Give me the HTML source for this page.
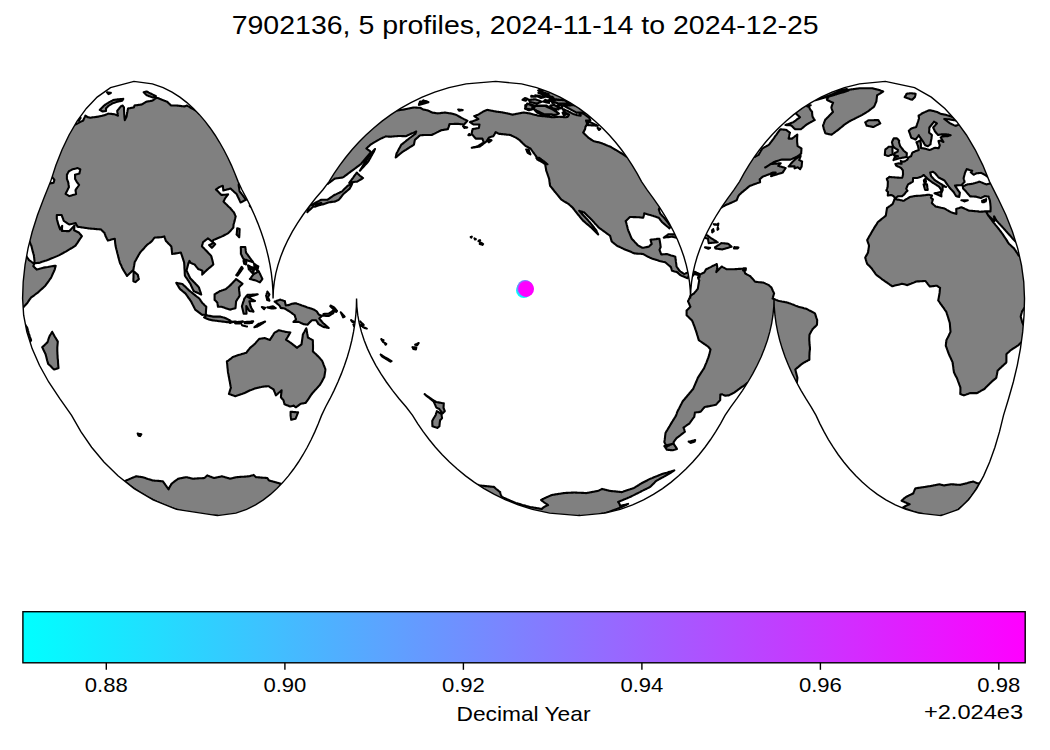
<!DOCTYPE html>
<html><head><meta charset="utf-8"><style>
html,body{margin:0;padding:0;background:#fff;width:1050px;height:750px;overflow:hidden}
svg{display:block}
text{font-family:"Liberation Sans",sans-serif;fill:#000}
</style></head><body>
<svg width="1050" height="750" viewBox="0 0 1050 750">
<defs><clipPath id="mc"><path d="M217.41 515.59L176.49 509.37L153.08 499.87L134.13 488.55L117.96 475.84L103.91 462.01L91.61 447.23L80.88 431.65L71.58 415.38L59.80 398.69L48.69 381.99L39.43 365.29L32.13 348.60L26.85 331.90L23.66 315.20L22.59 298.50L23.20 281.80L25.02 265.10L28.04 248.40L32.22 231.71L37.51 215.01L43.85 198.31L50.58 181.62L55.90 165.35L62.03 149.77L69.06 134.99L77.09 121.16L86.33 108.45L97.16 97.13L110.54 87.63L133.92 81.41L133.92 81.41L152.39 83.88L163.14 87.63L172.04 92.11L179.87 97.13L186.93 102.60L193.40 108.45L199.39 114.65L204.95 121.16L210.14 127.95L214.99 134.99L219.53 142.27L223.77 149.77L227.74 157.47L231.44 165.35L234.88 173.41L238.08 181.62L242.06 189.96L246.49 198.31L250.62 206.66L254.43 215.01L257.90 223.36L261.04 231.71L263.83 240.05L266.26 248.40L268.33 256.75L270.03 265.10L271.36 273.45L272.31 281.80L272.88 290.15L273.07 298.50L273.07 298.50L273.38 290.15L274.29 281.80L275.81 273.45L277.94 265.10L280.66 256.75L283.97 248.40L287.86 240.05L292.32 231.71L297.34 223.36L302.90 215.01L308.99 206.66L315.59 198.31L322.69 189.96L329.05 181.62L334.17 173.41L339.68 165.35L345.61 157.47L351.95 149.77L358.74 142.27L366.00 134.99L373.76 127.95L382.06 121.16L390.96 114.65L400.54 108.45L410.90 102.60L422.20 97.13L434.72 92.11L448.96 87.63L466.16 83.88L495.72 81.41L495.72 81.41L521.59 83.88L536.63 87.63L549.10 92.11L560.05 97.13L569.94 102.60L579.00 108.45L587.38 114.65L595.17 121.16L602.43 127.95L609.22 134.99L615.57 142.27L621.52 149.77L627.07 157.47L632.25 165.35L637.07 173.41L641.55 181.62L647.12 189.96L653.33 198.31L659.11 206.66L664.44 215.01L669.30 223.36L673.69 231.71L677.60 240.05L681.00 248.40L683.90 256.75L686.28 265.10L688.14 273.45L689.47 281.80L690.27 290.15L690.54 298.50L690.54 298.50L690.80 290.15L691.60 281.80L692.93 273.45L694.79 265.10L697.17 256.75L700.07 248.40L703.48 240.05L707.38 231.71L711.77 223.36L716.64 215.01L721.97 206.66L727.74 198.31L733.95 189.96L739.52 181.62L744.00 173.41L748.82 165.35L754.00 157.47L759.56 149.77L765.50 142.27L771.85 134.99L778.64 127.95L785.91 121.16L793.69 114.65L802.07 108.45L811.13 102.60L821.02 97.13L831.98 92.11L844.44 87.63L859.49 83.88L885.35 81.41L885.35 81.41L914.58 87.63L931.30 97.13L944.84 108.45L956.39 121.16L966.43 134.99L975.21 149.77L982.87 165.35L989.52 181.62L997.93 198.31L1005.87 215.01L1012.48 231.71L1017.70 248.40L1021.47 265.10L1023.75 281.80L1024.51 298.50L1024.05 315.20L1022.68 331.90L1020.42 348.60L1017.29 365.29L1013.32 381.99L1008.56 398.69L1003.51 415.38L999.53 431.65L994.93 447.23L989.66 462.01L983.64 475.84L976.71 488.55L968.59 499.87L958.55 509.37L941.02 515.59L941.02 515.59L918.84 513.12L905.94 509.37L895.26 504.89L885.87 499.87L877.40 494.40L869.63 488.55L862.45 482.35L855.77 475.84L849.55 469.05L843.73 462.01L838.28 454.73L833.19 447.23L828.43 439.53L823.99 431.65L819.85 423.59L816.02 415.38L811.24 407.04L805.92 398.69L800.97 390.34L796.40 381.99L792.23 373.64L788.47 365.29L785.12 356.95L782.20 348.60L779.72 340.25L777.68 331.90L776.09 323.55L774.94 315.20L774.26 306.85L774.03 298.50L774.03 298.50L773.76 306.85L772.96 315.20L771.63 323.55L769.77 331.90L767.39 340.25L764.49 348.60L761.09 356.95L757.19 365.29L752.80 373.64L747.93 381.99L742.60 390.34L736.82 398.69L730.61 407.04L725.04 415.38L720.57 423.59L715.74 431.65L710.56 439.53L705.01 447.23L699.07 454.73L692.72 462.01L685.93 469.05L678.66 475.84L670.87 482.35L662.49 488.55L653.43 494.40L643.54 499.87L632.59 504.89L620.13 509.37L605.08 513.12L579.21 515.59L579.21 515.59L549.65 513.12L532.45 509.37L518.21 504.89L505.69 499.87L494.39 494.40L484.03 488.55L474.46 482.35L465.56 475.84L457.25 469.05L449.49 462.01L442.23 454.73L435.44 447.23L429.10 439.53L423.18 431.65L417.66 423.59L412.55 415.38L406.18 407.04L399.09 398.69L392.48 390.34L386.39 381.99L380.83 373.64L375.81 365.29L371.35 356.95L367.46 348.60L364.15 340.25L361.43 331.90L359.31 323.55L357.78 315.20L356.87 306.85L356.56 298.50L356.56 298.50L356.37 306.85L355.80 315.20L354.85 323.55L353.52 331.90L351.82 340.25L349.75 348.60L347.32 356.95L344.53 365.29L341.40 373.64L337.92 381.99L334.11 390.34L329.99 398.69L325.55 407.04L321.57 415.38L318.38 423.59L314.93 431.65L311.23 439.53L307.26 447.23L303.02 454.73L298.48 462.01L293.63 469.05L288.44 475.84L282.88 482.35L276.90 488.55L270.42 494.40L263.36 499.87L255.54 504.89L246.63 509.37L235.89 513.12L217.41 515.59L217.41 515.59Z"/></clipPath><linearGradient id="cg" x1="0" x2="1" y1="0" y2="0"><stop offset="0" stop-color="#00ffff"/><stop offset="1" stop-color="#ff00ff"/></linearGradient></defs>
<rect width="1050" height="750" fill="#fff"/>
<g clip-path="url(#mc)">
<path fill="#808080" stroke="none" fill-rule="nonzero" d="M29.0 260.1L30.1 260.8L31.1 261.5L32.1 262.3L33.2 263.0L34.2 263.7L33.8 265.0L33.3 266.2L34.2 267.1L35.0 267.9L35.9 268.7L36.7 269.6L37.9 269.2L39.1 268.9L40.3 268.6L41.4 268.3L42.6 267.9L43.8 267.6L45.1 267.4L46.4 267.2L47.8 267.0L49.1 266.7L50.4 266.5L51.8 266.3L53.1 266.1L54.4 265.9L55.7 265.7L55.4 266.9L55.1 268.1L54.8 269.3L54.3 270.5L53.8 271.7L53.2 272.9L52.7 274.0L52.2 275.2L51.7 276.4L51.1 277.6L50.4 278.7L49.6 279.7L48.9 280.8L48.1 281.8L47.4 282.8L46.6 283.9L45.9 284.9L45.1 286.0L44.2 286.8L43.2 287.7L42.2 288.6L41.2 289.5L40.3 290.3L39.3 291.2L38.4 292.1L37.4 292.9L36.3 293.7L35.2 294.5L34.2 295.3L33.1 296.1L32.0 296.9L30.9 297.7L30.4 298.5L29.1 298.5L27.8 298.5L26.5 298.5L25.2 298.5L23.9 298.5L22.6 298.5L22.6 297.1L22.6 295.8L22.6 294.4L22.7 293.1L22.7 291.7L22.7 290.3L22.8 289.0L22.9 287.6L22.9 286.3L23.0 284.9L23.1 283.5L23.2 282.2L23.3 280.8L23.4 279.4L23.5 278.1L23.6 276.7L23.8 275.4L23.9 274.0L24.1 272.6L24.2 271.3L24.4 269.9L24.5 268.6L24.7 267.2L24.9 265.8L25.1 264.5L25.3 263.1L25.5 261.8L25.8 260.4L26.0 259.0L26.2 257.7L26.5 256.3L27.1 257.3L27.7 258.2L28.4 259.1L29.0 260.1ZM903.6 200.8L904.5 200.3L905.4 199.7L906.3 199.1L907.3 198.6L908.2 198.0L909.1 197.5L910.0 196.9L910.8 196.7L911.7 196.6L912.6 196.4L913.5 196.2L914.3 196.1L915.3 196.0L916.3 195.9L917.2 195.9L918.2 195.8L919.1 195.7L920.1 195.7L921.1 195.6L922.0 195.5L923.1 195.4L924.1 195.3L925.1 195.2L926.1 195.0L927.1 194.9L928.2 194.8L929.2 194.7L930.1 195.0L931.1 195.2L932.0 195.5L931.7 196.3L931.3 197.0L930.9 197.8L931.9 198.6L932.9 199.4L932.6 200.3L932.3 201.2L932.1 202.1L931.8 203.0L932.7 203.9L933.6 204.7L934.6 205.5L935.5 206.4L936.6 206.7L937.8 206.9L938.9 207.2L940.0 207.5L941.2 207.8L942.3 208.0L943.5 208.3L944.6 208.6L945.7 209.2L946.7 209.8L947.8 210.4L948.8 211.0L949.9 211.6L951.0 212.2L952.0 212.6L953.1 212.9L954.2 213.2L955.3 213.6L956.4 213.9L956.4 212.6L956.3 211.4L956.3 210.1L956.2 208.9L957.3 208.6L958.3 208.2L959.3 207.9L960.4 207.5L961.4 207.2L962.6 207.8L963.8 208.3L965.1 208.9L966.3 209.4L967.5 210.0L968.8 210.6L969.9 210.7L971.1 210.8L972.2 210.9L973.4 211.0L974.6 211.1L975.7 211.2L976.9 211.3L978.0 211.4L979.2 211.6L980.3 211.7L981.5 211.6L982.6 211.6L983.7 211.5L984.8 211.4L985.9 211.4L986.7 212.7L987.4 214.0L988.1 215.3L989.1 216.5L990.0 217.8L991.0 219.0L991.9 220.3L992.8 221.5L993.8 222.8L994.7 223.9L995.6 225.1L996.5 226.2L997.5 227.4L998.4 228.5L999.3 229.7L1000.2 230.8L1001.1 232.0L1001.9 233.2L1002.8 234.4L1003.6 235.6L1004.4 236.8L1005.2 238.0L1006.0 239.2L1006.8 240.4L1007.5 241.6L1008.3 242.8L1009.1 244.0L1010.1 244.8L1011.1 245.7L1012.0 246.6L1013.0 247.5L1014.0 248.4L1014.8 249.6L1015.6 250.7L1016.3 251.9L1017.1 253.0L1017.9 254.2L1018.6 255.4L1019.7 256.3L1020.0 257.7L1020.3 259.0L1020.6 260.4L1020.8 261.8L1021.1 263.1L1021.4 264.5L1021.6 265.8L1021.8 267.2L1022.1 268.6L1022.3 269.9L1022.5 271.3L1022.7 272.6L1022.9 274.0L1023.0 275.4L1023.2 276.7L1023.4 278.1L1023.5 279.4L1023.7 280.8L1023.8 282.2L1023.9 283.5L1024.0 284.9L1024.1 286.3L1024.2 287.6L1024.3 289.0L1024.3 290.3L1024.4 291.7L1024.4 293.1L1024.5 294.4L1024.5 295.8L1024.5 297.1L1024.5 298.5L1023.1 298.5L1021.7 298.5L1020.4 298.5L1019.0 298.5L1017.6 298.5L1016.2 298.5L1014.8 298.5L1013.4 298.5L1012.0 298.5L1010.7 298.5L1009.3 298.5L1007.9 298.5L1006.5 298.5L1005.1 298.5L1003.7 298.5L1002.3 298.5L1001.0 298.5L999.6 298.5L998.2 298.5L996.8 298.5L995.4 298.5L994.0 298.5L992.6 298.5L991.3 298.5L989.9 298.5L988.5 298.5L987.1 298.5L985.7 298.5L984.3 298.5L982.9 298.5L981.6 298.5L980.2 298.5L978.8 298.5L977.4 298.5L976.0 298.5L974.6 298.5L973.2 298.5L971.9 298.5L970.5 298.5L969.1 298.5L967.7 298.5L966.3 298.5L964.9 298.5L963.5 298.5L962.2 298.5L960.8 298.5L959.4 298.5L958.0 298.5L956.6 298.5L955.2 298.5L953.8 298.5L952.5 298.5L951.1 298.5L949.7 298.5L948.3 298.5L946.9 298.5L945.5 298.5L944.1 298.5L942.8 298.5L941.4 298.5L940.0 298.5L938.6 298.5L938.8 297.4L939.0 296.3L939.2 295.2L939.4 294.0L939.6 292.9L939.7 291.7L939.8 290.4L939.9 289.2L940.1 287.9L938.9 287.2L937.8 286.4L936.7 285.7L935.5 285.8L934.4 286.0L933.2 286.1L932.1 286.3L930.9 286.4L929.8 286.5L928.9 285.4L928.0 284.3L927.2 283.2L926.3 282.1L925.5 281.0L924.2 281.0L922.9 281.1L921.6 281.2L920.3 281.3L919.0 281.4L917.7 281.4L916.3 281.5L915.1 282.0L913.8 282.6L912.6 283.1L911.3 283.6L910.1 284.1L908.8 284.6L907.5 285.1L906.4 284.9L905.3 284.6L904.2 284.3L903.1 284.0L902.0 283.7L900.8 284.1L899.6 284.4L898.4 284.7L897.1 285.0L895.9 285.3L894.7 285.6L893.5 285.9L892.3 286.3L891.2 285.5L890.1 284.8L889.0 284.0L888.0 283.3L886.9 282.5L885.8 281.8L884.7 281.1L883.7 280.3L882.6 279.6L881.5 278.8L880.5 278.0L879.4 277.2L878.4 276.4L877.3 275.6L876.3 274.8L875.5 273.8L874.7 272.7L874.0 271.6L873.2 270.6L872.4 269.5L871.7 268.4L870.8 267.5L869.9 266.5L869.0 265.6L868.0 264.7L867.1 263.7L866.7 262.5L866.3 261.3L865.9 260.0L865.6 258.8L865.2 257.6L865.7 256.6L866.3 255.6L866.9 254.6L867.4 253.6L868.0 252.6L868.2 251.4L868.4 250.3L868.5 249.1L868.7 247.9L868.9 246.8L869.0 245.6L868.7 244.5L868.3 243.4L867.9 242.3L867.5 241.2L867.2 240.1L867.8 239.0L868.4 237.9L869.0 236.8L869.6 235.7L870.3 234.6L870.9 233.6L871.5 232.5L872.1 231.4L872.7 230.3L873.4 229.3L874.0 228.2L874.7 227.2L875.3 226.1L876.0 225.1L876.7 224.1L877.3 223.0L877.9 222.0L879.0 221.2L880.0 220.4L880.9 219.6L881.9 218.8L882.9 218.0L883.9 217.2L884.9 216.4L885.8 215.6L886.0 214.3L886.2 213.1L886.4 211.8L886.6 210.6L886.8 209.3L887.0 208.0L888.0 207.4L888.9 206.7L889.9 206.0L890.8 205.3L891.8 204.6L892.7 203.9L893.1 202.9L893.5 201.9L893.9 200.9L894.2 199.9L894.6 198.9L895.7 199.1L896.8 199.4L898.0 199.6L899.1 199.8L900.2 200.1L901.3 200.3L902.4 200.6L903.6 200.8ZM27.1 303.2L26.3 304.1L25.5 304.9L24.7 305.7L24.0 306.6L23.2 307.4L22.9 307.9L22.8 306.5L22.8 305.2L22.7 303.9L22.7 302.5L22.6 301.2L22.6 299.8L22.6 298.5L23.9 298.5L25.2 298.5L26.5 298.5L27.8 298.5L29.1 298.5L30.4 298.5L29.7 299.4L29.0 300.4L28.4 301.3L27.8 302.3L27.1 303.2ZM27.2 327.7L27.6 329.0L27.9 330.2L28.3 331.5L28.6 332.7L29.0 334.0L29.4 335.2L29.8 336.5L30.2 337.7L30.7 339.0L31.1 340.2L30.7 340.9L30.3 341.6L29.9 342.3L29.5 341.0L29.0 339.6L28.6 338.3L28.2 337.0L27.8 335.6L27.5 334.3L27.1 333.0L26.8 331.6L26.4 330.3L26.1 328.9L25.8 327.6L25.5 326.3L25.3 324.9L25.9 325.9L26.6 326.8L27.2 327.7ZM1022.0 311.6L1021.7 312.8L1021.3 314.1L1021.0 315.3L1020.7 316.6L1021.0 317.7L1021.3 318.8L1021.6 319.9L1021.9 321.0L1022.2 322.2L1022.6 323.1L1023.0 324.0L1023.4 324.9L1023.2 326.3L1023.1 327.6L1023.0 328.9L1022.9 330.3L1022.7 331.6L1022.6 333.0L1022.4 334.3L1022.3 335.6L1022.1 337.0L1021.9 338.3L1021.7 339.6L1021.6 341.0L1021.4 342.3L1020.3 343.3L1019.3 344.3L1018.3 345.3L1017.2 345.9L1016.2 346.6L1015.1 347.3L1014.1 348.0L1013.0 348.6L1012.0 349.3L1011.0 350.0L1010.0 350.8L1009.1 351.7L1008.2 352.5L1007.3 353.3L1006.4 354.2L1006.4 355.4L1006.4 356.5L1006.4 357.7L1006.4 358.9L1006.4 360.1L1006.4 361.3L1006.3 362.5L1005.4 363.4L1004.4 364.3L1003.4 365.2L1002.4 366.1L1001.5 367.0L1000.5 367.9L999.5 368.8L998.6 369.7L997.6 370.6L997.4 371.8L997.2 373.0L997.0 374.2L996.7 375.4L996.5 376.6L996.3 377.8L995.4 378.6L994.4 379.4L993.5 380.2L992.6 380.9L991.7 381.7L990.8 382.6L989.8 383.5L988.9 384.4L988.0 385.3L987.1 386.2L986.2 387.1L985.3 388.0L984.4 389.0L983.4 389.5L982.3 390.1L981.2 390.7L980.2 391.3L979.1 391.9L978.1 392.5L977.0 393.1L976.0 393.1L975.0 393.1L973.9 393.1L972.9 393.1L971.9 393.1L970.9 393.1L969.9 393.1L968.9 393.5L967.8 393.9L966.8 394.2L965.9 394.6L964.9 395.0L963.9 395.4L963.0 395.0L962.1 394.7L961.2 394.3L960.3 394.0L960.3 392.7L960.4 391.4L960.4 390.1L960.4 388.8L960.4 387.6L960.0 386.4L959.5 385.2L959.1 384.0L958.7 382.8L958.2 381.6L957.8 380.5L957.4 379.3L956.9 378.1L956.3 377.0L955.7 375.9L955.1 374.8L954.6 373.6L954.0 372.5L953.8 371.2L953.6 370.0L953.4 368.7L953.3 367.4L953.1 366.1L952.9 364.8L952.7 363.5L952.6 362.2L952.0 361.1L951.5 359.9L951.0 358.8L950.5 357.6L949.9 356.5L949.4 355.3L948.9 354.2L948.4 353.0L948.0 351.8L947.6 350.6L947.1 349.4L946.7 348.2L946.3 347.0L945.8 345.8L945.9 344.7L946.0 343.6L946.2 342.5L946.3 341.4L946.4 340.2L947.0 339.1L947.6 337.9L948.2 336.7L948.8 335.5L949.3 334.3L949.9 333.1L950.5 331.9L950.4 330.6L950.3 329.4L950.2 328.1L950.1 326.8L950.0 325.5L949.9 324.3L949.8 323.0L949.4 321.7L949.0 320.4L948.6 319.1L948.2 317.8L947.8 316.5L947.4 315.2L947.0 314.1L946.7 313.0L946.3 311.9L945.6 310.8L944.8 309.8L944.1 308.7L943.4 307.7L942.6 306.7L941.9 305.6L941.2 304.6L940.4 303.6L939.7 302.5L939.0 301.5L938.2 300.4L938.4 299.5L938.6 298.5L940.0 298.5L941.4 298.5L942.8 298.5L944.1 298.5L945.5 298.5L946.9 298.5L948.3 298.5L949.7 298.5L951.1 298.5L952.5 298.5L953.8 298.5L955.2 298.5L956.6 298.5L958.0 298.5L959.4 298.5L960.8 298.5L962.2 298.5L963.5 298.5L964.9 298.5L966.3 298.5L967.7 298.5L969.1 298.5L970.5 298.5L971.9 298.5L973.2 298.5L974.6 298.5L976.0 298.5L977.4 298.5L978.8 298.5L980.2 298.5L981.6 298.5L982.9 298.5L984.3 298.5L985.7 298.5L987.1 298.5L988.5 298.5L989.9 298.5L991.3 298.5L992.6 298.5L994.0 298.5L995.4 298.5L996.8 298.5L998.2 298.5L999.6 298.5L1001.0 298.5L1002.3 298.5L1003.7 298.5L1005.1 298.5L1006.5 298.5L1007.9 298.5L1009.3 298.5L1010.7 298.5L1012.0 298.5L1013.4 298.5L1014.8 298.5L1016.2 298.5L1017.6 298.5L1019.0 298.5L1020.4 298.5L1021.7 298.5L1023.1 298.5L1024.5 298.5L1024.5 299.8L1024.5 301.2L1024.5 302.5L1024.5 303.9L1024.4 305.2L1024.4 306.5L1024.4 307.9L1023.8 308.8L1023.2 309.7L1022.6 310.7L1022.0 311.6ZM80.6 117.9L80.0 118.8L79.4 119.8L78.8 120.7L78.4 120.6L78.0 120.5L77.5 120.5L78.3 119.4L79.0 118.3L79.7 117.2L80.0 117.4L80.3 117.6L80.6 117.9ZM75.9 124.3L76.8 123.8L77.7 123.3L78.6 122.9L79.5 122.4L80.5 121.9L81.4 121.4L82.3 121.0L83.2 120.5L83.6 119.5L84.0 118.6L84.5 117.6L85.0 116.7L85.4 115.7L85.8 116.0L86.2 116.2L86.6 116.5L87.0 116.7L87.4 117.0L87.8 117.2L88.3 117.3L88.8 117.4L89.3 117.5L89.8 117.6L90.3 117.7L91.0 117.6L91.6 117.5L92.3 117.4L93.0 117.3L93.6 117.3L94.3 117.2L94.9 117.1L95.6 117.0L96.2 116.9L96.9 116.9L97.5 116.8L98.2 116.6L98.9 116.5L99.6 116.3L100.3 116.2L100.9 116.0L101.6 115.9L102.3 115.7L102.9 115.5L103.6 115.4L104.3 115.2L104.9 115.1L105.6 114.8L106.2 114.5L106.9 114.2L107.5 113.9L108.1 113.6L108.7 113.7L109.2 113.7L109.8 113.8L110.4 113.8L111.0 113.9L111.5 113.9L112.1 114.0L112.7 114.1L113.2 114.1L113.8 114.2L114.4 114.2L114.9 114.4L115.4 114.7L115.9 114.9L116.4 115.1L116.9 115.3L117.5 115.5L118.0 115.7L117.8 114.9L117.7 114.1L117.5 113.3L117.4 112.5L117.3 111.7L117.2 110.9L117.8 110.1L118.4 109.4L119.0 108.7L119.6 107.9L120.2 107.2L120.7 106.5L121.2 106.2L121.7 106.0L122.2 105.7L122.7 105.5L123.0 106.0L123.3 106.5L123.6 107.0L124.0 107.5L124.0 108.3L124.0 109.2L124.0 110.1L124.1 111.1L124.1 112.0L124.2 112.9L124.2 113.8L124.3 114.8L124.4 115.7L124.4 116.6L124.5 117.4L124.6 118.3L124.7 119.2L124.8 120.1L125.2 119.2L125.7 118.4L126.1 117.6L126.5 116.8L126.7 115.8L126.8 114.9L127.0 113.9L127.2 113.0L127.3 112.1L127.5 111.2L127.6 110.3L127.8 109.4L128.0 108.5L128.5 108.4L129.1 108.3L129.6 108.2L130.2 108.1L130.7 108.0L131.2 107.9L131.8 107.8L132.3 107.7L132.8 107.6L133.4 107.5L133.9 107.5L134.1 106.8L134.3 106.1L134.5 105.5L135.0 105.4L135.5 105.3L136.0 105.3L136.6 105.2L137.1 105.1L137.6 105.1L138.1 105.0L138.6 104.9L139.1 104.9L139.6 104.8L140.1 104.7L140.6 104.6L141.1 104.6L141.6 104.5L142.1 104.2L142.6 104.0L143.0 103.7L143.4 103.5L143.9 103.2L144.3 102.9L144.7 102.7L145.1 102.4L145.6 102.2L146.0 101.9L146.4 101.7L146.8 101.6L147.3 101.5L147.7 101.4L148.2 101.4L148.6 101.3L149.1 101.2L149.5 101.2L150.0 101.1L150.4 101.0L150.9 100.9L151.3 100.9L151.7 100.8L152.2 100.7L152.5 100.5L152.9 100.3L153.2 100.1L153.6 99.8L153.9 99.6L154.2 99.4L154.5 99.2L154.8 99.0L155.2 98.7L155.5 98.5L155.8 98.3L156.0 98.1L156.3 97.9L156.6 97.7L157.2 97.9L157.8 98.1L158.4 98.3L159.0 98.5L159.6 98.8L160.2 99.0L160.8 99.2L161.4 99.4L162.0 99.7L162.6 99.9L163.3 100.2L163.9 100.4L164.5 100.7L165.2 100.9L165.8 101.2L166.5 101.4L167.1 101.7L167.9 102.4L168.7 103.2L169.5 103.9L170.3 104.7L171.1 105.5L171.6 105.5L172.2 105.5L172.8 105.5L173.3 105.5L173.9 105.5L174.5 105.5L175.0 105.5L175.6 105.5L176.2 105.5L176.7 105.5L177.3 105.6L177.9 105.6L178.5 105.7L179.1 105.8L179.6 105.9L180.2 105.9L180.8 106.0L181.4 106.1L182.0 106.2L182.6 106.2L183.2 106.3L183.8 106.4L184.4 106.5L184.8 106.3L185.1 106.2L185.5 106.0L185.8 105.9L186.2 105.8L186.5 105.6L186.9 105.5L187.9 106.1L189.0 106.7L190.0 107.3L191.1 108.0L192.2 108.6L193.3 109.2L194.4 109.8L195.4 110.5L196.4 111.5L197.4 112.5L198.4 113.6L199.4 114.6L200.3 115.7L201.2 116.7L202.2 117.8L203.1 118.9L204.0 120.0L204.9 121.1L205.8 122.2L206.6 123.3L207.5 124.4L208.4 125.6L209.2 126.7L210.1 127.8L210.9 129.0L211.7 130.1L212.5 131.3L213.3 132.5L214.1 133.6L214.9 134.8L215.6 136.0L216.4 137.2L217.2 138.4L217.9 139.6L218.7 140.8L219.4 142.0L220.1 143.3L220.8 144.5L221.5 145.7L222.2 147.0L222.9 148.2L223.6 149.5L224.3 150.7L225.0 152.0L225.6 153.3L226.3 154.6L226.9 155.8L227.6 157.1L228.2 158.4L228.8 159.7L229.4 161.0L230.1 162.3L230.7 163.6L231.3 164.9L231.8 166.3L232.4 167.6L233.0 168.9L233.6 170.3L234.1 171.6L234.7 172.9L235.2 174.3L235.8 175.6L236.3 177.0L236.8 178.4L237.4 179.7L237.9 181.1L238.4 182.5L238.9 183.8L238.7 184.4L238.7 185.6L238.9 186.7L239.1 187.9L239.3 189.0L239.4 190.2L239.6 191.4L240.5 192.5L241.4 193.7L242.4 194.9L243.3 196.1L244.2 197.3L245.1 198.5L246.1 199.7L245.3 200.1L244.5 200.5L243.7 200.9L243.0 201.3L242.2 201.7L241.4 202.1L240.6 202.5L239.9 201.1L239.3 199.7L238.6 198.3L237.9 196.9L237.3 195.5L236.6 194.1L235.4 193.0L234.2 191.9L233.0 190.8L231.8 189.7L230.6 188.6L229.7 188.8L228.8 189.1L227.8 189.3L226.9 189.5L226.0 189.8L225.1 190.0L224.2 190.3L223.3 190.5L223.2 189.3L223.1 188.2L222.9 187.0L222.8 185.8L222.1 186.1L221.4 186.3L220.6 186.6L219.9 186.9L219.2 187.2L218.5 187.6L217.9 188.1L217.2 188.5L216.5 189.0L215.9 189.4L217.0 190.5L218.1 191.6L219.2 192.7L220.4 193.9L221.5 195.0L222.4 194.9L223.4 194.8L224.3 194.7L225.3 194.7L226.2 194.6L227.2 194.5L228.1 194.4L227.6 195.1L227.1 195.7L226.6 196.4L226.1 197.0L225.6 197.7L225.1 198.3L224.7 199.1L224.3 200.0L223.9 200.8L223.5 201.6L224.6 202.7L225.7 203.8L226.8 204.8L227.9 205.9L229.0 207.0L230.2 208.0L231.1 209.2L232.1 210.3L233.0 211.4L234.0 212.5L234.5 213.8L235.1 215.1L235.7 216.4L235.4 217.4L235.2 218.5L234.9 219.5L234.7 220.6L234.4 221.6L234.1 222.7L233.8 223.7L233.5 224.7L233.5 225.7L233.4 226.6L233.4 227.5L232.7 228.3L232.0 229.1L231.3 229.9L230.6 230.7L229.8 231.5L229.1 232.3L228.3 233.1L227.4 233.6L226.5 234.1L225.6 234.5L224.7 235.0L223.8 235.5L222.9 236.0L222.0 236.4L220.9 236.9L219.8 237.3L218.7 237.8L217.6 238.2L216.5 238.7L215.4 239.2L214.3 239.6L213.2 240.1L213.0 241.0L212.7 242.0L211.8 241.3L210.8 240.6L209.8 239.8L208.9 239.1L207.9 238.4L207.0 239.1L206.0 239.8L205.0 240.6L204.1 241.3L203.1 242.0L202.8 243.0L202.5 244.1L202.2 245.1L201.9 246.2L202.8 247.2L203.8 248.1L204.7 249.1L205.6 250.1L206.6 251.0L207.5 252.0L208.4 253.0L209.4 254.0L210.3 254.9L211.2 255.9L211.5 257.2L211.9 258.4L212.2 259.6L212.5 260.8L212.8 262.1L213.1 263.3L213.3 264.5L212.3 265.4L211.3 266.2L210.3 267.1L209.3 267.9L208.3 268.7L207.3 269.6L206.4 270.4L205.6 271.2L204.7 272.1L203.9 272.9L203.0 273.7L202.2 274.6L202.3 273.3L202.3 272.0L202.4 270.7L201.4 270.3L200.3 269.8L199.3 269.4L198.2 269.0L197.3 267.9L196.4 266.8L195.5 265.7L194.6 264.5L193.6 264.1L192.6 263.7L191.6 263.3L190.6 262.9L190.0 261.9L189.4 260.9L189.0 261.9L188.6 262.8L188.3 263.7L188.0 264.9L187.7 266.0L187.4 267.2L187.1 268.3L186.8 269.5L186.5 270.7L187.2 271.9L187.8 273.2L188.4 274.4L189.0 275.7L189.6 276.9L190.2 278.2L191.2 279.2L192.2 280.2L193.1 281.2L194.1 282.3L195.1 283.3L196.0 284.3L197.0 285.3L197.9 286.3L198.9 287.4L199.3 288.6L199.7 289.8L200.1 291.0L200.5 292.2L200.9 293.4L201.2 294.6L200.0 294.0L198.7 293.4L197.5 292.8L196.2 292.2L194.9 291.6L193.7 291.0L193.1 289.7L192.5 288.5L191.9 287.2L191.3 286.0L190.8 284.7L190.2 283.5L189.4 282.4L188.7 281.2L187.9 280.1L187.2 279.0L186.4 277.9L185.6 276.8L184.9 275.7L184.8 274.3L184.7 273.0L184.7 271.7L184.6 270.3L184.5 269.0L184.4 267.7L184.4 266.3L184.3 265.0L184.2 263.7L184.1 262.3L183.7 261.1L183.3 259.9L182.9 258.7L182.5 257.4L182.1 256.2L181.7 255.0L181.3 253.8L180.9 252.6L179.6 252.8L178.4 253.0L177.2 253.2L175.9 253.4L174.7 253.6L173.4 253.8L172.2 254.0L172.0 252.7L171.9 251.5L171.8 250.2L171.6 249.0L171.5 247.7L171.3 246.5L170.4 245.5L169.5 244.6L168.6 243.7L167.7 242.7L166.8 241.8L165.9 240.9L165.5 239.8L165.1 238.7L164.7 237.6L164.3 236.4L163.2 236.7L162.1 237.0L161.0 237.3L159.9 237.3L158.9 237.4L157.8 237.4L156.7 237.5L155.6 237.5L154.6 237.6L153.8 238.5L153.1 239.5L152.4 240.5L151.6 241.4L150.7 242.1L149.8 242.8L148.9 243.5L148.0 244.1L147.0 244.8L146.2 245.8L145.3 246.7L144.5 247.7L143.6 248.7L142.7 249.7L141.8 250.6L140.9 251.6L140.1 252.6L139.4 253.8L138.7 254.9L138.1 256.1L137.4 257.3L136.7 258.5L136.1 259.7L135.4 260.9L134.7 262.0L134.5 263.3L134.3 264.6L134.1 265.9L133.8 267.2L133.6 268.5L133.4 269.8L132.5 270.7L131.6 271.6L130.7 272.5L129.8 273.3L128.8 274.2L127.9 275.1L127.0 276.0L126.3 274.8L125.7 273.7L125.0 272.6L124.3 271.5L123.6 270.4L123.0 269.3L122.4 268.2L121.9 267.1L121.4 265.9L120.9 264.8L120.3 263.7L119.8 262.6L119.5 261.3L119.1 260.0L118.8 258.7L118.4 257.4L118.1 256.1L117.8 254.8L117.4 253.5L117.1 252.2L116.8 250.8L116.4 249.5L116.1 248.2L115.8 246.9L115.5 245.6L115.4 244.5L115.2 243.3L115.1 242.1L115.0 241.0L114.9 239.8L114.8 238.7L113.6 239.0L112.5 239.3L111.3 239.6L110.2 240.0L109.0 240.3L107.9 240.6L107.3 239.5L106.7 238.4L106.2 237.3L105.6 236.2L105.3 235.1L104.9 234.1L104.6 233.1L103.7 232.2L102.8 231.3L101.9 230.4L101.1 229.5L99.9 229.4L98.8 229.3L97.7 229.2L96.5 229.1L95.4 229.0L94.3 228.9L93.1 228.8L92.0 228.7L90.9 228.6L89.7 228.5L88.6 228.4L87.5 228.2L86.4 228.0L85.3 227.9L84.2 227.7L83.0 227.5L81.9 227.4L80.8 227.2L79.7 227.0L78.6 226.9L77.5 226.7L77.1 225.8L76.6 224.9L76.1 224.0L75.7 223.1L74.6 223.3L73.5 223.5L72.5 223.8L71.4 224.0L70.3 224.2L69.2 224.5L68.3 223.9L67.4 223.3L66.5 222.7L65.6 222.1L64.7 221.5L63.8 220.9L63.4 219.9L63.1 218.9L62.7 217.9L62.3 217.0L62.0 216.0L61.6 215.0L60.4 215.0L59.2 215.0L58.0 215.0L56.8 215.0L56.8 216.1L56.8 217.1L56.8 218.1L56.9 219.2L57.2 220.3L57.5 221.4L57.8 222.5L58.1 223.6L58.4 224.7L58.8 225.7L59.1 226.6L59.4 227.6L59.8 228.5L60.1 229.5L60.8 228.3L61.5 227.1L62.2 225.9L62.1 227.1L62.0 228.4L61.9 229.6L61.9 230.9L63.1 230.9L64.3 231.0L65.5 231.0L66.7 231.1L68.0 231.1L69.2 231.1L70.1 230.2L71.0 229.3L71.8 228.4L72.7 227.4L73.6 226.5L74.5 225.6L74.4 226.8L74.3 227.9L74.2 229.1L74.1 230.3L75.1 230.8L76.1 231.3L77.1 231.8L78.1 232.3L79.1 232.8L79.8 233.7L80.5 234.5L81.2 235.3L81.9 236.2L81.1 237.3L80.3 238.5L79.5 239.7L78.7 240.9L77.9 242.1L77.1 243.3L76.3 244.4L75.5 245.6L74.4 246.3L73.2 247.1L72.1 247.8L70.9 248.5L69.8 249.2L68.6 249.9L67.4 250.6L66.3 251.3L65.2 251.9L64.0 252.5L62.9 253.2L61.7 253.8L60.6 254.4L59.4 255.1L58.2 255.6L57.1 256.1L55.9 256.6L54.7 257.1L53.5 257.6L52.4 258.1L51.2 258.5L50.0 259.0L48.9 259.5L47.6 260.0L46.4 260.4L45.1 260.8L43.9 261.2L42.7 261.6L41.4 262.0L40.2 262.5L38.9 262.9L37.9 262.9L36.9 263.0L35.8 263.1L34.8 263.2L34.6 261.9L34.5 260.6L34.3 259.3L34.2 258.0L34.0 256.7L33.9 255.4L33.5 254.1L33.2 252.9L32.8 251.7L32.5 250.5L32.2 249.3L31.9 248.1L31.6 246.8L31.3 245.6L30.8 244.7L30.4 243.7L30.0 242.7L29.6 241.8L29.9 240.4L30.3 239.0L30.6 237.6L31.0 236.2L31.4 234.8L31.7 233.4L32.1 232.0L32.5 230.7L32.9 229.3L33.3 227.9L33.8 226.5L34.2 225.1L34.6 223.7L35.1 222.3L35.5 220.9L36.0 219.5L36.4 218.2L36.9 216.8L37.4 215.4L37.9 214.0L38.4 212.6L38.9 211.2L39.4 209.8L39.9 208.4L40.4 207.1L40.9 205.7L41.5 204.3L42.0 202.9L42.6 201.5L43.1 200.1L43.7 198.7L44.3 197.3L44.8 196.0L45.4 194.6L46.0 193.2L46.6 191.8L47.2 190.4L47.8 189.0L48.4 187.6L49.1 186.2L49.6 184.9L50.0 183.5L50.9 183.3L51.8 183.1L52.7 182.9L53.6 182.7L54.0 181.3L54.4 180.0L53.8 179.2L53.2 178.4L52.6 177.6L52.1 176.8L52.5 175.4L52.9 174.1L53.4 172.7L53.8 171.4L54.3 170.1L54.7 168.7L55.2 167.4L55.6 166.1L56.1 164.8L56.6 163.5L57.1 162.2L57.5 160.9L58.0 159.6L58.5 158.3L59.0 157.0L59.5 155.7L60.1 154.5L60.6 153.2L61.1 151.9L61.6 150.7L62.2 149.4L62.7 148.2L63.3 146.9L63.8 145.7L64.4 144.5L65.0 143.3L65.5 142.0L66.1 140.8L66.7 139.6L67.3 138.4L67.9 137.2L68.5 136.0L69.1 134.9L69.8 133.7L70.4 132.5L71.0 131.4L71.7 130.2L72.3 129.0L73.0 127.9L73.6 126.8L74.3 125.6L75.0 124.5L75.4 124.4L75.9 124.3ZM405.3 109.3L406.0 109.1L406.8 108.9L407.6 108.8L408.4 108.6L409.2 108.4L410.0 108.3L410.8 108.1L411.6 107.9L412.3 107.8L413.1 107.6L413.9 107.5L414.4 107.5L414.9 107.5L415.4 107.5L415.9 107.6L416.4 107.6L416.9 107.6L417.4 107.7L417.9 107.7L418.4 107.7L418.9 107.8L419.4 107.8L419.9 107.8L420.4 107.9L420.7 108.0L421.0 108.2L421.2 108.4L421.5 108.6L421.8 108.7L422.2 108.9L422.5 109.1L422.8 109.3L423.1 109.5L423.5 109.6L424.0 109.6L424.4 109.7L424.9 109.8L425.3 109.9L425.8 110.0L426.2 110.1L426.7 110.2L427.1 110.3L427.6 110.4L428.0 110.5L428.4 110.7L428.8 110.9L429.1 111.0L429.5 111.2L429.9 111.4L430.2 111.6L430.6 111.8L431.0 112.0L431.4 112.2L431.8 112.4L432.2 112.6L432.7 112.6L433.2 112.7L433.7 112.8L434.2 112.9L434.7 112.9L435.3 113.0L435.8 113.1L436.3 113.2L436.8 113.2L437.3 113.3L437.8 113.4L438.5 113.3L439.1 113.2L439.8 113.2L440.4 113.1L441.1 113.0L441.7 112.9L442.3 112.9L443.0 112.8L443.6 112.7L444.3 112.6L444.9 112.6L445.4 112.6L446.0 112.7L446.5 112.8L447.0 112.9L447.5 113.0L448.1 113.0L448.6 113.1L449.2 113.2L449.7 113.3L450.2 113.4L450.8 113.4L451.3 113.5L451.9 113.6L452.3 113.7L452.8 113.9L453.3 114.0L453.8 114.2L454.3 114.3L454.8 114.4L455.3 114.6L455.8 114.7L456.3 114.9L456.8 115.1L457.2 115.4L457.7 115.7L458.2 116.0L458.6 116.2L459.1 116.5L459.6 116.8L460.1 117.0L460.6 117.3L461.1 117.6L461.6 117.9L462.1 118.1L462.6 118.4L463.1 118.6L463.6 118.9L464.2 119.2L464.7 119.4L465.3 119.7L465.8 119.9L466.3 120.2L466.9 120.5L467.4 120.7L466.8 121.5L466.1 122.2L465.4 123.0L464.7 123.8L464.0 124.5L463.4 124.5L462.8 124.4L462.1 124.3L461.5 124.3L460.8 124.2L460.2 124.1L459.6 124.0L458.9 124.0L458.3 123.9L457.7 123.8L457.0 123.9L456.3 123.9L455.6 123.9L455.0 123.9L454.3 123.9L453.6 124.0L452.9 124.0L452.2 124.0L451.6 124.0L450.9 124.0L450.2 124.1L449.5 124.1L449.2 125.1L448.9 126.1L448.6 127.1L448.2 128.1L447.9 129.1L447.2 129.2L446.5 129.4L445.7 129.5L445.0 129.6L444.2 129.8L443.5 129.9L442.7 130.0L442.0 130.1L441.2 130.3L440.3 130.7L439.3 131.2L438.4 131.7L437.4 132.1L436.5 132.6L435.5 133.1L434.6 133.6L433.6 134.0L432.6 134.5L431.7 135.0L430.9 135.0L430.0 135.0L429.2 135.0L428.4 135.0L427.6 135.0L426.8 135.0L426.0 135.0L425.2 135.0L424.4 135.0L423.7 135.0L423.0 135.1L422.3 135.1L421.6 135.2L420.9 135.2L420.2 135.2L419.1 136.1L418.1 137.1L417.0 138.0L416.0 138.9L415.0 139.8L414.7 140.8L414.5 141.8L414.3 142.8L414.1 143.8L413.9 144.7L412.9 145.4L411.9 146.0L410.9 146.6L409.9 147.2L408.9 147.9L407.9 148.5L406.9 149.1L405.9 149.8L404.9 150.4L403.9 151.0L402.9 151.7L402.0 152.3L400.9 153.2L399.9 154.0L398.8 154.9L397.8 155.7L396.8 156.6L395.7 157.5L395.9 156.5L396.1 155.5L396.3 154.6L396.5 153.6L397.1 152.5L397.7 151.4L398.3 150.2L398.9 149.1L399.5 148.0L400.1 146.9L400.7 145.8L401.3 144.7L402.4 143.9L403.4 143.1L404.4 142.3L405.4 141.5L406.4 140.6L407.4 139.8L408.4 139.1L409.4 138.3L410.4 137.5L411.4 136.8L412.4 136.0L413.4 135.3L414.4 134.5L415.4 133.8L415.7 133.0L416.0 132.2L416.2 131.4L415.2 131.9L414.2 132.4L413.1 132.9L412.1 133.3L411.0 133.8L410.0 134.3L408.9 134.8L407.8 135.2L406.8 135.7L405.7 136.2L404.9 136.2L404.2 136.1L403.4 136.1L402.7 136.1L402.0 136.1L401.2 136.0L400.5 136.0L399.7 136.0L399.0 136.0L398.2 136.0L397.3 136.1L396.5 136.2L395.6 136.2L394.8 136.3L393.9 136.4L393.1 136.5L392.2 136.5L391.4 136.6L390.6 136.7L389.9 136.6L389.2 136.6L388.5 136.6L387.9 136.5L387.2 136.5L386.5 136.5L385.8 136.4L384.8 136.9L383.8 137.3L382.7 137.7L381.7 138.2L380.7 138.6L379.4 139.4L378.1 140.1L376.8 140.9L375.5 141.7L374.2 142.4L372.9 143.2L371.7 144.0L370.4 144.7L369.4 145.7L368.4 146.6L367.4 147.6L366.4 148.5L366.9 148.9L367.4 149.2L367.9 149.6L368.4 150.0L368.9 150.3L369.4 150.7L369.9 151.0L370.2 151.5L370.5 151.9L370.8 152.3L369.8 153.5L368.8 154.6L367.8 155.8L366.8 157.0L365.8 158.1L364.8 159.3L363.9 160.5L362.9 161.7L361.9 162.8L361.0 164.0L359.8 164.9L358.6 165.8L357.4 166.7L356.2 167.6L355.0 168.5L353.8 169.4L352.5 170.3L351.3 171.2L350.1 172.1L348.9 173.0L347.7 173.9L346.5 174.8L345.3 175.7L344.1 176.6L342.8 177.5L341.8 177.6L340.8 177.8L339.8 177.9L338.8 178.0L337.8 178.2L336.8 178.3L335.8 178.5L334.8 178.6L333.6 179.5L332.5 180.3L331.3 181.2L330.1 182.1L328.9 183.0L327.8 183.8L328.6 182.5L329.4 181.1L330.2 179.7L331.0 178.4L331.9 177.0L332.7 175.6L333.6 174.3L334.5 172.9L335.4 171.6L336.3 170.3L337.2 168.9L338.1 167.6L339.0 166.3L340.0 164.9L340.9 163.6L341.9 162.3L342.9 161.0L343.9 159.7L344.9 158.4L345.9 157.1L346.9 155.8L347.9 154.6L349.0 153.3L350.0 152.0L351.1 150.7L352.2 149.5L353.3 148.2L354.4 147.0L355.5 145.7L356.7 144.5L357.8 143.3L359.0 142.0L360.1 140.8L361.3 139.6L362.5 138.4L363.7 137.2L364.9 136.0L366.2 134.8L367.4 133.6L368.7 132.5L370.0 131.3L371.3 130.1L372.6 129.0L373.9 127.8L375.2 126.7L376.6 125.6L378.0 124.4L379.3 123.3L380.7 122.2L382.2 121.1L383.6 120.0L385.0 118.9L386.5 117.8L388.0 116.7L389.5 115.7L391.0 114.6L392.5 113.6L394.1 112.5L395.7 111.5L397.3 110.5L398.0 110.4L398.7 110.3L399.5 110.1L400.2 110.0L400.9 109.9L401.6 109.8L402.4 109.7L403.1 109.6L403.8 109.5L404.5 109.4L405.3 109.3ZM893.6 196.1L892.8 195.7L891.9 195.3L891.1 195.0L890.3 195.1L889.5 195.2L888.6 195.4L887.8 195.5L887.9 194.3L887.9 193.1L888.0 191.9L887.2 191.2L886.4 190.5L886.8 189.5L887.1 188.6L887.4 187.6L887.7 186.6L887.7 185.4L887.8 184.1L887.8 182.9L887.9 181.6L887.5 180.7L887.1 179.8L886.8 178.9L887.7 178.2L888.6 177.6L889.4 176.9L890.3 177.0L891.2 177.1L892.1 177.2L893.0 177.3L893.8 177.3L894.7 177.4L895.6 177.5L896.6 177.5L897.5 177.6L898.4 177.6L899.4 177.7L900.3 177.7L901.3 177.7L902.2 177.8L902.5 176.8L902.7 175.8L903.0 174.8L903.0 173.7L903.0 172.6L902.9 171.5L902.9 170.4L902.2 169.5L901.5 168.6L900.7 167.8L899.8 167.3L898.9 166.9L897.9 166.5L897.0 166.0L896.1 165.6L895.8 164.8L895.4 164.0L896.3 163.8L897.2 163.6L898.0 163.4L898.9 163.2L899.8 163.4L900.7 163.6L901.6 163.8L901.3 162.8L901.1 161.8L900.8 160.9L901.5 161.3L902.2 161.7L903.0 161.6L903.9 161.5L904.7 161.4L905.4 160.9L906.0 160.5L906.7 160.0L907.4 159.6L907.8 158.8L908.3 158.0L908.8 157.2L909.5 156.9L910.3 156.5L911.1 156.2L911.4 155.3L911.7 154.4L912.1 153.5L912.4 152.6L913.1 152.3L913.8 152.0L914.5 151.7L915.2 151.3L916.0 151.0L916.7 150.8L917.4 150.5L918.1 150.3L918.8 150.0L918.6 149.0L918.4 148.0L918.2 147.0L918.0 146.0L917.6 145.1L917.3 144.1L916.9 143.2L916.5 142.3L917.1 142.0L917.8 141.7L918.4 141.4L919.0 141.1L919.6 140.8L920.2 140.6L920.4 141.5L920.6 142.4L920.8 143.3L920.9 144.3L920.9 145.2L920.9 146.1L920.9 147.1L920.9 148.0L921.7 148.1L922.4 148.3L923.2 148.4L924.0 148.5L924.8 148.6L925.5 148.8L926.3 149.0L927.1 149.3L927.9 149.5L928.7 149.8L929.4 150.0L930.2 149.7L930.9 149.5L931.6 149.2L932.3 148.9L933.0 148.6L933.7 148.3L934.4 148.0L935.1 147.8L935.9 147.9L936.8 148.0L937.7 148.1L938.6 148.3L938.9 147.6L939.2 146.9L939.5 146.2L939.8 145.5L939.5 144.4L939.1 143.3L938.8 142.2L938.5 141.0L939.2 140.9L939.8 140.7L940.5 140.6L941.2 140.9L942.0 141.3L942.7 141.7L943.5 142.0L942.8 140.9L942.1 139.7L941.4 138.5L940.7 137.4L941.3 137.1L941.9 136.8L942.4 136.4L943.2 136.4L943.9 136.4L944.6 136.3L945.4 136.3L946.1 136.3L946.8 136.2L947.6 136.2L948.2 136.0L948.8 135.8L949.4 135.6L950.0 135.4L950.7 135.2L949.9 135.0L949.1 134.8L948.3 134.5L947.6 134.5L946.9 134.5L946.2 134.4L945.4 134.4L944.7 134.4L944.0 134.4L943.2 134.3L942.5 134.3L941.8 134.3L941.2 134.4L940.5 134.5L939.9 134.6L939.3 134.8L938.7 134.9L938.1 135.0L937.3 134.1L936.5 133.2L935.7 132.3L934.9 131.4L934.5 130.4L934.1 129.5L933.6 128.5L933.2 127.5L933.6 127.0L934.0 126.6L934.5 126.1L934.9 125.7L935.3 125.2L935.7 124.7L936.1 124.3L936.5 123.8L936.9 123.4L936.2 122.9L935.5 122.5L934.8 122.1L934.0 121.6L933.7 122.1L933.3 122.6L932.9 123.1L932.6 123.5L932.2 124.0L931.8 124.5L931.4 125.0L931.0 125.5L930.6 126.0L930.2 126.5L929.8 127.0L929.4 127.5L929.3 128.3L929.3 129.2L929.3 130.0L929.2 130.9L929.1 131.8L929.1 132.6L929.8 133.2L930.5 133.8L931.2 134.4L931.9 135.0L931.8 135.8L931.7 136.6L931.6 137.4L931.5 138.4L931.3 139.3L931.1 140.3L930.9 141.3L930.7 142.3L930.6 143.3L930.5 144.3L929.8 144.7L929.2 145.2L928.6 145.7L927.9 146.2L927.0 145.9L926.1 145.6L925.2 145.2L924.6 144.3L924.1 143.4L923.5 142.4L923.0 141.5L922.4 140.6L921.8 139.8L921.2 139.0L920.6 138.2L920.1 137.4L919.4 136.3L918.8 135.2L918.4 135.8L917.9 136.5L917.5 137.1L917.0 137.7L916.5 138.3L916.1 139.0L915.6 139.6L914.8 139.3L914.1 138.9L913.4 138.6L912.6 138.3L911.9 138.0L911.2 137.6L910.9 136.7L910.6 135.8L910.3 134.9L910.0 134.0L909.6 132.9L909.2 131.8L908.8 130.7L909.3 130.3L909.9 129.8L910.4 129.3L910.9 128.9L911.4 128.4L912.1 128.2L912.8 128.0L913.5 127.8L914.1 127.6L914.8 127.4L915.5 127.2L916.2 127.0L916.5 126.2L916.7 125.4L917.0 124.6L917.2 123.8L917.5 123.1L917.7 122.3L918.0 121.6L918.2 120.9L918.4 120.3L918.6 119.6L918.8 119.0L919.0 118.3L918.9 117.4L918.7 116.6L918.6 115.7L919.0 115.4L919.5 115.1L919.9 114.9L920.3 114.6L920.8 114.3L921.2 114.0L921.6 113.7L922.0 113.5L922.4 113.2L922.9 113.0L923.4 112.8L923.9 112.6L924.3 112.3L924.8 112.1L925.3 111.9L925.7 111.7L926.2 111.5L926.7 111.3L927.1 111.1L927.5 110.9L928.0 110.8L928.4 110.6L928.8 110.4L929.3 110.3L929.9 110.4L930.5 110.4L931.1 110.5L931.7 110.6L932.3 110.7L932.9 110.9L933.6 111.0L934.3 111.2L934.9 111.4L935.6 111.6L936.3 111.7L937.0 111.9L937.8 112.3L938.7 112.8L939.5 113.2L940.4 113.6L941.3 114.0L942.0 114.1L942.7 114.3L943.5 114.4L944.2 114.5L944.9 114.6L945.7 114.7L946.4 114.9L947.2 115.2L948.1 115.4L948.9 115.7L949.7 116.0L950.6 116.3L951.4 116.6L952.2 116.9L953.1 117.2L954.0 118.3L954.9 119.4L955.8 120.5L955.1 120.3L954.4 120.2L953.7 120.1L952.9 120.0L952.2 119.9L951.5 119.7L950.8 119.6L950.1 119.5L949.4 119.4L948.7 119.3L948.1 119.3L947.4 119.2L946.8 119.2L946.1 119.1L945.5 119.1L944.8 119.0L944.2 119.0L945.2 119.7L946.2 120.4L947.2 121.2L948.1 121.9L949.1 122.6L950.1 123.4L951.0 123.8L951.9 124.2L952.8 124.6L953.7 125.1L954.7 125.5L955.6 125.9L956.1 125.7L956.6 125.5L957.1 125.3L957.6 125.1L958.1 124.9L958.5 124.7L959.0 124.5L959.9 125.6L960.7 126.8L961.5 127.9L962.4 129.0L963.2 130.2L964.0 131.4L964.8 132.5L965.6 133.7L966.3 134.9L967.1 136.0L967.9 137.2L968.6 138.4L969.4 139.6L970.1 140.8L970.8 142.0L971.5 143.3L972.3 144.5L973.0 145.7L973.7 146.9L974.3 148.2L975.0 149.4L975.7 150.7L976.4 151.9L977.0 153.2L977.7 154.5L978.3 155.7L979.0 157.0L979.6 158.3L980.2 159.6L980.8 160.9L981.4 162.2L982.0 163.5L982.6 164.8L983.2 166.1L983.8 167.4L984.4 168.7L984.9 170.1L985.5 171.4L986.0 172.7L986.6 174.1L987.1 175.4L987.7 176.8L986.7 176.1L985.8 175.4L984.8 174.8L983.9 174.3L982.9 173.8L982.0 173.3L981.1 172.9L980.3 173.0L979.5 173.0L978.6 173.1L977.8 173.2L977.0 173.3L976.2 173.4L975.6 173.7L975.0 174.1L974.3 174.4L973.7 174.8L972.7 174.0L971.8 173.1L970.8 172.3L971.3 171.8L971.7 171.2L972.2 170.7L971.3 170.4L970.4 170.2L969.4 169.9L968.5 169.6L967.6 169.4L966.7 169.1L966.3 170.0L965.9 170.8L965.5 171.7L965.1 172.6L964.8 173.5L964.6 174.5L964.3 175.4L964.1 176.4L963.8 177.4L963.6 178.3L963.9 179.5L964.3 180.7L964.6 181.9L963.9 182.6L963.3 183.2L962.6 183.9L962.0 184.6L961.3 185.2L960.4 185.3L959.5 185.3L958.6 185.3L957.6 185.4L956.7 185.4L955.8 185.5L954.9 185.5L955.6 186.6L956.3 187.7L957.1 188.8L957.8 190.0L958.5 190.9L959.2 191.8L959.9 192.7L959.7 193.8L959.6 194.8L959.4 195.9L959.2 196.9L958.1 196.6L957.1 196.4L956.0 196.1L955.3 194.8L954.5 193.5L953.8 192.2L952.9 191.2L952.0 190.2L951.0 189.3L950.1 188.3L949.4 187.3L948.6 186.3L947.9 185.4L947.2 184.4L946.5 183.4L945.8 182.5L945.2 181.5L944.5 180.5L943.5 180.0L942.6 179.5L941.6 179.0L940.6 178.5L939.7 178.0L938.7 177.5L937.9 176.6L937.1 175.6L936.3 174.7L935.5 173.8L934.7 172.9L933.7 172.3L932.7 171.8L931.9 172.1L931.1 172.3L930.2 172.6L930.5 173.8L930.8 174.9L931.1 176.1L931.8 176.9L932.6 177.8L933.4 178.6L934.1 179.4L934.9 180.2L935.9 180.8L936.9 181.5L937.9 182.1L938.8 182.7L939.8 183.3L940.8 183.9L941.8 184.5L942.8 185.1L943.9 185.7L944.9 186.3L946.0 186.9L945.2 186.7L944.3 186.5L943.4 186.3L942.6 186.1L942.6 187.4L942.6 188.7L942.7 190.0L942.3 190.9L941.9 191.8L941.5 192.7L941.3 191.6L941.2 190.5L941.0 189.4L940.4 188.6L939.8 187.7L939.2 186.9L938.3 186.2L937.3 185.6L936.4 184.9L935.4 184.3L934.4 183.7L933.4 183.1L932.4 182.5L931.4 181.7L930.5 181.0L929.5 180.3L928.6 179.6L927.6 178.9L926.9 178.1L926.1 177.3L925.3 176.6L924.5 175.8L923.8 175.0L923.1 175.4L922.5 175.9L921.8 176.3L921.1 176.7L920.3 176.9L919.5 177.2L918.7 177.5L917.8 177.8L917.0 178.0L916.0 178.0L915.1 178.0L914.1 178.0L913.1 178.0L913.0 179.2L912.9 180.4L912.9 181.6L912.1 182.1L911.3 182.5L910.5 183.0L909.7 183.5L908.9 183.9L908.1 184.4L907.6 185.4L907.1 186.5L906.7 187.5L906.2 188.6L906.8 189.7L907.5 190.8L906.8 191.4L906.1 191.9L905.4 192.8L904.7 193.8L903.9 194.7L903.3 195.2L902.7 195.6L902.1 196.1L901.0 196.2L900.0 196.2L898.9 196.3L897.8 196.4L897.0 197.0L896.1 197.7L895.3 198.3L894.7 197.6L894.1 196.8L893.6 196.1ZM1012.8 238.7L1011.8 237.6L1010.8 236.4L1009.8 235.3L1008.8 234.2L1007.8 233.1L1006.8 232.0L1005.8 230.9L1004.8 229.7L1003.8 228.6L1002.7 227.4L1001.7 226.3L1000.6 225.1L999.6 224.0L998.5 222.9L997.5 221.7L996.4 220.6L995.9 219.5L995.3 218.5L994.7 217.4L994.1 216.4L994.2 217.6L994.3 218.8L994.4 219.9L994.4 221.1L993.4 220.2L992.3 219.2L991.3 218.2L990.2 217.2L989.2 216.3L988.1 215.3L987.4 214.0L986.7 212.7L985.9 211.4L987.1 211.4L988.2 211.4L989.3 211.4L990.5 211.4L990.5 210.3L990.6 209.3L990.6 208.3L990.6 207.2L990.5 206.0L990.4 204.8L990.3 203.5L990.1 202.3L990.0 201.1L989.7 200.0L989.3 198.9L988.9 197.8L988.6 196.6L987.6 196.5L986.7 196.4L985.7 196.2L984.7 196.1L984.0 196.5L983.2 196.9L982.5 197.3L981.7 197.6L980.9 198.0L979.9 197.8L978.9 197.5L977.9 197.2L976.9 196.9L975.8 196.6L974.9 196.6L973.9 196.5L973.0 196.5L972.0 196.5L971.1 196.4L970.1 196.4L969.1 195.2L968.1 194.0L967.1 192.8L966.1 191.6L965.1 190.6L964.1 189.6L963.1 188.6L963.0 187.5L962.8 186.3L963.6 186.0L964.3 185.7L965.1 185.4L965.8 185.0L966.6 184.7L967.4 184.4L968.2 184.3L969.1 184.2L969.9 184.1L970.8 184.0L971.6 183.9L972.5 183.8L973.3 183.6L974.2 183.3L975.1 183.0L975.9 182.7L976.8 182.5L977.6 182.2L978.5 181.9L979.3 181.6L980.3 182.0L981.3 182.4L982.3 182.8L983.3 183.2L984.3 183.6L985.3 184.0L986.3 184.4L987.1 184.2L987.9 184.0L988.7 183.8L989.4 183.7L990.2 183.5L990.7 184.9L991.4 186.2L992.2 187.6L993.0 189.0L993.7 190.4L994.5 191.8L995.2 193.2L996.0 194.6L996.7 196.0L997.4 197.3L998.1 198.7L998.9 200.1L999.6 201.5L1000.2 202.9L1000.9 204.3L1001.6 205.7L1002.2 207.1L1002.9 208.4L1003.5 209.8L1004.2 211.2L1004.8 212.6L1005.4 214.0L1006.0 215.4L1006.6 216.8L1007.2 218.2L1007.8 219.5L1008.4 220.9L1008.9 222.3L1009.5 223.7L1010.0 225.1L1010.6 226.5L1011.1 227.9L1011.6 229.3L1012.1 230.7L1012.6 232.0L1013.1 233.4L1013.6 234.8L1014.0 236.2L1014.5 237.6L1014.9 239.0L1015.4 240.4L1015.8 241.8L1014.8 240.7L1013.8 239.7L1012.8 238.7ZM658.8 209.4L659.2 210.5L659.5 211.5L659.9 212.6L660.2 213.6L661.3 214.8L662.4 216.0L663.5 217.1L664.6 218.3L665.6 219.5L666.6 220.8L667.6 222.1L668.6 223.5L669.6 224.8L670.6 226.1L670.2 226.9L669.8 227.6L669.5 228.4L668.2 227.3L666.9 226.2L665.7 225.2L664.4 224.1L663.1 223.0L661.9 222.0L661.1 220.9L660.3 219.9L659.6 218.8L658.8 217.8L657.6 217.4L656.4 217.0L655.2 216.6L654.0 216.2L652.9 215.8L651.6 215.5L650.4 215.1L649.2 214.8L647.9 214.4L646.7 214.1L645.5 213.7L644.2 213.3L644.1 214.2L643.9 215.1L643.7 216.0L643.4 216.9L643.2 217.8L642.2 217.7L641.1 217.5L640.1 217.4L639.1 217.2L637.9 217.2L636.8 217.2L635.6 217.1L634.5 217.1L633.4 217.1L632.2 217.0L631.1 217.0L629.9 217.0L629.2 217.7L628.6 218.3L627.9 219.0L627.1 219.7L626.4 220.4L625.7 221.1L626.1 222.4L626.5 223.8L626.8 225.1L627.2 226.4L627.5 227.7L627.8 229.0L628.2 230.3L628.7 231.5L629.2 232.7L629.7 233.9L630.2 235.1L630.7 236.3L631.2 237.5L631.7 238.7L632.7 239.7L633.7 240.8L634.7 241.9L635.7 242.9L636.7 244.0L637.6 245.1L638.8 245.8L640.0 246.5L641.3 247.2L642.5 247.8L643.5 247.7L644.5 247.5L645.6 247.3L646.6 247.1L647.7 246.9L648.7 246.7L649.5 246.0L650.2 245.3L651.0 244.6L651.7 244.0L651.4 242.9L651.1 241.9L650.8 240.8L650.5 239.8L651.6 239.6L652.7 239.5L653.8 239.4L654.9 239.2L656.0 239.1L657.2 238.9L658.3 238.8L659.4 238.7L659.6 239.9L659.8 241.0L660.0 242.2L660.2 243.4L660.4 244.6L660.5 245.8L660.7 247.0L660.3 247.9L659.9 248.9L659.5 249.8L659.9 251.0L660.4 252.2L660.8 253.3L661.2 254.5L662.4 254.4L663.5 254.3L664.7 254.2L665.8 254.1L666.9 254.0L668.3 254.4L669.7 254.9L671.1 255.4L672.5 255.8L673.9 256.3L675.3 256.8L675.4 257.7L675.5 258.6L675.6 259.5L675.8 260.7L675.9 261.9L676.1 263.0L676.3 264.2L676.4 265.3L676.5 266.5L677.2 267.5L678.0 268.6L678.7 269.6L679.4 270.7L680.5 271.5L681.7 272.3L682.9 273.2L684.1 274.0L685.1 273.6L686.0 273.2L687.0 272.8L687.9 272.3L688.2 273.6L688.4 274.8L688.6 276.1L688.1 277.1L687.6 278.2L686.4 277.7L685.3 277.3L684.2 276.8L683.1 276.3L681.9 275.9L680.8 275.4L679.8 274.6L678.8 273.7L677.9 272.9L676.9 272.1L675.7 271.7L674.4 271.4L673.2 271.0L672.0 270.7L671.6 269.5L671.3 268.3L670.9 267.1L669.8 266.1L668.7 265.2L667.5 264.2L666.4 263.3L665.2 262.3L664.1 262.0L662.9 261.8L661.7 261.5L660.6 261.2L659.4 260.9L658.2 260.5L656.9 260.1L655.7 259.7L654.4 259.3L653.2 258.9L651.9 258.5L650.7 258.1L649.4 257.4L648.1 256.8L646.8 256.1L645.5 255.4L644.2 254.7L642.9 254.0L641.7 253.9L640.5 253.8L639.4 253.7L638.2 253.7L637.0 253.6L635.9 253.5L634.7 253.4L633.4 252.9L632.1 252.4L630.8 251.8L629.5 251.3L628.2 250.8L626.9 250.3L625.6 249.8L624.3 249.2L623.1 248.6L621.8 248.0L620.5 247.4L619.3 246.8L618.0 246.2L616.8 245.6L615.8 244.8L614.8 244.0L613.7 243.1L612.7 242.3L611.7 241.4L611.3 240.1L610.9 238.7L610.5 237.3L610.1 235.9L609.0 235.0L607.8 234.2L606.7 233.4L605.6 232.5L604.4 231.7L603.3 230.9L602.1 230.0L601.0 229.2L599.8 228.4L598.7 227.5L597.8 226.5L596.8 225.4L595.9 224.4L594.9 223.4L594.0 222.3L593.0 221.3L592.1 220.2L591.1 219.2L590.1 218.2L589.1 217.2L588.0 216.2L587.0 215.2L586.0 214.2L585.0 213.2L584.0 212.2L582.8 211.9L581.6 211.5L580.4 211.2L579.2 210.8L580.3 211.9L581.3 213.1L582.3 214.2L583.3 215.3L584.4 216.4L585.4 217.5L586.4 218.6L587.5 219.7L588.5 220.9L589.5 222.0L590.5 223.2L591.5 224.4L592.4 225.5L593.4 226.7L594.3 227.9L595.3 229.1L596.3 230.3L596.7 231.4L597.2 232.4L597.7 233.4L598.2 234.5L597.2 233.5L596.2 232.5L595.2 231.5L594.2 230.5L593.2 229.5L592.2 228.5L591.2 227.5L590.1 226.7L589.1 225.8L588.1 224.9L587.1 224.1L586.0 223.2L585.0 222.3L584.0 221.4L583.0 220.6L582.0 219.4L581.1 218.3L580.1 217.1L579.2 215.9L578.2 214.8L577.3 213.6L576.5 212.6L575.7 211.6L574.9 210.6L574.1 209.5L573.3 208.5L572.5 207.5L571.5 206.6L570.5 205.7L569.4 204.8L568.4 203.9L567.2 203.2L566.1 202.5L564.9 201.8L563.7 201.1L562.6 200.4L561.4 199.7L560.5 198.6L559.7 197.6L558.8 196.5L557.9 195.4L557.1 194.4L556.2 193.3L555.3 192.2L554.4 191.2L553.6 190.1L552.7 189.0L551.8 187.9L551.0 186.9L550.1 185.8L549.9 184.6L549.7 183.5L549.6 182.3L549.4 181.2L549.3 180.0L549.1 178.9L548.7 177.7L548.3 176.5L547.9 175.4L547.5 174.2L547.1 173.0L546.7 171.9L546.2 170.7L546.1 169.6L545.9 168.5L545.7 167.4L545.5 166.2L545.3 165.1L545.1 164.0L544.2 163.3L543.3 162.6L542.4 161.8L541.5 161.1L540.6 160.4L539.7 159.6L538.8 158.9L537.9 158.2L537.0 157.5L536.3 156.5L535.5 155.5L534.8 154.5L534.1 153.5L533.3 152.5L532.6 151.5L531.9 150.5L531.2 149.5L530.5 148.5L529.7 148.1L528.8 147.7L528.0 147.2L527.2 146.8L526.4 146.4L525.6 146.0L524.8 145.2L524.0 144.4L523.2 143.7L522.4 142.9L521.6 142.1L520.8 141.4L520.0 140.6L519.3 139.8L518.5 139.3L517.8 138.8L517.0 138.4L516.3 137.9L515.5 137.4L514.8 137.1L514.0 136.7L513.3 136.4L512.5 136.0L511.8 135.7L511.0 135.3L510.3 135.0L509.6 134.9L508.9 134.8L508.1 134.8L507.4 134.7L506.7 134.6L505.9 134.5L505.2 134.4L504.5 134.4L503.8 134.3L503.1 134.2L502.4 134.1L501.7 134.1L501.0 134.0L500.3 133.9L499.6 133.9L498.9 133.8L498.3 133.5L497.6 133.1L497.0 132.8L496.4 132.5L495.7 132.1L495.2 132.9L494.8 133.8L494.3 134.6L493.8 135.4L493.3 136.2L492.6 136.4L491.9 136.6L491.2 136.8L490.5 137.0L489.8 137.2L489.1 137.4L488.6 138.2L488.0 139.0L487.5 139.9L486.9 140.7L486.4 141.5L485.6 142.1L484.9 142.6L484.2 143.2L483.5 143.7L482.8 144.3L482.1 144.8L481.3 145.4L480.6 145.9L479.9 146.5L479.1 146.6L478.3 146.7L477.4 146.9L476.6 147.0L475.8 147.1L475.0 147.2L474.2 147.4L473.4 147.5L472.6 147.6L471.8 147.8L472.6 147.5L473.4 147.3L474.2 147.1L475.0 146.9L475.8 146.7L476.6 146.4L477.4 146.2L478.2 146.0L479.0 145.5L479.8 144.9L480.6 144.4L481.4 143.9L482.2 143.3L483.0 142.8L483.7 142.3L483.4 141.4L483.0 140.4L482.7 139.5L482.4 138.6L481.5 138.6L480.7 138.6L479.9 138.6L479.0 138.6L478.2 138.6L477.4 138.6L476.5 138.6L475.7 138.6L475.2 138.0L474.7 137.4L474.1 136.8L473.6 136.2L473.1 135.6L472.6 135.0L472.1 134.4L471.6 133.8L471.9 132.6L472.1 131.4L472.4 130.3L472.6 129.1L473.3 129.0L474.0 128.8L474.7 128.7L475.4 128.6L476.1 128.5L476.8 128.3L477.6 128.2L478.3 128.1L478.9 127.9L479.1 126.8L479.3 125.7L479.5 124.5L478.8 124.5L478.0 124.5L477.3 124.5L476.6 124.5L475.8 124.5L475.1 124.5L474.4 124.5L473.6 124.5L473.1 124.2L472.5 123.8L472.0 123.5L471.5 123.1L470.9 122.8L470.4 122.4L469.9 122.1L470.6 121.8L471.3 121.6L472.0 121.4L472.7 121.2L473.4 120.9L474.0 120.7L474.7 120.5L475.4 120.3L476.1 120.1L476.7 119.8L477.3 119.5L477.8 119.2L478.4 119.0L477.9 118.6L477.4 118.3L476.8 117.9L476.3 117.5L475.8 117.2L475.3 116.8L474.8 116.5L474.3 116.1L475.0 115.9L475.6 115.6L476.2 115.4L476.8 115.1L477.4 114.9L478.0 114.7L478.7 114.3L479.4 113.9L480.0 113.5L480.7 113.1L481.3 112.7L482.0 112.3L482.6 111.9L483.2 111.5L483.8 111.3L484.4 111.0L485.0 110.8L485.6 110.6L486.2 110.3L486.8 110.1L487.4 109.9L488.0 110.0L488.5 110.1L489.0 110.2L489.6 110.3L490.1 110.4L490.7 110.5L491.2 110.6L491.8 110.7L492.3 110.8L492.9 110.9L493.5 111.1L494.0 111.2L494.6 111.3L495.2 111.4L495.7 111.5L496.3 111.6L496.9 111.7L497.4 111.7L498.0 111.8L498.6 111.9L499.2 112.0L499.7 112.0L500.3 112.1L500.9 112.2L501.5 112.3L502.1 112.3L502.6 112.5L503.2 112.6L503.8 112.7L504.4 112.8L504.9 112.9L505.5 113.0L506.1 113.2L506.7 113.3L507.3 113.4L507.9 113.5L508.5 113.7L509.1 113.8L509.7 113.9L510.3 114.1L510.9 114.2L511.5 114.4L512.1 114.5L512.7 114.7L513.3 114.5L513.8 114.4L514.4 114.3L514.9 114.2L515.5 114.1L516.0 113.9L516.6 113.8L517.1 113.7L517.7 113.6L518.2 113.5L518.8 113.4L519.3 113.3L519.9 113.2L520.4 113.1L521.0 113.0L521.5 112.9L522.0 112.8L522.6 112.7L523.1 112.6L523.7 112.6L524.3 112.6L524.9 112.7L525.5 112.8L526.2 112.9L526.8 113.0L527.4 113.1L528.0 113.2L528.7 113.3L529.3 113.4L529.9 113.5L530.6 113.6L531.2 113.8L531.9 114.0L532.6 114.2L533.3 114.4L534.0 114.6L534.7 114.7L535.4 114.9L536.1 115.1L536.8 115.3L537.5 115.5L538.2 115.7L538.9 115.8L539.5 115.8L540.1 115.9L540.8 116.0L541.4 116.0L542.1 116.1L542.7 116.1L543.4 116.2L544.0 116.2L544.6 116.3L545.3 116.4L546.0 116.4L546.6 116.5L547.3 116.6L547.9 116.7L548.6 116.8L549.3 116.8L549.9 116.9L550.6 117.0L551.3 117.1L552.0 117.1L552.6 117.2L553.2 117.2L553.8 117.1L554.4 117.1L555.0 117.1L555.6 117.0L556.1 117.0L556.7 116.9L557.3 116.9L557.9 116.9L558.5 116.8L559.0 116.8L559.7 116.8L560.3 116.9L561.0 116.9L561.6 116.9L562.3 117.0L562.9 117.0L563.6 117.1L564.2 117.1L564.9 117.1L565.5 117.2L566.2 117.2L566.6 117.1L567.0 117.0L567.4 116.9L567.8 116.8L568.0 116.4L568.2 116.1L568.5 115.7L568.7 115.4L568.9 115.0L569.0 114.7L568.0 114.0L567.0 113.4L565.9 112.8L564.9 112.1L563.9 111.5L563.6 110.8L563.4 110.2L563.1 109.5L562.8 108.9L563.8 109.3L564.7 109.7L565.6 110.1L566.6 110.5L567.6 110.9L568.8 111.6L570.0 112.2L571.2 112.9L572.5 113.6L573.3 113.9L574.2 114.2L575.0 114.5L575.9 114.8L576.7 115.1L577.4 115.2L578.1 115.3L578.7 115.4L579.4 115.5L580.1 115.6L580.7 115.7L580.5 115.1L580.2 114.5L579.8 113.9L579.5 113.3L579.2 112.8L580.0 113.0L580.8 113.2L581.6 113.4L582.4 113.6L583.2 113.8L584.0 114.0L585.3 115.0L586.6 115.9L588.0 116.9L589.3 117.9L589.6 118.6L589.9 119.3L590.2 120.0L590.4 120.7L589.8 120.7L589.1 120.7L588.5 120.6L587.9 120.6L587.2 120.6L586.6 120.5L586.0 120.5L586.2 121.2L586.5 121.8L586.7 122.5L586.9 123.2L587.2 123.8L586.9 124.3L586.7 124.7L586.5 125.1L586.2 125.5L586.0 126.0L585.7 126.4L585.4 126.8L585.4 127.4L585.3 127.9L585.2 128.5L585.1 129.1L584.8 129.6L584.6 130.1L584.3 130.6L584.0 131.1L583.8 131.6L583.5 132.1L583.2 132.6L584.3 133.7L585.3 134.7L586.4 135.8L587.5 136.8L588.6 137.9L589.8 138.7L591.0 139.5L592.1 140.2L593.3 141.0L594.2 141.3L595.1 141.5L596.0 141.7L596.9 141.9L597.8 142.1L598.7 142.3L599.6 142.6L600.5 142.8L601.6 143.2L602.7 143.6L603.8 144.1L604.9 144.5L606.0 145.0L607.1 145.4L608.2 145.9L609.3 146.3L610.4 146.7L611.5 147.4L612.7 148.1L613.9 148.8L615.0 149.5L616.2 150.2L617.4 150.9L618.6 151.6L619.8 152.3L620.9 153.0L622.0 153.7L623.1 154.4L624.2 155.1L625.3 155.8L626.4 156.5L627.3 157.8L628.2 159.1L629.0 160.4L629.9 161.7L630.7 162.9L631.5 164.2L632.4 165.5L633.2 166.9L634.0 168.2L634.8 169.5L635.6 170.8L636.3 172.1L637.1 173.5L637.9 174.8L638.6 176.1L639.3 177.5L640.1 178.8L640.8 180.2L641.5 181.5L642.2 182.9L642.9 184.2L643.7 185.6L644.8 187.0L645.9 188.3L646.9 189.7L648.0 191.1L649.0 192.4L650.0 193.8L651.0 195.2L652.0 196.5L653.0 197.9L654.0 199.3L655.0 200.6L655.9 202.0L656.9 203.4L657.8 204.7L658.7 206.1L659.6 207.5L659.4 208.1L659.1 208.8L658.8 209.4ZM694.6 271.8L695.7 272.3L696.7 272.8L697.8 273.3L698.9 273.8L699.9 274.3L699.8 275.3L699.6 276.3L699.4 277.3L699.0 276.5L698.6 275.7L698.2 274.8L697.2 274.6L696.2 274.4L695.2 274.2L694.2 274.0L693.3 275.1L692.5 276.1L692.7 274.8L692.9 273.6L693.2 272.3L693.9 272.1L694.6 271.8ZM754.7 157.0L755.7 156.4L756.7 155.9L757.6 155.4L758.6 154.9L759.2 153.8L759.8 152.7L760.4 151.7L761.0 150.6L761.7 149.6L762.3 148.5L763.4 147.9L764.6 147.2L765.7 146.6L766.8 146.0L767.9 145.4L769.0 144.7L769.8 143.7L770.5 142.7L771.3 141.7L772.1 140.6L772.8 139.6L773.6 138.6L774.3 137.6L774.9 136.7L775.6 135.7L776.3 134.8L777.0 133.8L777.8 132.7L778.6 131.6L779.5 130.4L780.3 129.3L781.0 129.4L781.6 129.4L782.2 129.5L782.9 129.5L783.5 129.6L784.2 129.6L784.8 129.7L785.4 129.8L786.1 129.8L786.5 130.1L786.9 130.4L787.3 130.7L787.8 131.1L788.2 131.4L788.6 131.7L789.1 132.0L789.5 132.3L790.0 132.6L789.7 133.5L789.5 134.3L789.3 135.2L789.1 136.0L789.0 136.9L788.8 137.7L788.6 138.6L789.5 138.6L790.3 138.6L791.1 138.6L792.0 138.6L793.0 137.8L794.1 137.0L795.2 136.1L796.3 135.3L797.3 134.5L797.3 135.3L797.2 136.1L797.2 136.9L797.1 137.8L797.1 138.6L797.1 139.4L797.1 140.2L797.1 141.0L797.1 141.9L797.2 142.7L797.3 143.5L797.4 144.3L797.5 145.2L797.6 146.0L798.1 146.4L798.7 146.7L799.3 147.1L799.8 147.4L800.4 147.8L801.0 148.1L801.5 148.5L801.4 149.5L801.4 150.5L801.3 151.5L801.2 152.6L801.2 153.6L800.3 154.2L799.5 154.9L798.6 155.5L797.8 156.2L796.7 156.7L795.7 157.1L794.7 157.6L793.6 158.1L792.6 158.6L791.6 159.1L790.5 159.6L789.6 159.6L788.6 159.6L787.7 159.6L786.7 159.6L785.8 159.6L784.8 159.6L783.9 159.6L782.9 159.6L782.0 159.6L781.0 159.8L780.0 160.1L779.0 160.4L778.0 160.7L777.0 161.0L776.0 161.3L775.1 161.6L774.1 161.9L773.0 162.6L771.9 163.3L770.8 164.0L769.7 164.7L768.6 165.4L767.4 166.1L766.3 166.8L765.2 167.5L766.4 166.8L767.5 166.1L768.7 165.4L769.8 164.7L771.0 164.0L772.0 163.9L772.9 163.9L773.9 163.8L774.9 163.7L775.8 163.6L776.8 163.6L777.8 163.5L778.7 163.4L779.7 163.3L780.7 163.2L779.9 164.1L779.0 165.0L778.2 165.9L779.0 166.1L779.9 166.4L780.7 166.6L781.5 166.8L782.3 167.1L783.2 167.3L784.0 167.5L784.8 167.8L785.7 168.0L784.9 169.2L784.2 170.3L783.4 171.4L782.7 172.6L781.7 172.9L780.7 173.2L779.7 173.5L778.7 173.8L777.7 174.1L776.7 174.5L775.7 174.8L774.8 175.0L773.9 175.3L772.9 175.6L772.0 175.9L771.0 176.1L772.2 175.2L773.4 174.4L774.5 173.5L775.7 172.6L774.7 172.6L773.6 172.6L772.6 172.6L771.8 173.0L770.9 173.5L770.0 174.0L769.0 174.3L767.9 174.7L766.8 175.1L765.8 175.5L764.7 175.9L763.7 176.3L762.6 176.7L761.6 177.6L760.7 178.5L759.7 179.4L759.8 180.3L760.0 181.3L760.1 182.2L759.3 182.5L758.5 182.7L757.6 183.0L756.6 183.4L755.5 183.8L754.4 184.2L753.3 184.6L752.3 185.0L751.1 185.4L749.9 185.8L748.5 186.9L747.1 188.1L745.7 189.3L744.3 190.4L742.9 191.6L741.5 192.7L740.5 193.7L739.6 194.6L738.7 195.5L738.1 196.7L737.6 197.9L737.1 199.1L736.6 200.3L735.3 200.9L734.0 201.5L732.6 202.1L731.3 202.7L730.0 203.3L728.7 203.9L727.5 204.3L726.4 204.8L725.2 205.3L724.0 206.0L722.7 206.7L721.4 207.5L722.3 206.1L723.3 204.7L724.2 203.4L725.1 202.0L726.1 200.6L727.1 199.3L728.0 197.9L729.0 196.5L730.0 195.2L731.0 193.8L732.1 192.4L733.1 191.1L734.1 189.7L735.2 188.3L736.3 187.0L737.4 185.6L738.2 184.2L738.9 182.9L739.6 181.5L740.3 180.2L741.0 178.8L741.7 177.5L742.5 176.1L743.2 174.8L744.0 173.5L744.7 172.1L745.5 170.8L746.3 169.5L747.1 168.2L747.9 166.9L748.7 165.5L749.5 164.2L750.4 162.9L751.2 161.7L752.0 160.4L752.9 159.1L753.8 157.8L754.7 156.5L754.7 157.0ZM877.1 95.2L877.0 96.1L876.9 96.9L876.8 97.8L876.7 98.6L876.6 99.5L876.5 100.4L876.4 101.3L876.1 102.0L875.8 102.8L875.4 103.5L875.1 104.3L874.8 105.1L874.4 105.9L874.1 106.7L873.5 107.1L872.9 107.6L872.3 108.0L871.7 108.5L871.1 109.0L870.5 109.4L869.9 109.9L869.3 110.4L868.7 110.8L868.0 111.3L867.4 111.7L866.7 112.1L866.0 112.6L865.4 113.0L864.7 113.4L864.0 113.8L863.3 114.2L862.6 114.7L861.9 115.1L861.2 115.4L860.6 115.7L859.9 116.1L859.2 116.4L858.5 116.7L857.9 117.1L857.2 117.4L856.5 117.7L855.8 118.1L855.0 118.5L854.3 118.9L853.5 119.2L852.8 119.6L852.0 120.0L851.2 120.4L850.5 120.8L849.7 121.2L849.0 121.6L848.2 122.1L847.5 122.6L846.7 123.1L845.9 123.6L845.2 124.1L844.3 124.7L843.5 125.4L842.7 126.1L841.8 126.8L841.0 127.5L840.1 128.2L839.3 128.9L838.4 129.6L837.5 130.3L836.7 130.9L835.8 131.5L835.0 132.2L834.1 132.8L833.2 133.5L832.3 134.1L831.5 134.8L830.8 134.6L830.1 134.4L829.4 134.3L828.7 134.1L828.1 134.0L827.4 133.8L826.7 133.6L826.0 133.5L825.4 133.3L825.1 132.6L824.9 131.9L824.6 131.2L824.4 130.5L824.2 129.8L823.9 129.1L823.7 128.4L823.6 127.7L823.4 127.0L823.2 126.3L823.0 125.7L823.4 124.6L823.8 123.6L824.1 122.6L824.5 121.6L824.9 120.6L825.3 119.6L826.3 118.7L827.2 117.8L828.1 116.9L829.0 116.0L829.9 115.1L830.7 114.3L831.4 113.5L832.2 112.7L833.0 111.9L832.8 111.5L832.6 111.1L832.4 110.7L832.3 110.3L832.1 109.9L832.0 109.5L831.8 109.1L831.7 108.7L831.6 108.3L831.5 107.9L831.4 107.5L831.5 106.9L831.7 106.3L831.9 105.7L832.1 105.1L832.3 104.5L832.6 103.9L832.8 103.4L833.1 102.8L832.7 102.6L832.4 102.5L832.1 102.4L831.8 102.2L831.4 102.1L831.1 101.9L830.8 101.8L830.5 101.6L830.2 101.5L829.9 101.4L829.6 101.2L829.3 101.1L829.0 100.9L828.8 100.8L828.5 100.6L828.2 100.5L827.9 100.4L827.7 100.2L827.4 100.1L827.1 99.9L826.9 99.8L827.0 99.4L827.2 99.0L827.4 98.6L827.7 98.2L827.9 97.9L828.1 97.5L828.4 97.1L828.7 96.7L829.0 96.3L829.3 96.0L829.6 95.6L829.9 95.2L831.2 94.7L832.5 94.2L833.8 93.6L835.1 93.1L836.4 92.6L837.7 92.1L838.4 92.0L839.0 91.8L839.7 91.7L840.3 91.5L841.0 91.4L841.6 91.3L842.3 91.1L842.9 91.0L843.5 90.9L844.2 90.7L844.8 90.6L845.4 90.5L846.0 90.3L846.6 90.2L847.3 90.1L847.9 89.9L848.5 89.8L848.9 89.7L849.4 89.7L849.8 89.6L850.3 89.5L850.7 89.5L851.2 89.4L851.6 89.4L852.1 89.3L852.5 89.2L853.0 89.2L853.4 89.1L853.9 89.1L854.3 89.0L854.7 88.9L855.1 88.9L855.6 88.8L856.0 88.8L856.4 88.7L856.8 88.6L857.3 88.6L857.7 88.5L858.1 88.5L858.5 88.4L858.9 88.3L859.2 88.3L859.5 88.3L859.8 88.3L860.1 88.3L860.4 88.3L860.7 88.3L861.0 88.3L861.4 88.3L861.7 88.3L862.0 88.3L862.3 88.3L862.6 88.3L862.9 88.3L863.2 88.3L863.5 88.3L863.8 88.3L864.1 88.3L864.4 88.3L864.7 88.3L865.0 88.3L865.3 88.3L865.6 88.3L865.9 88.3L866.2 88.3L866.5 88.3L866.8 88.3L867.1 88.3L867.4 88.3L867.7 88.3L868.0 88.3L868.3 88.3L868.6 88.3L869.0 88.3L869.3 88.3L869.6 88.3L869.9 88.3L870.2 88.3L870.5 88.3L870.8 88.3L871.1 88.3L871.4 88.3L871.7 88.3L872.0 88.3L872.3 88.3L872.6 88.3L872.8 88.4L873.1 88.5L873.3 88.5L873.6 88.6L873.8 88.7L874.1 88.7L874.4 88.8L874.6 88.9L874.9 88.9L875.2 89.0L875.4 89.1L875.7 89.1L876.0 89.2L876.3 89.3L876.5 89.3L876.8 89.4L877.1 89.5L877.4 89.5L877.7 89.6L878.0 89.7L878.3 89.7L878.6 89.8L878.9 89.9L879.1 90.0L879.4 90.1L879.7 90.2L880.0 90.3L880.3 90.5L880.6 90.6L880.9 90.7L881.2 90.8L881.6 90.9L881.9 91.0L882.2 91.1L882.5 91.2L882.9 91.4L883.2 91.5L882.8 91.7L882.4 92.0L882.0 92.3L881.6 92.5L881.2 92.8L880.8 93.0L880.4 93.3L879.9 93.6L879.5 93.9L879.0 94.1L878.6 94.4L878.1 94.7L877.6 95.0L877.1 95.2ZM690.5 295.7L690.5 297.1L690.5 298.5L689.3 298.5L689.7 297.6L690.1 296.6L690.5 295.7ZM704.1 272.6L704.8 271.5L705.4 270.4L706.1 269.3L707.3 268.7L708.4 268.2L709.5 267.6L710.7 267.1L711.9 266.4L713.1 265.8L714.4 265.2L715.6 264.6L716.8 264.0L717.0 265.3L717.2 266.6L717.3 267.9L717.1 268.9L716.8 270.0L716.5 271.0L716.3 272.1L717.2 271.1L718.1 270.2L719.0 269.3L719.9 268.3L720.8 267.4L721.7 266.5L722.7 267.1L723.7 267.6L724.7 268.2L725.6 268.7L726.6 269.3L728.0 269.3L729.4 269.3L730.7 269.3L732.1 269.3L733.2 269.2L734.3 269.2L735.4 269.1L736.5 269.1L737.6 269.0L738.8 268.9L740.1 268.9L741.3 268.8L742.5 268.8L743.7 268.7L744.0 269.9L744.4 271.1L744.8 272.3L745.2 273.5L746.2 274.0L747.2 274.6L748.2 275.1L749.3 275.7L750.3 276.2L751.1 277.2L751.9 278.1L752.8 279.0L753.6 279.9L754.4 280.9L755.3 281.8L756.4 281.9L757.6 282.0L758.8 282.2L760.0 282.3L761.1 282.4L762.3 282.5L763.5 282.6L764.6 283.1L765.6 283.6L766.7 284.1L767.8 284.6L768.9 285.1L769.7 286.0L770.6 286.8L771.5 287.6L772.0 288.8L772.5 290.0L773.0 291.2L773.6 292.3L774.1 293.5L773.7 294.7L773.3 296.0L773.0 297.2L772.6 298.5L771.2 298.5L769.9 298.5L768.5 298.5L767.1 298.5L765.7 298.5L764.3 298.5L762.9 298.5L761.5 298.5L760.1 298.5L758.7 298.5L757.3 298.5L755.9 298.5L754.5 298.5L753.2 298.5L751.8 298.5L750.4 298.5L749.0 298.5L747.6 298.5L746.2 298.5L744.8 298.5L743.4 298.5L742.0 298.5L740.6 298.5L739.2 298.5L737.8 298.5L736.5 298.5L735.1 298.5L733.7 298.5L732.3 298.5L730.9 298.5L729.5 298.5L728.1 298.5L726.7 298.5L725.3 298.5L723.9 298.5L722.5 298.5L721.2 298.5L719.8 298.5L718.4 298.5L717.0 298.5L715.6 298.5L714.2 298.5L712.8 298.5L711.4 298.5L710.0 298.5L708.6 298.5L707.2 298.5L705.8 298.5L704.5 298.5L703.1 298.5L701.7 298.5L700.3 298.5L698.9 298.5L697.5 298.5L696.1 298.5L694.7 298.5L693.3 298.5L691.9 298.5L690.5 298.5L690.5 297.1L690.6 295.7L691.7 295.0L692.8 294.2L694.0 293.5L694.7 292.5L695.5 291.6L696.3 290.7L697.1 289.7L697.8 288.8L698.0 287.6L698.2 286.4L698.4 285.2L698.6 284.0L698.8 282.8L699.0 281.6L699.3 280.4L698.8 279.5L698.4 278.6L698.0 277.6L698.6 276.5L699.3 275.4L699.9 274.3L701.0 273.9L702.0 273.5L703.0 273.0L704.1 272.6ZM774.0 299.1L774.0 300.4L774.0 301.8L773.9 303.2L773.9 304.6L773.8 305.9L773.7 307.3L773.6 308.7L773.5 310.0L773.4 311.4L773.2 312.8L773.1 314.2L772.9 315.5L772.7 316.9L772.5 318.3L772.3 319.7L772.1 321.0L771.8 322.4L771.6 323.8L771.3 325.2L771.0 326.5L770.7 327.9L770.4 329.3L770.1 330.6L769.7 332.0L769.4 333.4L769.0 334.8L768.6 336.1L768.2 337.5L767.8 338.9L767.4 340.3L766.9 341.6L766.5 343.0L766.0 344.4L765.5 345.8L765.0 347.1L764.5 348.5L764.0 349.9L763.5 351.3L762.9 352.6L762.3 354.0L761.8 355.4L761.2 356.7L760.6 358.1L760.0 359.5L759.3 360.9L758.7 362.2L758.0 363.6L757.3 365.0L756.7 366.4L756.0 367.7L755.2 369.1L754.5 370.5L753.8 371.9L753.0 373.2L752.3 374.6L751.5 376.0L750.7 377.3L749.9 378.7L749.1 380.1L748.2 381.5L747.4 382.8L746.2 383.8L745.0 384.8L743.7 385.8L742.3 386.7L740.9 387.7L739.6 388.7L738.2 389.6L736.9 390.6L735.5 391.6L734.2 392.6L732.8 393.3L731.5 394.0L730.2 394.7L728.9 395.4L727.9 395.4L726.9 395.5L725.9 395.6L724.8 395.6L724.1 395.3L723.5 394.9L722.8 394.6L722.0 394.2L721.2 394.4L720.3 394.5L720.3 395.6L720.3 396.7L720.2 397.9L720.2 399.0L720.2 400.1L719.1 401.3L718.0 402.4L717.0 403.6L715.9 404.8L714.8 405.0L713.6 405.3L712.5 405.5L711.4 405.7L710.3 405.9L709.1 406.2L708.0 406.4L706.9 406.6L705.8 406.8L704.7 407.0L703.6 408.2L702.6 409.4L701.6 410.6L700.5 411.8L699.6 411.9L698.6 412.1L697.7 412.2L696.8 412.3L695.8 412.5L694.9 412.6L694.8 413.6L694.6 414.7L694.4 415.7L694.3 416.8L693.4 417.9L692.6 419.0L691.8 420.2L690.9 421.3L690.1 422.5L689.3 423.6L688.1 424.4L686.9 425.2L685.8 426.0L684.6 426.8L683.5 427.6L683.8 428.4L684.1 429.2L684.4 430.0L684.6 430.8L684.9 431.6L683.9 432.5L682.8 433.3L681.7 434.1L680.7 435.0L679.6 435.8L678.6 436.6L677.5 437.4L676.5 438.2L675.8 439.2L675.0 440.2L674.3 441.2L673.6 442.1L673.7 442.8L673.8 443.4L673.0 443.7L672.1 444.0L671.3 444.4L670.4 444.7L669.5 445.2L668.5 445.7L667.6 446.2L666.6 446.7L666.3 446.1L666.0 445.4L665.7 444.8L665.4 444.1L665.0 443.4L664.7 442.8L664.3 442.1L664.5 441.0L664.7 439.9L664.8 438.7L665.0 437.6L665.1 436.4L665.2 435.3L665.4 434.1L665.5 433.0L666.2 431.8L666.9 430.6L667.6 429.5L668.3 428.3L669.0 427.1L669.7 426.0L670.4 424.8L671.1 423.6L671.8 422.4L672.5 421.3L673.2 420.1L674.0 418.9L674.7 417.7L675.4 416.6L676.1 415.4L676.6 414.0L677.0 412.6L677.6 411.2L678.3 409.8L679.1 408.4L679.8 407.0L680.5 405.6L681.2 404.3L681.9 402.9L682.6 401.5L683.6 400.2L684.7 399.0L685.7 397.7L686.8 396.5L687.8 395.2L688.9 394.0L689.9 392.7L691.0 391.5L692.0 390.2L693.1 389.0L693.7 387.6L694.3 386.2L694.9 384.8L695.5 383.4L696.1 382.0L696.7 380.6L697.3 379.2L697.8 377.8L698.6 376.6L699.4 375.4L700.2 374.2L701.0 372.9L701.8 371.7L702.5 370.5L703.3 369.3L704.1 368.1L704.6 366.8L705.1 365.6L705.6 364.4L706.2 363.1L706.7 361.9L707.2 360.7L707.6 359.4L708.1 358.2L708.6 356.9L708.9 355.7L709.3 354.4L709.6 353.2L709.9 351.9L710.2 350.7L710.5 349.4L709.9 348.7L709.3 348.0L708.7 347.3L708.1 346.6L707.2 346.0L706.3 345.4L705.4 344.7L704.4 344.1L703.5 343.4L702.6 342.8L701.7 342.2L700.7 341.5L699.8 340.9L698.8 340.2L698.5 339.1L698.1 337.9L697.8 336.7L697.4 335.5L697.0 334.3L696.7 333.1L696.3 331.9L695.9 330.7L695.4 329.4L695.0 328.2L694.6 326.9L694.1 325.7L693.6 324.5L693.2 323.2L692.7 322.0L692.2 320.8L691.3 319.8L690.4 318.9L689.4 318.0L688.5 317.1L687.6 316.1L686.6 315.2L686.6 314.0L686.6 312.8L686.6 311.7L686.6 310.5L687.6 309.6L688.5 308.7L689.4 307.8L690.4 306.8L689.9 305.7L689.5 304.6L689.0 303.5L688.5 302.4L688.0 301.3L688.4 300.4L688.9 299.4L689.3 298.5L690.7 298.5L692.1 298.5L693.5 298.5L694.8 298.5L696.2 298.5L697.6 298.5L699.0 298.5L700.4 298.5L701.8 298.5L703.2 298.5L704.6 298.5L706.0 298.5L707.3 298.5L708.7 298.5L710.1 298.5L711.5 298.5L712.9 298.5L714.3 298.5L715.7 298.5L717.1 298.5L718.5 298.5L719.8 298.5L721.2 298.5L722.6 298.5L724.0 298.5L725.4 298.5L726.8 298.5L728.2 298.5L729.6 298.5L731.0 298.5L732.3 298.5L733.7 298.5L735.1 298.5L736.5 298.5L737.9 298.5L739.3 298.5L740.7 298.5L742.1 298.5L743.5 298.5L744.9 298.5L746.2 298.5L747.6 298.5L749.0 298.5L750.4 298.5L751.8 298.5L753.2 298.5L754.6 298.5L756.0 298.5L757.4 298.5L758.7 298.5L760.1 298.5L761.5 298.5L762.9 298.5L764.3 298.5L765.7 298.5L767.1 298.5L768.5 298.5L769.9 298.5L771.2 298.5L772.6 298.5L773.3 298.8L774.0 299.1ZM778.2 300.7L779.4 301.0L780.7 301.2L781.9 301.5L783.1 301.7L784.3 301.9L785.6 302.2L786.8 302.4L788.0 302.7L789.2 303.2L790.5 303.6L791.7 304.1L792.9 304.6L794.2 305.1L795.4 305.6L796.6 306.1L797.9 306.6L799.1 306.9L800.3 307.2L801.5 307.5L802.7 307.8L803.9 308.2L805.1 308.5L806.3 308.8L807.5 309.4L808.8 310.1L810.0 310.7L811.2 311.3L812.5 312.0L813.7 312.6L814.9 313.3L815.3 314.4L815.7 315.6L816.0 316.7L816.4 317.9L816.8 319.0L817.2 320.2L817.1 321.4L817.1 322.6L817.0 323.8L816.9 324.9L816.1 325.8L815.2 326.6L814.3 327.4L813.5 328.3L812.6 329.1L812.0 330.2L811.3 331.3L810.7 332.5L810.1 333.6L809.5 334.7L809.4 335.8L809.4 336.9L809.3 338.0L809.3 339.1L809.3 340.2L809.4 341.4L809.5 342.6L809.5 343.8L809.6 345.0L809.8 346.2L809.9 347.4L810.0 348.6L809.9 349.8L809.7 350.9L809.6 352.1L809.5 353.2L809.5 354.4L809.4 355.6L809.4 356.6L809.4 357.6L809.4 358.7L809.4 359.7L808.4 360.2L807.5 360.7L806.5 361.2L805.6 361.7L804.6 362.2L803.9 362.7L803.1 363.2L802.4 363.7L801.7 364.2L801.0 364.7L800.1 365.4L799.3 366.1L798.5 366.8L797.7 367.4L796.9 368.1L796.1 368.8L795.3 369.5L795.6 370.7L795.9 371.9L796.2 373.0L796.5 374.2L796.8 375.4L797.1 376.6L797.4 377.8L797.3 378.8L797.2 379.8L797.1 380.8L796.9 381.8L796.8 382.8L796.1 381.5L795.4 380.1L794.7 378.7L794.0 377.3L793.4 376.0L792.7 374.6L792.0 373.2L791.4 371.9L790.8 370.5L790.1 369.1L789.5 367.7L788.9 366.4L788.3 365.0L787.8 363.6L787.2 362.2L786.6 360.9L786.1 359.5L785.6 358.1L785.0 356.7L784.5 355.4L784.0 354.0L783.6 352.6L783.1 351.3L782.6 349.9L782.2 348.5L781.7 347.1L781.3 345.8L780.9 344.4L780.5 343.0L780.1 341.6L779.7 340.3L779.4 338.9L779.0 337.5L778.7 336.1L778.3 334.8L778.0 333.4L777.7 332.0L777.4 330.6L777.1 329.3L776.9 327.9L776.6 326.5L776.4 325.2L776.1 323.8L775.9 322.4L775.7 321.0L775.5 319.7L775.3 318.3L775.1 316.9L775.0 315.5L774.8 314.2L774.7 312.8L774.6 311.4L774.5 310.0L774.4 308.7L774.3 307.3L774.2 305.9L774.1 304.6L774.1 303.2L774.1 301.8L774.0 300.4L774.0 299.1L775.1 299.5L776.1 299.9L777.2 300.3L778.2 300.7ZM227.7 361.1L228.7 360.3L229.8 359.4L230.9 358.6L231.9 357.8L233.0 356.9L234.1 356.6L235.1 356.2L236.2 355.8L237.2 355.4L238.3 355.0L239.4 354.7L240.6 354.4L241.7 354.0L242.8 353.7L244.0 353.4L245.1 353.1L246.3 352.8L247.1 351.7L248.0 350.5L248.9 349.4L249.7 348.3L250.7 347.4L251.7 346.5L252.8 345.6L253.8 344.8L254.8 343.9L255.7 342.9L256.5 341.9L257.4 340.9L258.3 339.9L259.2 338.9L260.3 338.7L261.4 338.5L262.4 338.4L263.5 338.2L264.6 338.0L265.7 338.4L266.7 338.8L267.8 339.2L268.8 339.6L269.9 340.0L270.5 338.9L271.2 337.9L271.9 336.9L272.5 335.8L273.2 334.8L273.8 333.8L274.5 332.7L275.6 332.1L276.7 331.5L277.7 330.9L278.8 330.2L279.9 330.5L281.0 330.8L282.1 331.1L283.2 331.3L284.4 331.6L285.5 331.9L286.7 332.0L287.9 332.2L289.1 332.3L290.3 332.5L289.6 333.7L288.9 334.9L288.2 336.1L287.5 337.3L286.7 338.5L286.0 339.7L287.0 340.4L288.0 341.0L289.0 341.7L290.0 342.4L291.0 343.0L291.8 343.7L292.7 344.4L293.6 345.1L294.4 345.7L295.3 346.4L296.1 347.1L296.9 347.8L298.1 346.9L299.2 346.1L300.3 345.3L301.5 344.4L301.7 343.0L301.9 341.6L302.1 340.2L302.3 338.9L302.5 337.5L302.7 336.1L302.8 334.7L303.4 333.6L304.0 332.5L304.6 331.5L305.1 330.4L305.7 329.3L306.3 328.3L306.5 329.6L306.8 330.9L307.0 332.2L307.2 333.5L307.5 334.8L307.7 336.2L307.9 337.5L308.9 338.0L309.9 338.6L310.9 339.1L311.9 339.7L312.8 340.2L312.9 341.5L312.9 342.7L312.9 344.0L313.0 345.2L313.0 346.4L313.0 347.7L313.0 348.9L312.9 350.1L312.9 351.4L313.8 352.2L314.6 353.0L315.5 353.8L316.3 354.6L317.1 355.4L317.9 356.1L318.7 356.9L319.5 357.8L320.2 358.6L320.9 359.4L321.6 360.3L322.3 361.1L322.7 362.2L323.1 363.2L323.5 364.3L323.9 365.3L324.3 366.3L324.7 367.4L325.1 368.4L325.4 369.5L325.3 370.7L325.1 372.0L324.9 373.2L324.7 374.5L324.5 375.7L324.3 377.0L323.6 378.3L322.9 379.6L322.2 380.9L321.5 382.2L320.7 383.5L320.0 384.8L319.0 385.9L318.0 387.0L317.0 388.1L316.0 389.2L314.9 390.3L313.9 391.5L312.9 392.6L312.2 393.5L311.4 394.5L310.6 395.7L309.8 396.9L309.0 398.1L308.2 399.3L307.4 400.5L306.5 401.7L305.7 402.9L304.8 403.0L303.8 403.2L302.9 403.4L301.9 403.5L301.0 403.7L299.9 404.4L298.9 405.1L297.9 405.9L296.8 406.6L295.8 407.3L295.1 406.8L294.4 406.2L293.6 405.6L292.7 405.9L291.9 406.1L291.0 406.3L290.1 406.5L289.3 406.2L288.5 405.8L287.7 405.5L286.9 405.2L286.1 404.9L285.3 404.6L284.5 404.3L284.3 403.2L284.0 402.2L283.7 401.1L283.4 400.1L282.8 399.4L282.1 398.7L281.5 398.0L280.9 397.3L281.0 396.1L281.1 395.0L281.2 393.8L281.4 392.7L281.5 391.5L281.6 390.3L280.6 391.2L279.7 392.0L278.7 392.8L277.8 393.7L276.9 394.5L275.9 395.4L275.5 394.4L275.2 393.4L274.8 392.4L274.4 391.5L274.0 390.5L273.6 389.5L272.8 389.0L271.9 388.4L271.0 387.8L270.2 387.3L269.3 386.7L268.4 386.2L267.4 386.3L266.4 386.4L265.4 386.4L264.4 386.5L263.4 386.6L262.4 386.7L261.3 387.0L260.3 387.2L259.2 387.4L258.2 387.7L257.1 387.9L256.1 388.2L255.0 388.4L254.1 388.8L253.1 389.2L252.1 389.6L251.1 390.0L250.1 390.3L249.1 390.8L248.1 391.3L247.1 391.8L246.1 392.3L245.1 392.8L244.0 393.2L242.9 393.6L241.9 394.0L240.8 394.3L239.7 394.7L238.6 395.1L237.5 395.4L236.5 395.8L235.4 396.2L234.5 395.9L233.6 395.6L232.6 395.2L231.7 394.9L230.8 394.6L229.8 394.3L228.9 394.0L229.3 392.7L229.7 391.4L230.1 390.1L230.5 388.8L230.9 387.6L230.6 386.4L230.4 385.2L230.2 384.1L230.0 382.9L229.8 381.8L229.5 380.6L229.3 379.3L229.1 378.1L228.8 376.8L228.6 375.5L228.4 374.2L228.1 373.0L227.9 371.7L227.8 370.4L227.7 369.1L227.5 367.8L227.4 366.5L227.3 365.3L227.2 364.0L227.0 362.7L226.9 361.4L227.7 361.1ZM298.1 412.3L297.6 413.6L297.1 414.9L296.6 416.2L296.1 417.4L295.6 418.7L294.7 418.9L293.9 419.1L293.0 419.3L292.1 419.6L291.2 419.8L291.1 418.8L290.9 417.9L290.8 416.9L290.6 415.9L290.6 414.9L290.6 413.9L290.6 412.8L290.6 411.8L291.5 411.8L292.5 411.9L293.4 412.0L294.3 412.1L295.3 412.1L296.2 412.2L297.1 412.3L298.1 412.3ZM136.1 476.3L136.9 476.4L137.6 476.5L138.3 476.6L139.1 476.7L139.8 476.8L140.5 476.9L141.2 477.0L142.0 477.1L142.7 477.2L143.6 477.5L144.5 477.8L145.4 478.1L146.3 478.4L147.2 478.7L148.0 479.0L148.9 479.2L149.8 479.5L150.7 479.8L151.5 480.1L152.4 480.4L153.1 480.5L153.8 480.5L154.5 480.6L155.2 480.7L155.9 480.7L156.6 480.8L157.3 480.8L158.0 480.9L158.7 480.9L159.4 481.0L160.1 481.1L160.8 481.1L161.5 481.2L162.2 481.2L162.9 481.3L163.6 482.3L164.2 483.2L164.9 484.2L165.6 485.2L166.3 486.1L166.8 486.9L167.4 487.7L168.0 488.5L168.6 489.3L168.8 488.9L169.0 488.5L169.1 488.1L169.3 487.7L169.5 487.3L169.7 486.9L170.0 486.5L170.2 486.1L170.4 485.7L170.7 485.3L170.9 484.9L171.2 484.4L171.5 484.0L171.7 483.6L172.1 483.3L172.5 483.0L172.9 482.6L173.4 482.3L173.8 482.0L174.2 481.7L174.6 481.3L175.1 481.0L175.5 480.7L175.9 480.4L176.4 480.0L176.9 479.7L177.3 479.4L177.8 479.0L178.3 478.7L178.9 478.6L179.5 478.5L180.1 478.3L180.7 478.2L181.3 478.1L182.0 478.0L182.6 477.9L183.2 477.8L183.8 477.6L184.5 477.5L185.1 477.4L185.7 477.3L186.3 477.2L187.1 477.3L187.8 477.5L188.5 477.7L189.3 477.8L190.0 478.0L190.7 478.2L191.4 478.4L192.1 478.5L192.8 478.7L193.5 478.7L194.2 478.6L194.8 478.6L195.5 478.5L196.2 478.5L196.8 478.5L197.5 478.4L198.2 478.4L198.9 478.3L199.5 478.3L200.2 478.3L200.9 478.2L201.5 478.2L202.2 478.2L202.9 478.1L203.6 478.1L204.3 478.0L204.8 477.6L205.3 477.2L205.8 476.7L206.3 476.3L206.9 475.8L207.4 475.4L208.1 475.7L208.8 475.9L209.4 476.2L210.1 476.5L210.7 476.7L211.4 477.0L212.0 477.3L212.7 477.5L213.3 477.8L213.9 478.0L214.6 477.9L215.3 477.7L215.9 477.6L216.6 477.5L217.2 477.3L217.9 477.2L218.6 477.0L219.2 476.9L219.9 476.7L220.6 476.6L221.3 476.4L221.9 476.3L222.6 476.5L223.2 476.7L223.8 476.8L224.5 477.0L225.1 477.2L225.7 477.4L226.4 477.6L227.0 477.8L227.6 478.0L228.2 478.1L228.8 478.3L229.4 478.5L230.0 478.7L230.7 478.5L231.3 478.4L232.0 478.2L232.6 478.1L233.3 477.9L233.9 477.8L234.6 477.6L235.3 477.5L235.9 477.3L236.6 477.2L237.2 477.1L237.9 477.1L238.6 477.0L239.3 477.0L240.0 476.9L240.6 476.9L241.3 476.8L242.0 476.8L242.7 476.7L243.3 476.7L244.0 476.7L244.7 476.6L245.4 476.6L246.1 476.5L246.8 476.5L247.4 476.4L248.1 476.4L248.8 476.3L249.5 476.3L250.2 476.1L250.8 475.8L251.5 475.6L252.2 475.4L252.9 475.2L253.6 474.9L254.0 475.3L254.4 475.7L254.8 476.1L255.2 476.4L255.6 476.8L256.0 477.2L256.7 477.2L257.4 477.3L258.0 477.3L258.7 477.4L259.4 477.4L260.0 477.5L260.7 477.5L261.3 477.6L262.0 477.6L262.7 477.7L263.3 477.7L264.0 477.8L264.6 477.8L265.3 477.9L265.9 477.9L266.6 478.0L267.2 478.0L267.5 478.4L267.8 478.8L268.1 479.2L268.4 479.6L268.6 480.0L268.9 480.4L269.4 480.6L270.0 480.7L270.5 480.9L271.0 481.0L271.6 481.2L272.1 481.3L272.6 481.4L273.2 481.6L273.7 481.7L274.2 481.9L274.8 482.0L275.3 482.2L275.8 482.3L276.3 482.5L276.8 482.6L277.3 482.8L277.8 482.9L278.3 483.0L278.8 483.2L279.3 483.3L279.8 483.5L280.3 483.6L280.4 484.0L280.4 484.5L280.5 484.9L279.5 485.9L278.5 486.9L277.5 487.9L276.5 488.9L275.5 489.9L274.4 490.9L273.3 491.9L272.3 492.8L271.2 493.8L270.1 494.7L268.9 495.6L267.8 496.6L266.6 497.5L265.4 498.4L264.3 499.2L263.0 500.1L261.8 501.0L260.5 501.8L259.3 502.6L258.0 503.5L256.6 504.3L255.3 505.1L253.9 505.8L252.5 506.6L251.0 507.3L249.5 508.1L248.0 508.8L246.4 509.5L244.8 510.1L243.1 510.8L241.4 511.4L239.6 512.0L237.7 512.6L235.8 513.2L233.7 513.7L231.4 514.2L229.0 514.6L226.2 515.0L223.0 515.4L217.4 515.6L217.4 515.6L217.4 515.6L217.4 515.6L217.4 515.6L217.4 515.6L217.4 515.6L217.4 515.6L217.4 515.6L217.4 515.6L217.4 515.6L217.4 515.6L217.4 515.6L217.4 515.6L217.4 515.6L217.4 515.6L217.4 515.6L217.4 515.6L217.4 515.6L217.4 515.6L217.4 515.6L217.4 515.6L217.4 515.6L217.4 515.6L217.4 515.6L217.4 515.6L217.4 515.6L217.4 515.6L217.4 515.6L217.4 515.6L217.4 515.6L217.4 515.6L217.4 515.6L217.4 515.6L217.4 515.6L217.4 515.6L217.4 515.6L217.4 515.6L217.4 515.6L217.4 515.6L217.4 515.6L217.4 515.6L217.4 515.6L217.4 515.6L217.4 515.6L217.4 515.6L217.4 515.6L217.4 515.6L217.4 515.6L217.4 515.6L217.4 515.6L217.4 515.6L217.4 515.6L217.4 515.6L217.4 515.6L217.4 515.6L217.4 515.6L217.4 515.6L217.4 515.6L217.4 515.6L217.4 515.6L217.4 515.6L217.4 515.6L217.4 515.6L217.4 515.6L217.4 515.6L217.4 515.6L217.4 515.6L217.4 515.6L217.4 515.6L217.4 515.6L217.4 515.6L217.4 515.6L217.4 515.6L217.4 515.6L217.4 515.6L217.4 515.6L217.4 515.6L217.4 515.6L217.4 515.6L217.4 515.6L217.4 515.6L217.4 515.6L217.4 515.6L217.4 515.6L217.4 515.6L217.4 515.6L217.4 515.6L217.4 515.6L217.4 515.6L217.4 515.6L217.4 515.6L217.4 515.6L217.4 515.6L217.4 515.6L217.4 515.6L217.4 515.6L217.4 515.6L217.4 515.6L217.4 515.6L217.4 515.6L217.4 515.6L217.4 515.6L217.4 515.6L217.4 515.6L217.4 515.6L217.4 515.6L217.4 515.6L217.4 515.6L217.4 515.6L217.4 515.6L217.4 515.6L217.4 515.6L217.4 515.6L217.4 515.6L217.4 515.6L217.4 515.6L217.4 515.6L217.4 515.6L217.4 515.6L217.4 515.6L217.4 515.6L217.4 515.6L217.4 515.6L217.4 515.6L217.4 515.6L217.4 515.6L217.4 515.6L217.4 515.6L217.4 515.6L217.4 515.6L217.4 515.6L217.4 515.6L217.4 515.6L217.4 515.6L217.4 515.6L217.4 515.6L217.4 515.6L217.4 515.6L217.4 515.6L217.4 515.6L217.4 515.6L217.4 515.6L217.4 515.6L217.4 515.6L217.4 515.6L217.4 515.6L217.4 515.6L217.4 515.6L217.4 515.6L217.4 515.6L217.4 515.6L217.4 515.6L217.4 515.6L217.4 515.6L217.4 515.6L217.4 515.6L217.4 515.6L217.4 515.6L217.4 515.6L217.4 515.6L217.4 515.6L217.4 515.6L217.4 515.6L217.4 515.6L217.4 515.6L217.4 515.6L217.4 515.6L217.4 515.6L217.4 515.6L217.4 515.6L217.4 515.6L217.4 515.6L217.4 515.6L217.4 515.6L217.4 515.6L217.4 515.6L217.4 515.6L217.4 515.6L217.4 515.6L217.4 515.6L217.4 515.6L217.4 515.6L217.4 515.6L217.4 515.6L217.4 515.6L217.4 515.6L217.4 515.6L217.4 515.6L217.4 515.6L217.4 515.6L217.4 515.6L217.4 515.6L217.4 515.6L217.4 515.6L217.4 515.6L217.4 515.6L217.4 515.6L217.4 515.6L217.4 515.6L217.4 515.6L217.4 515.6L217.4 515.6L217.4 515.6L217.4 515.6L217.4 515.6L217.4 515.6L217.4 515.6L217.4 515.6L217.4 515.6L217.4 515.6L217.4 515.6L217.4 515.6L217.4 515.6L217.4 515.6L217.4 515.6L217.4 515.6L217.4 515.6L217.4 515.6L217.4 515.6L217.4 515.6L217.4 515.6L217.4 515.6L217.4 515.6L217.4 515.6L217.4 515.6L217.4 515.6L217.4 515.6L217.4 515.6L217.4 515.6L217.4 515.6L217.4 515.6L217.4 515.6L217.4 515.6L217.4 515.6L217.4 515.6L217.4 515.6L217.4 515.6L217.4 515.6L217.4 515.6L217.4 515.6L209.6 515.4L205.0 515.0L201.1 514.6L197.6 514.2L194.5 513.7L191.5 513.1L188.8 512.6L186.1 512.0L183.6 511.4L181.1 510.7L178.8 510.1L176.5 509.4L174.3 508.7L172.1 507.9L170.0 507.2L168.0 506.5L166.0 505.7L164.0 504.9L162.1 504.1L160.2 503.3L158.4 502.4L156.6 501.6L154.8 500.7L153.1 499.9L151.4 499.0L149.7 498.1L148.0 497.2L146.4 496.3L144.8 495.3L143.2 494.4L141.6 493.5L140.1 492.5L138.6 491.5L137.1 490.5L135.6 489.5L134.1 488.5L132.7 487.5L131.3 486.5L129.9 485.5L128.5 484.4L127.1 483.4L125.7 482.3L124.4 481.3L124.8 481.1L125.2 480.9L125.6 480.7L126.1 480.5L126.5 480.3L126.9 480.1L127.3 480.0L127.8 479.8L128.2 479.6L128.6 479.4L129.1 479.2L129.5 479.0L130.0 478.8L130.4 478.6L130.9 478.4L131.3 478.2L131.8 478.0L132.3 477.8L132.7 477.6L133.2 477.5L133.7 477.3L134.2 477.1L134.7 476.9L135.1 476.7L135.6 476.5L136.1 476.3ZM479.8 485.5L480.5 485.6L481.2 485.6L481.9 485.7L482.6 485.8L483.4 485.8L484.1 485.9L484.8 486.0L485.5 486.1L486.2 486.1L486.9 486.2L487.6 486.3L488.3 486.4L489.0 486.4L489.7 486.5L490.4 486.6L491.1 486.6L491.8 486.7L492.5 486.8L493.2 486.9L493.9 486.9L494.9 487.8L495.9 488.7L496.9 489.5L498.0 490.4L499.1 491.3L500.2 492.1L500.2 492.4L500.3 492.8L500.4 493.1L500.4 493.4L500.5 493.8L500.6 494.1L500.8 494.4L500.9 494.8L501.0 495.1L501.2 495.4L501.3 495.7L501.5 496.1L501.6 496.4L501.8 496.7L502.0 497.0L503.7 497.8L505.4 498.5L507.1 499.3L508.8 500.0L510.5 500.8L512.3 501.5L514.0 502.2L515.8 502.9L517.2 503.3L518.5 503.7L519.8 504.1L521.1 504.5L522.4 504.9L523.7 505.2L525.0 505.6L526.3 506.0L527.6 506.3L528.9 506.7L530.2 507.1L530.8 507.2L531.4 507.3L532.0 507.3L532.6 507.4L533.2 507.5L533.8 507.6L534.4 507.7L535.0 507.8L535.6 507.9L536.2 508.0L536.8 508.1L537.3 508.2L537.9 508.3L538.5 508.4L539.0 508.5L539.6 508.6L540.2 508.7L540.7 508.8L541.3 508.9L541.9 508.9L541.9 508.9L542.0 508.8L542.0 508.7L542.1 508.6L542.2 508.5L542.3 508.4L542.4 508.3L542.5 508.2L542.6 508.2L542.7 508.1L542.8 508.0L542.9 507.9L543.0 507.8L543.1 507.7L543.2 507.6L543.4 507.5L543.5 507.4L543.6 507.3L543.8 507.2L543.9 507.2L544.1 507.1L544.2 507.0L544.4 506.9L544.5 506.8L544.7 506.7L544.9 506.6L545.0 506.5L545.2 506.4L545.4 506.3L545.6 506.2L545.8 506.1L546.0 506.0L546.2 505.9L546.4 505.8L546.6 505.7L546.8 505.6L547.0 505.5L547.2 505.4L547.4 505.3L547.6 505.2L547.9 505.2L548.1 505.1L547.1 504.4L546.0 503.7L545.0 503.0L544.0 502.3L543.0 501.5L542.1 500.8L541.1 500.0L541.4 499.9L541.6 499.7L541.9 499.6L542.2 499.4L542.5 499.3L542.8 499.1L543.1 499.0L543.4 498.8L543.7 498.7L544.0 498.5L544.3 498.3L544.6 498.2L545.0 498.0L545.3 497.9L545.6 497.7L546.0 497.6L546.3 497.4L546.7 497.2L547.0 497.1L547.4 496.9L547.7 496.8L548.1 496.6L548.5 496.4L548.8 496.3L549.2 496.1L549.6 495.9L550.0 495.8L550.4 495.6L550.8 495.5L551.2 495.3L551.6 495.1L552.0 495.0L552.5 494.9L552.9 494.8L553.4 494.7L553.8 494.7L554.3 494.6L554.8 494.5L555.3 494.4L555.7 494.4L556.2 494.3L556.7 494.2L557.2 494.1L557.6 494.1L558.1 494.0L558.6 493.9L559.1 493.8L559.6 493.8L560.1 493.7L560.6 493.6L561.0 493.5L561.5 493.5L562.0 493.4L562.5 493.3L563.0 493.2L563.5 493.1L564.0 493.1L564.6 493.0L565.1 493.0L565.6 493.0L566.1 492.9L566.6 492.9L567.2 492.9L567.7 492.9L568.2 492.8L568.7 492.8L569.3 492.8L569.8 492.7L570.3 492.7L570.8 492.7L571.4 492.6L571.9 492.6L572.4 492.6L573.0 492.6L573.5 492.5L574.0 492.5L574.6 492.5L575.1 492.5L575.7 492.6L576.2 492.6L576.8 492.6L577.3 492.7L577.9 492.7L578.4 492.7L578.9 492.7L579.5 492.8L580.0 492.8L580.6 492.8L581.1 492.8L581.7 492.9L582.2 492.9L582.7 492.9L583.3 492.9L583.8 493.0L584.4 493.0L584.9 493.0L585.4 493.0L586.0 493.1L586.5 493.0L587.1 492.9L587.6 492.8L588.2 492.7L588.8 492.6L589.3 492.5L589.9 492.4L590.4 492.3L591.0 492.2L591.6 492.1L592.2 492.0L592.7 491.9L593.3 491.8L593.9 491.7L594.5 491.5L595.1 491.4L595.6 491.3L596.2 491.2L596.8 491.1L597.4 491.0L598.0 490.9L598.7 490.6L599.3 490.3L600.0 489.9L600.7 489.6L601.3 489.3L602.0 488.9L602.5 489.1L603.1 489.2L603.6 489.3L604.1 489.4L604.6 489.6L605.1 489.7L605.6 489.8L606.1 489.9L606.6 490.1L607.1 490.2L607.6 490.3L608.1 490.4L608.6 490.6L609.1 490.7L609.6 490.8L610.1 490.9L610.6 491.0L611.1 491.0L611.7 491.1L612.2 491.1L612.7 491.2L613.2 491.2L613.7 491.3L614.2 491.3L614.8 491.4L615.3 491.4L615.8 491.5L616.3 491.5L616.8 491.6L617.3 491.6L617.8 491.7L618.3 491.8L618.8 491.8L619.3 491.9L619.8 491.9L620.4 492.0L620.9 492.0L621.4 492.1L621.9 492.1L622.6 491.9L623.3 491.6L624.1 491.3L624.8 491.1L625.5 490.8L626.3 490.6L627.0 490.3L627.8 490.0L628.6 489.8L629.3 489.5L630.1 489.3L630.9 489.0L631.7 488.7L632.4 488.5L633.2 488.2L634.0 487.9L635.0 487.3L636.0 486.7L637.0 486.1L638.0 485.5L639.0 484.9L640.0 484.2L641.0 483.6L642.0 483.0L643.0 482.5L644.0 482.0L645.0 481.5L646.0 481.0L647.0 480.5L648.0 479.9L649.0 479.4L650.0 478.9L651.0 478.5L652.0 478.1L652.9 477.7L653.9 477.3L654.9 476.9L655.9 476.5L656.9 476.1L657.9 475.7L658.9 475.3L659.9 474.9L660.9 474.5L662.0 474.1L662.9 473.8L663.8 473.5L664.7 473.2L665.7 472.9L666.6 472.7L667.6 472.4L668.5 472.1L669.5 471.8L670.4 471.6L671.4 471.3L672.3 471.0L673.3 470.7L674.3 470.4L673.2 471.2L672.0 472.0L670.9 472.7L669.7 473.3L668.5 474.0L667.4 474.7L666.2 475.3L665.1 476.0L663.9 476.6L662.8 477.3L661.6 477.9L660.5 478.5L659.3 479.2L658.2 479.8L657.1 480.4L656.0 481.1L655.0 482.1L654.1 483.1L653.1 484.0L652.1 485.0L651.1 486.0L650.1 486.9L649.0 487.5L647.8 488.1L646.7 488.7L645.5 489.2L644.4 489.8L643.2 490.4L642.1 490.9L641.0 491.5L639.9 492.1L638.8 492.6L637.6 493.2L636.5 493.7L635.4 494.3L634.3 494.9L633.3 495.4L632.2 495.9L631.1 496.5L630.0 497.0L629.1 497.4L628.1 497.8L627.2 498.2L626.2 498.6L625.3 499.0L624.4 499.3L623.5 499.7L622.6 500.1L621.7 500.5L620.8 500.8L619.9 501.2L619.0 501.6L618.1 501.9L618.3 502.1L618.4 502.3L618.6 502.5L618.7 502.7L618.8 502.9L618.9 503.0L619.1 503.2L619.2 503.4L619.3 503.6L619.4 503.7L619.5 503.9L619.6 504.1L619.6 504.3L619.7 504.4L619.8 504.6L619.8 504.8L619.9 505.0L619.9 505.1L619.9 505.3L620.0 505.5L620.0 505.7L620.0 505.8L620.0 506.0L620.7 505.8L621.4 505.6L622.2 505.4L622.9 505.3L623.6 505.1L624.4 504.9L625.1 504.7L625.9 504.5L626.6 504.3L627.4 504.1L628.1 503.9L626.7 504.7L625.2 505.4L623.7 506.1L622.2 506.8L620.6 507.5L619.0 508.1L617.3 508.8L615.6 509.4L613.8 510.1L613.2 510.3L612.6 510.6L612.0 510.8L611.4 511.1L610.7 511.3L610.0 511.6L609.3 511.8L608.5 512.0L607.7 512.3L606.9 512.5L606.1 512.7L605.2 512.9L604.3 513.2L603.4 513.4L602.4 513.6L601.3 513.8L600.3 514.0L597.4 514.4L594.2 514.8L590.7 515.1L586.4 515.4L579.2 515.6L579.2 515.6L579.2 515.6L579.2 515.6L579.2 515.6L579.2 515.6L579.2 515.6L579.2 515.6L579.2 515.6L579.2 515.6L579.2 515.6L579.2 515.6L579.2 515.6L579.2 515.6L579.2 515.6L579.2 515.6L579.2 515.6L579.2 515.6L579.2 515.6L579.2 515.6L579.2 515.6L579.2 515.6L579.2 515.6L579.2 515.6L579.2 515.6L579.2 515.6L579.2 515.6L579.2 515.6L579.2 515.6L579.2 515.6L579.2 515.6L579.2 515.6L579.2 515.6L579.2 515.6L579.2 515.6L579.2 515.6L579.2 515.6L579.2 515.6L579.2 515.6L579.2 515.6L579.2 515.6L579.2 515.6L579.2 515.6L579.2 515.6L579.2 515.6L579.2 515.6L579.2 515.6L579.2 515.6L579.2 515.6L579.2 515.6L579.2 515.6L579.2 515.6L579.2 515.6L579.2 515.6L579.2 515.6L579.2 515.6L579.2 515.6L579.2 515.6L579.2 515.6L579.2 515.6L579.2 515.6L579.2 515.6L579.2 515.6L579.2 515.6L579.2 515.6L579.2 515.6L579.2 515.6L579.2 515.6L579.2 515.6L579.2 515.6L579.2 515.6L579.2 515.6L579.2 515.6L579.2 515.6L579.2 515.6L579.2 515.6L579.2 515.6L579.2 515.6L579.2 515.6L579.2 515.6L579.2 515.6L579.2 515.6L579.2 515.6L579.2 515.6L579.2 515.6L579.2 515.6L579.2 515.6L579.2 515.6L579.2 515.6L579.2 515.6L579.2 515.6L579.2 515.6L579.2 515.6L579.2 515.6L579.2 515.6L579.2 515.6L579.2 515.6L579.2 515.6L579.2 515.6L579.2 515.6L579.2 515.6L579.2 515.6L579.2 515.6L579.2 515.6L579.2 515.6L579.2 515.6L579.2 515.6L579.2 515.6L579.2 515.6L579.2 515.6L579.2 515.6L579.2 515.6L579.2 515.6L579.2 515.6L579.2 515.6L579.2 515.6L579.2 515.6L579.2 515.6L579.2 515.6L579.2 515.6L579.2 515.6L579.2 515.6L579.2 515.6L579.2 515.6L579.2 515.6L579.2 515.6L579.2 515.6L579.2 515.6L579.2 515.6L579.2 515.6L579.2 515.6L579.2 515.6L579.2 515.6L579.2 515.6L579.2 515.6L579.2 515.6L579.2 515.6L579.2 515.6L579.2 515.6L579.2 515.6L579.2 515.6L579.2 515.6L579.2 515.6L579.2 515.6L579.2 515.6L579.2 515.6L579.2 515.6L579.2 515.6L579.2 515.6L579.2 515.6L579.2 515.6L579.2 515.6L579.2 515.6L579.2 515.6L579.2 515.6L579.2 515.6L579.2 515.6L579.2 515.6L579.2 515.6L579.2 515.6L579.2 515.6L579.2 515.6L579.2 515.6L579.2 515.6L579.2 515.6L579.2 515.6L579.2 515.6L579.2 515.6L579.2 515.6L579.2 515.6L579.2 515.6L579.2 515.6L579.2 515.6L579.2 515.6L579.2 515.6L579.2 515.6L579.2 515.6L579.2 515.6L579.2 515.6L579.2 515.6L579.2 515.6L579.2 515.6L579.2 515.6L579.2 515.6L579.2 515.6L579.2 515.6L579.2 515.6L579.2 515.6L579.2 515.6L579.2 515.6L579.2 515.6L579.2 515.6L579.2 515.6L579.2 515.6L579.2 515.6L579.2 515.6L579.2 515.6L579.2 515.6L579.2 515.6L579.2 515.6L579.2 515.6L579.2 515.6L579.2 515.6L579.2 515.6L579.2 515.6L579.2 515.6L579.2 515.6L579.2 515.6L579.2 515.6L579.2 515.6L579.2 515.6L579.2 515.6L579.2 515.6L579.2 515.6L579.2 515.6L579.2 515.6L579.2 515.6L579.2 515.6L579.2 515.6L579.2 515.6L579.2 515.6L579.2 515.6L579.2 515.6L579.2 515.6L579.2 515.6L579.2 515.6L579.2 515.6L579.2 515.6L579.2 515.6L579.2 515.6L579.2 515.6L579.2 515.6L579.2 515.6L579.2 515.6L579.2 515.6L579.2 515.6L579.2 515.6L579.2 515.6L579.2 515.6L579.2 515.6L579.2 515.6L579.2 515.6L579.2 515.6L579.2 515.6L579.2 515.6L579.2 515.6L579.2 515.6L579.2 515.6L579.2 515.6L579.2 515.6L579.2 515.6L579.2 515.6L579.2 515.6L579.2 515.6L579.2 515.6L579.2 515.6L579.2 515.6L579.2 515.6L579.2 515.6L579.2 515.6L579.2 515.6L579.2 515.6L579.2 515.6L579.2 515.6L579.2 515.6L579.2 515.6L579.2 515.6L579.2 515.6L579.2 515.6L579.2 515.6L579.2 515.6L579.2 515.6L579.2 515.6L579.2 515.6L579.2 515.6L579.2 515.6L579.2 515.6L579.2 515.6L579.2 515.6L579.2 515.6L579.2 515.6L579.2 515.6L579.2 515.6L579.2 515.6L579.2 515.6L579.2 515.6L579.2 515.6L579.2 515.6L579.2 515.6L579.2 515.6L579.2 515.6L579.2 515.6L579.2 515.6L579.2 515.6L579.2 515.6L579.2 515.6L579.2 515.6L579.2 515.6L579.2 515.6L579.2 515.6L579.2 515.6L570.3 515.4L565.1 515.0L560.7 514.6L556.8 514.2L553.2 513.7L549.9 513.2L546.7 512.6L543.7 512.0L540.8 511.4L538.0 510.8L535.4 510.1L532.8 509.5L530.3 508.8L527.8 508.1L525.5 507.3L523.1 506.6L520.9 505.8L518.6 505.1L516.5 504.3L514.3 503.5L512.3 502.6L510.2 501.8L508.2 501.0L506.2 500.1L504.3 499.2L502.3 498.4L500.5 497.5L498.6 496.6L496.8 495.6L495.0 494.7L493.2 493.8L491.5 492.8L489.7 491.9L488.0 490.9L486.3 489.9L484.7 488.9L483.0 487.9L481.4 486.9L479.8 485.9L478.3 484.9L479.0 485.2L479.8 485.5ZM902.8 507.7L902.9 507.6L903.0 507.5L903.2 507.4L903.3 507.3L903.4 507.2L903.6 507.1L903.7 507.0L903.8 506.9L904.0 506.9L904.2 506.8L904.3 506.7L904.5 506.6L904.6 506.5L904.8 506.4L905.0 506.3L905.2 506.2L905.3 506.1L905.5 506.0L905.7 505.9L905.9 505.9L906.1 505.8L906.3 505.7L906.5 505.6L906.7 505.5L906.9 505.4L907.1 505.3L907.3 505.2L907.6 505.1L907.8 505.0L908.0 504.9L908.2 504.8L908.5 504.7L908.7 504.6L909.0 504.5L909.2 504.4L909.5 504.3L909.7 504.3L908.9 503.9L908.1 503.6L907.3 503.2L906.5 502.9L905.7 502.5L904.9 502.2L904.1 501.8L903.3 501.5L902.4 501.1L901.6 500.7L901.8 500.6L902.0 500.4L902.1 500.2L902.3 500.0L902.5 499.8L902.8 499.6L903.0 499.4L903.2 499.2L903.4 499.0L903.7 498.8L903.9 498.6L904.1 498.4L904.4 498.2L904.6 498.0L904.9 497.8L905.2 497.6L905.4 497.4L905.7 497.2L906.0 497.0L906.3 496.8L906.6 496.7L906.9 496.5L907.3 496.3L907.6 496.1L908.0 496.0L908.3 495.8L908.6 495.6L909.0 495.4L909.4 495.2L909.7 495.1L910.1 494.9L910.5 494.7L910.8 494.5L911.2 494.4L911.6 494.2L912.0 494.0L912.4 493.8L912.8 493.6L913.2 493.5L913.4 493.0L913.5 492.5L913.7 492.1L913.9 491.6L914.1 491.2L914.3 490.7L914.5 490.2L914.7 489.8L915.0 489.3L915.2 488.8L915.5 488.3L916.0 488.3L916.5 488.2L917.0 488.1L917.6 488.0L918.1 487.9L918.6 487.9L919.2 487.8L919.7 487.7L920.2 487.6L920.8 487.5L921.3 487.5L921.8 487.4L922.4 487.3L922.9 487.2L923.5 487.1L924.0 487.0L924.6 487.0L925.2 486.9L925.7 486.8L926.3 486.7L926.8 486.6L927.4 486.5L928.0 486.4L928.6 486.3L929.1 486.3L929.7 486.2L930.3 486.1L930.9 486.0L931.4 485.9L932.0 485.8L932.6 485.7L933.1 485.5L933.7 485.4L934.3 485.3L934.8 485.2L935.4 485.1L936.0 485.0L936.6 484.8L937.1 484.7L937.7 484.6L938.3 484.5L938.9 484.4L939.5 484.2L940.1 484.4L940.6 484.6L941.2 484.7L941.8 484.9L942.3 485.0L942.9 485.2L943.5 485.3L944.0 485.5L944.6 485.4L945.2 485.3L945.8 485.1L946.5 485.0L947.1 484.9L947.7 484.8L948.3 484.7L948.9 484.6L949.6 484.5L950.2 484.4L950.8 484.2L951.4 484.3L952.1 484.3L952.7 484.4L953.3 484.4L953.9 484.4L954.5 484.5L955.1 484.5L955.7 484.6L956.3 484.6L956.9 484.7L957.5 484.7L958.1 484.7L958.7 484.8L959.4 484.8L960.0 484.9L960.6 484.7L961.3 484.5L962.0 484.4L962.6 484.2L963.3 484.0L964.0 483.9L964.7 483.7L965.4 483.5L966.1 483.4L966.8 483.2L967.5 483.0L968.1 482.8L968.8 482.6L969.5 482.4L970.2 482.3L970.9 482.1L971.7 481.9L972.4 481.7L973.1 481.5L973.6 481.7L974.1 481.9L974.6 482.1L975.1 482.3L975.6 482.6L976.1 482.8L976.6 483.0L977.1 483.2L977.6 483.2L978.2 483.3L978.7 483.3L979.2 483.4L979.7 483.4L979.1 484.4L978.5 485.5L977.9 486.5L977.3 487.5L976.7 488.5L976.1 489.5L975.4 490.5L974.8 491.5L974.2 492.5L973.5 493.5L972.8 494.4L972.1 495.3L971.5 496.3L970.8 497.2L970.0 498.1L969.3 499.0L968.6 499.9L967.8 500.7L967.1 501.6L966.3 502.4L965.5 503.3L964.7 504.1L963.9 504.9L963.1 505.7L962.2 506.5L961.3 507.2L960.4 507.9L959.5 508.7L958.6 509.4L957.6 510.1L956.6 510.7L955.5 511.4L954.4 512.0L953.3 512.6L952.1 513.1L950.8 513.7L949.5 514.2L948.0 514.6L946.4 515.0L944.4 515.4L941.0 515.6L941.0 515.6L941.0 515.6L941.0 515.6L941.0 515.6L941.0 515.6L941.0 515.6L941.0 515.6L941.0 515.6L941.0 515.6L941.0 515.6L941.0 515.6L941.0 515.6L941.0 515.6L941.0 515.6L941.0 515.6L941.0 515.6L941.0 515.6L941.0 515.6L941.0 515.6L941.0 515.6L941.0 515.6L941.0 515.6L941.0 515.6L941.0 515.6L941.0 515.6L941.0 515.6L941.0 515.6L941.0 515.6L941.0 515.6L941.0 515.6L941.0 515.6L941.0 515.6L941.0 515.6L941.0 515.6L941.0 515.6L941.0 515.6L941.0 515.6L941.0 515.6L941.0 515.6L941.0 515.6L941.0 515.6L941.0 515.6L941.0 515.6L941.0 515.6L941.0 515.6L941.0 515.6L941.0 515.6L941.0 515.6L941.0 515.6L941.0 515.6L941.0 515.6L941.0 515.6L941.0 515.6L941.0 515.6L941.0 515.6L941.0 515.6L941.0 515.6L941.0 515.6L941.0 515.6L941.0 515.6L941.0 515.6L941.0 515.6L941.0 515.6L941.0 515.6L941.0 515.6L941.0 515.6L941.0 515.6L941.0 515.6L941.0 515.6L941.0 515.6L941.0 515.6L941.0 515.6L941.0 515.6L941.0 515.6L941.0 515.6L941.0 515.6L941.0 515.6L941.0 515.6L941.0 515.6L941.0 515.6L941.0 515.6L941.0 515.6L941.0 515.6L941.0 515.6L941.0 515.6L941.0 515.6L941.0 515.6L941.0 515.6L941.0 515.6L941.0 515.6L941.0 515.6L941.0 515.6L941.0 515.6L941.0 515.6L941.0 515.6L941.0 515.6L941.0 515.6L941.0 515.6L941.0 515.6L941.0 515.6L941.0 515.6L941.0 515.6L941.0 515.6L941.0 515.6L941.0 515.6L941.0 515.6L941.0 515.6L941.0 515.6L941.0 515.6L941.0 515.6L941.0 515.6L941.0 515.6L941.0 515.6L941.0 515.6L941.0 515.6L941.0 515.6L941.0 515.6L941.0 515.6L941.0 515.6L941.0 515.6L941.0 515.6L941.0 515.6L941.0 515.6L941.0 515.6L941.0 515.6L941.0 515.6L941.0 515.6L941.0 515.6L941.0 515.6L941.0 515.6L941.0 515.6L941.0 515.6L941.0 515.6L941.0 515.6L941.0 515.6L941.0 515.6L941.0 515.6L941.0 515.6L941.0 515.6L941.0 515.6L941.0 515.6L941.0 515.6L941.0 515.6L941.0 515.6L941.0 515.6L941.0 515.6L941.0 515.6L941.0 515.6L941.0 515.6L941.0 515.6L941.0 515.6L941.0 515.6L941.0 515.6L941.0 515.6L941.0 515.6L941.0 515.6L941.0 515.6L941.0 515.6L941.0 515.6L941.0 515.6L941.0 515.6L941.0 515.6L941.0 515.6L941.0 515.6L941.0 515.6L941.0 515.6L941.0 515.6L941.0 515.6L941.0 515.6L941.0 515.6L941.0 515.6L941.0 515.6L941.0 515.6L941.0 515.6L941.0 515.6L941.0 515.6L941.0 515.6L941.0 515.6L941.0 515.6L941.0 515.6L934.8 515.4L931.2 515.1L928.2 514.8L925.5 514.4L923.0 514.0L920.6 513.5L918.4 513.0L916.4 512.5L914.4 511.9L912.6 511.4L910.8 510.8L909.1 510.2L907.4 509.6L905.8 509.0L904.3 508.3L902.8 507.7ZM894.7 157.5L895.6 157.1L896.4 156.8L897.2 156.5L898.0 156.2L897.2 156.0L896.4 155.9L895.7 155.7L894.9 155.6L894.1 155.4L894.4 154.5L894.7 153.7L895.0 152.8L895.7 152.5L896.4 152.2L897.0 151.9L897.7 151.5L897.8 150.7L897.9 149.8L897.1 149.3L896.2 148.8L895.4 148.3L894.6 147.8L893.8 147.1L893.1 146.5L892.8 145.4L892.5 144.4L892.2 143.3L891.9 142.3L892.3 141.3L892.8 140.3L893.2 139.3L893.7 138.4L894.5 138.4L895.3 138.4L896.2 138.4L897.0 138.4L897.6 139.0L898.1 139.6L898.7 140.2L899.2 140.8L899.1 141.4L898.9 142.0L899.2 143.0L899.5 144.0L899.8 145.0L900.1 146.0L900.7 146.8L901.4 147.7L902.0 148.5L902.7 149.3L903.3 150.2L904.0 151.0L904.7 151.5L905.4 152.1L906.1 152.6L906.8 153.1L906.8 154.0L906.7 155.0L906.7 156.0L906.7 157.0L905.8 157.1L904.9 157.3L904.0 157.5L903.1 157.6L902.2 157.8L901.3 158.0L900.4 158.2L899.5 158.3L898.6 158.5L897.7 158.8L896.9 159.0L896.1 159.3L895.2 159.6L894.4 159.8L893.5 160.1L893.9 159.2L894.3 158.3L894.7 157.5ZM888.1 155.9L887.3 155.7L886.5 155.4L885.6 155.1L884.8 154.9L884.9 153.8L885.0 152.6L885.1 151.5L885.2 150.4L885.4 149.3L886.1 148.8L886.8 148.3L887.5 147.8L888.2 147.2L888.9 146.7L889.6 146.7L890.4 146.7L891.1 146.7L891.8 146.7L892.6 146.7L892.5 147.8L892.4 148.8L892.4 149.8L892.5 150.9L892.5 152.1L892.6 153.2L892.7 154.4L892.0 154.6L891.2 154.9L890.4 155.1L889.7 155.4L888.9 155.7L888.1 155.9ZM865.2 122.3L865.9 121.9L866.5 121.5L867.2 121.1L867.8 120.7L868.5 120.3L869.1 120.3L869.8 120.2L870.5 120.2L871.1 120.2L871.8 120.2L872.4 120.2L873.1 120.2L873.7 120.2L874.4 120.1L875.1 120.1L875.7 120.1L876.4 120.1L877.0 120.1L877.7 120.1L878.3 120.1L878.7 120.7L879.1 121.4L879.5 122.1L879.9 122.7L880.3 123.4L879.6 123.8L878.9 124.1L878.2 124.5L877.5 124.8L876.8 125.2L876.1 125.6L875.4 125.9L874.7 126.3L874.0 126.7L873.3 127.0L872.6 126.9L871.9 126.8L871.3 126.6L870.6 126.5L870.0 126.3L869.3 126.2L868.7 126.1L868.0 125.9L867.4 125.8L866.7 125.7L866.4 125.0L866.1 124.3L865.8 123.6L865.5 122.9L865.2 122.3ZM321.3 199.7L322.3 199.7L323.4 199.7L324.4 199.7L325.5 199.7L326.5 199.7L327.6 199.7L329.1 198.7L330.5 197.6L332.0 196.6L333.5 195.5L334.9 194.8L336.4 194.1L337.8 193.4L339.3 192.7L340.7 192.0L342.2 191.4L343.2 190.2L344.3 189.1L345.4 188.0L346.5 186.9L347.6 185.8L348.9 185.2L350.0 184.5L351.1 183.9L352.2 183.3L351.8 184.6L351.2 185.9L350.4 187.2L349.7 188.6L348.4 189.7L347.2 190.8L345.9 191.9L344.6 193.0L343.4 194.1L342.5 195.2L341.6 196.4L340.7 197.5L339.8 198.6L338.9 199.7L337.8 200.3L336.6 200.8L335.5 201.4L334.3 201.6L333.1 201.7L331.9 201.9L330.7 202.1L329.5 202.3L328.3 202.5L326.9 203.0L325.5 203.5L324.1 203.9L322.7 204.4L321.7 204.4L320.7 204.3L319.7 204.2L318.7 204.2L317.6 204.1L316.6 204.0L315.6 203.9L314.6 203.9L313.9 203.9L313.2 203.9L314.6 203.2L315.9 202.5L317.2 201.8L318.6 201.1L319.9 200.4L321.3 199.7ZM249.8 205.8L250.1 205.5L250.7 206.9L249.8 205.8ZM313.4 203.9L313.3 204.8L313.3 205.7L313.2 206.7L312.0 207.8L310.8 208.9L309.6 210.0L308.4 211.1L307.3 212.2L307.5 211.2L307.8 210.1L308.2 209.0L308.5 208.0L308.8 206.9L309.9 205.5L311.1 205.0L312.3 204.4L313.4 203.9ZM317.2 204.2L318.5 203.7L319.9 203.2L321.2 202.8L321.4 203.6L321.6 204.4L320.2 204.9L318.9 205.3L317.5 205.8L316.2 206.2L314.8 206.7L316.0 205.4L317.2 204.2ZM356.8 172.6L357.3 173.1L357.8 173.7L358.4 174.2L358.9 174.8L359.4 175.3L360.0 175.8L360.6 176.2L361.2 176.7L361.8 177.1L362.5 177.6L363.1 178.0L361.9 178.8L360.7 179.5L359.6 180.2L358.4 180.9L357.2 181.6L356.2 181.7L355.2 181.8L354.1 182.0L353.1 182.1L352.1 182.2L351.1 182.5L350.2 182.7L349.2 183.0L350.1 181.7L351.1 180.4L352.0 179.1L353.0 177.8L353.9 176.5L354.9 175.2L355.9 173.9L356.8 172.6ZM364.7 162.7L365.6 161.4L366.4 160.1L367.3 158.8L368.1 157.5L369.0 156.2L369.9 154.9L370.9 153.7L371.9 152.5L372.9 151.3L373.9 150.2L375.0 149.0L374.5 150.1L374.0 151.2L373.5 152.3L372.8 153.4L372.2 154.6L371.5 155.7L370.9 156.8L370.3 158.0L369.6 159.1L369.0 160.2L368.4 161.4L367.4 162.5L366.3 163.7L365.2 164.9L364.2 166.0L363.1 167.2L362.0 168.4L361.0 169.5L359.9 170.7L360.7 169.4L361.5 168.0L362.3 166.7L363.1 165.4L363.9 164.0L364.7 162.7ZM237.2 228.4L238.4 228.6L239.6 228.9L239.6 230.1L239.5 231.3L239.5 232.5L239.4 233.7L239.4 234.9L239.3 236.1L239.2 237.3L238.3 236.3L237.5 235.4L236.6 234.5L236.8 233.3L236.9 232.0L237.0 230.8L237.1 229.6L237.2 228.4ZM213.7 242.8L214.5 243.5L215.2 244.2L214.4 245.1L213.6 246.0L212.8 246.9L211.9 247.8L211.0 246.9L210.0 246.0L209.1 245.1L210.0 244.6L210.9 244.2L211.9 243.7L212.8 243.3L213.7 242.8ZM240.8 247.0L241.9 247.0L243.1 247.0L244.2 247.0L245.3 247.0L245.4 248.1L245.6 249.2L245.7 250.4L245.9 251.5L246.0 252.6L246.8 253.7L247.6 254.7L248.4 255.8L249.2 256.9L250.0 258.0L250.8 259.1L251.6 260.2L252.4 261.2L253.2 262.3L252.2 262.0L251.1 261.6L250.0 261.3L248.9 260.9L248.0 260.6L247.0 260.2L246.0 259.8L244.7 259.4L243.5 259.0L242.8 257.7L242.2 256.5L241.6 255.2L240.9 254.0L240.9 252.8L240.9 251.7L240.9 250.5L240.9 249.3L240.8 248.2L240.8 247.0ZM253.6 274.3L254.6 273.7L255.6 273.1L256.7 272.5L257.7 271.8L258.7 271.2L259.3 272.5L260.0 273.8L260.6 275.1L261.2 276.4L261.8 277.7L262.4 279.0L261.8 279.9L261.1 280.7L260.5 281.5L259.9 282.4L258.8 281.9L257.7 281.4L256.7 280.9L255.6 280.4L254.5 280.1L253.3 279.9L252.2 279.6L251.1 279.3L249.9 279.0L250.7 278.1L251.4 277.1L252.1 276.2L252.9 275.2L253.6 274.3ZM258.3 266.5L258.0 267.5L257.8 268.6L257.5 269.6L257.3 270.7L256.4 269.6L255.5 268.4L254.6 267.3L254.4 266.1L254.2 264.9L254.0 263.7L255.1 264.4L256.1 265.1L257.2 265.8L258.3 266.5ZM220.1 291.0L221.2 290.7L222.3 290.3L223.4 290.0L224.5 289.6L225.6 289.3L226.5 288.5L227.4 287.7L228.3 287.0L229.2 286.2L230.1 285.4L231.0 284.6L231.7 283.7L232.5 282.9L233.3 282.1L234.1 281.2L234.8 280.4L235.5 279.7L236.1 279.0L237.2 279.8L238.3 280.6L239.3 281.4L240.4 282.2L241.5 283.0L242.5 283.7L241.6 284.7L240.7 285.6L239.8 286.5L238.9 287.4L239.0 288.6L239.1 289.8L239.2 290.9L239.4 292.1L239.5 293.3L239.6 294.5L239.7 295.7L239.1 296.6L238.5 297.6L237.9 298.5L236.5 298.5L235.1 298.5L233.8 298.5L232.4 298.5L231.0 298.5L229.7 298.5L228.3 298.5L226.9 298.5L225.6 298.5L224.2 298.5L222.8 298.5L221.5 298.5L220.1 298.5L218.7 298.5L217.4 298.5L216.0 298.5L214.6 298.5L214.6 297.1L214.6 295.7L214.6 294.3L215.7 293.7L216.8 293.0L217.9 292.3L219.0 291.7L220.1 291.0ZM236.1 301.3L236.0 302.4L235.9 303.6L235.8 304.8L235.7 305.9L235.6 307.1L235.5 308.2L234.4 308.5L233.2 308.8L232.1 309.1L231.0 309.4L229.9 309.6L228.7 309.2L227.5 308.8L226.3 308.4L225.1 308.0L224.0 307.6L222.8 307.2L221.6 306.8L220.4 306.8L219.2 306.8L218.0 306.8L217.8 305.8L217.7 304.8L217.5 303.7L217.4 302.7L216.5 301.7L215.6 300.8L214.6 299.9L214.6 298.5L216.0 298.5L217.4 298.5L218.7 298.5L220.1 298.5L221.5 298.5L222.8 298.5L224.2 298.5L225.6 298.5L226.9 298.5L228.3 298.5L229.7 298.5L231.0 298.5L232.4 298.5L233.8 298.5L235.1 298.5L236.5 298.5L237.9 298.5L237.3 299.4L236.7 300.4L236.1 301.3ZM182.4 284.0L183.4 285.0L184.4 285.9L185.4 286.8L186.4 287.8L187.4 288.7L188.4 289.7L189.4 290.6L190.4 291.5L191.4 292.3L192.4 293.1L193.4 293.9L194.4 294.6L195.3 295.4L196.3 296.2L197.3 297.0L198.3 297.7L199.3 298.5L198.0 298.5L196.7 298.5L195.5 298.5L194.2 298.5L192.9 298.5L191.6 298.5L190.3 298.5L189.0 298.5L188.3 297.6L187.7 296.6L187.0 295.7L186.3 294.7L185.7 293.8L184.7 292.9L183.7 292.1L182.7 291.3L181.7 290.4L180.7 289.6L179.8 288.8L179.1 287.6L178.4 286.4L177.7 285.3L177.0 284.1L176.3 282.9L177.5 283.1L178.7 283.4L180.0 283.6L181.2 283.8L182.4 284.0ZM202.1 302.7L202.9 303.5L203.8 304.3L204.6 305.2L205.5 306.0L206.3 306.8L206.2 308.1L206.1 309.4L206.0 310.7L205.9 312.0L205.9 313.3L205.8 314.6L204.6 314.7L203.4 314.8L202.2 314.9L201.2 314.2L200.2 313.4L199.2 312.7L198.2 311.9L197.2 311.1L196.2 310.4L195.2 309.6L194.6 308.4L194.0 307.2L193.4 306.1L192.8 304.9L192.2 303.7L191.6 302.5L191.0 301.3L190.3 300.4L189.7 299.4L189.0 298.5L190.3 298.5L191.6 298.5L192.9 298.5L194.2 298.5L195.5 298.5L196.7 298.5L198.0 298.5L199.3 298.5L200.0 299.5L200.7 300.6L201.4 301.6L202.1 302.7ZM206.3 315.2L207.5 315.4L208.6 315.7L209.8 315.9L211.0 316.1L212.1 316.4L213.3 316.6L214.6 316.6L216.0 316.6L217.4 316.6L218.8 316.6L220.2 316.6L221.4 316.9L222.7 317.3L223.9 317.6L225.1 318.0L226.3 318.5L227.5 319.1L228.7 319.7L229.8 320.2L229.7 321.3L229.5 322.4L228.2 322.3L226.8 322.1L225.5 322.0L224.2 321.8L222.8 321.6L221.5 321.5L220.2 321.3L219.0 321.2L217.8 321.0L216.6 320.8L215.4 320.7L214.3 320.5L213.1 320.4L211.9 320.2L210.9 319.9L209.8 319.7L208.8 319.4L207.7 319.1L206.5 318.5L205.3 318.0L204.1 317.4L204.9 316.7L205.6 315.9L206.3 315.2ZM247.4 294.9L248.7 294.8L250.0 294.7L251.3 294.7L252.6 294.6L253.9 294.5L255.2 294.5L256.4 294.4L257.7 294.3L256.5 294.7L255.3 295.0L254.1 295.4L252.9 295.7L251.7 296.1L250.4 296.4L249.2 296.8L248.0 297.1L248.8 297.6L249.7 298.0L250.5 298.5L249.3 298.5L248.1 298.5L246.8 298.5L245.6 298.5L244.4 298.5L245.2 297.6L245.9 296.7L246.7 295.8L247.4 294.9ZM255.0 301.0L253.9 301.1L252.7 301.1L251.6 301.2L250.5 301.2L249.4 301.3L249.7 302.4L250.0 303.5L250.2 304.6L250.5 305.7L250.8 306.8L251.4 308.0L252.1 309.2L252.8 310.4L253.5 311.6L252.4 311.4L251.4 311.3L250.4 311.2L249.3 311.0L248.7 310.0L248.1 309.0L247.5 308.0L246.9 307.0L246.3 306.0L246.4 307.3L246.4 308.6L246.4 309.9L246.4 311.2L246.5 312.5L246.5 313.8L245.1 313.8L243.7 313.8L243.4 312.6L243.1 311.3L242.8 310.0L242.5 308.8L242.2 307.5L241.9 306.3L242.3 305.0L242.7 303.7L243.1 302.4L243.6 301.1L244.0 299.8L244.4 298.5L245.6 298.5L246.8 298.5L248.1 298.5L249.3 298.5L250.5 298.5L251.6 299.1L252.7 299.8L253.9 300.4L255.0 301.0ZM280.0 299.6L281.2 300.0L282.4 300.3L283.6 300.7L284.8 301.0L285.0 302.1L285.3 303.2L285.5 304.3L285.8 305.5L287.0 305.3L288.2 305.1L289.4 304.9L290.7 304.3L292.0 303.8L293.3 303.6L294.6 303.4L295.9 303.2L297.1 303.7L298.3 304.1L299.5 304.6L300.7 305.0L301.9 305.5L303.0 305.8L304.1 306.2L305.2 306.6L306.3 307.0L307.4 307.4L308.7 307.8L309.9 308.2L311.1 308.6L312.3 309.0L313.5 309.4L314.6 310.0L315.6 310.7L316.7 311.3L317.4 312.4L318.1 313.5L318.7 314.6L319.8 315.0L320.9 315.4L322.0 315.8L321.1 316.7L320.2 317.6L319.3 318.5L320.0 319.4L320.7 320.2L321.4 321.0L322.1 321.9L322.8 322.7L323.6 323.5L324.5 324.2L325.4 325.0L326.2 325.7L327.1 326.5L327.9 327.2L328.7 328.0L327.7 327.8L326.6 327.6L325.5 327.3L324.5 327.1L323.4 326.9L322.4 326.3L321.5 325.8L320.5 325.2L319.5 324.7L318.5 324.1L317.9 323.1L317.3 322.2L316.7 321.2L316.1 320.2L314.7 320.2L313.4 320.2L312.0 320.2L311.1 321.0L310.2 321.9L309.3 322.7L308.4 323.7L307.5 324.7L306.5 324.5L305.4 324.4L304.4 324.2L303.4 324.1L302.2 323.5L301.0 323.0L299.8 322.4L298.6 321.9L297.3 321.9L296.0 321.9L294.7 321.9L293.4 321.9L294.3 321.0L295.2 320.2L296.0 319.4L295.7 318.3L295.3 317.3L295.0 316.2L294.6 315.2L293.7 314.5L292.8 313.9L291.9 313.2L291.0 312.5L290.1 311.9L289.0 311.2L287.9 310.5L286.8 309.9L285.7 309.2L284.6 308.5L283.3 308.3L282.0 308.1L280.8 308.0L280.3 307.1L279.9 306.3L279.4 305.5L278.5 304.7L277.5 303.9L276.6 303.1L275.7 302.3L274.7 301.6L275.8 301.2L276.8 300.8L277.9 300.4L279.0 300.0L280.0 299.6ZM328.8 313.5L329.7 312.9L330.7 312.3L331.6 311.7L332.6 311.0L333.5 310.7L334.5 310.5L334.1 311.4L333.7 312.3L333.2 313.3L332.1 313.9L330.9 314.6L329.8 315.3L328.6 316.0L327.3 316.0L326.0 315.9L324.7 315.8L323.4 315.8L323.4 314.9L323.5 314.1L324.8 313.9L326.1 313.8L327.5 313.7L328.8 313.5ZM432.3 399.5L433.6 400.4L434.9 401.2L436.2 402.0L437.3 402.2L438.4 402.4L439.5 402.6L440.6 402.8L441.6 403.0L442.7 403.2L443.8 403.4L443.7 404.3L443.7 405.2L443.6 406.1L443.6 407.0L443.5 407.9L444.0 409.0L444.4 410.1L444.8 411.2L444.3 411.8L443.7 412.3L443.1 412.9L442.5 413.4L441.8 412.3L440.9 411.1L439.9 409.9L439.0 408.7L437.7 408.2L436.4 407.6L435.8 406.4L435.3 405.1L434.7 403.9L434.2 402.7L433.6 401.5L432.3 400.4L431.1 399.4L429.8 398.4L428.5 397.3L427.2 396.3L425.9 395.3L424.7 394.2L425.9 395.1L427.2 396.0L428.5 396.9L429.8 397.8L431.0 398.6L432.3 399.5ZM441.5 414.0L441.6 415.0L441.7 416.1L441.9 417.1L442.1 418.1L441.6 418.7L441.1 419.2L440.6 419.8L440.1 420.3L440.0 421.3L439.8 422.3L439.7 423.3L439.6 424.3L439.5 425.3L439.4 426.3L438.9 426.7L438.4 427.1L437.9 427.5L437.4 427.9L436.4 427.6L435.4 427.3L434.4 426.9L433.4 426.6L432.4 426.3L432.4 425.2L432.3 424.1L432.3 423.0L432.3 422.0L432.2 420.9L432.6 420.2L433.0 419.5L433.4 418.8L433.8 418.1L434.2 417.4L434.6 416.8L435.0 416.1L435.5 415.4L435.8 414.5L436.0 413.7L436.3 412.9L436.7 412.1L436.8 411.2L438.1 411.9L439.2 412.6L440.3 413.3L441.5 414.0ZM57.8 341.6L57.7 342.8L57.6 344.0L57.5 345.1L57.4 346.3L57.3 347.4L57.3 348.6L57.3 349.8L57.3 351.1L57.4 352.4L57.4 353.6L57.5 354.9L57.6 356.1L57.6 357.4L57.7 358.6L57.9 359.9L58.0 361.1L58.0 362.3L58.1 363.4L58.2 364.6L58.3 365.8L58.4 366.9L58.5 368.1L57.6 368.4L56.7 368.6L55.9 368.9L55.0 369.2L54.1 369.5L52.9 368.4L51.7 367.2L50.6 366.1L49.4 365.0L48.2 363.9L47.8 362.7L47.5 361.5L47.1 360.3L46.8 359.0L46.5 357.8L46.2 356.6L45.9 355.4L45.6 354.2L45.0 353.0L44.4 351.8L43.9 350.7L43.3 349.5L42.8 348.4L42.2 347.2L42.9 346.5L43.7 345.9L44.4 345.2L45.1 344.5L45.9 343.8L46.6 343.1L47.4 342.5L47.7 341.4L48.1 340.3L48.4 339.3L48.8 338.2L49.2 337.1L49.6 336.1L50.2 335.0L50.9 334.0L51.5 332.9L52.2 331.9L52.8 333.1L53.5 334.3L54.2 335.6L54.9 336.8L55.7 338.0L56.4 339.2L57.1 340.4L57.8 341.6ZM133.6 271.2L134.7 272.1L135.7 273.0L136.7 273.9L137.8 274.8L138.0 275.9L138.3 276.9L138.6 278.0L138.9 279.0L138.1 279.8L137.2 280.5L136.4 281.3L135.6 282.1L134.5 281.7L133.4 281.2L133.4 280.0L133.4 278.7L133.5 277.5L133.5 276.2L133.5 275.0L133.6 273.7L133.6 272.5L133.6 271.2ZM668.5 234.2L669.6 234.3L670.7 234.3L671.8 234.3L672.9 234.4L674.0 234.4L675.0 234.5L675.6 235.6L676.1 236.6L676.5 237.7L675.5 237.4L674.4 237.2L673.3 237.0L672.2 236.7L671.0 236.8L669.8 237.0L668.6 237.1L667.4 237.2L666.2 237.3L665.0 237.4L663.8 237.6L664.6 237.0L665.4 236.4L666.2 235.9L667.0 235.3L667.7 234.8L668.5 234.2ZM711.9 238.7L712.7 239.2L713.5 239.7L714.3 240.2L715.2 240.7L716.0 241.2L716.8 241.8L717.7 242.3L716.4 242.4L715.1 242.5L713.8 242.6L712.6 242.8L711.3 242.9L710.0 243.0L708.7 243.1L708.5 242.0L708.3 240.9L708.1 239.8L708.0 238.7L707.1 238.4L706.3 238.2L705.4 237.9L704.5 237.7L705.0 236.6L705.5 235.6L706.0 234.5L706.8 235.1L707.7 235.7L708.5 236.3L709.3 236.9L710.2 237.5L711.0 238.1L711.9 238.7ZM721.3 243.1L722.4 243.2L723.6 243.3L724.7 243.4L725.8 243.5L727.0 243.6L728.1 243.7L728.8 244.3L729.5 244.9L730.2 245.5L730.9 246.1L731.6 246.7L730.2 247.1L728.9 247.5L727.6 247.9L726.2 248.3L724.9 248.7L723.5 249.1L722.2 249.5L721.1 249.3L719.9 249.1L718.8 249.0L717.7 248.8L716.6 248.6L715.4 248.4L715.0 247.3L716.3 246.5L717.5 245.6L718.8 244.8L720.0 244.0L721.3 243.1ZM710.1 247.8L709.3 248.3L708.4 248.7L707.5 248.4L706.5 248.1L705.6 247.8L705.0 247.3L706.0 247.4L707.0 247.5L708.0 247.6L709.0 247.7L710.1 247.8ZM738.4 247.6L737.7 248.4L736.4 248.4L735.2 248.4L734.0 248.4L734.4 247.0L735.4 247.2L736.4 247.3L737.4 247.4L738.4 247.6ZM792.2 162.2L793.2 161.2L794.3 160.2L795.4 159.2L796.4 158.2L797.5 157.7L798.6 157.1L799.6 156.5L800.7 155.9L800.3 157.0L799.9 158.0L799.6 159.0L799.2 160.1L799.9 160.4L800.6 160.7L801.4 161.1L802.1 161.4L802.0 162.4L801.9 163.5L801.8 164.6L801.7 165.6L801.6 166.7L800.8 167.9L800.1 169.1L799.5 168.6L798.9 168.2L798.4 167.7L797.8 167.2L796.8 167.6L795.7 167.9L794.6 168.3L794.6 167.4L794.6 166.4L793.6 166.4L792.6 166.4L791.7 166.4L790.7 166.4L789.7 166.4L788.7 166.4L789.6 165.4L790.4 164.3L791.3 163.2L792.2 162.2ZM538.9 157.7L539.8 158.3L540.6 158.9L541.4 159.6L542.3 160.2L543.1 160.8L544.0 161.4L544.8 162.1L545.7 162.8L546.6 163.6L547.5 164.3L546.7 164.2L545.9 164.1L545.1 164.0L544.3 163.5L543.4 163.0L542.5 162.4L541.6 161.9L540.7 161.4L539.9 160.9L539.1 160.5L538.3 160.0L537.4 159.6L536.9 158.8L536.4 158.0L537.2 157.9L538.1 157.8L538.9 157.7ZM479.7 244.0L480.0 243.1L480.3 242.3L481.2 242.8L482.2 243.4L483.1 244.0L482.6 244.8L481.6 244.5L480.7 244.2L479.7 244.0ZM478.5 241.2L479.1 240.3L480.1 240.3L479.3 240.8L478.5 241.2ZM475.0 239.5L474.5 238.4L475.1 238.8L475.8 239.2L475.0 239.5ZM471.2 237.6L470.7 237.0L471.8 236.7L471.2 237.6ZM906.6 93.7L906.9 93.7L907.3 93.6L907.6 93.6L908.0 93.6L908.3 93.5L908.6 93.5L909.0 93.5L909.3 93.4L909.6 93.4L910.0 93.3L910.3 93.3L910.6 93.3L911.0 93.2L911.4 93.3L911.8 93.3L912.2 93.4L912.6 93.4L913.0 93.5L913.5 93.5L913.9 93.5L914.3 93.6L914.7 93.6L915.1 93.7L915.6 93.7L915.6 94.0L915.5 94.3L915.5 94.6L915.4 94.9L915.4 95.2L915.3 95.6L915.2 95.9L915.1 96.2L915.0 96.5L914.9 96.8L914.8 97.1L914.6 97.4L914.3 97.6L914.1 97.8L913.9 98.1L913.7 98.3L913.4 98.6L913.2 98.8L912.9 99.1L912.7 99.3L912.4 99.6L912.1 99.8L911.5 99.6L910.9 99.4L910.3 99.2L909.7 99.0L909.2 98.8L908.6 98.6L908.0 98.4L907.4 98.1L906.9 97.9L906.3 97.7L905.7 97.5L905.2 97.3L904.7 97.1L904.9 96.8L905.1 96.5L905.3 96.2L905.5 95.9L905.7 95.6L905.9 95.2L906.0 94.9L906.2 94.6L906.3 94.3L906.5 94.0L906.6 93.7ZM104.1 105.5L104.8 105.0L105.6 104.5L106.3 104.0L107.0 103.5L107.8 103.1L108.5 102.6L109.1 102.3L109.8 101.9L110.4 101.6L111.0 101.3L111.7 101.0L112.3 100.6L112.9 100.3L113.5 100.0L114.0 99.9L114.5 99.8L115.0 99.8L115.4 99.7L115.9 99.6L116.4 99.6L116.9 99.5L117.3 99.4L117.8 99.3L118.3 99.3L118.7 99.2L119.2 99.2L119.7 99.2L120.1 99.1L120.6 99.1L121.0 99.1L121.5 99.0L121.9 99.0L122.4 99.0L122.8 98.9L123.3 98.9L122.9 99.5L122.6 100.1L122.2 100.7L121.8 100.8L121.3 100.9L120.8 101.0L120.3 101.1L119.8 101.2L119.3 101.3L118.8 101.4L118.3 101.5L117.8 101.6L117.3 101.7L116.8 101.9L116.2 102.1L115.7 102.3L115.1 102.5L114.5 102.7L114.0 102.9L113.4 103.1L112.8 103.3L112.3 103.5L111.6 103.9L111.0 104.3L110.3 104.7L109.7 105.1L109.0 105.5L108.4 105.9L107.8 106.5L107.2 107.2L106.6 107.8L106.0 108.5L106.0 109.1L106.0 109.7L106.0 110.3L106.0 110.9L105.5 111.0L104.9 111.1L104.4 111.2L103.8 111.3L103.2 111.4L102.6 111.5L102.2 111.3L101.8 111.0L101.4 110.8L101.0 110.6L100.6 110.3L100.2 110.1L99.8 109.9L100.5 109.1L101.2 108.4L101.9 107.7L102.7 106.9L103.4 106.2L104.1 105.5ZM146.7 91.5L147.2 91.7L147.8 92.0L148.3 92.3L148.8 92.6L149.4 92.9L149.9 93.2L150.5 93.4L151.1 93.7L151.6 94.0L152.2 94.3L152.8 94.6L153.4 94.9L154.0 95.2L154.6 95.5L155.3 95.8L155.9 96.1L155.5 96.2L155.2 96.4L154.9 96.5L154.5 96.7L154.2 96.9L153.8 97.0L153.5 97.2L153.1 97.3L152.8 97.5L152.2 97.3L151.7 97.1L151.2 96.9L150.7 96.7L150.2 96.5L149.7 96.3L149.1 96.2L148.6 96.0L148.2 95.8L147.7 95.6L147.2 95.4L146.7 95.2L146.2 94.7L145.7 94.2L145.1 93.7L144.6 93.2L144.2 92.7L143.7 92.3L144.0 92.2L144.3 92.1L144.6 92.0L144.9 91.9L145.2 91.9L145.5 91.8L145.8 91.7L146.1 91.6L146.4 91.6L146.7 91.5ZM426.1 101.1L426.3 101.2L426.6 101.3L426.8 101.5L427.1 101.6L427.4 101.7L427.6 101.8L427.9 102.0L428.2 102.1L428.4 102.2L427.6 102.5L426.7 102.7L425.9 102.9L425.0 103.2L424.2 103.4L423.3 103.7L422.4 103.9L421.5 104.2L420.7 104.4L419.8 104.6L418.9 104.9L419.0 104.5L419.1 104.2L419.2 103.8L419.3 103.4L419.4 103.1L419.5 102.7L419.7 102.4L419.8 102.0L420.0 101.7L420.5 101.6L421.1 101.6L421.7 101.5L422.2 101.5L422.8 101.4L423.3 101.3L423.9 101.3L424.4 101.2L425.0 101.2L425.5 101.1L426.1 101.1ZM462.7 110.1L462.1 110.2L461.6 110.3L461.0 110.4L460.4 110.5L459.9 110.6L459.3 110.7L459.0 110.4L458.7 110.1L458.5 109.8L458.2 109.5L458.7 109.5L459.2 109.6L459.7 109.7L460.2 109.7L460.7 109.8L461.2 109.9L461.7 109.9L462.2 110.0L462.7 110.1ZM568.9 105.5L569.4 105.4L569.9 105.4L570.3 105.4L570.8 105.3L571.2 105.3L571.7 105.3L572.1 105.2L572.6 105.2L573.1 105.2L573.5 105.1L574.0 105.1L575.5 106.1L576.9 107.0L578.4 108.0L579.8 109.0L581.3 110.0L582.7 111.1L584.0 112.1L585.4 113.1L584.7 112.9L584.1 112.7L583.4 112.6L582.8 112.6L582.1 112.6L581.5 112.6L580.8 112.6L580.2 112.6L579.6 112.6L578.9 112.6L578.3 112.6L577.7 112.6L577.0 112.6L576.4 112.6L575.2 111.9L574.0 111.3L572.9 110.6L571.7 110.0L570.5 109.3L569.4 108.7L568.2 108.1L567.0 107.5L565.8 106.8L564.5 106.1L563.3 105.5L563.9 105.5L564.4 105.5L565.0 105.5L565.6 105.5L566.1 105.5L566.7 105.5L567.2 105.5L567.8 105.5L568.4 105.5L568.9 105.5ZM809.0 106.9L809.2 107.1L809.3 107.4L809.4 107.7L809.5 108.0L809.7 108.3L809.8 108.6L810.0 108.9L810.1 109.2L810.3 109.5L810.5 109.8L810.7 110.1L810.9 110.4L811.1 110.7L811.4 111.0L811.6 111.3L811.9 111.6L812.1 111.9L812.1 112.4L812.1 112.9L812.1 113.4L812.2 113.8L812.2 114.3L812.3 114.8L812.3 115.3L812.4 115.8L812.5 116.3L812.6 116.8L812.8 117.2L813.1 117.6L813.3 118.0L813.6 118.4L813.8 118.8L814.1 119.2L814.4 119.6L814.7 120.1L813.6 120.6L812.6 121.2L811.5 121.8L810.5 122.3L809.4 122.9L808.4 123.5L807.3 124.1L806.2 124.9L805.1 125.8L804.0 126.7L802.9 127.6L801.8 128.5L800.7 129.3L799.9 129.3L799.2 129.3L798.4 129.3L797.6 129.3L796.9 129.3L796.1 129.3L795.3 129.3L794.9 129.0L794.5 128.6L794.1 128.3L793.7 127.9L793.4 127.6L793.0 127.2L792.6 126.8L792.3 126.5L791.9 126.1L791.6 125.8L791.2 125.4L790.6 125.4L789.9 125.3L789.3 125.3L788.6 125.2L788.0 125.2L787.3 125.1L786.7 125.1L786.1 125.0L785.4 125.0L786.4 124.6L787.4 124.3L788.4 124.0L789.4 123.6L790.4 123.3L791.3 122.9L792.3 122.6L793.3 122.3L794.4 121.4L795.5 120.6L796.6 119.7L797.7 118.9L798.9 118.1L800.0 117.2L799.7 116.9L799.3 116.7L799.0 116.4L798.7 116.1L798.4 115.8L798.1 115.6L797.8 115.3L797.5 115.0L797.2 114.7L797.0 114.5L796.7 114.2L796.4 113.9L796.2 113.7L795.9 113.4L795.7 113.1L797.0 112.1L798.4 111.1L799.8 110.0L801.2 109.0L802.7 108.0L804.1 107.0L805.6 106.1L807.1 105.1L807.3 105.3L807.5 105.5L807.7 105.7L807.9 105.9L808.1 106.1L808.4 106.3L808.6 106.5L808.8 106.7L809.0 106.9ZM532.9 105.5L533.5 105.5L534.0 105.5L534.6 105.5L535.1 105.5L535.7 105.5L536.3 105.5L536.8 105.5L537.4 105.5L538.0 105.5L538.5 105.5L539.1 105.5L539.6 105.5L540.2 105.5L540.8 105.5L541.3 105.5L541.9 105.5L542.5 105.5L543.0 105.5L543.6 105.5L544.2 105.5L544.7 105.5L545.3 105.5L545.8 105.5L546.4 105.5L547.4 106.1L548.5 106.8L549.5 107.5L550.5 108.1L551.6 108.8L552.6 109.5L553.7 110.1L554.7 110.8L555.8 111.5L556.8 112.2L557.9 112.9L558.9 113.6L558.5 113.8L558.1 113.9L557.6 114.1L557.2 114.3L556.8 114.4L556.3 114.6L555.9 114.7L555.4 114.9L555.0 115.1L554.3 115.0L553.7 115.0L553.0 114.9L552.4 114.9L551.7 114.8L551.0 114.8L550.4 114.7L549.7 114.7L549.1 114.6L548.4 114.6L547.8 114.5L547.1 114.5L546.5 114.4L545.8 114.4L545.2 114.3L544.5 114.3L543.9 114.2L543.1 113.8L542.3 113.4L541.5 113.0L540.7 112.6L539.9 112.2L539.1 111.8L538.3 111.4L537.5 111.0L536.7 110.6L536.0 110.2L535.2 109.9L534.4 109.5L534.2 108.7L533.9 107.9L533.6 107.1L533.2 106.3L532.9 105.5ZM554.3 99.3L553.5 99.0L552.6 98.7L551.7 98.4L550.8 98.2L550.0 97.9L549.1 97.6L548.3 97.3L547.4 97.1L546.6 96.8L545.7 96.5L544.9 96.3L544.6 95.8L544.2 95.4L543.9 95.0L543.5 94.6L543.1 94.1L542.7 93.7L542.2 93.3L541.8 92.9L541.3 92.5L540.8 92.1L540.3 91.7L539.8 91.3L540.0 91.3L540.2 91.2L540.5 91.2L540.7 91.1L540.9 91.0L541.1 91.0L541.3 90.9L541.6 90.9L541.8 90.8L542.0 90.8L542.2 90.7L542.4 90.7L542.6 90.6L542.8 90.5L543.0 90.5L543.2 90.4L543.4 90.4L543.6 90.3L543.8 90.3L543.9 90.2L544.1 90.2L546.1 90.9L548.1 91.7L550.0 92.5L551.9 93.3L553.7 94.1L555.5 94.9L557.3 95.8L559.1 96.6L560.8 97.5L562.5 98.4L564.1 99.3L565.8 100.2L565.2 100.1L564.7 100.1L564.1 100.0L563.6 100.0L563.0 100.0L562.5 99.9L561.9 99.9L561.4 99.8L560.8 99.8L560.3 99.7L559.7 99.7L559.2 99.7L558.6 99.6L558.1 99.6L557.6 99.5L557.0 99.5L556.5 99.4L556.0 99.4L555.4 99.3L554.9 99.3L554.3 99.3ZM846.5 89.1L846.6 89.1L846.7 89.2L846.8 89.3L846.9 89.4L847.0 89.5L847.2 89.6L847.3 89.7L847.4 89.7L847.5 89.8L847.6 89.9L847.8 90.0L847.9 90.1L848.0 90.2L848.2 90.3L848.3 90.4L848.5 90.5L848.6 90.5L847.8 90.8L847.0 91.0L846.2 91.3L845.4 91.5L844.6 91.8L843.8 92.0L842.9 92.3L842.1 92.5L841.3 92.8L840.4 93.1L839.6 93.3L838.7 93.6L837.9 93.8L837.0 94.1L836.1 94.4L835.2 94.6L834.4 94.9L833.5 95.2L832.6 95.4L831.7 95.7L830.8 96.0L829.9 96.3L829.1 96.5L828.3 96.7L827.4 96.9L826.6 97.2L825.7 97.4L824.9 97.6L824.0 97.8L823.2 98.1L822.3 98.3L821.5 98.5L820.6 98.8L819.7 99.0L818.9 99.2L818.0 99.5L817.1 99.7L816.2 99.9L815.3 100.2L816.9 99.3L818.6 98.4L820.3 97.5L822.0 96.6L823.8 95.8L825.5 94.9L827.3 94.1L829.2 93.3L831.1 92.5L833.0 91.7L834.9 90.9L836.9 90.2L837.4 90.1L837.9 90.1L838.4 90.0L838.8 90.0L839.3 89.9L839.8 89.8L840.2 89.8L840.7 89.7L841.2 89.7L841.6 89.6L842.1 89.6L842.5 89.5L843.0 89.5L843.4 89.4L843.9 89.4L844.3 89.3L844.8 89.3L845.2 89.2L845.7 89.2L846.1 89.1L846.5 89.1ZM527.1 103.5L527.7 103.7L528.4 103.9L529.0 104.1L529.6 104.3L530.3 104.4L530.9 104.6L531.5 104.8L532.2 105.0L532.8 105.1L533.5 105.3L534.1 105.5L534.8 105.7L535.4 105.9L535.2 106.2L534.9 106.5L534.6 106.8L534.3 107.2L534.0 107.5L533.7 107.8L533.4 108.1L533.0 108.5L532.7 108.8L532.4 109.1L532.0 109.5L531.4 109.4L530.8 109.3L530.2 109.3L529.7 109.2L529.1 109.1L528.5 109.1L527.9 109.0L527.3 108.9L526.7 108.9L526.1 108.8L525.6 108.7L525.0 108.7L525.2 108.2L525.4 107.7L525.7 107.2L525.9 106.8L526.1 106.3L526.3 105.8L526.5 105.4L526.7 104.9L526.8 104.5L527.0 104.0L527.1 103.5ZM558.5 103.5L557.5 103.1L556.4 102.7L555.4 102.3L554.3 101.9L553.3 101.4L552.3 101.0L551.3 100.6L550.3 100.2L549.2 99.8L549.7 99.8L550.2 99.8L550.7 99.8L551.2 99.8L551.7 99.8L552.2 99.8L552.7 99.8L553.2 99.8L553.7 99.8L554.2 99.8L554.7 99.8L555.2 99.8L555.7 99.8L556.2 99.8L556.7 99.8L557.2 99.8L557.7 99.8L558.2 99.8L558.7 99.8L559.2 99.8L559.7 99.8L560.2 99.8L560.6 99.8L561.1 99.8L561.6 99.8L562.1 99.8L562.6 99.8L563.1 99.8L564.5 100.4L565.9 101.0L567.3 101.7L568.7 102.3L570.1 102.9L571.5 103.5L571.0 103.5L570.4 103.5L569.9 103.5L569.3 103.5L568.8 103.5L568.3 103.5L567.7 103.5L567.2 103.5L566.6 103.5L566.1 103.5L565.5 103.5L565.0 103.5L564.5 103.5L563.9 103.5L563.4 103.5L562.8 103.5L562.3 103.5L561.8 103.5L561.2 103.5L560.7 103.5L560.1 103.5L559.6 103.5L559.1 103.5L558.5 103.5ZM587.7 125.2L587.8 124.6L587.9 124.0L587.9 123.5L588.0 122.9L588.0 122.3L588.0 121.7L588.1 121.2L589.1 121.7L590.2 122.1L591.3 122.6L592.4 123.1L593.5 123.6L594.5 124.1L595.6 124.6L596.7 125.2L597.8 125.7L597.1 125.6L596.4 125.6L595.7 125.6L594.9 125.5L594.2 125.5L593.5 125.5L592.8 125.4L592.0 125.4L591.3 125.4L590.6 125.3L589.9 125.3L589.2 125.3L588.4 125.2L587.7 125.2ZM695.2 440.0L694.9 440.8L694.6 441.6L693.7 441.9L692.7 442.2L691.7 442.6L690.7 442.9L690.2 442.6L689.7 442.2L689.2 441.9L688.7 441.6L689.6 441.4L690.6 441.2L691.5 440.9L692.4 440.7L693.4 440.5L694.3 440.3L695.2 440.0ZM677.0 449.0L676.1 449.2L675.3 449.5L674.4 449.8L673.6 450.0L672.7 450.3L672.0 450.2L671.2 450.1L670.5 450.1L669.8 450.0L669.0 449.9L668.3 449.9L667.5 449.8L666.8 449.8L666.4 449.1L666.0 448.5L665.6 447.9L665.2 447.2L664.7 446.6L664.3 446.0L665.2 445.7L666.1 445.5L667.0 445.2L667.9 444.9L668.9 444.7L669.8 444.4L670.7 444.2L671.6 444.0L672.6 443.8L673.5 443.7L673.9 444.3L674.3 444.9L674.7 445.5L675.1 446.0L675.5 446.6L675.9 447.2L676.3 447.8L676.6 448.4L677.0 449.0ZM941.3 191.9L941.3 193.0L941.3 194.1L941.3 195.2L941.4 196.4L940.2 195.8L939.1 195.3L938.0 194.8L936.8 194.3L935.7 193.8L934.6 193.3L935.6 193.1L936.5 192.9L937.5 192.7L938.4 192.5L939.4 192.3L940.3 192.1L941.3 191.9ZM927.0 184.4L927.1 185.5L927.3 186.6L927.4 187.7L927.6 188.8L927.7 190.0L926.9 190.0L926.0 190.0L925.2 190.0L924.8 188.8L924.5 187.7L924.2 186.6L923.9 185.5L923.6 184.4L924.5 184.4L925.3 184.4L926.2 184.4L927.0 184.4ZM925.4 178.9L925.6 179.8L925.8 180.7L926.0 181.6L925.7 182.5L925.4 183.3L924.8 182.6L924.1 181.9L924.0 181.1L923.9 180.2L924.6 179.6L925.4 178.9ZM967.8 200.3L967.1 200.5L966.3 200.8L965.5 201.1L964.8 201.4L963.7 201.0L962.6 200.6L961.4 200.3L962.5 200.3L963.6 200.3L964.6 200.3L965.7 200.3L966.7 200.3L967.8 200.3ZM982.1 200.8L982.9 200.5L983.7 200.1L984.6 199.8L985.4 199.5L986.2 199.1L986.0 200.3L985.8 201.4L985.1 201.6L984.5 201.9L983.9 202.2L983.1 202.2L982.3 202.2L982.2 201.5L982.1 200.8ZM525.3 105.1L525.8 104.9L526.2 104.8L526.6 104.6L527.0 104.4L527.4 104.3L527.8 104.1L528.2 103.9L529.0 104.3L529.7 104.6L530.4 105.0L531.1 105.3L531.9 105.7L532.6 106.1L532.6 106.6L532.5 107.2L532.4 107.8L532.3 108.3L532.2 108.9L532.0 109.5L531.6 109.6L531.1 109.7L530.6 109.8L530.1 109.9L529.7 110.0L529.2 110.2L528.7 110.3L528.0 110.0L527.3 109.6L526.6 109.3L525.9 109.0L525.2 108.7L525.3 108.1L525.3 107.5L525.3 106.9L525.3 106.3L525.3 105.7L525.3 105.1ZM532.9 107.9L533.3 107.6L533.6 107.4L534.0 107.2L534.3 107.0L534.7 106.7L535.0 106.5L535.4 106.3L535.7 106.1L536.0 105.9L536.6 105.9L537.1 105.9L537.7 105.9L538.3 105.9L538.8 105.9L539.4 105.9L540.0 105.9L540.5 105.9L541.1 105.9L541.7 105.9L542.3 105.9L542.8 105.9L543.4 105.9L544.0 105.9L544.5 105.9L545.1 105.9L545.9 106.3L546.7 106.7L547.5 107.1L548.3 107.5L549.2 107.9L550.2 108.3L551.1 108.7L552.0 109.2L553.0 109.6L553.9 110.0L554.8 110.5L555.8 110.9L556.8 111.8L557.9 112.7L558.9 113.6L558.5 113.8L558.1 113.9L557.7 114.1L557.2 114.2L556.8 114.4L556.4 114.5L555.9 114.7L555.5 114.9L554.8 114.8L554.2 114.7L553.6 114.7L552.9 114.6L552.3 114.5L551.6 114.4L551.0 114.4L550.4 114.3L549.7 114.2L549.1 114.3L548.5 114.3L547.9 114.3L547.3 114.4L546.7 114.4L546.1 114.5L545.5 114.5L544.9 114.5L544.3 114.6L543.7 114.6L543.1 114.7L542.4 114.4L541.7 114.2L540.9 113.9L540.2 113.7L539.5 113.5L538.8 113.2L538.1 113.0L537.4 112.8L536.8 112.2L536.2 111.7L535.6 111.1L534.9 110.3L534.3 109.5L533.6 108.7L532.9 107.9ZM550.3 105.5L550.8 105.4L551.2 105.3L551.6 105.3L552.1 105.2L552.5 105.2L552.9 105.1L553.3 105.0L553.8 105.0L554.2 104.9L555.2 105.5L556.2 106.2L557.2 106.8L558.3 107.5L558.4 108.0L558.5 108.5L558.6 109.0L558.7 109.5L558.0 109.4L557.4 109.3L556.8 109.2L556.2 109.1L555.6 109.0L555.0 108.9L554.4 108.9L553.6 108.5L552.8 108.2L552.0 107.8L551.2 107.5L551.0 106.8L550.7 106.1L550.3 105.5ZM557.1 105.5L557.5 105.4L558.0 105.3L558.4 105.3L558.8 105.2L559.2 105.1L559.6 105.1L560.1 105.0L560.5 104.9L560.9 104.8L561.3 104.8L561.7 104.7L561.8 105.1L561.9 105.5L562.0 106.0L562.1 106.4L562.1 106.8L562.2 107.2L562.2 107.7L561.9 107.9L561.6 108.1L561.3 108.3L560.9 108.5L560.0 107.7L559.0 107.0L558.1 106.2L557.1 105.5ZM562.6 112.8L563.4 113.0L564.2 113.2L565.0 113.5L565.7 113.7L566.5 114.0L567.3 114.2L566.9 114.4L566.4 114.5L566.0 114.6L565.5 114.8L565.1 114.9L564.7 115.0L564.2 115.2L563.7 115.3L563.5 114.7L563.2 114.0L562.9 113.4L562.6 112.8ZM558.5 103.5L557.6 103.3L556.8 103.0L555.9 102.7L555.1 102.4L554.2 102.1L553.4 101.8L552.5 101.6L551.7 101.3L550.8 101.0L550.0 100.7L550.4 100.7L550.8 100.6L551.2 100.6L551.6 100.5L552.0 100.4L552.4 100.4L552.8 100.3L553.1 100.3L553.5 100.2L553.9 100.2L554.3 100.1L554.7 100.0L555.1 100.0L555.4 99.9L555.8 99.9L556.2 99.8L556.7 99.8L557.2 99.8L557.7 99.9L558.3 99.9L558.8 99.9L559.3 99.9L559.8 100.0L560.3 100.0L560.9 100.0L561.4 100.0L561.9 100.0L562.4 100.1L562.9 100.1L563.5 100.1L564.0 100.1L564.5 100.1L565.0 100.2L565.6 100.2L567.1 101.0L568.6 101.8L570.0 102.7L571.5 103.5L571.0 103.5L570.4 103.5L569.9 103.5L569.3 103.5L568.8 103.5L568.3 103.5L567.7 103.5L567.2 103.5L566.6 103.5L566.1 103.5L565.5 103.5L565.0 103.5L564.5 103.5L563.9 103.5L563.4 103.5L562.8 103.5L562.3 103.5L561.8 103.5L561.2 103.5L560.7 103.5L560.1 103.5L559.6 103.5L559.1 103.5L558.5 103.5ZM554.7 99.8L554.4 99.4L554.1 98.9L553.8 98.5L553.4 98.0L553.1 97.6L552.7 97.1L551.6 96.7L550.5 96.4L549.5 96.0L548.4 95.6L547.3 95.2L546.2 94.8L545.2 94.5L544.1 94.1L543.1 93.7L542.3 93.2L541.5 92.6L540.7 92.1L539.9 91.6L539.0 91.1L538.1 90.5L538.3 90.5L538.4 90.4L538.6 90.3L538.7 90.3L538.9 90.2L539.1 90.1L539.2 90.0L539.4 90.0L539.5 89.9L539.6 89.8L539.8 89.8L539.9 89.7L540.1 89.6L540.2 89.5L540.3 89.5L540.4 89.4L540.6 89.3L540.7 89.3L540.8 89.2L540.9 89.1L541.0 89.1L543.1 89.8L545.1 90.5L547.1 91.3L549.1 92.1L551.0 92.9L552.9 93.7L554.7 94.6L556.5 95.4L558.3 96.3L560.1 97.1L561.8 98.0L563.5 98.9L565.1 99.8L564.6 99.8L564.1 99.8L563.6 99.8L563.1 99.8L562.6 99.8L562.1 99.8L561.6 99.8L561.1 99.8L560.6 99.8L560.2 99.8L559.7 99.8L559.2 99.8L558.7 99.8L558.2 99.8L557.7 99.8L557.2 99.8L556.7 99.8L556.2 99.8L555.7 99.8L555.2 99.8L554.7 99.8ZM847.1 89.3L847.0 89.5L846.9 89.7L846.8 89.9L846.8 90.1L846.7 90.2L846.6 90.4L846.6 90.6L846.5 90.8L846.5 91.0L846.4 91.1L846.4 91.3L845.7 91.5L844.9 91.7L844.2 91.9L843.4 92.2L842.7 92.4L841.9 92.6L841.1 92.8L840.3 93.0L839.6 93.2L838.8 93.5L838.0 93.7L837.2 93.9L836.4 94.1L835.6 94.3L834.8 94.6L834.1 94.7L833.4 94.9L832.8 95.0L832.1 95.2L831.4 95.3L830.7 95.5L830.0 95.6L829.3 95.8L828.6 95.9L827.9 96.1L827.2 96.3L826.2 96.6L825.2 96.9L824.2 97.2L823.2 97.5L822.2 97.8L821.2 98.2L820.1 98.5L819.1 98.8L818.1 99.1L817.0 99.5L816.0 99.8L817.6 98.9L819.3 98.0L821.0 97.1L822.8 96.3L824.5 95.4L826.3 94.6L828.2 93.7L830.1 92.9L832.0 92.1L833.9 91.3L835.9 90.5L838.0 89.8L840.1 89.1L840.3 89.1L840.6 89.1L840.9 89.1L841.2 89.1L841.5 89.1L841.7 89.1L842.0 89.1L842.3 89.1L842.6 89.2L842.9 89.2L843.1 89.2L843.4 89.2L843.7 89.2L844.0 89.2L844.3 89.2L844.6 89.2L844.8 89.3L845.1 89.3L845.4 89.3L845.7 89.3L846.0 89.3L846.3 89.3L846.6 89.3L846.8 89.3L847.1 89.3ZM540.4 91.8L541.2 92.0L542.0 92.2L542.9 92.5L543.7 92.7L544.5 92.9L545.3 93.1L546.1 93.4L547.0 93.6L547.8 93.8L548.7 94.1L548.7 94.2L548.7 94.4L548.7 94.6L548.6 94.8L548.6 95.0L548.6 95.2L548.5 95.4L548.5 95.6L548.4 95.8L548.4 96.0L548.3 96.2L548.2 96.4L548.2 96.6L547.2 96.2L546.2 95.8L545.2 95.5L544.2 95.1L543.2 94.7L542.2 94.4L541.3 94.0L540.3 93.6L539.3 93.3L538.4 92.9L538.6 92.8L538.7 92.7L538.9 92.6L539.1 92.5L539.3 92.4L539.5 92.3L539.6 92.3L539.8 92.2L540.0 92.1L540.1 92.0L540.3 91.9L540.4 91.8ZM536.9 103.5L536.3 103.4L535.6 103.3L535.0 103.2L534.4 103.0L533.8 102.9L533.3 102.8L532.7 102.7L532.1 102.5L531.5 102.4L530.9 102.3L530.3 102.2L529.7 102.0L529.6 101.5L529.4 100.9L529.1 100.4L528.9 99.8L529.4 99.8L529.8 99.7L530.2 99.7L530.6 99.7L531.1 99.6L531.5 99.6L531.9 99.6L532.3 99.5L532.8 99.5L533.2 99.4L533.6 99.4L534.0 99.4L534.5 99.3L534.9 99.3L535.3 99.3L536.0 99.5L536.7 99.8L537.5 100.1L538.2 100.3L538.9 100.6L539.7 100.8L540.4 101.1L541.1 101.4L541.9 101.7L541.6 101.8L541.2 101.9L540.9 102.1L540.5 102.2L540.2 102.3L539.8 102.5L539.5 102.6L539.1 102.7L538.7 102.9L538.4 103.0L538.0 103.1L537.6 103.3L537.2 103.4L536.9 103.5ZM527.6 98.9L527.4 99.1L527.2 99.4L526.9 99.6L526.7 99.8L526.4 100.0L526.2 100.3L525.9 100.5L525.7 100.7L525.1 100.6L524.6 100.4L524.1 100.3L523.5 100.1L523.0 100.0L522.5 99.8L522.8 99.6L523.1 99.4L523.4 99.2L523.6 99.0L523.9 98.8L524.2 98.6L524.5 98.4L524.7 98.2L525.0 98.0L525.5 98.2L526.0 98.4L526.6 98.5L527.1 98.7L527.6 98.9ZM549.2 103.0L548.5 102.8L547.9 102.7L547.2 102.5L546.6 102.4L546.0 102.2L545.3 102.1L544.7 101.9L544.1 101.8L543.5 101.7L543.7 101.4L543.9 101.2L544.1 101.0L544.3 100.8L544.5 100.6L544.7 100.4L544.9 100.2L545.1 100.0L545.3 99.8L545.9 100.0L546.6 100.2L547.2 100.4L547.8 100.5L548.5 100.7L548.6 101.2L548.8 101.6L548.9 102.1L549.1 102.5L549.2 103.0ZM552.4 103.0L552.2 102.5L552.0 102.1L551.8 101.7L552.4 101.8L553.1 102.0L553.7 102.2L554.4 102.4L555.1 102.6L554.7 102.6L554.3 102.7L553.9 102.8L553.6 102.8L553.2 102.9L552.8 102.9L552.4 103.0ZM544.4 97.1L544.1 97.2L543.8 97.3L543.5 97.4L543.2 97.4L542.9 97.5L542.6 97.6L542.3 97.7L542.0 97.8L541.6 97.8L541.3 97.9L541.0 98.0L540.0 97.6L539.1 97.1L538.1 96.7L537.1 96.3L536.2 95.8L535.2 95.4L535.7 95.4L536.1 95.5L536.6 95.5L537.0 95.6L537.5 95.6L537.9 95.7L538.3 95.7L538.8 95.7L539.4 95.9L540.0 96.0L540.6 96.2L541.3 96.4L541.9 96.5L542.5 96.7L543.2 96.8L543.8 97.0L544.4 97.1ZM531.3 95.7L531.9 95.9L532.4 96.0L532.9 96.1L533.5 96.3L534.0 96.4L534.6 96.5L535.2 96.6L535.7 96.8L535.3 96.8L534.8 96.8L534.4 96.8L533.9 96.8L533.4 96.8L533.0 96.8L532.5 96.8L532.1 96.8L531.6 96.8L531.2 96.8L531.2 96.5L531.3 96.3L531.3 96.0L531.3 95.7ZM572.5 104.9L573.0 104.9L573.4 105.0L573.8 105.0L574.5 105.4L573.8 105.2L573.2 105.1L572.5 104.9ZM806.6 105.4L807.3 105.0L807.7 105.0L808.1 105.1L808.6 105.1L809.0 105.1L809.4 105.2L809.9 105.2L810.3 105.2L810.7 105.3L809.9 105.6L809.0 105.9L808.2 106.2L807.3 106.5L807.2 106.2L807.0 106.0L806.9 105.8L806.7 105.6L806.6 105.4ZM599.1 130.0L598.3 129.0L597.6 127.9L598.5 128.3L599.4 128.6L600.3 128.9L600.0 129.2L599.7 129.5L599.4 129.7L599.1 130.0ZM233.1 321.9L232.1 322.2L231.1 322.6L230.1 323.0L229.8 322.0L229.5 321.0L230.7 321.3L231.9 321.6L233.1 321.9ZM235.9 321.6L235.6 322.4L235.3 323.3L234.6 322.4L233.9 321.6L234.9 321.6L235.9 321.6ZM242.8 321.3L242.1 322.1L241.4 322.8L240.8 323.5L239.4 323.5L238.0 323.5L236.7 323.5L236.4 322.9L236.1 322.2L237.5 322.0L238.8 321.8L240.1 321.7L241.4 321.5L242.8 321.3ZM253.2 321.3L252.5 322.2L251.8 323.0L250.6 323.0L249.5 323.1L248.3 323.1L247.2 323.2L246.1 323.2L244.9 323.3L244.4 322.2L245.6 322.0L246.9 321.9L248.2 321.8L249.4 321.7L250.7 321.6L252.0 321.4L253.2 321.3ZM247.0 326.6L245.8 326.3L244.6 326.1L243.5 325.8L242.8 325.5L242.1 325.2L243.3 325.6L244.6 325.9L245.8 326.3L247.0 326.6ZM258.6 323.8L259.9 323.4L261.2 322.9L262.5 322.5L263.8 322.0L265.1 321.6L264.3 322.2L263.5 322.7L262.8 323.3L261.6 323.9L260.5 324.6L259.4 325.3L258.3 325.9L257.1 326.6L256.2 326.8L255.3 327.0L254.4 327.2L255.4 326.3L256.5 325.5L257.6 324.7L258.6 323.8ZM273.0 306.3L273.9 306.9L274.8 307.6L275.7 308.2L274.7 308.3L273.7 308.4L272.6 308.4L271.6 308.5L270.5 308.2L269.5 308.0L268.5 307.7L267.4 307.4L268.5 307.2L269.7 307.0L270.8 306.7L271.9 306.5L273.0 306.3ZM265.2 307.7L264.6 308.4L264.1 309.1L263.3 308.4L262.6 307.8L261.9 307.1L263.0 307.3L264.1 307.5L265.2 307.7ZM267.4 291.5L268.1 292.5L268.7 293.4L269.4 294.3L269.0 295.3L268.5 296.2L268.1 297.1L268.3 297.8L268.6 298.5L267.7 298.5L266.9 298.5L266.6 297.6L266.4 296.6L266.1 295.7L266.4 294.7L266.7 293.6L267.1 292.6L267.4 291.5ZM269.4 300.7L268.3 300.3L267.2 299.9L267.0 299.2L266.9 298.5L267.7 298.5L268.6 298.5L269.0 299.6L269.4 300.7ZM334.1 307.4L334.8 308.3L335.6 309.2L336.3 310.1L337.0 311.0L336.1 311.9L335.3 311.0L334.4 310.2L333.5 309.4L332.7 308.5L331.9 307.8L331.1 307.0L330.3 306.3L330.6 305.5L331.8 306.1L332.9 306.8L334.1 307.4ZM344.6 316.6L343.9 317.0L343.1 317.4L342.7 316.4L342.2 315.4L341.7 314.4L341.3 313.4L340.8 312.4L341.6 313.3L342.3 314.1L343.1 314.9L343.9 315.8L344.6 316.6ZM354.7 324.9L354.5 326.0L353.9 326.1L353.7 325.2L353.4 324.4L354.0 324.7L354.7 324.9ZM362.0 325.8L360.9 325.9L359.9 326.0L359.6 324.9L360.8 325.3L362.0 325.8ZM363.7 324.9L363.0 324.7L362.2 324.4L361.6 323.5L360.9 322.5L360.3 321.6L361.1 322.4L362.0 323.3L362.9 324.1L363.7 324.9ZM366.8 328.6L365.6 328.3L364.5 328.0L363.6 327.4L362.8 326.9L364.1 327.4L365.5 328.0L366.8 328.6ZM354.5 322.2L353.4 322.0L352.3 321.9L351.7 321.0L351.1 320.2L352.3 320.9L353.4 321.5L354.5 322.2ZM383.5 340.2L383.2 341.1L383.0 341.9L382.4 341.0L381.8 340.1L381.3 339.1L382.4 339.7L383.5 340.2ZM386.3 343.9L386.0 344.3L385.6 344.7L385.0 343.7L384.4 342.8L385.4 343.3L386.3 343.9ZM391.5 361.1L391.0 361.4L390.5 361.7L389.1 360.8L387.7 359.9L386.2 359.0L384.8 358.2L383.4 357.3L382.0 356.4L381.4 355.6L380.7 354.7L382.1 355.5L383.4 356.3L384.7 357.1L386.1 357.9L387.5 358.7L388.8 359.5L390.2 360.3L391.5 361.1ZM416.3 347.5L416.1 348.5L415.9 349.4L414.6 349.2L413.3 348.9L412.9 348.0L412.5 347.2L413.8 347.3L415.1 347.4L416.3 347.5ZM418.7 343.0L418.2 343.8L417.7 344.5L417.2 345.3L416.2 345.0L415.2 344.7L416.1 344.3L416.9 343.9L417.8 343.4L418.7 343.0ZM141.3 434.3L140.9 434.9L140.5 435.5L140.1 436.1L139.3 435.9L138.5 435.6L138.1 434.6L137.7 433.5L138.6 433.7L139.5 433.9L140.4 434.1L141.3 434.3ZM713.7 231.1L713.0 231.7L712.2 232.3L712.2 231.3L712.1 230.3L713.2 229.2L713.5 230.2L713.7 231.1ZM716.6 224.5L715.7 224.6L714.7 224.7L714.3 224.5L713.8 224.2L714.7 224.3L715.7 224.4L716.6 224.5ZM718.0 225.6L717.6 225.2L717.2 224.7L718.3 223.6L718.2 224.6L718.0 225.6ZM718.4 228.9L717.5 229.8L717.6 228.6L717.8 227.5L718.1 228.2L718.4 228.9ZM745.9 268.4L745.8 269.4L745.6 270.4L744.4 270.4L743.1 270.4L743.3 269.4L743.5 268.4L744.7 268.4L745.9 268.4ZM241.7 266.8L242.2 267.6L242.7 268.4L242.0 269.5L241.3 270.5L240.5 271.5L239.8 272.6L239.0 273.6L238.3 274.6L237.5 275.7L236.3 275.1L237.0 274.1L237.7 273.0L238.4 272.0L239.1 270.9L239.7 269.9L240.4 268.9L241.0 267.8L241.7 266.8ZM246.4 261.8L246.2 262.7L246.1 263.6L246.0 264.5L245.1 264.1L244.2 263.7L244.0 262.8L243.8 261.9L243.5 260.9L244.5 261.2L245.4 261.5L246.4 261.8ZM251.6 267.3L250.7 268.0L249.8 268.6L248.8 269.3L248.6 268.0L248.3 266.7L248.0 265.4L249.2 266.0L250.4 266.7L251.6 267.3ZM253.0 269.3L252.9 270.6L252.7 271.9L252.6 273.2L251.9 272.4L251.2 271.7L250.4 270.9L250.2 270.0L250.0 269.1L249.8 268.2L250.8 268.5L251.9 268.9L253.0 269.3ZM254.4 268.2L254.2 269.2L253.9 270.3L253.6 271.3L253.4 272.3L253.1 271.1L252.8 269.8L252.4 268.6L252.1 267.3L253.3 267.7L254.4 268.2ZM257.4 267.9L257.4 268.9L257.3 269.9L257.3 270.9L256.6 270.1L256.0 269.3L255.5 268.3L255.1 267.2L254.7 266.2L255.6 266.8L256.5 267.3L257.4 267.9ZM110.9 92.9L110.3 93.2L109.7 93.5L109.1 93.8L108.5 94.1L108.3 93.9L108.2 93.7L108.0 93.5L107.8 93.3L107.7 93.2L107.5 93.0L107.4 92.8L107.2 92.6L107.1 92.4L107.0 92.3L107.3 92.3L107.6 92.4L107.8 92.4L108.2 92.5L108.5 92.5L108.8 92.6L109.1 92.6L109.4 92.7L109.7 92.7L110.0 92.8L110.3 92.8L110.6 92.9L110.9 92.9ZM425.1 101.1L425.4 101.2L425.7 101.3L426.0 101.3L426.3 101.4L426.6 101.5L426.9 101.6L427.2 101.7L426.5 101.8L425.7 102.0L425.0 102.2L424.2 102.4L423.4 102.6L422.6 102.8L421.9 103.0L421.1 103.2L421.4 102.7L421.8 102.2L422.1 101.7L422.5 101.3L422.9 100.8L423.3 100.4L423.6 100.5L423.8 100.6L424.1 100.7L424.3 100.8L424.6 100.9L424.8 101.0L425.1 101.1ZM528.6 149.8L529.1 150.9L529.5 152.1L530.0 153.2L530.4 154.4L529.5 153.9L528.6 153.3L527.7 152.8L527.2 151.7L526.7 150.6L526.2 149.5L527.0 149.6L527.8 149.7L528.6 149.8ZM467.2 127.5L466.5 127.6L465.8 127.7L465.1 127.8L464.5 127.9L464.0 127.4L463.6 126.9L463.1 126.3L463.8 126.5L464.5 126.7L465.2 126.9L465.8 127.1L466.5 127.3L467.2 127.5ZM470.6 135.0L469.9 135.1L469.1 135.2L468.4 135.2L468.8 134.6L469.2 134.0L469.6 134.4L470.1 134.7L470.6 135.0ZM487.7 141.3L488.4 140.8L489.1 140.3L489.8 139.8L490.4 140.0L490.9 140.1L491.5 140.3L490.8 140.8L490.2 141.3L489.5 141.8L488.9 142.3L488.3 141.8L487.7 141.3Z"/>
<path fill="#fff" stroke="none" d="M77.7 168.0L78.3 168.4L79.0 168.7L79.6 169.0L80.3 169.4L80.0 170.7L79.7 172.1L79.4 173.4L78.5 173.7L77.7 174.0L76.8 174.2L75.9 174.5L75.0 174.8L75.1 175.8L75.1 176.8L75.1 177.8L75.1 178.9L75.6 179.8L76.1 180.7L76.6 181.6L77.2 182.5L77.9 183.3L78.5 184.1L79.1 184.9L78.4 186.0L77.7 187.0L77.0 188.0L76.2 189.0L75.5 190.0L75.6 191.0L75.8 192.0L75.9 193.1L76.1 194.1L74.9 194.5L73.8 194.8L72.7 195.1L71.6 195.4L70.4 195.8L69.3 196.1L68.5 195.6L67.8 195.2L67.0 194.7L66.3 194.3L65.6 193.9L66.2 192.5L66.9 191.2L67.6 189.8L68.2 188.5L68.9 187.2L68.8 186.2L68.7 185.2L68.5 184.2L68.4 183.2L68.2 182.2L67.8 181.3L67.5 180.5L67.2 179.7L66.9 178.9L66.9 177.8L66.9 176.8L66.9 175.8L66.9 174.8L67.6 173.6L68.2 172.4L68.9 171.2L69.7 170.8L70.6 170.3L71.5 169.8L72.4 169.4L73.3 169.1L74.1 168.9L75.0 168.7L75.9 168.5L76.8 168.2L77.7 168.0Z"/>
<path fill="none" stroke="#000" stroke-width="2.1" stroke-linejoin="round" stroke-linecap="round" d="M26.5 256.3L27.1 257.3L27.7 258.2L28.4 259.1L29.0 260.1L30.1 260.8L31.1 261.5L32.1 262.3L33.2 263.0L34.2 263.7L33.8 265.0L33.3 266.2L34.2 267.1L35.0 267.9L35.9 268.7L36.7 269.6L37.9 269.2L39.1 268.9L40.3 268.6L41.4 268.3L42.6 267.9L43.8 267.6L45.1 267.4L46.4 267.2L47.8 267.0L49.1 266.7L50.4 266.5L51.8 266.3L53.1 266.1L54.4 265.9L55.7 265.7L55.4 266.9L55.1 268.1L54.8 269.3L54.3 270.5L53.8 271.7L53.2 272.9L52.7 274.0L52.2 275.2L51.7 276.4L51.1 277.6L50.4 278.7L49.6 279.7L48.9 280.8L48.1 281.8L47.4 282.8L46.6 283.9L45.9 284.9L45.1 286.0L44.2 286.8L43.2 287.7L42.2 288.6L41.2 289.5L40.3 290.3L39.3 291.2L38.4 292.1L37.4 292.9L36.3 293.7L35.2 294.5L34.2 295.3L33.1 296.1L32.0 296.9L30.9 297.7L30.4 298.5M894.6 198.9L895.7 199.1L896.8 199.4L898.0 199.6L899.1 199.8L900.2 200.1L901.3 200.3L902.4 200.6L903.6 200.8L904.5 200.3L905.4 199.7L906.3 199.1L907.3 198.6L908.2 198.0L909.1 197.5L910.0 196.9L910.8 196.7L911.7 196.6L912.6 196.4L913.5 196.2L914.3 196.1L915.3 196.0L916.3 195.9L917.2 195.9L918.2 195.8L919.1 195.7L920.1 195.7L921.1 195.6L922.0 195.5L923.1 195.4L924.1 195.3L925.1 195.2L926.1 195.0L927.1 194.9L928.2 194.8L929.2 194.7L930.1 195.0L931.1 195.2L932.0 195.5L931.7 196.3L931.3 197.0L930.9 197.8L931.9 198.6L932.9 199.4L932.6 200.3L932.3 201.2L932.1 202.1L931.8 203.0L932.7 203.9L933.6 204.7L934.6 205.5L935.5 206.4L936.6 206.7L937.8 206.9L938.9 207.2L940.0 207.5L941.2 207.8L942.3 208.0L943.5 208.3L944.6 208.6L945.7 209.2L946.7 209.8L947.8 210.4L948.8 211.0L949.9 211.6L951.0 212.2L952.0 212.6L953.1 212.9L954.2 213.2L955.3 213.6L956.4 213.9L956.4 212.6L956.3 211.4L956.3 210.1L956.2 208.9L957.3 208.6L958.3 208.2L959.3 207.9L960.4 207.5L961.4 207.2L962.6 207.8L963.8 208.3L965.1 208.9L966.3 209.4L967.5 210.0L968.8 210.6L969.9 210.7L971.1 210.8L972.2 210.9L973.4 211.0L974.6 211.1L975.7 211.2L976.9 211.3L978.0 211.4L979.2 211.6L980.3 211.7L981.5 211.6L982.6 211.6L983.7 211.5L984.8 211.4L985.9 211.4L986.7 212.7L987.4 214.0L988.1 215.3L989.1 216.5L990.0 217.8L991.0 219.0L991.9 220.3L992.8 221.5L993.8 222.8L994.7 223.9L995.6 225.1L996.5 226.2L997.5 227.4L998.4 228.5L999.3 229.7L1000.2 230.8L1001.1 232.0L1001.9 233.2L1002.8 234.4L1003.6 235.6L1004.4 236.8L1005.2 238.0L1006.0 239.2L1006.8 240.4L1007.5 241.6L1008.3 242.8L1009.1 244.0L1010.1 244.8L1011.1 245.7L1012.0 246.6L1013.0 247.5L1014.0 248.4L1014.8 249.6L1015.6 250.7L1016.3 251.9L1017.1 253.0L1017.9 254.2L1018.6 255.4L1019.7 256.3M938.6 298.5L938.8 297.4L939.0 296.3L939.2 295.2L939.4 294.0L939.6 292.9L939.7 291.7L939.8 290.4L939.9 289.2L940.1 287.9L938.9 287.2L937.8 286.4L936.7 285.7L935.5 285.8L934.4 286.0L933.2 286.1L932.1 286.3L930.9 286.4L929.8 286.5L928.9 285.4L928.0 284.3L927.2 283.2L926.3 282.1L925.5 281.0L924.2 281.0L922.9 281.1L921.6 281.2L920.3 281.3L919.0 281.4L917.7 281.4L916.3 281.5L915.1 282.0L913.8 282.6L912.6 283.1L911.3 283.6L910.1 284.1L908.8 284.6L907.5 285.1L906.4 284.9L905.3 284.6L904.2 284.3L903.1 284.0L902.0 283.7L900.8 284.1L899.6 284.4L898.4 284.7L897.1 285.0L895.9 285.3L894.7 285.6L893.5 285.9L892.3 286.3L891.2 285.5L890.1 284.8L889.0 284.0L888.0 283.3L886.9 282.5L885.8 281.8L884.7 281.1L883.7 280.3L882.6 279.6L881.5 278.8L880.5 278.0L879.4 277.2L878.4 276.4L877.3 275.6L876.3 274.8L875.5 273.8L874.7 272.7L874.0 271.6L873.2 270.6L872.4 269.5L871.7 268.4L870.8 267.5L869.9 266.5L869.0 265.6L868.0 264.7L867.1 263.7L866.7 262.5L866.3 261.3L865.9 260.0L865.6 258.8L865.2 257.6L865.7 256.6L866.3 255.6L866.9 254.6L867.4 253.6L868.0 252.6L868.2 251.4L868.4 250.3L868.5 249.1L868.7 247.9L868.9 246.8L869.0 245.6L868.7 244.5L868.3 243.4L867.9 242.3L867.5 241.2L867.2 240.1L867.8 239.0L868.4 237.9L869.0 236.8L869.6 235.7L870.3 234.6L870.9 233.6L871.5 232.5L872.1 231.4L872.7 230.3L873.4 229.3L874.0 228.2L874.7 227.2L875.3 226.1L876.0 225.1L876.7 224.1L877.3 223.0L877.9 222.0L879.0 221.2L880.0 220.4L880.9 219.6L881.9 218.8L882.9 218.0L883.9 217.2L884.9 216.4L885.8 215.6L886.0 214.3L886.2 213.1L886.4 211.8L886.6 210.6L886.8 209.3L887.0 208.0L888.0 207.4L888.9 206.7L889.9 206.0L890.8 205.3L891.8 204.6L892.7 203.9L893.1 202.9L893.5 201.9L893.9 200.9L894.2 199.9L894.6 198.9M30.4 298.5L29.7 299.4L29.0 300.4L28.4 301.3L27.8 302.3L27.1 303.2L26.3 304.1L25.5 304.9L24.7 305.7L24.0 306.6L23.2 307.4L22.9 307.9M25.3 324.9L25.9 325.9L26.6 326.8L27.2 327.7L27.6 329.0L27.9 330.2L28.3 331.5L28.6 332.7L29.0 334.0L29.4 335.2L29.8 336.5L30.2 337.7L30.7 339.0L31.1 340.2L30.7 340.9L30.3 341.6L29.9 342.3M1024.4 307.9L1023.8 308.8L1023.2 309.7L1022.6 310.7L1022.0 311.6L1021.7 312.8L1021.3 314.1L1021.0 315.3L1020.7 316.6L1021.0 317.7L1021.3 318.8L1021.6 319.9L1021.9 321.0L1022.2 322.2L1022.6 323.1L1023.0 324.0L1023.4 324.9M1021.4 342.3L1020.3 343.3L1019.3 344.3L1018.3 345.3L1017.2 345.9L1016.2 346.6L1015.1 347.3L1014.1 348.0L1013.0 348.6L1012.0 349.3L1011.0 350.0L1010.0 350.8L1009.1 351.7L1008.2 352.5L1007.3 353.3L1006.4 354.2L1006.4 355.4L1006.4 356.5L1006.4 357.7L1006.4 358.9L1006.4 360.1L1006.4 361.3L1006.3 362.5L1005.4 363.4L1004.4 364.3L1003.4 365.2L1002.4 366.1L1001.5 367.0L1000.5 367.9L999.5 368.8L998.6 369.7L997.6 370.6L997.4 371.8L997.2 373.0L997.0 374.2L996.7 375.4L996.5 376.6L996.3 377.8L995.4 378.6L994.4 379.4L993.5 380.2L992.6 380.9L991.7 381.7L990.8 382.6L989.8 383.5L988.9 384.4L988.0 385.3L987.1 386.2L986.2 387.1L985.3 388.0L984.4 389.0L983.4 389.5L982.3 390.1L981.2 390.7L980.2 391.3L979.1 391.9L978.1 392.5L977.0 393.1L976.0 393.1L975.0 393.1L973.9 393.1L972.9 393.1L971.9 393.1L970.9 393.1L969.9 393.1L968.9 393.5L967.8 393.9L966.8 394.2L965.9 394.6L964.9 395.0L963.9 395.4L963.0 395.0L962.1 394.7L961.2 394.3L960.3 394.0L960.3 392.7L960.4 391.4L960.4 390.1L960.4 388.8L960.4 387.6L960.0 386.4L959.5 385.2L959.1 384.0L958.7 382.8L958.2 381.6L957.8 380.5L957.4 379.3L956.9 378.1L956.3 377.0L955.7 375.9L955.1 374.8L954.6 373.6L954.0 372.5L953.8 371.2L953.6 370.0L953.4 368.7L953.3 367.4L953.1 366.1L952.9 364.8L952.7 363.5L952.6 362.2L952.0 361.1L951.5 359.9L951.0 358.8L950.5 357.6L949.9 356.5L949.4 355.3L948.9 354.2L948.4 353.0L948.0 351.8L947.6 350.6L947.1 349.4L946.7 348.2L946.3 347.0L945.8 345.8L945.9 344.7L946.0 343.6L946.2 342.5L946.3 341.4L946.4 340.2L947.0 339.1L947.6 337.9L948.2 336.7L948.8 335.5L949.3 334.3L949.9 333.1L950.5 331.9L950.4 330.6L950.3 329.4L950.2 328.1L950.1 326.8L950.0 325.5L949.9 324.3L949.8 323.0L949.4 321.7L949.0 320.4L948.6 319.1L948.2 317.8L947.8 316.5L947.4 315.2L947.0 314.1L946.7 313.0L946.3 311.9L945.6 310.8L944.8 309.8L944.1 308.7L943.4 307.7L942.6 306.7L941.9 305.6L941.2 304.6L940.4 303.6L939.7 302.5L939.0 301.5L938.2 300.4L938.4 299.5L938.6 298.5M79.7 117.2L80.0 117.4L80.3 117.6L80.6 117.9L80.0 118.8L79.4 119.8L78.8 120.7L78.4 120.6L78.0 120.5L77.5 120.5M75.0 124.5L75.4 124.4L75.9 124.3L76.8 123.8L77.7 123.3L78.6 122.9L79.5 122.4L80.5 121.9L81.4 121.4L82.3 121.0L83.2 120.5L83.6 119.5L84.0 118.6L84.5 117.6L85.0 116.7L85.4 115.7L85.8 116.0L86.2 116.2L86.6 116.5L87.0 116.7L87.4 117.0L87.8 117.2L88.3 117.3L88.8 117.4L89.3 117.5L89.8 117.6L90.3 117.7L91.0 117.6L91.6 117.5L92.3 117.4L93.0 117.3L93.6 117.3L94.3 117.2L94.9 117.1L95.6 117.0L96.2 116.9L96.9 116.9L97.5 116.8L98.2 116.6L98.9 116.5L99.6 116.3L100.3 116.2L100.9 116.0L101.6 115.9L102.3 115.7L102.9 115.5L103.6 115.4L104.3 115.2L104.9 115.1L105.6 114.8L106.2 114.5L106.9 114.2L107.5 113.9L108.1 113.6L108.7 113.7L109.2 113.7L109.8 113.8L110.4 113.8L111.0 113.9L111.5 113.9L112.1 114.0L112.7 114.1L113.2 114.1L113.8 114.2L114.4 114.2L114.9 114.4L115.4 114.7L115.9 114.9L116.4 115.1L116.9 115.3L117.5 115.5L118.0 115.7L117.8 114.9L117.7 114.1L117.5 113.3L117.4 112.5L117.3 111.7L117.2 110.9L117.8 110.1L118.4 109.4L119.0 108.7L119.6 107.9L120.2 107.2L120.7 106.5L121.2 106.2L121.7 106.0L122.2 105.7L122.7 105.5L123.0 106.0L123.3 106.5L123.6 107.0L124.0 107.5L124.0 108.3L124.0 109.2L124.0 110.1L124.1 111.1L124.1 112.0L124.2 112.9L124.2 113.8L124.3 114.8L124.4 115.7L124.4 116.6L124.5 117.4L124.6 118.3L124.7 119.2L124.8 120.1L125.2 119.2L125.7 118.4L126.1 117.6L126.5 116.8L126.7 115.8L126.8 114.9L127.0 113.9L127.2 113.0L127.3 112.1L127.5 111.2L127.6 110.3L127.8 109.4L128.0 108.5L128.5 108.4L129.1 108.3L129.6 108.2L130.2 108.1L130.7 108.0L131.2 107.9L131.8 107.8L132.3 107.7L132.8 107.6L133.4 107.5L133.9 107.5L134.1 106.8L134.3 106.1L134.5 105.5L135.0 105.4L135.5 105.3L136.0 105.3L136.6 105.2L137.1 105.1L137.6 105.1L138.1 105.0L138.6 104.9L139.1 104.9L139.6 104.8L140.1 104.7L140.6 104.6L141.1 104.6L141.6 104.5L142.1 104.2L142.6 104.0L143.0 103.7L143.4 103.5L143.9 103.2L144.3 102.9L144.7 102.7L145.1 102.4L145.6 102.2L146.0 101.9L146.4 101.7L146.8 101.6L147.3 101.5L147.7 101.4L148.2 101.4L148.6 101.3L149.1 101.2L149.5 101.2L150.0 101.1L150.4 101.0L150.9 100.9L151.3 100.9L151.7 100.8L152.2 100.7L152.5 100.5L152.9 100.3L153.2 100.1L153.6 99.8L153.9 99.6L154.2 99.4L154.5 99.2L154.8 99.0L155.2 98.7L155.5 98.5L155.8 98.3L156.0 98.1L156.3 97.9L156.6 97.7L157.2 97.9L157.8 98.1L158.4 98.3L159.0 98.5L159.6 98.8L160.2 99.0L160.8 99.2L161.4 99.4L162.0 99.7L162.6 99.9L163.3 100.2L163.9 100.4L164.5 100.7L165.2 100.9L165.8 101.2L166.5 101.4L167.1 101.7L167.9 102.4L168.7 103.2L169.5 103.9L170.3 104.7L171.1 105.5L171.6 105.5L172.2 105.5L172.8 105.5L173.3 105.5L173.9 105.5L174.5 105.5L175.0 105.5L175.6 105.5L176.2 105.5L176.7 105.5L177.3 105.6L177.9 105.6L178.5 105.7L179.1 105.8L179.6 105.9L180.2 105.9L180.8 106.0L181.4 106.1L182.0 106.2L182.6 106.2L183.2 106.3L183.8 106.4L184.4 106.5L184.8 106.3L185.1 106.2L185.5 106.0L185.8 105.9L186.2 105.8L186.5 105.6L186.9 105.5L187.9 106.1L189.0 106.7L190.0 107.3L191.1 108.0L192.2 108.6L193.3 109.2L194.4 109.8L195.4 110.5M238.9 183.8L238.7 184.4L238.7 185.6L238.9 186.7L239.1 187.9L239.3 189.0L239.4 190.2L239.6 191.4L240.5 192.5L241.4 193.7L242.4 194.9L243.3 196.1L244.2 197.3L245.1 198.5L246.1 199.7L245.3 200.1L244.5 200.5L243.7 200.9L243.0 201.3L242.2 201.7L241.4 202.1L240.6 202.5L239.9 201.1L239.3 199.7L238.6 198.3L237.9 196.9L237.3 195.5L236.6 194.1L235.4 193.0L234.2 191.9L233.0 190.8L231.8 189.7L230.6 188.6L229.7 188.8L228.8 189.1L227.8 189.3L226.9 189.5L226.0 189.8L225.1 190.0L224.2 190.3L223.3 190.5L223.2 189.3L223.1 188.2L222.9 187.0L222.8 185.8L222.1 186.1L221.4 186.3L220.6 186.6L219.9 186.9L219.2 187.2L218.5 187.6L217.9 188.1L217.2 188.5L216.5 189.0L215.9 189.4L217.0 190.5L218.1 191.6L219.2 192.7L220.4 193.9L221.5 195.0L222.4 194.9L223.4 194.8L224.3 194.7L225.3 194.7L226.2 194.6L227.2 194.5L228.1 194.4L227.6 195.1L227.1 195.7L226.6 196.4L226.1 197.0L225.6 197.7L225.1 198.3L224.7 199.1L224.3 200.0L223.9 200.8L223.5 201.6L224.6 202.7L225.7 203.8L226.8 204.8L227.9 205.9L229.0 207.0L230.2 208.0L231.1 209.2L232.1 210.3L233.0 211.4L234.0 212.5L234.5 213.8L235.1 215.1L235.7 216.4L235.4 217.4L235.2 218.5L234.9 219.5L234.7 220.6L234.4 221.6L234.1 222.7L233.8 223.7L233.5 224.7L233.5 225.7L233.4 226.6L233.4 227.5L232.7 228.3L232.0 229.1L231.3 229.9L230.6 230.7L229.8 231.5L229.1 232.3L228.3 233.1L227.4 233.6L226.5 234.1L225.6 234.5L224.7 235.0L223.8 235.5L222.9 236.0L222.0 236.4L220.9 236.9L219.8 237.3L218.7 237.8L217.6 238.2L216.5 238.7L215.4 239.2L214.3 239.6L213.2 240.1L213.0 241.0L212.7 242.0L211.8 241.3L210.8 240.6L209.8 239.8L208.9 239.1L207.9 238.4L207.0 239.1L206.0 239.8L205.0 240.6L204.1 241.3L203.1 242.0L202.8 243.0L202.5 244.1L202.2 245.1L201.9 246.2L202.8 247.2L203.8 248.1L204.7 249.1L205.6 250.1L206.6 251.0L207.5 252.0L208.4 253.0L209.4 254.0L210.3 254.9L211.2 255.9L211.5 257.2L211.9 258.4L212.2 259.6L212.5 260.8L212.8 262.1L213.1 263.3L213.3 264.5L212.3 265.4L211.3 266.2L210.3 267.1L209.3 267.9L208.3 268.7L207.3 269.6L206.4 270.4L205.6 271.2L204.7 272.1L203.9 272.9L203.0 273.7L202.2 274.6L202.3 273.3L202.3 272.0L202.4 270.7L201.4 270.3L200.3 269.8L199.3 269.4L198.2 269.0L197.3 267.9L196.4 266.8L195.5 265.7L194.6 264.5L193.6 264.1L192.6 263.7L191.6 263.3L190.6 262.9L190.0 261.9L189.4 260.9L189.0 261.9L188.6 262.8L188.3 263.7L188.0 264.9L187.7 266.0L187.4 267.2L187.1 268.3L186.8 269.5L186.5 270.7L187.2 271.9L187.8 273.2L188.4 274.4L189.0 275.7L189.6 276.9L190.2 278.2L191.2 279.2L192.2 280.2L193.1 281.2L194.1 282.3L195.1 283.3L196.0 284.3L197.0 285.3L197.9 286.3L198.9 287.4L199.3 288.6L199.7 289.8L200.1 291.0L200.5 292.2L200.9 293.4L201.2 294.6L200.0 294.0L198.7 293.4L197.5 292.8L196.2 292.2L194.9 291.6L193.7 291.0L193.1 289.7L192.5 288.5L191.9 287.2L191.3 286.0L190.8 284.7L190.2 283.5L189.4 282.4L188.7 281.2L187.9 280.1L187.2 279.0L186.4 277.9L185.6 276.8L184.9 275.7L184.8 274.3L184.7 273.0L184.7 271.7L184.6 270.3L184.5 269.0L184.4 267.7L184.4 266.3L184.3 265.0L184.2 263.7L184.1 262.3L183.7 261.1L183.3 259.9L182.9 258.7L182.5 257.4L182.1 256.2L181.7 255.0L181.3 253.8L180.9 252.6L179.6 252.8L178.4 253.0L177.2 253.2L175.9 253.4L174.7 253.6L173.4 253.8L172.2 254.0L172.0 252.7L171.9 251.5L171.8 250.2L171.6 249.0L171.5 247.7L171.3 246.5L170.4 245.5L169.5 244.6L168.6 243.7L167.7 242.7L166.8 241.8L165.9 240.9L165.5 239.8L165.1 238.7L164.7 237.6L164.3 236.4L163.2 236.7L162.1 237.0L161.0 237.3L159.9 237.3L158.9 237.4L157.8 237.4L156.7 237.5L155.6 237.5L154.6 237.6L153.8 238.5L153.1 239.5L152.4 240.5L151.6 241.4L150.7 242.1L149.8 242.8L148.9 243.5L148.0 244.1L147.0 244.8L146.2 245.8L145.3 246.7L144.5 247.7L143.6 248.7L142.7 249.7L141.8 250.6L140.9 251.6L140.1 252.6L139.4 253.8L138.7 254.9L138.1 256.1L137.4 257.3L136.7 258.5L136.1 259.7L135.4 260.9L134.7 262.0L134.5 263.3L134.3 264.6L134.1 265.9L133.8 267.2L133.6 268.5L133.4 269.8L132.5 270.7L131.6 271.6L130.7 272.5L129.8 273.3L128.8 274.2L127.9 275.1L127.0 276.0L126.3 274.8L125.7 273.7L125.0 272.6L124.3 271.5L123.6 270.4L123.0 269.3L122.4 268.2L121.9 267.1L121.4 265.9L120.9 264.8L120.3 263.7L119.8 262.6L119.5 261.3L119.1 260.0L118.8 258.7L118.4 257.4L118.1 256.1L117.8 254.8L117.4 253.5L117.1 252.2L116.8 250.8L116.4 249.5L116.1 248.2L115.8 246.9L115.5 245.6L115.4 244.5L115.2 243.3L115.1 242.1L115.0 241.0L114.9 239.8L114.8 238.7L113.6 239.0L112.5 239.3L111.3 239.6L110.2 240.0L109.0 240.3L107.9 240.6L107.3 239.5L106.7 238.4L106.2 237.3L105.6 236.2L105.3 235.1L104.9 234.1L104.6 233.1L103.7 232.2L102.8 231.3L101.9 230.4L101.1 229.5L99.9 229.4L98.8 229.3L97.7 229.2L96.5 229.1L95.4 229.0L94.3 228.9L93.1 228.8L92.0 228.7L90.9 228.6L89.7 228.5L88.6 228.4L87.5 228.2L86.4 228.0L85.3 227.9L84.2 227.7L83.0 227.5L81.9 227.4L80.8 227.2L79.7 227.0L78.6 226.9L77.5 226.7L77.1 225.8L76.6 224.9L76.1 224.0L75.7 223.1L74.6 223.3L73.5 223.5L72.5 223.8L71.4 224.0L70.3 224.2L69.2 224.5L68.3 223.9L67.4 223.3L66.5 222.7L65.6 222.1L64.7 221.5L63.8 220.9L63.4 219.9L63.1 218.9L62.7 217.9L62.3 217.0L62.0 216.0L61.6 215.0L60.4 215.0L59.2 215.0L58.0 215.0L56.8 215.0L56.8 216.1L56.8 217.1L56.8 218.1L56.9 219.2L57.2 220.3L57.5 221.4L57.8 222.5L58.1 223.6L58.4 224.7L58.8 225.7L59.1 226.6L59.4 227.6L59.8 228.5L60.1 229.5L60.8 228.3L61.5 227.1L62.2 225.9L62.1 227.1L62.0 228.4L61.9 229.6L61.9 230.9L63.1 230.9L64.3 231.0L65.5 231.0L66.7 231.1L68.0 231.1L69.2 231.1L70.1 230.2L71.0 229.3L71.8 228.4L72.7 227.4L73.6 226.5L74.5 225.6L74.4 226.8L74.3 227.9L74.2 229.1L74.1 230.3L75.1 230.8L76.1 231.3L77.1 231.8L78.1 232.3L79.1 232.8L79.8 233.7L80.5 234.5L81.2 235.3L81.9 236.2L81.1 237.3L80.3 238.5L79.5 239.7L78.7 240.9L77.9 242.1L77.1 243.3L76.3 244.4L75.5 245.6L74.4 246.3L73.2 247.1L72.1 247.8L70.9 248.5L69.8 249.2L68.6 249.9L67.4 250.6L66.3 251.3L65.2 251.9L64.0 252.5L62.9 253.2L61.7 253.8L60.6 254.4L59.4 255.1L58.2 255.6L57.1 256.1L55.9 256.6L54.7 257.1L53.5 257.6L52.4 258.1L51.2 258.5L50.0 259.0L48.9 259.5L47.6 260.0L46.4 260.4L45.1 260.8L43.9 261.2L42.7 261.6L41.4 262.0L40.2 262.5L38.9 262.9L37.9 262.9L36.9 263.0L35.8 263.1L34.8 263.2L34.6 261.9L34.5 260.6L34.3 259.3L34.2 258.0L34.0 256.7L33.9 255.4L33.5 254.1L33.2 252.9L32.8 251.7L32.5 250.5L32.2 249.3L31.9 248.1L31.6 246.8L31.3 245.6L30.8 244.7L30.4 243.7L30.0 242.7L29.6 241.8M50.0 183.5L50.9 183.3L51.8 183.1L52.7 182.9L53.6 182.7L54.0 181.3L54.4 180.0L53.8 179.2L53.2 178.4L52.6 177.6L52.1 176.8M397.3 110.5L398.0 110.4L398.7 110.3L399.5 110.1L400.2 110.0L400.9 109.9L401.6 109.8L402.4 109.7L403.1 109.6L403.8 109.5L404.5 109.4L405.3 109.3L406.0 109.1L406.8 108.9L407.6 108.8L408.4 108.6L409.2 108.4L410.0 108.3L410.8 108.1L411.6 107.9L412.3 107.8L413.1 107.6L413.9 107.5L414.4 107.5L414.9 107.5L415.4 107.5L415.9 107.6L416.4 107.6L416.9 107.6L417.4 107.7L417.9 107.7L418.4 107.7L418.9 107.8L419.4 107.8L419.9 107.8L420.4 107.9L420.7 108.0L421.0 108.2L421.2 108.4L421.5 108.6L421.8 108.7L422.2 108.9L422.5 109.1L422.8 109.3L423.1 109.5L423.5 109.6L424.0 109.6L424.4 109.7L424.9 109.8L425.3 109.9L425.8 110.0L426.2 110.1L426.7 110.2L427.1 110.3L427.6 110.4L428.0 110.5L428.4 110.7L428.8 110.9L429.1 111.0L429.5 111.2L429.9 111.4L430.2 111.6L430.6 111.8L431.0 112.0L431.4 112.2L431.8 112.4L432.2 112.6L432.7 112.6L433.2 112.7L433.7 112.8L434.2 112.9L434.7 112.9L435.3 113.0L435.8 113.1L436.3 113.2L436.8 113.2L437.3 113.3L437.8 113.4L438.5 113.3L439.1 113.2L439.8 113.2L440.4 113.1L441.1 113.0L441.7 112.9L442.3 112.9L443.0 112.8L443.6 112.7L444.3 112.6L444.9 112.6L445.4 112.6L446.0 112.7L446.5 112.8L447.0 112.9L447.5 113.0L448.1 113.0L448.6 113.1L449.2 113.2L449.7 113.3L450.2 113.4L450.8 113.4L451.3 113.5L451.9 113.6L452.3 113.7L452.8 113.9L453.3 114.0L453.8 114.2L454.3 114.3L454.8 114.4L455.3 114.6L455.8 114.7L456.3 114.9L456.8 115.1L457.2 115.4L457.7 115.7L458.2 116.0L458.6 116.2L459.1 116.5L459.6 116.8L460.1 117.0L460.6 117.3L461.1 117.6L461.6 117.9L462.1 118.1L462.6 118.4L463.1 118.6L463.6 118.9L464.2 119.2L464.7 119.4L465.3 119.7L465.8 119.9L466.3 120.2L466.9 120.5L467.4 120.7L466.8 121.5L466.1 122.2L465.4 123.0L464.7 123.8L464.0 124.5L463.4 124.5L462.8 124.4L462.1 124.3L461.5 124.3L460.8 124.2L460.2 124.1L459.6 124.0L458.9 124.0L458.3 123.9L457.7 123.8L457.0 123.9L456.3 123.9L455.6 123.9L455.0 123.9L454.3 123.9L453.6 124.0L452.9 124.0L452.2 124.0L451.6 124.0L450.9 124.0L450.2 124.1L449.5 124.1L449.2 125.1L448.9 126.1L448.6 127.1L448.2 128.1L447.9 129.1L447.2 129.2L446.5 129.4L445.7 129.5L445.0 129.6L444.2 129.8L443.5 129.9L442.7 130.0L442.0 130.1L441.2 130.3L440.3 130.7L439.3 131.2L438.4 131.7L437.4 132.1L436.5 132.6L435.5 133.1L434.6 133.6L433.6 134.0L432.6 134.5L431.7 135.0L430.9 135.0L430.0 135.0L429.2 135.0L428.4 135.0L427.6 135.0L426.8 135.0L426.0 135.0L425.2 135.0L424.4 135.0L423.7 135.0L423.0 135.1L422.3 135.1L421.6 135.2L420.9 135.2L420.2 135.2L419.1 136.1L418.1 137.1L417.0 138.0L416.0 138.9L415.0 139.8L414.7 140.8L414.5 141.8L414.3 142.8L414.1 143.8L413.9 144.7L412.9 145.4L411.9 146.0L410.9 146.6L409.9 147.2L408.9 147.9L407.9 148.5L406.9 149.1L405.9 149.8L404.9 150.4L403.9 151.0L402.9 151.7L402.0 152.3L400.9 153.2L399.9 154.0L398.8 154.9L397.8 155.7L396.8 156.6L395.7 157.5L395.9 156.5L396.1 155.5L396.3 154.6L396.5 153.6L397.1 152.5L397.7 151.4L398.3 150.2L398.9 149.1L399.5 148.0L400.1 146.9L400.7 145.8L401.3 144.7L402.4 143.9L403.4 143.1L404.4 142.3L405.4 141.5L406.4 140.6L407.4 139.8L408.4 139.1L409.4 138.3L410.4 137.5L411.4 136.8L412.4 136.0L413.4 135.3L414.4 134.5L415.4 133.8L415.7 133.0L416.0 132.2L416.2 131.4L415.2 131.9L414.2 132.4L413.1 132.9L412.1 133.3L411.0 133.8L410.0 134.3L408.9 134.8L407.8 135.2L406.8 135.7L405.7 136.2L404.9 136.2L404.2 136.1L403.4 136.1L402.7 136.1L402.0 136.1L401.2 136.0L400.5 136.0L399.7 136.0L399.0 136.0L398.2 136.0L397.3 136.1L396.5 136.2L395.6 136.2L394.8 136.3L393.9 136.4L393.1 136.5L392.2 136.5L391.4 136.6L390.6 136.7L389.9 136.6L389.2 136.6L388.5 136.6L387.9 136.5L387.2 136.5L386.5 136.5L385.8 136.4L384.8 136.9L383.8 137.3L382.7 137.7L381.7 138.2L380.7 138.6L379.4 139.4L378.1 140.1L376.8 140.9L375.5 141.7L374.2 142.4L372.9 143.2L371.7 144.0L370.4 144.7L369.4 145.7L368.4 146.6L367.4 147.6L366.4 148.5L366.9 148.9L367.4 149.2L367.9 149.6L368.4 150.0L368.9 150.3L369.4 150.7L369.9 151.0L370.2 151.5L370.5 151.9L370.8 152.3L369.8 153.5L368.8 154.6L367.8 155.8L366.8 157.0L365.8 158.1L364.8 159.3L363.9 160.5L362.9 161.7L361.9 162.8L361.0 164.0L359.8 164.9L358.6 165.8L357.4 166.7L356.2 167.6L355.0 168.5L353.8 169.4L352.5 170.3L351.3 171.2L350.1 172.1L348.9 173.0L347.7 173.9L346.5 174.8L345.3 175.7L344.1 176.6L342.8 177.5L341.8 177.6L340.8 177.8L339.8 177.9L338.8 178.0L337.8 178.2L336.8 178.3L335.8 178.5L334.8 178.6L333.6 179.5L332.5 180.3L331.3 181.2L330.1 182.1L328.9 183.0L327.8 183.8M895.3 198.3L894.7 197.6L894.1 196.8L893.6 196.1L892.8 195.7L891.9 195.3L891.1 195.0L890.3 195.1L889.5 195.2L888.6 195.4L887.8 195.5L887.9 194.3L887.9 193.1L888.0 191.9L887.2 191.2L886.4 190.5L886.8 189.5L887.1 188.6L887.4 187.6L887.7 186.6L887.7 185.4L887.8 184.1L887.8 182.9L887.9 181.6L887.5 180.7L887.1 179.8L886.8 178.9L887.7 178.2L888.6 177.6L889.4 176.9L890.3 177.0L891.2 177.1L892.1 177.2L893.0 177.3L893.8 177.3L894.7 177.4L895.6 177.5L896.6 177.5L897.5 177.6L898.4 177.6L899.4 177.7L900.3 177.7L901.3 177.7L902.2 177.8L902.5 176.8L902.7 175.8L903.0 174.8L903.0 173.7L903.0 172.6L902.9 171.5L902.9 170.4L902.2 169.5L901.5 168.6L900.7 167.8L899.8 167.3L898.9 166.9L897.9 166.5L897.0 166.0L896.1 165.6L895.8 164.8L895.4 164.0L896.3 163.8L897.2 163.6L898.0 163.4L898.9 163.2L899.8 163.4L900.7 163.6L901.6 163.8L901.3 162.8L901.1 161.8L900.8 160.9L901.5 161.3L902.2 161.7L903.0 161.6L903.9 161.5L904.7 161.4L905.4 160.9L906.0 160.5L906.7 160.0L907.4 159.6L907.8 158.8L908.3 158.0L908.8 157.2L909.5 156.9L910.3 156.5L911.1 156.2L911.4 155.3L911.7 154.4L912.1 153.5L912.4 152.6L913.1 152.3L913.8 152.0L914.5 151.7L915.2 151.3L916.0 151.0L916.7 150.8L917.4 150.5L918.1 150.3L918.8 150.0L918.6 149.0L918.4 148.0L918.2 147.0L918.0 146.0L917.6 145.1L917.3 144.1L916.9 143.2L916.5 142.3L917.1 142.0L917.8 141.7L918.4 141.4L919.0 141.1L919.6 140.8L920.2 140.6L920.4 141.5L920.6 142.4L920.8 143.3L920.9 144.3L920.9 145.2L920.9 146.1L920.9 147.1L920.9 148.0L921.7 148.1L922.4 148.3L923.2 148.4L924.0 148.5L924.8 148.6L925.5 148.8L926.3 149.0L927.1 149.3L927.9 149.5L928.7 149.8L929.4 150.0L930.2 149.7L930.9 149.5L931.6 149.2L932.3 148.9L933.0 148.6L933.7 148.3L934.4 148.0L935.1 147.8L935.9 147.9L936.8 148.0L937.7 148.1L938.6 148.3L938.9 147.6L939.2 146.9L939.5 146.2L939.8 145.5L939.5 144.4L939.1 143.3L938.8 142.2L938.5 141.0L939.2 140.9L939.8 140.7L940.5 140.6L941.2 140.9L942.0 141.3L942.7 141.7L943.5 142.0L942.8 140.9L942.1 139.7L941.4 138.5L940.7 137.4L941.3 137.1L941.9 136.8L942.4 136.4L943.2 136.4L943.9 136.4L944.6 136.3L945.4 136.3L946.1 136.3L946.8 136.2L947.6 136.2L948.2 136.0L948.8 135.8L949.4 135.6L950.0 135.4L950.7 135.2L949.9 135.0L949.1 134.8L948.3 134.5L947.6 134.5L946.9 134.5L946.2 134.4L945.4 134.4L944.7 134.4L944.0 134.4L943.2 134.3L942.5 134.3L941.8 134.3L941.2 134.4L940.5 134.5L939.9 134.6L939.3 134.8L938.7 134.9L938.1 135.0L937.3 134.1L936.5 133.2L935.7 132.3L934.9 131.4L934.5 130.4L934.1 129.5L933.6 128.5L933.2 127.5L933.6 127.0L934.0 126.6L934.5 126.1L934.9 125.7L935.3 125.2L935.7 124.7L936.1 124.3L936.5 123.8L936.9 123.4L936.2 122.9L935.5 122.5L934.8 122.1L934.0 121.6L933.7 122.1L933.3 122.6L932.9 123.1L932.6 123.5L932.2 124.0L931.8 124.5L931.4 125.0L931.0 125.5L930.6 126.0L930.2 126.5L929.8 127.0L929.4 127.5L929.3 128.3L929.3 129.2L929.3 130.0L929.2 130.9L929.1 131.8L929.1 132.6L929.8 133.2L930.5 133.8L931.2 134.4L931.9 135.0L931.8 135.8L931.7 136.6L931.6 137.4L931.5 138.4L931.3 139.3L931.1 140.3L930.9 141.3L930.7 142.3L930.6 143.3L930.5 144.3L929.8 144.7L929.2 145.2L928.6 145.7L927.9 146.2L927.0 145.9L926.1 145.6L925.2 145.2L924.6 144.3L924.1 143.4L923.5 142.4L923.0 141.5L922.4 140.6L921.8 139.8L921.2 139.0L920.6 138.2L920.1 137.4L919.4 136.3L918.8 135.2L918.4 135.8L917.9 136.5L917.5 137.1L917.0 137.7L916.5 138.3L916.1 139.0L915.6 139.6L914.8 139.3L914.1 138.9L913.4 138.6L912.6 138.3L911.9 138.0L911.2 137.6L910.9 136.7L910.6 135.8L910.3 134.9L910.0 134.0L909.6 132.9L909.2 131.8L908.8 130.7L909.3 130.3L909.9 129.8L910.4 129.3L910.9 128.9L911.4 128.4L912.1 128.2L912.8 128.0L913.5 127.8L914.1 127.6L914.8 127.4L915.5 127.2L916.2 127.0L916.5 126.2L916.7 125.4L917.0 124.6L917.2 123.8L917.5 123.1L917.7 122.3L918.0 121.6L918.2 120.9L918.4 120.3L918.6 119.6L918.8 119.0L919.0 118.3L918.9 117.4L918.7 116.6L918.6 115.7L919.0 115.4L919.5 115.1L919.9 114.9L920.3 114.6L920.8 114.3L921.2 114.0L921.6 113.7L922.0 113.5L922.4 113.2L922.9 113.0L923.4 112.8L923.9 112.6L924.3 112.3L924.8 112.1L925.3 111.9L925.7 111.7L926.2 111.5L926.7 111.3L927.1 111.1L927.5 110.9L928.0 110.8L928.4 110.6L928.8 110.4L929.3 110.3L929.9 110.4L930.5 110.4L931.1 110.5L931.7 110.6L932.3 110.7L932.9 110.9L933.6 111.0L934.3 111.2L934.9 111.4L935.6 111.6L936.3 111.7L937.0 111.9L937.8 112.3L938.7 112.8L939.5 113.2L940.4 113.6L941.3 114.0L942.0 114.1L942.7 114.3L943.5 114.4L944.2 114.5L944.9 114.6L945.7 114.7L946.4 114.9L947.2 115.2L948.1 115.4L948.9 115.7L949.7 116.0L950.6 116.3L951.4 116.6L952.2 116.9L953.1 117.2M955.8 120.5L955.1 120.3L954.4 120.2L953.7 120.1L952.9 120.0L952.2 119.9L951.5 119.7L950.8 119.6L950.1 119.5L949.4 119.4L948.7 119.3L948.1 119.3L947.4 119.2L946.8 119.2L946.1 119.1L945.5 119.1L944.8 119.0L944.2 119.0L945.2 119.7L946.2 120.4L947.2 121.2L948.1 121.9L949.1 122.6L950.1 123.4L951.0 123.8L951.9 124.2L952.8 124.6L953.7 125.1L954.7 125.5L955.6 125.9L956.1 125.7L956.6 125.5L957.1 125.3L957.6 125.1L958.1 124.9L958.5 124.7L959.0 124.5M1015.8 241.8L1014.8 240.7L1013.8 239.7L1012.8 238.7L1011.8 237.6L1010.8 236.4L1009.8 235.3L1008.8 234.2L1007.8 233.1L1006.8 232.0L1005.8 230.9L1004.8 229.7L1003.8 228.6L1002.7 227.4L1001.7 226.3L1000.6 225.1L999.6 224.0L998.5 222.9L997.5 221.7L996.4 220.6L995.9 219.5L995.3 218.5L994.7 217.4L994.1 216.4L994.2 217.6L994.3 218.8L994.4 219.9L994.4 221.1L993.4 220.2L992.3 219.2L991.3 218.2L990.2 217.2L989.2 216.3L988.1 215.3L987.4 214.0L986.7 212.7L985.9 211.4L987.1 211.4L988.2 211.4L989.3 211.4L990.5 211.4L990.5 210.3L990.6 209.3L990.6 208.3L990.6 207.2L990.5 206.0L990.4 204.8L990.3 203.5L990.1 202.3L990.0 201.1L989.7 200.0L989.3 198.9L988.9 197.8L988.6 196.6L987.6 196.5L986.7 196.4L985.7 196.2L984.7 196.1L984.0 196.5L983.2 196.9L982.5 197.3L981.7 197.6L980.9 198.0L979.9 197.8L978.9 197.5L977.9 197.2L976.9 196.9L975.8 196.6L974.9 196.6L973.9 196.5L973.0 196.5L972.0 196.5L971.1 196.4L970.1 196.4L969.1 195.2L968.1 194.0L967.1 192.8L966.1 191.6L965.1 190.6L964.1 189.6L963.1 188.6L963.0 187.5L962.8 186.3L963.6 186.0L964.3 185.7L965.1 185.4L965.8 185.0L966.6 184.7L967.4 184.4L968.2 184.3L969.1 184.2L969.9 184.1L970.8 184.0L971.6 183.9L972.5 183.8L973.3 183.6L974.2 183.3L975.1 183.0L975.9 182.7L976.8 182.5L977.6 182.2L978.5 181.9L979.3 181.6L980.3 182.0L981.3 182.4L982.3 182.8L983.3 183.2L984.3 183.6L985.3 184.0L986.3 184.4L987.1 184.2L987.9 184.0L988.7 183.8L989.4 183.7L990.2 183.5M987.7 176.8L986.7 176.1L985.8 175.4L984.8 174.8L983.9 174.3L982.9 173.8L982.0 173.3L981.1 172.9L980.3 173.0L979.5 173.0L978.6 173.1L977.8 173.2L977.0 173.3L976.2 173.4L975.6 173.7L975.0 174.1L974.3 174.4L973.7 174.8L972.7 174.0L971.8 173.1L970.8 172.3L971.3 171.8L971.7 171.2L972.2 170.7L971.3 170.4L970.4 170.2L969.4 169.9L968.5 169.6L967.6 169.4L966.7 169.1L966.3 170.0L965.9 170.8L965.5 171.7L965.1 172.6L964.8 173.5L964.6 174.5L964.3 175.4L964.1 176.4L963.8 177.4L963.6 178.3L963.9 179.5L964.3 180.7L964.6 181.9L963.9 182.6L963.3 183.2L962.6 183.9L962.0 184.6L961.3 185.2L960.4 185.3L959.5 185.3L958.6 185.3L957.6 185.4L956.7 185.4L955.8 185.5L954.9 185.5L955.6 186.6L956.3 187.7L957.1 188.8L957.8 190.0L958.5 190.9L959.2 191.8L959.9 192.7L959.7 193.8L959.6 194.8L959.4 195.9L959.2 196.9L958.1 196.6L957.1 196.4L956.0 196.1L955.3 194.8L954.5 193.5L953.8 192.2L952.9 191.2L952.0 190.2L951.0 189.3L950.1 188.3L949.4 187.3L948.6 186.3L947.9 185.4L947.2 184.4L946.5 183.4L945.8 182.5L945.2 181.5L944.5 180.5L943.5 180.0L942.6 179.5L941.6 179.0L940.6 178.5L939.7 178.0L938.7 177.5L937.9 176.6L937.1 175.6L936.3 174.7L935.5 173.8L934.7 172.9L933.7 172.3L932.7 171.8L931.9 172.1L931.1 172.3L930.2 172.6L930.5 173.8L930.8 174.9L931.1 176.1L931.8 176.9L932.6 177.8L933.4 178.6L934.1 179.4L934.9 180.2L935.9 180.8L936.9 181.5L937.9 182.1L938.8 182.7L939.8 183.3L940.8 183.9L941.8 184.5L942.8 185.1L943.9 185.7L944.9 186.3L946.0 186.9L945.2 186.7L944.3 186.5L943.4 186.3L942.6 186.1L942.6 187.4L942.6 188.7L942.7 190.0L942.3 190.9L941.9 191.8L941.5 192.7L941.3 191.6L941.2 190.5L941.0 189.4L940.4 188.6L939.8 187.7L939.2 186.9L938.3 186.2L937.3 185.6L936.4 184.9L935.4 184.3L934.4 183.7L933.4 183.1L932.4 182.5L931.4 181.7L930.5 181.0L929.5 180.3L928.6 179.6L927.6 178.9L926.9 178.1L926.1 177.3L925.3 176.6L924.5 175.8L923.8 175.0L923.1 175.4L922.5 175.9L921.8 176.3L921.1 176.7L920.3 176.9L919.5 177.2L918.7 177.5L917.8 177.8L917.0 178.0L916.0 178.0L915.1 178.0L914.1 178.0L913.1 178.0L913.0 179.2L912.9 180.4L912.9 181.6L912.1 182.1L911.3 182.5L910.5 183.0L909.7 183.5L908.9 183.9L908.1 184.4L907.6 185.4L907.1 186.5L906.7 187.5L906.2 188.6L906.8 189.7L907.5 190.8L906.8 191.4L906.1 191.9L905.4 192.8L904.7 193.8L903.9 194.7L903.3 195.2L902.7 195.6L902.1 196.1L901.0 196.2L900.0 196.2L898.9 196.3L897.8 196.4L897.0 197.0L896.1 197.7L895.3 198.3M687.9 272.3L687.0 272.8L686.0 273.2L685.1 273.6L684.1 274.0L682.9 273.2L681.7 272.3L680.5 271.5L679.4 270.7L678.7 269.6L678.0 268.6L677.2 267.5L676.5 266.5L676.4 265.3L676.3 264.2L676.1 263.0L675.9 261.9L675.8 260.7L675.6 259.5L675.5 258.6L675.4 257.7L675.3 256.8L673.9 256.3L672.5 255.8L671.1 255.4L669.7 254.9L668.3 254.4L666.9 254.0L665.8 254.1L664.7 254.2L663.5 254.3L662.4 254.4L661.2 254.5L660.8 253.3L660.4 252.2L659.9 251.0L659.5 249.8L659.9 248.9L660.3 247.9L660.7 247.0L660.5 245.8L660.4 244.6L660.2 243.4L660.0 242.2L659.8 241.0L659.6 239.9L659.4 238.7L658.3 238.8L657.2 238.9L656.0 239.1L654.9 239.2L653.8 239.4L652.7 239.5L651.6 239.6L650.5 239.8L650.8 240.8L651.1 241.9L651.4 242.9L651.7 244.0L651.0 244.6L650.2 245.3L649.5 246.0L648.7 246.7L647.7 246.9L646.6 247.1L645.6 247.3L644.5 247.5L643.5 247.7L642.5 247.8L641.3 247.2L640.0 246.5L638.8 245.8L637.6 245.1L636.7 244.0L635.7 242.9L634.7 241.9L633.7 240.8L632.7 239.7L631.7 238.7L631.2 237.5L630.7 236.3L630.2 235.1L629.7 233.9L629.2 232.7L628.7 231.5L628.2 230.3L627.8 229.0L627.5 227.7L627.2 226.4L626.8 225.1L626.5 223.8L626.1 222.4L625.7 221.1L626.4 220.4L627.1 219.7L627.9 219.0L628.6 218.3L629.2 217.7L629.9 217.0L631.1 217.0L632.2 217.0L633.4 217.1L634.5 217.1L635.6 217.1L636.8 217.2L637.9 217.2L639.1 217.2L640.1 217.4L641.1 217.5L642.2 217.7L643.2 217.8L643.4 216.9L643.7 216.0L643.9 215.1L644.1 214.2L644.2 213.3L645.5 213.7L646.7 214.1L647.9 214.4L649.2 214.8L650.4 215.1L651.6 215.5L652.9 215.8L654.0 216.2L655.2 216.6L656.4 217.0L657.6 217.4L658.8 217.8L659.6 218.8L660.3 219.9L661.1 220.9L661.9 222.0L663.1 223.0L664.4 224.1L665.7 225.2L666.9 226.2L668.2 227.3L669.5 228.4L669.8 227.6L670.2 226.9L670.6 226.1L669.6 224.8L668.6 223.5L667.6 222.1L666.6 220.8L665.6 219.5L664.6 218.3L663.5 217.1L662.4 216.0L661.3 214.8L660.2 213.6L659.9 212.6L659.5 211.5L659.2 210.5L658.8 209.4L659.1 208.8L659.4 208.1L659.6 207.5M626.4 156.5L625.3 155.8L624.2 155.1L623.1 154.4L622.0 153.7L620.9 153.0L619.8 152.3L618.6 151.6L617.4 150.9L616.2 150.2L615.0 149.5L613.9 148.8L612.7 148.1L611.5 147.4L610.4 146.7L609.3 146.3L608.2 145.9L607.1 145.4L606.0 145.0L604.9 144.5L603.8 144.1L602.7 143.6L601.6 143.2L600.5 142.8L599.6 142.6L598.7 142.3L597.8 142.1L596.9 141.9L596.0 141.7L595.1 141.5L594.2 141.3L593.3 141.0L592.1 140.2L591.0 139.5L589.8 138.7L588.6 137.9L587.5 136.8L586.4 135.8L585.3 134.7L584.3 133.7L583.2 132.6L583.5 132.1L583.8 131.6L584.0 131.1L584.3 130.6L584.6 130.1L584.8 129.6L585.1 129.1L585.2 128.5L585.3 127.9L585.4 127.4L585.4 126.8L585.7 126.4L586.0 126.0L586.2 125.5L586.5 125.1L586.7 124.7L586.9 124.3L587.2 123.8L586.9 123.2L586.7 122.5L586.5 121.8L586.2 121.2L586.0 120.5L586.6 120.5L587.2 120.6L587.9 120.6L588.5 120.6L589.1 120.7L589.8 120.7L590.4 120.7L590.2 120.0L589.9 119.3L589.6 118.6L589.3 117.9L588.0 116.9L586.6 115.9L585.3 115.0L584.0 114.0L583.2 113.8L582.4 113.6L581.6 113.4L580.8 113.2L580.0 113.0L579.2 112.8L579.5 113.3L579.8 113.9L580.2 114.5L580.5 115.1L580.7 115.7L580.1 115.6L579.4 115.5L578.7 115.4L578.1 115.3L577.4 115.2L576.7 115.1L575.9 114.8L575.0 114.5L574.2 114.2L573.3 113.9L572.5 113.6L571.2 112.9L570.0 112.2L568.8 111.6L567.6 110.9L566.6 110.5L565.6 110.1L564.7 109.7L563.8 109.3L562.8 108.9L563.1 109.5L563.4 110.2L563.6 110.8L563.9 111.5L564.9 112.1L565.9 112.8L567.0 113.4L568.0 114.0L569.0 114.7L568.9 115.0L568.7 115.4L568.5 115.7L568.2 116.1L568.0 116.4L567.8 116.8L567.4 116.9L567.0 117.0L566.6 117.1L566.2 117.2L565.5 117.2L564.9 117.1L564.2 117.1L563.6 117.1L562.9 117.0L562.3 117.0L561.6 116.9L561.0 116.9L560.3 116.9L559.7 116.8L559.0 116.8L558.5 116.8L557.9 116.9L557.3 116.9L556.7 116.9L556.1 117.0L555.6 117.0L555.0 117.1L554.4 117.1L553.8 117.1L553.2 117.2L552.6 117.2L552.0 117.1L551.3 117.1L550.6 117.0L549.9 116.9L549.3 116.8L548.6 116.8L547.9 116.7L547.3 116.6L546.6 116.5L546.0 116.4L545.3 116.4L544.6 116.3L544.0 116.2L543.4 116.2L542.7 116.1L542.1 116.1L541.4 116.0L540.8 116.0L540.1 115.9L539.5 115.8L538.9 115.8L538.2 115.7L537.5 115.5L536.8 115.3L536.1 115.1L535.4 114.9L534.7 114.7L534.0 114.6L533.3 114.4L532.6 114.2L531.9 114.0L531.2 113.8L530.6 113.6L529.9 113.5L529.3 113.4L528.7 113.3L528.0 113.2L527.4 113.1L526.8 113.0L526.2 112.9L525.5 112.8L524.9 112.7L524.3 112.6L523.7 112.6L523.1 112.6L522.6 112.7L522.0 112.8L521.5 112.9L521.0 113.0L520.4 113.1L519.9 113.2L519.3 113.3L518.8 113.4L518.2 113.5L517.7 113.6L517.1 113.7L516.6 113.8L516.0 113.9L515.5 114.1L514.9 114.2L514.4 114.3L513.8 114.4L513.3 114.5L512.7 114.7L512.1 114.5L511.5 114.4L510.9 114.2L510.3 114.1L509.7 113.9L509.1 113.8L508.5 113.7L507.9 113.5L507.3 113.4L506.7 113.3L506.1 113.2L505.5 113.0L504.9 112.9L504.4 112.8L503.8 112.7L503.2 112.6L502.6 112.5L502.1 112.3L501.5 112.3L500.9 112.2L500.3 112.1L499.7 112.0L499.2 112.0L498.6 111.9L498.0 111.8L497.4 111.7L496.9 111.7L496.3 111.6L495.7 111.5L495.2 111.4L494.6 111.3L494.0 111.2L493.5 111.1L492.9 110.9L492.3 110.8L491.8 110.7L491.2 110.6L490.7 110.5L490.1 110.4L489.6 110.3L489.0 110.2L488.5 110.1L488.0 110.0L487.4 109.9L486.8 110.1L486.2 110.3L485.6 110.6L485.0 110.8L484.4 111.0L483.8 111.3L483.2 111.5L482.6 111.9L482.0 112.3L481.3 112.7L480.7 113.1L480.0 113.5L479.4 113.9L478.7 114.3L478.0 114.7L477.4 114.9L476.8 115.1L476.2 115.4L475.6 115.6L475.0 115.9L474.3 116.1L474.8 116.5L475.3 116.8L475.8 117.2L476.3 117.5L476.8 117.9L477.4 118.3L477.9 118.6L478.4 119.0L477.8 119.2L477.3 119.5L476.7 119.8L476.1 120.1L475.4 120.3L474.7 120.5L474.0 120.7L473.4 120.9L472.7 121.2L472.0 121.4L471.3 121.6L470.6 121.8L469.9 122.1L470.4 122.4L470.9 122.8L471.5 123.1L472.0 123.5L472.5 123.8L473.1 124.2L473.6 124.5L474.4 124.5L475.1 124.5L475.8 124.5L476.6 124.5L477.3 124.5L478.0 124.5L478.8 124.5L479.5 124.5L479.3 125.7L479.1 126.8L478.9 127.9L478.3 128.1L477.6 128.2L476.8 128.3L476.1 128.5L475.4 128.6L474.7 128.7L474.0 128.8L473.3 129.0L472.6 129.1L472.4 130.3L472.1 131.4L471.9 132.6L471.6 133.8L472.1 134.4L472.6 135.0L473.1 135.6L473.6 136.2L474.1 136.8L474.7 137.4L475.2 138.0L475.7 138.6L476.5 138.6L477.4 138.6L478.2 138.6L479.0 138.6L479.9 138.6L480.7 138.6L481.5 138.6L482.4 138.6L482.7 139.5L483.0 140.4L483.4 141.4L483.7 142.3L483.0 142.8L482.2 143.3L481.4 143.9L480.6 144.4L479.8 144.9L479.0 145.5L478.2 146.0L477.4 146.2L476.6 146.4L475.8 146.7L475.0 146.9L474.2 147.1L473.4 147.3L472.6 147.5L471.8 147.8L472.6 147.6L473.4 147.5L474.2 147.4L475.0 147.2L475.8 147.1L476.6 147.0L477.4 146.9L478.3 146.7L479.1 146.6L479.9 146.5L480.6 145.9L481.3 145.4L482.1 144.8L482.8 144.3L483.5 143.7L484.2 143.2L484.9 142.6L485.6 142.1L486.4 141.5L486.9 140.7L487.5 139.9L488.0 139.0L488.6 138.2L489.1 137.4L489.8 137.2L490.5 137.0L491.2 136.8L491.9 136.6L492.6 136.4L493.3 136.2L493.8 135.4L494.3 134.6L494.8 133.8L495.2 132.9L495.7 132.1L496.4 132.5L497.0 132.8L497.6 133.1L498.3 133.5L498.9 133.8L499.6 133.9L500.3 133.9L501.0 134.0L501.7 134.1L502.4 134.1L503.1 134.2L503.8 134.3L504.5 134.4L505.2 134.4L505.9 134.5L506.7 134.6L507.4 134.7L508.1 134.8L508.9 134.8L509.6 134.9L510.3 135.0L511.0 135.3L511.8 135.7L512.5 136.0L513.3 136.4L514.0 136.7L514.8 137.1L515.5 137.4L516.3 137.9L517.0 138.4L517.8 138.8L518.5 139.3L519.3 139.8L520.0 140.6L520.8 141.4L521.6 142.1L522.4 142.9L523.2 143.7L524.0 144.4L524.8 145.2L525.6 146.0L526.4 146.4L527.2 146.8L528.0 147.2L528.8 147.7L529.7 148.1L530.5 148.5L531.2 149.5L531.9 150.5L532.6 151.5L533.3 152.5L534.1 153.5L534.8 154.5L535.5 155.5L536.3 156.5L537.0 157.5L537.9 158.2L538.8 158.9L539.7 159.6L540.6 160.4L541.5 161.1L542.4 161.8L543.3 162.6L544.2 163.3L545.1 164.0L545.3 165.1L545.5 166.2L545.7 167.4L545.9 168.5L546.1 169.6L546.2 170.7L546.7 171.9L547.1 173.0L547.5 174.2L547.9 175.4L548.3 176.5L548.7 177.7L549.1 178.9L549.3 180.0L549.4 181.2L549.6 182.3L549.7 183.5L549.9 184.6L550.1 185.8L551.0 186.9L551.8 187.9L552.7 189.0L553.6 190.1L554.4 191.2L555.3 192.2L556.2 193.3L557.1 194.4L557.9 195.4L558.8 196.5L559.7 197.6L560.5 198.6L561.4 199.7L562.6 200.4L563.7 201.1L564.9 201.8L566.1 202.5L567.2 203.2L568.4 203.9L569.4 204.8L570.5 205.7L571.5 206.6L572.5 207.5L573.3 208.5L574.1 209.5L574.9 210.6L575.7 211.6L576.5 212.6L577.3 213.6L578.2 214.8L579.2 215.9L580.1 217.1L581.1 218.3L582.0 219.4L583.0 220.6L584.0 221.4L585.0 222.3L586.0 223.2L587.1 224.1L588.1 224.9L589.1 225.8L590.1 226.7L591.2 227.5L592.2 228.5L593.2 229.5L594.2 230.5L595.2 231.5L596.2 232.5L597.2 233.5L598.2 234.5L597.7 233.4L597.2 232.4L596.7 231.4L596.3 230.3L595.3 229.1L594.3 227.9L593.4 226.7L592.4 225.5L591.5 224.4L590.5 223.2L589.5 222.0L588.5 220.9L587.5 219.7L586.4 218.6L585.4 217.5L584.4 216.4L583.3 215.3L582.3 214.2L581.3 213.1L580.3 211.9L579.2 210.8L580.4 211.2L581.6 211.5L582.8 211.9L584.0 212.2L585.0 213.2L586.0 214.2L587.0 215.2L588.0 216.2L589.1 217.2L590.1 218.2L591.1 219.2L592.1 220.2L593.0 221.3L594.0 222.3L594.9 223.4L595.9 224.4L596.8 225.4L597.8 226.5L598.7 227.5L599.8 228.4L601.0 229.2L602.1 230.0L603.3 230.9L604.4 231.7L605.6 232.5L606.7 233.4L607.8 234.2L609.0 235.0L610.1 235.9L610.5 237.3L610.9 238.7L611.3 240.1L611.7 241.4L612.7 242.3L613.7 243.1L614.8 244.0L615.8 244.8L616.8 245.6L618.0 246.2L619.3 246.8L620.5 247.4L621.8 248.0L623.1 248.6L624.3 249.2L625.6 249.8L626.9 250.3L628.2 250.8L629.5 251.3L630.8 251.8L632.1 252.4L633.4 252.9L634.7 253.4L635.9 253.5L637.0 253.6L638.2 253.7L639.4 253.7L640.5 253.8L641.7 253.9L642.9 254.0L644.2 254.7L645.5 255.4L646.8 256.1L648.1 256.8L649.4 257.4L650.7 258.1L651.9 258.5L653.2 258.9L654.4 259.3L655.7 259.7L656.9 260.1L658.2 260.5L659.4 260.9L660.6 261.2L661.7 261.5L662.9 261.8L664.1 262.0L665.2 262.3L666.4 263.3L667.5 264.2L668.7 265.2L669.8 266.1L670.9 267.1L671.3 268.3L671.6 269.5L672.0 270.7L673.2 271.0L674.4 271.4L675.7 271.7L676.9 272.1L677.9 272.9L678.8 273.7L679.8 274.6L680.8 275.4L681.9 275.9L683.1 276.3L684.2 276.8L685.3 277.3L686.4 277.7L687.6 278.2L688.1 277.1L688.6 276.1M699.9 274.3L698.9 273.8L697.8 273.3L696.7 272.8L695.7 272.3L694.6 271.8L693.9 272.1L693.2 272.3M721.4 207.5L722.7 206.7L724.0 206.0L725.2 205.3L726.4 204.8L727.5 204.3L728.7 203.9L730.0 203.3L731.3 202.7L732.6 202.1L734.0 201.5L735.3 200.9L736.6 200.3L737.1 199.1L737.6 197.9L738.1 196.7L738.7 195.5L739.6 194.6L740.5 193.7L741.5 192.7L742.9 191.6L744.3 190.4L745.7 189.3L747.1 188.1L748.5 186.9L749.9 185.8L751.1 185.4L752.3 185.0L753.3 184.6L754.4 184.2L755.5 183.8L756.6 183.4L757.6 183.0L758.5 182.7L759.3 182.5L760.1 182.2L760.0 181.3L759.8 180.3L759.7 179.4L760.7 178.5L761.6 177.6L762.6 176.7L763.7 176.3L764.7 175.9L765.8 175.5L766.8 175.1L767.9 174.7L769.0 174.3L770.0 174.0L770.9 173.5L771.8 173.0L772.6 172.6L773.6 172.6L774.7 172.6L775.7 172.6L774.5 173.5L773.4 174.4L772.2 175.2L771.0 176.1L772.0 175.9L772.9 175.6L773.9 175.3L774.8 175.0L775.7 174.8L776.7 174.5L777.7 174.1L778.7 173.8L779.7 173.5L780.7 173.2L781.7 172.9L782.7 172.6L783.4 171.4L784.2 170.3L784.9 169.2L785.7 168.0L784.8 167.8L784.0 167.5L783.2 167.3L782.3 167.1L781.5 166.8L780.7 166.6L779.9 166.4L779.0 166.1L778.2 165.9L779.0 165.0L779.9 164.1L780.7 163.2L779.7 163.3L778.7 163.4L777.8 163.5L776.8 163.6L775.8 163.6L774.9 163.7L773.9 163.8L772.9 163.9L772.0 163.9L771.0 164.0L769.8 164.7L768.7 165.4L767.5 166.1L766.4 166.8L765.2 167.5L766.3 166.8L767.4 166.1L768.6 165.4L769.7 164.7L770.8 164.0L771.9 163.3L773.0 162.6L774.1 161.9L775.1 161.6L776.0 161.3L777.0 161.0L778.0 160.7L779.0 160.4L780.0 160.1L781.0 159.8L782.0 159.6L782.9 159.6L783.9 159.6L784.8 159.6L785.8 159.6L786.7 159.6L787.7 159.6L788.6 159.6L789.6 159.6L790.5 159.6L791.6 159.1L792.6 158.6L793.6 158.1L794.7 157.6L795.7 157.1L796.7 156.7L797.8 156.2L798.6 155.5L799.5 154.9L800.3 154.2L801.2 153.6L801.2 152.6L801.3 151.5L801.4 150.5L801.4 149.5L801.5 148.5L801.0 148.1L800.4 147.8L799.8 147.4L799.3 147.1L798.7 146.7L798.1 146.4L797.6 146.0L797.5 145.2L797.4 144.3L797.3 143.5L797.2 142.7L797.1 141.9L797.1 141.0L797.1 140.2L797.1 139.4L797.1 138.6L797.1 137.8L797.2 136.9L797.2 136.1L797.3 135.3L797.3 134.5L796.3 135.3L795.2 136.1L794.1 137.0L793.0 137.8L792.0 138.6L791.1 138.6L790.3 138.6L789.5 138.6L788.6 138.6L788.8 137.7L789.0 136.9L789.1 136.0L789.3 135.2L789.5 134.3L789.7 133.5L790.0 132.6L789.5 132.3L789.1 132.0L788.6 131.7L788.2 131.4L787.8 131.1L787.3 130.7L786.9 130.4L786.5 130.1L786.1 129.8L785.4 129.8L784.8 129.7L784.2 129.6L783.5 129.6L782.9 129.5L782.2 129.5L781.6 129.4L781.0 129.4L780.3 129.3L779.5 130.4L778.6 131.6L777.8 132.7L777.0 133.8L776.3 134.8L775.6 135.7L774.9 136.7L774.3 137.6L773.6 138.6L772.8 139.6L772.1 140.6L771.3 141.7L770.5 142.7L769.8 143.7L769.0 144.7L767.9 145.4L766.8 146.0L765.7 146.6L764.6 147.2L763.4 147.9L762.3 148.5L761.7 149.6L761.0 150.6L760.4 151.7L759.8 152.7L759.2 153.8L758.6 154.9L757.6 155.4L756.7 155.9L755.7 156.4L754.7 157.0L754.7 156.5M692.5 276.1L693.3 275.1L694.2 274.0L695.2 274.2L696.2 274.4L697.2 274.6L698.2 274.8L698.6 275.7L699.0 276.5L699.4 277.3L699.6 276.3L699.8 275.3L699.9 274.3M883.2 91.5L882.8 91.7L882.4 92.0L882.0 92.3L881.6 92.5L881.2 92.8L880.8 93.0L880.4 93.3L879.9 93.6L879.5 93.9L879.0 94.1L878.6 94.4L878.1 94.7L877.6 95.0L877.1 95.2L877.0 96.1L876.9 96.9L876.8 97.8L876.7 98.6L876.6 99.5L876.5 100.4L876.4 101.3L876.1 102.0L875.8 102.8L875.4 103.5L875.1 104.3L874.8 105.1L874.4 105.9L874.1 106.7L873.5 107.1L872.9 107.6L872.3 108.0L871.7 108.5L871.1 109.0L870.5 109.4L869.9 109.9L869.3 110.4L868.7 110.8L868.0 111.3L867.4 111.7L866.7 112.1L866.0 112.6L865.4 113.0L864.7 113.4L864.0 113.8L863.3 114.2L862.6 114.7L861.9 115.1L861.2 115.4L860.6 115.7L859.9 116.1L859.2 116.4L858.5 116.7L857.9 117.1L857.2 117.4L856.5 117.7L855.8 118.1L855.0 118.5L854.3 118.9L853.5 119.2L852.8 119.6L852.0 120.0L851.2 120.4L850.5 120.8L849.7 121.2L849.0 121.6L848.2 122.1L847.5 122.6L846.7 123.1L845.9 123.6L845.2 124.1L844.3 124.7L843.5 125.4L842.7 126.1L841.8 126.8L841.0 127.5L840.1 128.2L839.3 128.9L838.4 129.6L837.5 130.3L836.7 130.9L835.8 131.5L835.0 132.2L834.1 132.8L833.2 133.5L832.3 134.1L831.5 134.8L830.8 134.6L830.1 134.4L829.4 134.3L828.7 134.1L828.1 134.0L827.4 133.8L826.7 133.6L826.0 133.5L825.4 133.3L825.1 132.6L824.9 131.9L824.6 131.2L824.4 130.5L824.2 129.8L823.9 129.1L823.7 128.4L823.6 127.7L823.4 127.0L823.2 126.3L823.0 125.7L823.4 124.6L823.8 123.6L824.1 122.6L824.5 121.6L824.9 120.6L825.3 119.6L826.3 118.7L827.2 117.8L828.1 116.9L829.0 116.0L829.9 115.1L830.7 114.3L831.4 113.5L832.2 112.7L833.0 111.9L832.8 111.5L832.6 111.1L832.4 110.7L832.3 110.3L832.1 109.9L832.0 109.5L831.8 109.1L831.7 108.7L831.6 108.3L831.5 107.9L831.4 107.5L831.5 106.9L831.7 106.3L831.9 105.7L832.1 105.1L832.3 104.5L832.6 103.9L832.8 103.4L833.1 102.8L832.7 102.6L832.4 102.5L832.1 102.4L831.8 102.2L831.4 102.1L831.1 101.9L830.8 101.8L830.5 101.6L830.2 101.5L829.9 101.4L829.6 101.2L829.3 101.1L829.0 100.9L828.8 100.8L828.5 100.6L828.2 100.5L827.9 100.4L827.7 100.2L827.4 100.1L827.1 99.9L826.9 99.8L827.0 99.4L827.2 99.0L827.4 98.6L827.7 98.2L827.9 97.9L828.1 97.5L828.4 97.1L828.7 96.7L829.0 96.3L829.3 96.0L829.6 95.6L829.9 95.2L831.2 94.7L832.5 94.2L833.8 93.6L835.1 93.1L836.4 92.6L837.7 92.1L838.4 92.0L839.0 91.8L839.7 91.7L840.3 91.5L841.0 91.4L841.6 91.3L842.3 91.1L842.9 91.0L843.5 90.9L844.2 90.7L844.8 90.6L845.4 90.5L846.0 90.3L846.6 90.2L847.3 90.1L847.9 89.9L848.5 89.8L848.9 89.7L849.4 89.7L849.8 89.6L850.3 89.5L850.7 89.5L851.2 89.4L851.6 89.4L852.1 89.3L852.5 89.2L853.0 89.2L853.4 89.1L853.9 89.1L854.3 89.0L854.7 88.9L855.1 88.9L855.6 88.8L856.0 88.8L856.4 88.7L856.8 88.6L857.3 88.6L857.7 88.5L858.1 88.5L858.5 88.4L858.9 88.3L859.2 88.3L859.5 88.3L859.8 88.3L860.1 88.3L860.4 88.3L860.7 88.3L861.0 88.3L861.4 88.3L861.7 88.3L862.0 88.3L862.3 88.3L862.6 88.3L862.9 88.3L863.2 88.3L863.5 88.3L863.8 88.3L864.1 88.3L864.4 88.3L864.7 88.3L865.0 88.3L865.3 88.3L865.6 88.3L865.9 88.3L866.2 88.3L866.5 88.3L866.8 88.3L867.1 88.3L867.4 88.3L867.7 88.3L868.0 88.3L868.3 88.3L868.6 88.3L869.0 88.3L869.3 88.3L869.6 88.3L869.9 88.3L870.2 88.3L870.5 88.3L870.8 88.3L871.1 88.3L871.4 88.3L871.7 88.3L872.0 88.3L872.3 88.3L872.6 88.3L872.8 88.4L873.1 88.5L873.3 88.5L873.6 88.6L873.8 88.7L874.1 88.7L874.4 88.8L874.6 88.9L874.9 88.9L875.2 89.0L875.4 89.1L875.7 89.1L876.0 89.2L876.3 89.3L876.5 89.3L876.8 89.4L877.1 89.5L877.4 89.5L877.7 89.6L878.0 89.7L878.3 89.7L878.6 89.8L878.9 89.9L879.1 90.0L879.4 90.1L879.7 90.2L880.0 90.3L880.3 90.5L880.6 90.6L880.9 90.7L881.2 90.8L881.6 90.9L881.9 91.0L882.2 91.1L882.5 91.2L882.9 91.4L883.2 91.5M689.3 298.5L689.7 297.6L690.1 296.6L690.5 295.7M699.9 274.3L701.0 273.9L702.0 273.5L703.0 273.0L704.1 272.6L704.8 271.5L705.4 270.4L706.1 269.3L707.3 268.7L708.4 268.2L709.5 267.6L710.7 267.1L711.9 266.4L713.1 265.8L714.4 265.2L715.6 264.6L716.8 264.0L717.0 265.3L717.2 266.6L717.3 267.9L717.1 268.9L716.8 270.0L716.5 271.0L716.3 272.1L717.2 271.1L718.1 270.2L719.0 269.3L719.9 268.3L720.8 267.4L721.7 266.5L722.7 267.1L723.7 267.6L724.7 268.2L725.6 268.7L726.6 269.3L728.0 269.3L729.4 269.3L730.7 269.3L732.1 269.3L733.2 269.2L734.3 269.2L735.4 269.1L736.5 269.1L737.6 269.0L738.8 268.9L740.1 268.9L741.3 268.8L742.5 268.8L743.7 268.7L744.0 269.9L744.4 271.1L744.8 272.3L745.2 273.5L746.2 274.0L747.2 274.6L748.2 275.1L749.3 275.7L750.3 276.2L751.1 277.2L751.9 278.1L752.8 279.0L753.6 279.9L754.4 280.9L755.3 281.8L756.4 281.9L757.6 282.0L758.8 282.2L760.0 282.3L761.1 282.4L762.3 282.5L763.5 282.6L764.6 283.1L765.6 283.6L766.7 284.1L767.8 284.6L768.9 285.1L769.7 286.0L770.6 286.8L771.5 287.6L772.0 288.8L772.5 290.0L773.0 291.2L773.6 292.3L774.1 293.5L773.7 294.7L773.3 296.0L773.0 297.2L772.6 298.5M690.6 295.7L691.7 295.0L692.8 294.2L694.0 293.5L694.7 292.5L695.5 291.6L696.3 290.7L697.1 289.7L697.8 288.8L698.0 287.6L698.2 286.4L698.4 285.2L698.6 284.0L698.8 282.8L699.0 281.6L699.3 280.4L698.8 279.5L698.4 278.6L698.0 277.6L698.6 276.5L699.3 275.4L699.9 274.3M772.6 298.5L773.3 298.8L774.0 299.1M747.4 382.8L746.2 383.8L745.0 384.8L743.7 385.8L742.3 386.7L740.9 387.7L739.6 388.7L738.2 389.6L736.9 390.6L735.5 391.6L734.2 392.6L732.8 393.3L731.5 394.0L730.2 394.7L728.9 395.4L727.9 395.4L726.9 395.5L725.9 395.6L724.8 395.6L724.1 395.3L723.5 394.9L722.8 394.6L722.0 394.2L721.2 394.4L720.3 394.5L720.3 395.6L720.3 396.7L720.2 397.9L720.2 399.0L720.2 400.1L719.1 401.3L718.0 402.4L717.0 403.6L715.9 404.8L714.8 405.0L713.6 405.3L712.5 405.5L711.4 405.7L710.3 405.9L709.1 406.2L708.0 406.4L706.9 406.6L705.8 406.8L704.7 407.0L703.6 408.2L702.6 409.4L701.6 410.6L700.5 411.8L699.6 411.9L698.6 412.1L697.7 412.2L696.8 412.3L695.8 412.5L694.9 412.6L694.8 413.6L694.6 414.7L694.4 415.7L694.3 416.8L693.4 417.9L692.6 419.0L691.8 420.2L690.9 421.3L690.1 422.5L689.3 423.6L688.1 424.4L686.9 425.2L685.8 426.0L684.6 426.8L683.5 427.6L683.8 428.4L684.1 429.2L684.4 430.0L684.6 430.8L684.9 431.6L683.9 432.5L682.8 433.3L681.7 434.1L680.7 435.0L679.6 435.8L678.6 436.6L677.5 437.4L676.5 438.2L675.8 439.2L675.0 440.2L674.3 441.2L673.6 442.1L673.7 442.8L673.8 443.4L673.0 443.7L672.1 444.0L671.3 444.4L670.4 444.7L669.5 445.2L668.5 445.7L667.6 446.2L666.6 446.7L666.3 446.1L666.0 445.4L665.7 444.8L665.4 444.1L665.0 443.4L664.7 442.8L664.3 442.1L664.5 441.0L664.7 439.9L664.8 438.7L665.0 437.6L665.1 436.4L665.2 435.3L665.4 434.1L665.5 433.0L666.2 431.8L666.9 430.6L667.6 429.5L668.3 428.3L669.0 427.1L669.7 426.0L670.4 424.8L671.1 423.6L671.8 422.4L672.5 421.3L673.2 420.1L674.0 418.9L674.7 417.7L675.4 416.6L676.1 415.4L676.6 414.0L677.0 412.6L677.6 411.2L678.3 409.8L679.1 408.4L679.8 407.0L680.5 405.6L681.2 404.3L681.9 402.9L682.6 401.5L683.6 400.2L684.7 399.0L685.7 397.7L686.8 396.5L687.8 395.2L688.9 394.0L689.9 392.7L691.0 391.5L692.0 390.2L693.1 389.0L693.7 387.6L694.3 386.2L694.9 384.8L695.5 383.4L696.1 382.0L696.7 380.6L697.3 379.2L697.8 377.8L698.6 376.6L699.4 375.4L700.2 374.2L701.0 372.9L701.8 371.7L702.5 370.5L703.3 369.3L704.1 368.1L704.6 366.8L705.1 365.6L705.6 364.4L706.2 363.1L706.7 361.9L707.2 360.7L707.6 359.4L708.1 358.2L708.6 356.9L708.9 355.7L709.3 354.4L709.6 353.2L709.9 351.9L710.2 350.7L710.5 349.4L709.9 348.7L709.3 348.0L708.7 347.3L708.1 346.6L707.2 346.0L706.3 345.4L705.4 344.7L704.4 344.1L703.5 343.4L702.6 342.8L701.7 342.2L700.7 341.5L699.8 340.9L698.8 340.2L698.5 339.1L698.1 337.9L697.8 336.7L697.4 335.5L697.0 334.3L696.7 333.1L696.3 331.9L695.9 330.7L695.4 329.4L695.0 328.2L694.6 326.9L694.1 325.7L693.6 324.5L693.2 323.2L692.7 322.0L692.2 320.8L691.3 319.8L690.4 318.9L689.4 318.0L688.5 317.1L687.6 316.1L686.6 315.2L686.6 314.0L686.6 312.8L686.6 311.7L686.6 310.5L687.6 309.6L688.5 308.7L689.4 307.8L690.4 306.8L689.9 305.7L689.5 304.6L689.0 303.5L688.5 302.4L688.0 301.3L688.4 300.4L688.9 299.4L689.3 298.5M774.0 299.1L775.1 299.5L776.1 299.9L777.2 300.3L778.2 300.7L779.4 301.0L780.7 301.2L781.9 301.5L783.1 301.7L784.3 301.9L785.6 302.2L786.8 302.4L788.0 302.7L789.2 303.2L790.5 303.6L791.7 304.1L792.9 304.6L794.2 305.1L795.4 305.6L796.6 306.1L797.9 306.6L799.1 306.9L800.3 307.2L801.5 307.5L802.7 307.8L803.9 308.2L805.1 308.5L806.3 308.8L807.5 309.4L808.8 310.1L810.0 310.7L811.2 311.3L812.5 312.0L813.7 312.6L814.9 313.3L815.3 314.4L815.7 315.6L816.0 316.7L816.4 317.9L816.8 319.0L817.2 320.2L817.1 321.4L817.1 322.6L817.0 323.8L816.9 324.9L816.1 325.8L815.2 326.6L814.3 327.4L813.5 328.3L812.6 329.1L812.0 330.2L811.3 331.3L810.7 332.5L810.1 333.6L809.5 334.7L809.4 335.8L809.4 336.9L809.3 338.0L809.3 339.1L809.3 340.2L809.4 341.4L809.5 342.6L809.5 343.8L809.6 345.0L809.8 346.2L809.9 347.4L810.0 348.6L809.9 349.8L809.7 350.9L809.6 352.1L809.5 353.2L809.5 354.4L809.4 355.6L809.4 356.6L809.4 357.6L809.4 358.7L809.4 359.7L808.4 360.2L807.5 360.7L806.5 361.2L805.6 361.7L804.6 362.2L803.9 362.7L803.1 363.2L802.4 363.7L801.7 364.2L801.0 364.7L800.1 365.4L799.3 366.1L798.5 366.8L797.7 367.4L796.9 368.1L796.1 368.8L795.3 369.5L795.6 370.7L795.9 371.9L796.2 373.0L796.5 374.2L796.8 375.4L797.1 376.6L797.4 377.8L797.3 378.8L797.2 379.8L797.1 380.8L796.9 381.8L796.8 382.8M226.9 361.4L227.0 362.7L227.2 364.0L227.3 365.3L227.4 366.5L227.5 367.8L227.7 369.1L227.8 370.4L227.9 371.7L228.1 373.0L228.4 374.2L228.6 375.5L228.8 376.8L229.1 378.1L229.3 379.3L229.5 380.6L229.8 381.8L230.0 382.9L230.2 384.1L230.4 385.2L230.6 386.4L230.9 387.6L230.5 388.8L230.1 390.1L229.7 391.4L229.3 392.7L228.9 394.0L229.8 394.3L230.8 394.6L231.7 394.9L232.6 395.2L233.6 395.6L234.5 395.9L235.4 396.2L236.5 395.8L237.5 395.4L238.6 395.1L239.7 394.7L240.8 394.3L241.9 394.0L242.9 393.6L244.0 393.2L245.1 392.8L246.1 392.3L247.1 391.8L248.1 391.3L249.1 390.8L250.1 390.3L251.1 390.0L252.1 389.6L253.1 389.2L254.1 388.8L255.0 388.4L256.1 388.2L257.1 387.9L258.2 387.7L259.2 387.4L260.3 387.2L261.3 387.0L262.4 386.7L263.4 386.6L264.4 386.5L265.4 386.4L266.4 386.4L267.4 386.3L268.4 386.2L269.3 386.7L270.2 387.3L271.0 387.8L271.9 388.4L272.8 389.0L273.6 389.5L274.0 390.5L274.4 391.5L274.8 392.4L275.2 393.4L275.5 394.4L275.9 395.4L276.9 394.5L277.8 393.7L278.7 392.8L279.7 392.0L280.6 391.2L281.6 390.3L281.5 391.5L281.4 392.7L281.2 393.8L281.1 395.0L281.0 396.1L280.9 397.3L281.5 398.0L282.1 398.7L282.8 399.4L283.4 400.1L283.7 401.1L284.0 402.2L284.3 403.2L284.5 404.3L285.3 404.6L286.1 404.9L286.9 405.2L287.7 405.5L288.5 405.8L289.3 406.2L290.1 406.5L291.0 406.3L291.9 406.1L292.7 405.9L293.6 405.6L294.4 406.2L295.1 406.8L295.8 407.3L296.8 406.6L297.9 405.9L298.9 405.1L299.9 404.4L301.0 403.7L301.9 403.5L302.9 403.4L303.8 403.2L304.8 403.0L305.7 402.9L306.5 401.7L307.4 400.5L308.2 399.3L309.0 398.1L309.8 396.9L310.6 395.7L311.4 394.5L312.2 393.5L312.9 392.6L313.9 391.5L314.9 390.3L316.0 389.2L317.0 388.1L318.0 387.0L319.0 385.9L320.0 384.8L320.7 383.5L321.5 382.2L322.2 380.9L322.9 379.6L323.6 378.3L324.3 377.0L324.5 375.7L324.7 374.5L324.9 373.2L325.1 372.0L325.3 370.7L325.4 369.5L325.1 368.4L324.7 367.4L324.3 366.3L323.9 365.3L323.5 364.3L323.1 363.2L322.7 362.2L322.3 361.1L321.6 360.3L320.9 359.4L320.2 358.6L319.5 357.8L318.7 356.9L317.9 356.1L317.1 355.4L316.3 354.6L315.5 353.8L314.6 353.0L313.8 352.2L312.9 351.4L312.9 350.1L313.0 348.9L313.0 347.7L313.0 346.4L313.0 345.2L312.9 344.0L312.9 342.7L312.9 341.5L312.8 340.2L311.9 339.7L310.9 339.1L309.9 338.6L308.9 338.0L307.9 337.5L307.7 336.2L307.5 334.8L307.2 333.5L307.0 332.2L306.8 330.9L306.5 329.6L306.3 328.3L305.7 329.3L305.1 330.4L304.6 331.5L304.0 332.5L303.4 333.6L302.8 334.7L302.7 336.1L302.5 337.5L302.3 338.9L302.1 340.2L301.9 341.6L301.7 343.0L301.5 344.4L300.3 345.3L299.2 346.1L298.1 346.9L296.9 347.8L296.1 347.1L295.3 346.4L294.4 345.7L293.6 345.1L292.7 344.4L291.8 343.7L291.0 343.0L290.0 342.4L289.0 341.7L288.0 341.0L287.0 340.4L286.0 339.7L286.7 338.5L287.5 337.3L288.2 336.1L288.9 334.9L289.6 333.7L290.3 332.5L289.1 332.3L287.9 332.2L286.7 332.0L285.5 331.9L284.4 331.6L283.2 331.3L282.1 331.1L281.0 330.8L279.9 330.5L278.8 330.2L277.7 330.9L276.7 331.5L275.6 332.1L274.5 332.7L273.8 333.8L273.2 334.8L272.5 335.8L271.9 336.9L271.2 337.9L270.5 338.9L269.9 340.0L268.8 339.6L267.8 339.2L266.7 338.8L265.7 338.4L264.6 338.0L263.5 338.2L262.4 338.4L261.4 338.5L260.3 338.7L259.2 338.9L258.3 339.9L257.4 340.9L256.5 341.9L255.7 342.9L254.8 343.9L253.8 344.8L252.8 345.6L251.7 346.5L250.7 347.4L249.7 348.3L248.9 349.4L248.0 350.5L247.1 351.7L246.3 352.8L245.1 353.1L244.0 353.4L242.8 353.7L241.7 354.0L240.6 354.4L239.4 354.7L238.3 355.0L237.2 355.4L236.2 355.8L235.1 356.2L234.1 356.6L233.0 356.9L231.9 357.8L230.9 358.6L229.8 359.4L228.7 360.3L227.7 361.1L226.9 361.4M290.6 411.8L291.5 411.8L292.5 411.9L293.4 412.0L294.3 412.1L295.3 412.1L296.2 412.2L297.1 412.3L298.1 412.3L297.6 413.6L297.1 414.9L296.6 416.2L296.1 417.4L295.6 418.7L294.7 418.9L293.9 419.1L293.0 419.3L292.1 419.6L291.2 419.8L291.1 418.8L290.9 417.9L290.8 416.9L290.6 415.9L290.6 414.9L290.6 413.9L290.6 412.8L290.6 411.8M124.4 481.3L124.8 481.1L125.2 480.9L125.6 480.7L126.1 480.5L126.5 480.3L126.9 480.1L127.3 480.0L127.8 479.8L128.2 479.6L128.6 479.4L129.1 479.2L129.5 479.0L130.0 478.8L130.4 478.6L130.9 478.4L131.3 478.2L131.8 478.0L132.3 477.8L132.7 477.6L133.2 477.5L133.7 477.3L134.2 477.1L134.7 476.9L135.1 476.7L135.6 476.5L136.1 476.3L136.9 476.4L137.6 476.5L138.3 476.6L139.1 476.7L139.8 476.8L140.5 476.9L141.2 477.0L142.0 477.1L142.7 477.2L143.6 477.5L144.5 477.8L145.4 478.1L146.3 478.4L147.2 478.7L148.0 479.0L148.9 479.2L149.8 479.5L150.7 479.8L151.5 480.1L152.4 480.4L153.1 480.5L153.8 480.5L154.5 480.6L155.2 480.7L155.9 480.7L156.6 480.8L157.3 480.8L158.0 480.9L158.7 480.9L159.4 481.0L160.1 481.1L160.8 481.1L161.5 481.2L162.2 481.2L162.9 481.3L163.6 482.3L164.2 483.2L164.9 484.2L165.6 485.2L166.3 486.1L166.8 486.9L167.4 487.7L168.0 488.5L168.6 489.3L168.8 488.9L169.0 488.5L169.1 488.1L169.3 487.7L169.5 487.3L169.7 486.9L170.0 486.5L170.2 486.1L170.4 485.7L170.7 485.3L170.9 484.9L171.2 484.4L171.5 484.0L171.7 483.6L172.1 483.3L172.5 483.0L172.9 482.6L173.4 482.3L173.8 482.0L174.2 481.7L174.6 481.3L175.1 481.0L175.5 480.7L175.9 480.4L176.4 480.0L176.9 479.7L177.3 479.4L177.8 479.0L178.3 478.7L178.9 478.6L179.5 478.5L180.1 478.3L180.7 478.2L181.3 478.1L182.0 478.0L182.6 477.9L183.2 477.8L183.8 477.6L184.5 477.5L185.1 477.4L185.7 477.3L186.3 477.2L187.1 477.3L187.8 477.5L188.5 477.7L189.3 477.8L190.0 478.0L190.7 478.2L191.4 478.4L192.1 478.5L192.8 478.7L193.5 478.7L194.2 478.6L194.8 478.6L195.5 478.5L196.2 478.5L196.8 478.5L197.5 478.4L198.2 478.4L198.9 478.3L199.5 478.3L200.2 478.3L200.9 478.2L201.5 478.2L202.2 478.2L202.9 478.1L203.6 478.1L204.3 478.0L204.8 477.6L205.3 477.2L205.8 476.7L206.3 476.3L206.9 475.8L207.4 475.4L208.1 475.7L208.8 475.9L209.4 476.2L210.1 476.5L210.7 476.7L211.4 477.0L212.0 477.3L212.7 477.5L213.3 477.8L213.9 478.0L214.6 477.9L215.3 477.7L215.9 477.6L216.6 477.5L217.2 477.3L217.9 477.2L218.6 477.0L219.2 476.9L219.9 476.7L220.6 476.6L221.3 476.4L221.9 476.3L222.6 476.5L223.2 476.7L223.8 476.8L224.5 477.0L225.1 477.2L225.7 477.4L226.4 477.6L227.0 477.8L227.6 478.0L228.2 478.1L228.8 478.3L229.4 478.5L230.0 478.7L230.7 478.5L231.3 478.4L232.0 478.2L232.6 478.1L233.3 477.9L233.9 477.8L234.6 477.6L235.3 477.5L235.9 477.3L236.6 477.2L237.2 477.1L237.9 477.1L238.6 477.0L239.3 477.0L240.0 476.9L240.6 476.9L241.3 476.8L242.0 476.8L242.7 476.7L243.3 476.7L244.0 476.7L244.7 476.6L245.4 476.6L246.1 476.5L246.8 476.5L247.4 476.4L248.1 476.4L248.8 476.3L249.5 476.3L250.2 476.1L250.8 475.8L251.5 475.6L252.2 475.4L252.9 475.2L253.6 474.9L254.0 475.3L254.4 475.7L254.8 476.1L255.2 476.4L255.6 476.8L256.0 477.2L256.7 477.2L257.4 477.3L258.0 477.3L258.7 477.4L259.4 477.4L260.0 477.5L260.7 477.5L261.3 477.6L262.0 477.6L262.7 477.7L263.3 477.7L264.0 477.8L264.6 477.8L265.3 477.9L265.9 477.9L266.6 478.0L267.2 478.0L267.5 478.4L267.8 478.8L268.1 479.2L268.4 479.6L268.6 480.0L268.9 480.4L269.4 480.6L270.0 480.7L270.5 480.9L271.0 481.0L271.6 481.2L272.1 481.3L272.6 481.4L273.2 481.6L273.7 481.7L274.2 481.9L274.8 482.0L275.3 482.2L275.8 482.3L276.3 482.5L276.8 482.6L277.3 482.8L277.8 482.9L278.3 483.0L278.8 483.2L279.3 483.3L279.8 483.5L280.3 483.6L280.4 484.0L280.4 484.5L280.5 484.9M217.4 515.6L217.4 515.6L217.4 515.6L217.4 515.6L217.4 515.6L217.4 515.6L217.4 515.6L217.4 515.6L217.4 515.6L217.4 515.6L217.4 515.6L217.4 515.6L217.4 515.6L217.4 515.6L217.4 515.6L217.4 515.6L217.4 515.6L217.4 515.6L217.4 515.6L217.4 515.6L217.4 515.6L217.4 515.6L217.4 515.6L217.4 515.6L217.4 515.6L217.4 515.6L217.4 515.6L217.4 515.6L217.4 515.6L217.4 515.6L217.4 515.6L217.4 515.6L217.4 515.6L217.4 515.6L217.4 515.6L217.4 515.6L217.4 515.6L217.4 515.6L217.4 515.6L217.4 515.6L217.4 515.6L217.4 515.6L217.4 515.6L217.4 515.6L217.4 515.6L217.4 515.6L217.4 515.6L217.4 515.6L217.4 515.6L217.4 515.6L217.4 515.6L217.4 515.6L217.4 515.6L217.4 515.6L217.4 515.6L217.4 515.6L217.4 515.6L217.4 515.6L217.4 515.6L217.4 515.6L217.4 515.6L217.4 515.6L217.4 515.6L217.4 515.6L217.4 515.6L217.4 515.6L217.4 515.6L217.4 515.6L217.4 515.6L217.4 515.6L217.4 515.6L217.4 515.6L217.4 515.6L217.4 515.6L217.4 515.6L217.4 515.6L217.4 515.6L217.4 515.6L217.4 515.6L217.4 515.6L217.4 515.6L217.4 515.6L217.4 515.6L217.4 515.6L217.4 515.6L217.4 515.6L217.4 515.6L217.4 515.6L217.4 515.6L217.4 515.6L217.4 515.6L217.4 515.6L217.4 515.6L217.4 515.6L217.4 515.6L217.4 515.6L217.4 515.6L217.4 515.6L217.4 515.6L217.4 515.6L217.4 515.6L217.4 515.6L217.4 515.6L217.4 515.6L217.4 515.6L217.4 515.6L217.4 515.6L217.4 515.6L217.4 515.6L217.4 515.6L217.4 515.6L217.4 515.6L217.4 515.6L217.4 515.6L217.4 515.6L217.4 515.6L217.4 515.6L217.4 515.6L217.4 515.6L217.4 515.6L217.4 515.6L217.4 515.6L217.4 515.6L217.4 515.6L217.4 515.6L217.4 515.6L217.4 515.6L217.4 515.6L217.4 515.6L217.4 515.6L217.4 515.6L217.4 515.6L217.4 515.6L217.4 515.6L217.4 515.6L217.4 515.6L217.4 515.6L217.4 515.6L217.4 515.6L217.4 515.6L217.4 515.6L217.4 515.6L217.4 515.6L217.4 515.6L217.4 515.6L217.4 515.6L217.4 515.6L217.4 515.6L217.4 515.6L217.4 515.6L217.4 515.6L217.4 515.6L217.4 515.6L217.4 515.6L217.4 515.6L217.4 515.6L217.4 515.6L217.4 515.6L217.4 515.6L217.4 515.6L217.4 515.6L217.4 515.6L217.4 515.6L217.4 515.6L217.4 515.6L217.4 515.6L217.4 515.6L217.4 515.6L217.4 515.6L217.4 515.6L217.4 515.6L217.4 515.6L217.4 515.6L217.4 515.6L217.4 515.6L217.4 515.6L217.4 515.6L217.4 515.6L217.4 515.6L217.4 515.6L217.4 515.6L217.4 515.6L217.4 515.6L217.4 515.6L217.4 515.6L217.4 515.6L217.4 515.6L217.4 515.6L217.4 515.6L217.4 515.6L217.4 515.6L217.4 515.6L217.4 515.6L217.4 515.6L217.4 515.6L217.4 515.6L217.4 515.6L217.4 515.6L217.4 515.6L217.4 515.6L217.4 515.6L217.4 515.6L217.4 515.6L217.4 515.6L217.4 515.6L217.4 515.6L217.4 515.6L217.4 515.6L217.4 515.6L217.4 515.6L217.4 515.6L217.4 515.6L217.4 515.6L217.4 515.6L217.4 515.6L217.4 515.6L217.4 515.6L217.4 515.6L217.4 515.6L217.4 515.6L217.4 515.6L217.4 515.6L217.4 515.6L217.4 515.6L217.4 515.6L217.4 515.6L217.4 515.6L217.4 515.6L217.4 515.6L217.4 515.6L217.4 515.6L217.4 515.6L217.4 515.6L217.4 515.6L217.4 515.6L217.4 515.6L217.4 515.6L217.4 515.6L217.4 515.6L217.4 515.6L217.4 515.6M217.4 515.6L209.6 515.4L205.0 515.0L201.1 514.6L197.6 514.2L194.5 513.7L191.5 513.1L188.8 512.6L186.1 512.0L183.6 511.4L181.1 510.7L178.8 510.1L176.5 509.4L174.3 508.7L172.1 507.9L170.0 507.2L168.0 506.5L166.0 505.7L164.0 504.9L162.1 504.1L160.2 503.3L158.4 502.4L156.6 501.6L154.8 500.7L153.1 499.9L151.4 499.0L149.7 498.1L148.0 497.2L146.4 496.3L144.8 495.3L143.2 494.4L141.6 493.5L140.1 492.5L138.6 491.5L137.1 490.5L135.6 489.5L134.1 488.5L132.7 487.5L131.3 486.5L129.9 485.5L128.5 484.4L127.1 483.4L125.7 482.3L124.4 481.3M478.3 484.9L479.0 485.2L479.8 485.5L480.5 485.6L481.2 485.6L481.9 485.7L482.6 485.8L483.4 485.8L484.1 485.9L484.8 486.0L485.5 486.1L486.2 486.1L486.9 486.2L487.6 486.3L488.3 486.4L489.0 486.4L489.7 486.5L490.4 486.6L491.1 486.6L491.8 486.7L492.5 486.8L493.2 486.9L493.9 486.9L494.9 487.8L495.9 488.7L496.9 489.5L498.0 490.4L499.1 491.3L500.2 492.1L500.2 492.4L500.3 492.8L500.4 493.1L500.4 493.4L500.5 493.8L500.6 494.1L500.8 494.4L500.9 494.8L501.0 495.1L501.2 495.4L501.3 495.7L501.5 496.1L501.6 496.4L501.8 496.7L502.0 497.0L503.7 497.8L505.4 498.5L507.1 499.3L508.8 500.0L510.5 500.8L512.3 501.5L514.0 502.2L515.8 502.9L517.2 503.3L518.5 503.7L519.8 504.1L521.1 504.5L522.4 504.9L523.7 505.2L525.0 505.6L526.3 506.0L527.6 506.3L528.9 506.7L530.2 507.1L530.8 507.2L531.4 507.3L532.0 507.3L532.6 507.4L533.2 507.5L533.8 507.6L534.4 507.7L535.0 507.8L535.6 507.9L536.2 508.0L536.8 508.1L537.3 508.2L537.9 508.3L538.5 508.4L539.0 508.5L539.6 508.6L540.2 508.7L540.7 508.8L541.3 508.9L541.9 508.9L541.9 508.9L542.0 508.8L542.0 508.7L542.1 508.6L542.2 508.5L542.3 508.4L542.4 508.3L542.5 508.2L542.6 508.2L542.7 508.1L542.8 508.0L542.9 507.9L543.0 507.8L543.1 507.7L543.2 507.6L543.4 507.5L543.5 507.4L543.6 507.3L543.8 507.2L543.9 507.2L544.1 507.1L544.2 507.0L544.4 506.9L544.5 506.8L544.7 506.7L544.9 506.6L545.0 506.5L545.2 506.4L545.4 506.3L545.6 506.2L545.8 506.1L546.0 506.0L546.2 505.9L546.4 505.8L546.6 505.7L546.8 505.6L547.0 505.5L547.2 505.4L547.4 505.3L547.6 505.2L547.9 505.2L548.1 505.1L547.1 504.4L546.0 503.7L545.0 503.0L544.0 502.3L543.0 501.5L542.1 500.8L541.1 500.0L541.4 499.9L541.6 499.7L541.9 499.6L542.2 499.4L542.5 499.3L542.8 499.1L543.1 499.0L543.4 498.8L543.7 498.7L544.0 498.5L544.3 498.3L544.6 498.2L545.0 498.0L545.3 497.9L545.6 497.7L546.0 497.6L546.3 497.4L546.7 497.2L547.0 497.1L547.4 496.9L547.7 496.8L548.1 496.6L548.5 496.4L548.8 496.3L549.2 496.1L549.6 495.9L550.0 495.8L550.4 495.6L550.8 495.5L551.2 495.3L551.6 495.1L552.0 495.0L552.5 494.9L552.9 494.8L553.4 494.7L553.8 494.7L554.3 494.6L554.8 494.5L555.3 494.4L555.7 494.4L556.2 494.3L556.7 494.2L557.2 494.1L557.6 494.1L558.1 494.0L558.6 493.9L559.1 493.8L559.6 493.8L560.1 493.7L560.6 493.6L561.0 493.5L561.5 493.5L562.0 493.4L562.5 493.3L563.0 493.2L563.5 493.1L564.0 493.1L564.6 493.0L565.1 493.0L565.6 493.0L566.1 492.9L566.6 492.9L567.2 492.9L567.7 492.9L568.2 492.8L568.7 492.8L569.3 492.8L569.8 492.7L570.3 492.7L570.8 492.7L571.4 492.6L571.9 492.6L572.4 492.6L573.0 492.6L573.5 492.5L574.0 492.5L574.6 492.5L575.1 492.5L575.7 492.6L576.2 492.6L576.8 492.6L577.3 492.7L577.9 492.7L578.4 492.7L578.9 492.7L579.5 492.8L580.0 492.8L580.6 492.8L581.1 492.8L581.7 492.9L582.2 492.9L582.7 492.9L583.3 492.9L583.8 493.0L584.4 493.0L584.9 493.0L585.4 493.0L586.0 493.1L586.5 493.0L587.1 492.9L587.6 492.8L588.2 492.7L588.8 492.6L589.3 492.5L589.9 492.4L590.4 492.3L591.0 492.2L591.6 492.1L592.2 492.0L592.7 491.9L593.3 491.8L593.9 491.7L594.5 491.5L595.1 491.4L595.6 491.3L596.2 491.2L596.8 491.1L597.4 491.0L598.0 490.9L598.7 490.6L599.3 490.3L600.0 489.9L600.7 489.6L601.3 489.3L602.0 488.9L602.5 489.1L603.1 489.2L603.6 489.3L604.1 489.4L604.6 489.6L605.1 489.7L605.6 489.8L606.1 489.9L606.6 490.1L607.1 490.2L607.6 490.3L608.1 490.4L608.6 490.6L609.1 490.7L609.6 490.8L610.1 490.9L610.6 491.0L611.1 491.0L611.7 491.1L612.2 491.1L612.7 491.2L613.2 491.2L613.7 491.3L614.2 491.3L614.8 491.4L615.3 491.4L615.8 491.5L616.3 491.5L616.8 491.6L617.3 491.6L617.8 491.7L618.3 491.8L618.8 491.8L619.3 491.9L619.8 491.9L620.4 492.0L620.9 492.0L621.4 492.1L621.9 492.1L622.6 491.9L623.3 491.6L624.1 491.3L624.8 491.1L625.5 490.8L626.3 490.6L627.0 490.3L627.8 490.0L628.6 489.8L629.3 489.5L630.1 489.3L630.9 489.0L631.7 488.7L632.4 488.5L633.2 488.2L634.0 487.9L635.0 487.3L636.0 486.7L637.0 486.1L638.0 485.5L639.0 484.9L640.0 484.2L641.0 483.6L642.0 483.0L643.0 482.5L644.0 482.0L645.0 481.5L646.0 481.0L647.0 480.5L648.0 479.9L649.0 479.4L650.0 478.9L651.0 478.5L652.0 478.1L652.9 477.7L653.9 477.3L654.9 476.9L655.9 476.5L656.9 476.1L657.9 475.7L658.9 475.3L659.9 474.9L660.9 474.5L662.0 474.1L662.9 473.8L663.8 473.5L664.7 473.2L665.7 472.9L666.6 472.7L667.6 472.4L668.5 472.1L669.5 471.8L670.4 471.6L671.4 471.3L672.3 471.0L673.3 470.7L674.3 470.4L673.2 471.2L672.0 472.0L670.9 472.7L669.7 473.3L668.5 474.0L667.4 474.7L666.2 475.3L665.1 476.0L663.9 476.6L662.8 477.3L661.6 477.9L660.5 478.5L659.3 479.2L658.2 479.8L657.1 480.4L656.0 481.1L655.0 482.1L654.1 483.1L653.1 484.0L652.1 485.0L651.1 486.0L650.1 486.9L649.0 487.5L647.8 488.1L646.7 488.7L645.5 489.2L644.4 489.8L643.2 490.4L642.1 490.9L641.0 491.5L639.9 492.1L638.8 492.6L637.6 493.2L636.5 493.7L635.4 494.3L634.3 494.9L633.3 495.4L632.2 495.9L631.1 496.5L630.0 497.0L629.1 497.4L628.1 497.8L627.2 498.2L626.2 498.6L625.3 499.0L624.4 499.3L623.5 499.7L622.6 500.1L621.7 500.5L620.8 500.8L619.9 501.2L619.0 501.6L618.1 501.9L618.3 502.1L618.4 502.3L618.6 502.5L618.7 502.7L618.8 502.9L618.9 503.0L619.1 503.2L619.2 503.4L619.3 503.6L619.4 503.7L619.5 503.9L619.6 504.1L619.6 504.3L619.7 504.4L619.8 504.6L619.8 504.8L619.9 505.0L619.9 505.1L619.9 505.3L620.0 505.5L620.0 505.7L620.0 505.8L620.0 506.0L620.7 505.8L621.4 505.6L622.2 505.4L622.9 505.3L623.6 505.1L624.4 504.9L625.1 504.7L625.9 504.5L626.6 504.3L627.4 504.1L628.1 503.9L626.7 504.7L625.2 505.4L623.7 506.1L622.2 506.8L620.6 507.5L619.0 508.1L617.3 508.8L615.6 509.4L613.8 510.1L613.2 510.3L612.6 510.6L612.0 510.8L611.4 511.1L610.7 511.3L610.0 511.6L609.3 511.8L608.5 512.0L607.7 512.3L606.9 512.5L606.1 512.7L605.2 512.9L604.3 513.2L603.4 513.4L602.4 513.6L601.3 513.8L600.3 514.0M579.2 515.6L579.2 515.6L579.2 515.6L579.2 515.6L579.2 515.6L579.2 515.6L579.2 515.6L579.2 515.6L579.2 515.6L579.2 515.6L579.2 515.6L579.2 515.6L579.2 515.6L579.2 515.6L579.2 515.6L579.2 515.6L579.2 515.6L579.2 515.6L579.2 515.6L579.2 515.6L579.2 515.6L579.2 515.6L579.2 515.6L579.2 515.6L579.2 515.6L579.2 515.6L579.2 515.6L579.2 515.6L579.2 515.6L579.2 515.6L579.2 515.6L579.2 515.6L579.2 515.6L579.2 515.6L579.2 515.6L579.2 515.6L579.2 515.6L579.2 515.6L579.2 515.6L579.2 515.6L579.2 515.6L579.2 515.6L579.2 515.6L579.2 515.6L579.2 515.6L579.2 515.6L579.2 515.6L579.2 515.6L579.2 515.6L579.2 515.6L579.2 515.6L579.2 515.6L579.2 515.6L579.2 515.6L579.2 515.6L579.2 515.6L579.2 515.6L579.2 515.6L579.2 515.6L579.2 515.6L579.2 515.6L579.2 515.6L579.2 515.6L579.2 515.6L579.2 515.6L579.2 515.6L579.2 515.6L579.2 515.6L579.2 515.6L579.2 515.6L579.2 515.6L579.2 515.6L579.2 515.6L579.2 515.6L579.2 515.6L579.2 515.6L579.2 515.6L579.2 515.6L579.2 515.6L579.2 515.6L579.2 515.6L579.2 515.6L579.2 515.6L579.2 515.6L579.2 515.6L579.2 515.6L579.2 515.6L579.2 515.6L579.2 515.6L579.2 515.6L579.2 515.6L579.2 515.6L579.2 515.6L579.2 515.6L579.2 515.6L579.2 515.6L579.2 515.6L579.2 515.6L579.2 515.6L579.2 515.6L579.2 515.6L579.2 515.6L579.2 515.6L579.2 515.6L579.2 515.6L579.2 515.6L579.2 515.6L579.2 515.6L579.2 515.6L579.2 515.6L579.2 515.6L579.2 515.6L579.2 515.6L579.2 515.6L579.2 515.6L579.2 515.6L579.2 515.6L579.2 515.6L579.2 515.6L579.2 515.6L579.2 515.6L579.2 515.6L579.2 515.6L579.2 515.6L579.2 515.6L579.2 515.6L579.2 515.6L579.2 515.6L579.2 515.6L579.2 515.6L579.2 515.6L579.2 515.6L579.2 515.6L579.2 515.6L579.2 515.6L579.2 515.6L579.2 515.6L579.2 515.6L579.2 515.6L579.2 515.6L579.2 515.6L579.2 515.6L579.2 515.6L579.2 515.6L579.2 515.6L579.2 515.6L579.2 515.6L579.2 515.6L579.2 515.6L579.2 515.6L579.2 515.6L579.2 515.6L579.2 515.6L579.2 515.6L579.2 515.6L579.2 515.6L579.2 515.6L579.2 515.6L579.2 515.6L579.2 515.6L579.2 515.6L579.2 515.6L579.2 515.6L579.2 515.6L579.2 515.6L579.2 515.6L579.2 515.6L579.2 515.6L579.2 515.6L579.2 515.6L579.2 515.6L579.2 515.6L579.2 515.6L579.2 515.6L579.2 515.6L579.2 515.6L579.2 515.6L579.2 515.6L579.2 515.6L579.2 515.6L579.2 515.6L579.2 515.6L579.2 515.6L579.2 515.6L579.2 515.6L579.2 515.6L579.2 515.6L579.2 515.6L579.2 515.6L579.2 515.6L579.2 515.6L579.2 515.6L579.2 515.6L579.2 515.6L579.2 515.6L579.2 515.6L579.2 515.6L579.2 515.6L579.2 515.6L579.2 515.6L579.2 515.6L579.2 515.6L579.2 515.6L579.2 515.6L579.2 515.6L579.2 515.6L579.2 515.6L579.2 515.6L579.2 515.6L579.2 515.6L579.2 515.6L579.2 515.6L579.2 515.6L579.2 515.6L579.2 515.6L579.2 515.6L579.2 515.6L579.2 515.6L579.2 515.6L579.2 515.6L579.2 515.6L579.2 515.6L579.2 515.6L579.2 515.6L579.2 515.6L579.2 515.6L579.2 515.6L579.2 515.6L579.2 515.6L579.2 515.6L579.2 515.6L579.2 515.6L579.2 515.6L579.2 515.6L579.2 515.6L579.2 515.6L579.2 515.6L579.2 515.6L579.2 515.6L579.2 515.6L579.2 515.6L579.2 515.6L579.2 515.6L579.2 515.6L579.2 515.6L579.2 515.6L579.2 515.6L579.2 515.6L579.2 515.6L579.2 515.6L579.2 515.6L579.2 515.6L579.2 515.6L579.2 515.6L579.2 515.6L579.2 515.6L579.2 515.6L579.2 515.6L579.2 515.6L579.2 515.6L579.2 515.6L579.2 515.6L579.2 515.6L579.2 515.6L579.2 515.6L579.2 515.6L579.2 515.6L579.2 515.6L579.2 515.6L579.2 515.6L579.2 515.6L579.2 515.6L579.2 515.6L579.2 515.6L579.2 515.6L579.2 515.6L579.2 515.6L579.2 515.6L579.2 515.6L579.2 515.6L579.2 515.6L579.2 515.6L579.2 515.6L579.2 515.6L579.2 515.6L579.2 515.6L579.2 515.6L579.2 515.6L579.2 515.6L579.2 515.6L579.2 515.6L579.2 515.6L579.2 515.6L579.2 515.6L579.2 515.6L579.2 515.6L579.2 515.6L579.2 515.6L579.2 515.6L579.2 515.6L579.2 515.6M941.0 515.6L944.4 515.4L946.4 515.0L948.0 514.6L949.5 514.2L950.8 513.7L952.1 513.1L953.3 512.6L954.4 512.0L955.5 511.4L956.6 510.7L957.6 510.1L958.6 509.4L959.5 508.7L960.4 507.9L961.3 507.2L962.2 506.5L963.1 505.7L963.9 504.9L964.7 504.1L965.5 503.3L966.3 502.4L967.1 501.6L967.8 500.7L968.6 499.9L969.3 499.0L970.0 498.1L970.8 497.2L971.5 496.3L972.1 495.3L972.8 494.4L973.5 493.5L974.2 492.5L974.8 491.5L975.4 490.5L976.1 489.5L976.7 488.5L977.3 487.5L977.9 486.5L978.5 485.5L979.1 484.4L979.7 483.4L980.3 482.3L980.9 481.3M923.0 514.0L920.6 513.5L918.4 513.0L916.4 512.5L914.4 511.9L912.6 511.4L910.8 510.8L909.1 510.2L907.4 509.6L905.8 509.0L904.3 508.3L902.8 507.7L902.9 507.6L903.0 507.5L903.2 507.4L903.3 507.3L903.4 507.2L903.6 507.1L903.7 507.0L903.8 506.9L904.0 506.9L904.2 506.8L904.3 506.7L904.5 506.6L904.6 506.5L904.8 506.4L905.0 506.3L905.2 506.2L905.3 506.1L905.5 506.0L905.7 505.9L905.9 505.9L906.1 505.8L906.3 505.7L906.5 505.6L906.7 505.5L906.9 505.4L907.1 505.3L907.3 505.2L907.6 505.1L907.8 505.0L908.0 504.9L908.2 504.8L908.5 504.7L908.7 504.6L909.0 504.5L909.2 504.4L909.5 504.3L909.7 504.3L908.9 503.9L908.1 503.6L907.3 503.2L906.5 502.9L905.7 502.5L904.9 502.2L904.1 501.8L903.3 501.5L902.4 501.1L901.6 500.7L901.8 500.6L902.0 500.4L902.1 500.2L902.3 500.0L902.5 499.8L902.8 499.6L903.0 499.4L903.2 499.2L903.4 499.0L903.7 498.8L903.9 498.6L904.1 498.4L904.4 498.2L904.6 498.0L904.9 497.8L905.2 497.6L905.4 497.4L905.7 497.2L906.0 497.0L906.3 496.8L906.6 496.7L906.9 496.5L907.3 496.3L907.6 496.1L908.0 496.0L908.3 495.8L908.6 495.6L909.0 495.4L909.4 495.2L909.7 495.1L910.1 494.9L910.5 494.7L910.8 494.5L911.2 494.4L911.6 494.2L912.0 494.0L912.4 493.8L912.8 493.6L913.2 493.5L913.4 493.0L913.5 492.5L913.7 492.1L913.9 491.6L914.1 491.2L914.3 490.7L914.5 490.2L914.7 489.8L915.0 489.3L915.2 488.8L915.5 488.3L916.0 488.3L916.5 488.2L917.0 488.1L917.6 488.0L918.1 487.9L918.6 487.9L919.2 487.8L919.7 487.7L920.2 487.6L920.8 487.5L921.3 487.5L921.8 487.4L922.4 487.3L922.9 487.2L923.5 487.1L924.0 487.0L924.6 487.0L925.2 486.9L925.7 486.8L926.3 486.7L926.8 486.6L927.4 486.5L928.0 486.4L928.6 486.3L929.1 486.3L929.7 486.2L930.3 486.1L930.9 486.0L931.4 485.9L932.0 485.8L932.6 485.7L933.1 485.5L933.7 485.4L934.3 485.3L934.8 485.2L935.4 485.1L936.0 485.0L936.6 484.8L937.1 484.7L937.7 484.6L938.3 484.5L938.9 484.4L939.5 484.2L940.1 484.4L940.6 484.6L941.2 484.7L941.8 484.9L942.3 485.0L942.9 485.2L943.5 485.3L944.0 485.5L944.6 485.4L945.2 485.3L945.8 485.1L946.5 485.0L947.1 484.9L947.7 484.8L948.3 484.7L948.9 484.6L949.6 484.5L950.2 484.4L950.8 484.2L951.4 484.3L952.1 484.3L952.7 484.4L953.3 484.4L953.9 484.4L954.5 484.5L955.1 484.5L955.7 484.6L956.3 484.6L956.9 484.7L957.5 484.7L958.1 484.7L958.7 484.8L959.4 484.8L960.0 484.9L960.6 484.7L961.3 484.5L962.0 484.4L962.6 484.2L963.3 484.0L964.0 483.9L964.7 483.7L965.4 483.5L966.1 483.4L966.8 483.2L967.5 483.0L968.1 482.8L968.8 482.6L969.5 482.4L970.2 482.3L970.9 482.1L971.7 481.9L972.4 481.7L973.1 481.5L973.6 481.7L974.1 481.9L974.6 482.1L975.1 482.3L975.6 482.6L976.1 482.8L976.6 483.0L977.1 483.2L977.6 483.2L978.2 483.3L978.7 483.3L979.2 483.4L979.7 483.4M979.7 483.4L979.1 484.4L978.5 485.5L977.9 486.5L977.3 487.5L976.7 488.5L976.1 489.5L975.4 490.5L974.8 491.5L974.2 492.5L973.5 493.5L972.8 494.4L972.1 495.3L971.5 496.3L970.8 497.2L970.0 498.1L969.3 499.0L968.6 499.9L967.8 500.7L967.1 501.6L966.3 502.4L965.5 503.3L964.7 504.1L963.9 504.9L963.1 505.7L962.2 506.5L961.3 507.2L960.4 507.9L959.5 508.7L958.6 509.4L957.6 510.1L956.6 510.7L955.5 511.4L954.4 512.0L953.3 512.6L952.1 513.1L950.8 513.7L949.5 514.2L948.0 514.6L946.4 515.0L944.4 515.4L941.0 515.6M941.0 515.6L941.0 515.6L941.0 515.6L941.0 515.6L941.0 515.6L941.0 515.6L941.0 515.6L941.0 515.6L941.0 515.6L941.0 515.6L941.0 515.6L941.0 515.6L941.0 515.6L941.0 515.6L941.0 515.6L941.0 515.6L941.0 515.6L941.0 515.6L941.0 515.6L941.0 515.6L941.0 515.6L941.0 515.6L941.0 515.6L941.0 515.6L941.0 515.6L941.0 515.6L941.0 515.6L941.0 515.6L941.0 515.6L941.0 515.6L941.0 515.6L941.0 515.6L941.0 515.6L941.0 515.6L941.0 515.6L941.0 515.6L941.0 515.6L941.0 515.6L941.0 515.6L941.0 515.6L941.0 515.6L941.0 515.6L941.0 515.6L941.0 515.6L941.0 515.6L941.0 515.6L941.0 515.6L941.0 515.6L941.0 515.6L941.0 515.6L941.0 515.6L941.0 515.6L941.0 515.6L941.0 515.6L941.0 515.6L941.0 515.6L941.0 515.6L941.0 515.6L941.0 515.6L941.0 515.6L941.0 515.6L941.0 515.6L941.0 515.6L941.0 515.6L941.0 515.6L941.0 515.6L941.0 515.6L941.0 515.6L941.0 515.6L941.0 515.6L941.0 515.6L941.0 515.6L941.0 515.6L941.0 515.6L941.0 515.6L941.0 515.6L941.0 515.6L941.0 515.6L941.0 515.6L941.0 515.6L941.0 515.6L941.0 515.6L941.0 515.6L941.0 515.6L941.0 515.6L941.0 515.6L941.0 515.6L941.0 515.6L941.0 515.6L941.0 515.6L941.0 515.6L941.0 515.6L941.0 515.6L941.0 515.6L941.0 515.6L941.0 515.6L941.0 515.6L941.0 515.6L941.0 515.6L941.0 515.6L941.0 515.6L941.0 515.6L941.0 515.6L941.0 515.6L941.0 515.6L941.0 515.6L941.0 515.6L941.0 515.6L941.0 515.6L941.0 515.6L941.0 515.6L941.0 515.6L941.0 515.6L941.0 515.6L941.0 515.6L941.0 515.6L941.0 515.6L941.0 515.6L941.0 515.6L941.0 515.6L941.0 515.6L941.0 515.6L941.0 515.6L941.0 515.6L941.0 515.6L941.0 515.6L941.0 515.6L941.0 515.6L941.0 515.6L941.0 515.6L941.0 515.6L941.0 515.6L941.0 515.6L941.0 515.6L941.0 515.6L941.0 515.6L941.0 515.6L941.0 515.6L941.0 515.6L941.0 515.6L941.0 515.6L941.0 515.6L941.0 515.6L941.0 515.6L941.0 515.6L941.0 515.6L941.0 515.6L941.0 515.6L941.0 515.6L941.0 515.6L941.0 515.6L941.0 515.6L941.0 515.6L941.0 515.6L941.0 515.6L941.0 515.6L941.0 515.6L941.0 515.6L941.0 515.6L941.0 515.6L941.0 515.6L941.0 515.6L941.0 515.6L941.0 515.6L941.0 515.6L941.0 515.6L941.0 515.6L941.0 515.6L941.0 515.6L941.0 515.6L941.0 515.6L941.0 515.6L941.0 515.6L941.0 515.6L941.0 515.6L941.0 515.6L941.0 515.6L941.0 515.6L941.0 515.6L941.0 515.6L941.0 515.6M893.5 160.1L894.4 159.8L895.2 159.6L896.1 159.3L896.9 159.0L897.7 158.8L898.6 158.5L899.5 158.3L900.4 158.2L901.3 158.0L902.2 157.8L903.1 157.6L904.0 157.5L904.9 157.3L905.8 157.1L906.7 157.0L906.7 156.0L906.7 155.0L906.8 154.0L906.8 153.1L906.1 152.6L905.4 152.1L904.7 151.5L904.0 151.0L903.3 150.2L902.7 149.3L902.0 148.5L901.4 147.7L900.7 146.8L900.1 146.0L899.8 145.0L899.5 144.0L899.2 143.0L898.9 142.0L899.1 141.4L899.2 140.8L898.7 140.2L898.1 139.6L897.6 139.0L897.0 138.4L896.2 138.4L895.3 138.4L894.5 138.4L893.7 138.4L893.2 139.3L892.8 140.3L892.3 141.3L891.9 142.3L892.2 143.3L892.5 144.4L892.8 145.4L893.1 146.5L893.8 147.1L894.6 147.8L895.4 148.3L896.2 148.8L897.1 149.3L897.9 149.8L897.8 150.7L897.7 151.5L897.0 151.9L896.4 152.2L895.7 152.5L895.0 152.8L894.7 153.7L894.4 154.5L894.1 155.4L894.9 155.6L895.7 155.7L896.4 155.9L897.2 156.0L898.0 156.2L897.2 156.5L896.4 156.8L895.6 157.1L894.7 157.5L894.3 158.3L893.9 159.2L893.5 160.1M892.7 154.4L892.6 153.2L892.5 152.1L892.5 150.9L892.4 149.8L892.4 148.8L892.5 147.8L892.6 146.7L891.8 146.7L891.1 146.7L890.4 146.7L889.6 146.7L888.9 146.7L888.2 147.2L887.5 147.8L886.8 148.3L886.1 148.8L885.4 149.3L885.2 150.4L885.1 151.5L885.0 152.6L884.9 153.8L884.8 154.9L885.6 155.1L886.5 155.4L887.3 155.7L888.1 155.9L888.9 155.7L889.7 155.4L890.4 155.1L891.2 154.9L892.0 154.6L892.7 154.4M866.7 125.7L866.4 125.0L866.1 124.3L865.8 123.6L865.5 122.9L865.2 122.3L865.9 121.9L866.5 121.5L867.2 121.1L867.8 120.7L868.5 120.3L869.1 120.3L869.8 120.2L870.5 120.2L871.1 120.2L871.8 120.2L872.4 120.2L873.1 120.2L873.7 120.2L874.4 120.1L875.1 120.1L875.7 120.1L876.4 120.1L877.0 120.1L877.7 120.1L878.3 120.1L878.7 120.7L879.1 121.4L879.5 122.1L879.9 122.7L880.3 123.4L879.6 123.8L878.9 124.1L878.2 124.5L877.5 124.8L876.8 125.2L876.1 125.6L875.4 125.9L874.7 126.3L874.0 126.7L873.3 127.0L872.6 126.9L871.9 126.8L871.3 126.6L870.6 126.5L870.0 126.3L869.3 126.2L868.7 126.1L868.0 125.9L867.4 125.8L866.7 125.7M313.2 203.9L314.6 203.2L315.9 202.5L317.2 201.8L318.6 201.1L319.9 200.4L321.3 199.7L322.3 199.7L323.4 199.7L324.4 199.7L325.5 199.7L326.5 199.7L327.6 199.7L329.1 198.7L330.5 197.6L332.0 196.6L333.5 195.5L334.9 194.8L336.4 194.1L337.8 193.4L339.3 192.7L340.7 192.0L342.2 191.4L343.2 190.2L344.3 189.1L345.4 188.0L346.5 186.9L347.6 185.8L348.9 185.2L350.0 184.5L351.1 183.9L352.2 183.3L351.8 184.6L351.2 185.9L350.4 187.2L349.7 188.6L348.4 189.7L347.2 190.8L345.9 191.9L344.6 193.0L343.4 194.1L342.5 195.2L341.6 196.4L340.7 197.5L339.8 198.6L338.9 199.7L337.8 200.3L336.6 200.8L335.5 201.4L334.3 201.6L333.1 201.7L331.9 201.9L330.7 202.1L329.5 202.3L328.3 202.5L326.9 203.0L325.5 203.5L324.1 203.9L322.7 204.4L321.7 204.4L320.7 204.3L319.7 204.2L318.7 204.2L317.6 204.1L316.6 204.0L315.6 203.9L314.6 203.9L313.9 203.9L313.2 203.9M249.8 205.8L250.7 206.9M250.1 205.5L249.8 205.8M308.8 206.9L308.5 208.0L308.2 209.0L307.8 210.1L307.5 211.2L307.3 212.2L308.4 211.1L309.6 210.0L310.8 208.9L312.0 207.8L313.2 206.7L313.3 205.7L313.3 204.8L313.4 203.9L312.3 204.4L311.1 205.0L309.9 205.5M314.8 206.7L316.2 206.2L317.5 205.8L318.9 205.3L320.2 204.9L321.6 204.4L321.4 203.6L321.2 202.8L319.9 203.2L318.5 203.7L317.2 204.2L316.0 205.4L314.8 206.7M349.2 183.0L350.1 181.7L351.1 180.4L352.0 179.1L353.0 177.8L353.9 176.5L354.9 175.2L355.9 173.9L356.8 172.6L357.3 173.1L357.8 173.7L358.4 174.2L358.9 174.8L359.4 175.3L360.0 175.8L360.6 176.2L361.2 176.7L361.8 177.1L362.5 177.6L363.1 178.0L361.9 178.8L360.7 179.5L359.6 180.2L358.4 180.9L357.2 181.6L356.2 181.7L355.2 181.8L354.1 182.0L353.1 182.1L352.1 182.2L351.1 182.5L350.2 182.7L349.2 183.0M359.9 170.7L361.0 169.5L362.0 168.4L363.1 167.2L364.2 166.0L365.2 164.9L366.3 163.7L367.4 162.5L368.4 161.4L369.0 160.2L369.6 159.1L370.3 158.0L370.9 156.8L371.5 155.7L372.2 154.6L372.8 153.4L373.5 152.3L374.0 151.2L374.5 150.1L375.0 149.0L373.9 150.2L372.9 151.3L371.9 152.5L370.9 153.7L369.9 154.9L369.0 156.2L368.1 157.5L367.3 158.8L366.4 160.1L365.6 161.4L364.7 162.7L363.9 164.0L363.1 165.4L362.3 166.7L361.5 168.0L360.7 169.4L359.9 170.7M236.6 234.5L236.8 233.3L236.9 232.0L237.0 230.8L237.1 229.6L237.2 228.4L238.4 228.6L239.6 228.9L239.6 230.1L239.5 231.3L239.5 232.5L239.4 233.7L239.4 234.9L239.3 236.1L239.2 237.3L238.3 236.3L237.5 235.4L236.6 234.5M209.1 245.1L210.0 244.6L210.9 244.2L211.9 243.7L212.8 243.3L213.7 242.8L214.5 243.5L215.2 244.2L214.4 245.1L213.6 246.0L212.8 246.9L211.9 247.8L211.0 246.9L210.0 246.0L209.1 245.1M240.9 254.0L240.9 252.8L240.9 251.7L240.9 250.5L240.9 249.3L240.8 248.2L240.8 247.0L241.9 247.0L243.1 247.0L244.2 247.0L245.3 247.0L245.4 248.1L245.6 249.2L245.7 250.4L245.9 251.5L246.0 252.6L246.8 253.7L247.6 254.7L248.4 255.8L249.2 256.9L250.0 258.0L250.8 259.1L251.6 260.2L252.4 261.2L253.2 262.3L252.2 262.0L251.1 261.6L250.0 261.3L248.9 260.9L248.0 260.6L247.0 260.2L246.0 259.8L244.7 259.4L243.5 259.0L242.8 257.7L242.2 256.5L241.6 255.2L240.9 254.0M249.9 279.0L250.7 278.1L251.4 277.1L252.1 276.2L252.9 275.2L253.6 274.3L254.6 273.7L255.6 273.1L256.7 272.5L257.7 271.8L258.7 271.2L259.3 272.5L260.0 273.8L260.6 275.1L261.2 276.4L261.8 277.7L262.4 279.0L261.8 279.9L261.1 280.7L260.5 281.5L259.9 282.4L258.8 281.9L257.7 281.4L256.7 280.9L255.6 280.4L254.5 280.1L253.3 279.9L252.2 279.6L251.1 279.3L249.9 279.0M254.0 263.7L255.1 264.4L256.1 265.1L257.2 265.8L258.3 266.5L258.0 267.5L257.8 268.6L257.5 269.6L257.3 270.7L256.4 269.6L255.5 268.4L254.6 267.3L254.4 266.1L254.2 264.9L254.0 263.7M214.6 294.3L215.7 293.7L216.8 293.0L217.9 292.3L219.0 291.7L220.1 291.0L221.2 290.7L222.3 290.3L223.4 290.0L224.5 289.6L225.6 289.3L226.5 288.5L227.4 287.7L228.3 287.0L229.2 286.2L230.1 285.4L231.0 284.6L231.7 283.7L232.5 282.9L233.3 282.1L234.1 281.2L234.8 280.4L235.5 279.7L236.1 279.0L237.2 279.8L238.3 280.6L239.3 281.4L240.4 282.2L241.5 283.0L242.5 283.7L241.6 284.7L240.7 285.6L239.8 286.5L238.9 287.4L239.0 288.6L239.1 289.8L239.2 290.9L239.4 292.1L239.5 293.3L239.6 294.5L239.7 295.7L239.1 296.6L238.5 297.6L237.9 298.5M214.6 298.5L214.6 297.1L214.6 295.7L214.6 294.3M237.9 298.5L237.3 299.4L236.7 300.4L236.1 301.3L236.0 302.4L235.9 303.6L235.8 304.8L235.7 305.9L235.6 307.1L235.5 308.2L234.4 308.5L233.2 308.8L232.1 309.1L231.0 309.4L229.9 309.6L228.7 309.2L227.5 308.8L226.3 308.4L225.1 308.0L224.0 307.6L222.8 307.2L221.6 306.8L220.4 306.8L219.2 306.8L218.0 306.8L217.8 305.8L217.7 304.8L217.5 303.7L217.4 302.7L216.5 301.7L215.6 300.8L214.6 299.9L214.6 298.5M176.3 282.9L177.5 283.1L178.7 283.4L180.0 283.6L181.2 283.8L182.4 284.0L183.4 285.0L184.4 285.9L185.4 286.8L186.4 287.8L187.4 288.7L188.4 289.7L189.4 290.6L190.4 291.5L191.4 292.3L192.4 293.1L193.4 293.9L194.4 294.6L195.3 295.4L196.3 296.2L197.3 297.0L198.3 297.7L199.3 298.5M189.0 298.5L188.3 297.6L187.7 296.6L187.0 295.7L186.3 294.7L185.7 293.8L184.7 292.9L183.7 292.1L182.7 291.3L181.7 290.4L180.7 289.6L179.8 288.8L179.1 287.6L178.4 286.4L177.7 285.3L177.0 284.1L176.3 282.9M199.3 298.5L200.0 299.5L200.7 300.6L201.4 301.6L202.1 302.7L202.9 303.5L203.8 304.3L204.6 305.2L205.5 306.0L206.3 306.8L206.2 308.1L206.1 309.4L206.0 310.7L205.9 312.0L205.9 313.3L205.8 314.6L204.6 314.7L203.4 314.8L202.2 314.9L201.2 314.2L200.2 313.4L199.2 312.7L198.2 311.9L197.2 311.1L196.2 310.4L195.2 309.6L194.6 308.4L194.0 307.2L193.4 306.1L192.8 304.9L192.2 303.7L191.6 302.5L191.0 301.3L190.3 300.4L189.7 299.4L189.0 298.5M204.1 317.4L204.9 316.7L205.6 315.9L206.3 315.2L207.5 315.4L208.6 315.7L209.8 315.9L211.0 316.1L212.1 316.4L213.3 316.6L214.6 316.6L216.0 316.6L217.4 316.6L218.8 316.6L220.2 316.6L221.4 316.9L222.7 317.3L223.9 317.6L225.1 318.0L226.3 318.5L227.5 319.1L228.7 319.7L229.8 320.2L229.7 321.3L229.5 322.4L228.2 322.3L226.8 322.1L225.5 322.0L224.2 321.8L222.8 321.6L221.5 321.5L220.2 321.3L219.0 321.2L217.8 321.0L216.6 320.8L215.4 320.7L214.3 320.5L213.1 320.4L211.9 320.2L210.9 319.9L209.8 319.7L208.8 319.4L207.7 319.1L206.5 318.5L205.3 318.0L204.1 317.4M250.5 298.5L249.7 298.0L248.8 297.6L248.0 297.1L249.2 296.8L250.4 296.4L251.7 296.1L252.9 295.7L254.1 295.4L255.3 295.0L256.5 294.7L257.7 294.3L256.4 294.4L255.2 294.5L253.9 294.5L252.6 294.6L251.3 294.7L250.0 294.7L248.7 294.8L247.4 294.9L246.7 295.8L245.9 296.7L245.2 297.6L244.4 298.5M243.7 313.8L245.1 313.8L246.5 313.8L246.5 312.5L246.4 311.2L246.4 309.9L246.4 308.6L246.4 307.3L246.3 306.0L246.9 307.0L247.5 308.0L248.1 309.0L248.7 310.0L249.3 311.0L250.4 311.2L251.4 311.3L252.4 311.4L253.5 311.6L252.8 310.4L252.1 309.2L251.4 308.0L250.8 306.8L250.5 305.7L250.2 304.6L250.0 303.5L249.7 302.4L249.4 301.3L250.5 301.2L251.6 301.2L252.7 301.1L253.9 301.1L255.0 301.0L253.9 300.4L252.7 299.8L251.6 299.1L250.5 298.5M244.4 298.5L244.0 299.8L243.6 301.1L243.1 302.4L242.7 303.7L242.3 305.0L241.9 306.3L242.2 307.5L242.5 308.8L242.8 310.0L243.1 311.3L243.4 312.6L243.7 313.8M274.7 301.6L275.8 301.2L276.8 300.8L277.9 300.4L279.0 300.0L280.0 299.6L281.2 300.0L282.4 300.3L283.6 300.7L284.8 301.0L285.0 302.1L285.3 303.2L285.5 304.3L285.8 305.5L287.0 305.3L288.2 305.1L289.4 304.9L290.7 304.3L292.0 303.8L293.3 303.6L294.6 303.4L295.9 303.2L297.1 303.7L298.3 304.1L299.5 304.6L300.7 305.0L301.9 305.5L303.0 305.8L304.1 306.2L305.2 306.6L306.3 307.0L307.4 307.4L308.7 307.8L309.9 308.2L311.1 308.6L312.3 309.0L313.5 309.4L314.6 310.0L315.6 310.7L316.7 311.3L317.4 312.4L318.1 313.5L318.7 314.6L319.8 315.0L320.9 315.4L322.0 315.8L321.1 316.7L320.2 317.6L319.3 318.5L320.0 319.4L320.7 320.2L321.4 321.0L322.1 321.9L322.8 322.7L323.6 323.5L324.5 324.2L325.4 325.0L326.2 325.7L327.1 326.5L327.9 327.2L328.7 328.0L327.7 327.8L326.6 327.6L325.5 327.3L324.5 327.1L323.4 326.9L322.4 326.3L321.5 325.8L320.5 325.2L319.5 324.7L318.5 324.1L317.9 323.1L317.3 322.2L316.7 321.2L316.1 320.2L314.7 320.2L313.4 320.2L312.0 320.2L311.1 321.0L310.2 321.9L309.3 322.7L308.4 323.7L307.5 324.7L306.5 324.5L305.4 324.4L304.4 324.2L303.4 324.1L302.2 323.5L301.0 323.0L299.8 322.4L298.6 321.9L297.3 321.9L296.0 321.9L294.7 321.9L293.4 321.9L294.3 321.0L295.2 320.2L296.0 319.4L295.7 318.3L295.3 317.3L295.0 316.2L294.6 315.2L293.7 314.5L292.8 313.9L291.9 313.2L291.0 312.5L290.1 311.9L289.0 311.2L287.9 310.5L286.8 309.9L285.7 309.2L284.6 308.5L283.3 308.3L282.0 308.1L280.8 308.0L280.3 307.1L279.9 306.3L279.4 305.5L278.5 304.7L277.5 303.9L276.6 303.1L275.7 302.3L274.7 301.6M323.5 314.1L324.8 313.9L326.1 313.8L327.5 313.7L328.8 313.5L329.7 312.9L330.7 312.3L331.6 311.7L332.6 311.0L333.5 310.7L334.5 310.5L334.1 311.4L333.7 312.3L333.2 313.3L332.1 313.9L330.9 314.6L329.8 315.3L328.6 316.0L327.3 316.0L326.0 315.9L324.7 315.8L323.4 315.8L323.4 314.9L323.5 314.1M424.7 394.2L425.9 395.1L427.2 396.0L428.5 396.9L429.8 397.8L431.0 398.6L432.3 399.5L433.6 400.4L434.9 401.2L436.2 402.0L437.3 402.2L438.4 402.4L439.5 402.6L440.6 402.8L441.6 403.0L442.7 403.2L443.8 403.4L443.7 404.3L443.7 405.2L443.6 406.1L443.6 407.0L443.5 407.9L444.0 409.0L444.4 410.1L444.8 411.2L444.3 411.8L443.7 412.3L443.1 412.9L442.5 413.4L441.8 412.3L440.9 411.1L439.9 409.9L439.0 408.7L437.7 408.2L436.4 407.6L435.8 406.4L435.3 405.1L434.7 403.9L434.2 402.7L433.6 401.5L432.3 400.4L431.1 399.4L429.8 398.4L428.5 397.3L427.2 396.3L425.9 395.3L424.7 394.2M436.8 411.2L438.1 411.9L439.2 412.6L440.3 413.3L441.5 414.0L441.6 415.0L441.7 416.1L441.9 417.1L442.1 418.1L441.6 418.7L441.1 419.2L440.6 419.8L440.1 420.3L440.0 421.3L439.8 422.3L439.7 423.3L439.6 424.3L439.5 425.3L439.4 426.3L438.9 426.7L438.4 427.1L437.9 427.5L437.4 427.9L436.4 427.6L435.4 427.3L434.4 426.9L433.4 426.6L432.4 426.3L432.4 425.2L432.3 424.1L432.3 423.0L432.3 422.0L432.2 420.9L432.6 420.2L433.0 419.5L433.4 418.8L433.8 418.1L434.2 417.4L434.6 416.8L435.0 416.1L435.5 415.4L435.8 414.5L436.0 413.7L436.3 412.9L436.7 412.1L436.8 411.2M52.2 331.9L52.8 333.1L53.5 334.3L54.2 335.6L54.9 336.8L55.7 338.0L56.4 339.2L57.1 340.4L57.8 341.6L57.7 342.8L57.6 344.0L57.5 345.1L57.4 346.3L57.3 347.4L57.3 348.6L57.3 349.8L57.3 351.1L57.4 352.4L57.4 353.6L57.5 354.9L57.6 356.1L57.6 357.4L57.7 358.6L57.9 359.9L58.0 361.1L58.0 362.3L58.1 363.4L58.2 364.6L58.3 365.8L58.4 366.9L58.5 368.1L57.6 368.4L56.7 368.6L55.9 368.9L55.0 369.2L54.1 369.5L52.9 368.4L51.7 367.2L50.6 366.1L49.4 365.0L48.2 363.9L47.8 362.7L47.5 361.5L47.1 360.3L46.8 359.0L46.5 357.8L46.2 356.6L45.9 355.4L45.6 354.2L45.0 353.0L44.4 351.8L43.9 350.7L43.3 349.5L42.8 348.4L42.2 347.2L42.9 346.5L43.7 345.9L44.4 345.2L45.1 344.5L45.9 343.8L46.6 343.1L47.4 342.5L47.7 341.4L48.1 340.3L48.4 339.3L48.8 338.2L49.2 337.1L49.6 336.1L50.2 335.0L50.9 334.0L51.5 332.9L52.2 331.9M133.4 281.2L133.4 280.0L133.4 278.7L133.5 277.5L133.5 276.2L133.5 275.0L133.6 273.7L133.6 272.5L133.6 271.2L134.7 272.1L135.7 273.0L136.7 273.9L137.8 274.8L138.0 275.9L138.3 276.9L138.6 278.0L138.9 279.0L138.1 279.8L137.2 280.5L136.4 281.3L135.6 282.1L134.5 281.7L133.4 281.2M663.8 237.6L664.6 237.0L665.4 236.4L666.2 235.9L667.0 235.3L667.7 234.8L668.5 234.2L669.6 234.3L670.7 234.3L671.8 234.3L672.9 234.4L674.0 234.4L675.0 234.5M676.5 237.7L675.5 237.4L674.4 237.2L673.3 237.0L672.2 236.7L671.0 236.8L669.8 237.0L668.6 237.1L667.4 237.2L666.2 237.3L665.0 237.4L663.8 237.6M706.0 234.5L706.8 235.1L707.7 235.7L708.5 236.3L709.3 236.9L710.2 237.5L711.0 238.1L711.9 238.7L712.7 239.2L713.5 239.7L714.3 240.2L715.2 240.7L716.0 241.2L716.8 241.8L717.7 242.3L716.4 242.4L715.1 242.5L713.8 242.6L712.6 242.8L711.3 242.9L710.0 243.0L708.7 243.1L708.5 242.0L708.3 240.9L708.1 239.8L708.0 238.7L707.1 238.4L706.3 238.2L705.4 237.9L704.5 237.7M715.0 247.3L716.3 246.5L717.5 245.6L718.8 244.8L720.0 244.0L721.3 243.1L722.4 243.2L723.6 243.3L724.7 243.4L725.8 243.5L727.0 243.6L728.1 243.7L728.8 244.3L729.5 244.9L730.2 245.5L730.9 246.1L731.6 246.7L730.2 247.1L728.9 247.5L727.6 247.9L726.2 248.3L724.9 248.7L723.5 249.1L722.2 249.5L721.1 249.3L719.9 249.1L718.8 249.0L717.7 248.8L716.6 248.6L715.4 248.4L715.0 247.3M705.0 247.3L706.0 247.4L707.0 247.5L708.0 247.6L709.0 247.7L710.1 247.8L709.3 248.3L708.4 248.7L707.5 248.4L706.5 248.1L705.6 247.8L705.0 247.3M734.4 247.0L735.4 247.2L736.4 247.3L737.4 247.4L738.4 247.6L737.7 248.4L736.4 248.4L735.2 248.4L734.0 248.4L734.4 247.0M788.7 166.4L789.6 165.4L790.4 164.3L791.3 163.2L792.2 162.2L793.2 161.2L794.3 160.2L795.4 159.2L796.4 158.2L797.5 157.7L798.6 157.1L799.6 156.5L800.7 155.9L800.3 157.0L799.9 158.0L799.6 159.0L799.2 160.1L799.9 160.4L800.6 160.7L801.4 161.1L802.1 161.4L802.0 162.4L801.9 163.5L801.8 164.6L801.7 165.6L801.6 166.7L800.8 167.9L800.1 169.1L799.5 168.6L798.9 168.2L798.4 167.7L797.8 167.2L796.8 167.6L795.7 167.9L794.6 168.3L794.6 167.4L794.6 166.4L793.6 166.4L792.6 166.4L791.7 166.4L790.7 166.4L789.7 166.4L788.7 166.4M536.4 158.0L537.2 157.9L538.1 157.8L538.9 157.7L539.8 158.3L540.6 158.9L541.4 159.6L542.3 160.2L543.1 160.8L544.0 161.4L544.8 162.1L545.7 162.8L546.6 163.6L547.5 164.3L546.7 164.2L545.9 164.1L545.1 164.0L544.3 163.5L543.4 163.0L542.5 162.4L541.6 161.9L540.7 161.4L539.9 160.9L539.1 160.5L538.3 160.0L537.4 159.6L536.9 158.8L536.4 158.0M482.6 244.8L483.1 244.0L482.2 243.4L481.2 242.8L480.3 242.3L480.0 243.1L479.7 244.0L480.7 244.2L481.6 244.5L482.6 244.8M480.1 240.3L479.3 240.8L478.5 241.2L479.1 240.3L480.1 240.3M475.8 239.2L475.1 238.8L474.5 238.4L475.0 239.5L475.8 239.2M471.8 236.7L470.7 237.0L471.2 237.6L471.8 236.7M904.7 97.1L904.9 96.8L905.1 96.5L905.3 96.2L905.5 95.9L905.7 95.6L905.9 95.2L906.0 94.9L906.2 94.6L906.3 94.3L906.5 94.0L906.6 93.7L906.9 93.7L907.3 93.6L907.6 93.6L908.0 93.6L908.3 93.5L908.6 93.5L909.0 93.5L909.3 93.4L909.6 93.4L910.0 93.3L910.3 93.3L910.6 93.3L911.0 93.2L911.4 93.3L911.8 93.3L912.2 93.4L912.6 93.4L913.0 93.5L913.5 93.5L913.9 93.5L914.3 93.6L914.7 93.6L915.1 93.7L915.6 93.7L915.6 94.0L915.5 94.3L915.5 94.6L915.4 94.9L915.4 95.2L915.3 95.6L915.2 95.9L915.1 96.2L915.0 96.5L914.9 96.8L914.8 97.1L914.6 97.4L914.3 97.6L914.1 97.8L913.9 98.1L913.7 98.3L913.4 98.6L913.2 98.8L912.9 99.1L912.7 99.3L912.4 99.6L912.1 99.8L911.5 99.6L910.9 99.4L910.3 99.2L909.7 99.0L909.2 98.8L908.6 98.6L908.0 98.4L907.4 98.1L906.9 97.9L906.3 97.7L905.7 97.5L905.2 97.3L904.7 97.1M99.8 109.9L100.5 109.1L101.2 108.4L101.9 107.7L102.7 106.9L103.4 106.2L104.1 105.5L104.8 105.0L105.6 104.5L106.3 104.0L107.0 103.5L107.8 103.1L108.5 102.6L109.1 102.3L109.8 101.9L110.4 101.6L111.0 101.3L111.7 101.0L112.3 100.6L112.9 100.3L113.5 100.0L114.0 99.9L114.5 99.8L115.0 99.8L115.4 99.7L115.9 99.6L116.4 99.6L116.9 99.5L117.3 99.4L117.8 99.3L118.3 99.3L118.7 99.2L119.2 99.2L119.7 99.2L120.1 99.1L120.6 99.1L121.0 99.1L121.5 99.0L121.9 99.0L122.4 99.0L122.8 98.9L123.3 98.9L122.9 99.5L122.6 100.1L122.2 100.7L121.8 100.8L121.3 100.9L120.8 101.0L120.3 101.1L119.8 101.2L119.3 101.3L118.8 101.4L118.3 101.5L117.8 101.6L117.3 101.7L116.8 101.9L116.2 102.1L115.7 102.3L115.1 102.5L114.5 102.7L114.0 102.9L113.4 103.1L112.8 103.3L112.3 103.5L111.6 103.9L111.0 104.3L110.3 104.7L109.7 105.1L109.0 105.5L108.4 105.9L107.8 106.5L107.2 107.2L106.6 107.8L106.0 108.5L106.0 109.1L106.0 109.7L106.0 110.3L106.0 110.9L105.5 111.0L104.9 111.1L104.4 111.2L103.8 111.3L103.2 111.4L102.6 111.5L102.2 111.3L101.8 111.0L101.4 110.8L101.0 110.6L100.6 110.3L100.2 110.1L99.8 109.9M143.7 92.3L144.0 92.2L144.3 92.1L144.6 92.0L144.9 91.9L145.2 91.9L145.5 91.8L145.8 91.7L146.1 91.6L146.4 91.6L146.7 91.5L147.2 91.7L147.8 92.0L148.3 92.3L148.8 92.6L149.4 92.9L149.9 93.2L150.5 93.4L151.1 93.7L151.6 94.0L152.2 94.3L152.8 94.6L153.4 94.9L154.0 95.2L154.6 95.5L155.3 95.8L155.9 96.1L155.5 96.2L155.2 96.4L154.9 96.5L154.5 96.7L154.2 96.9L153.8 97.0L153.5 97.2L153.1 97.3L152.8 97.5L152.2 97.3L151.7 97.1L151.2 96.9L150.7 96.7L150.2 96.5L149.7 96.3L149.1 96.2L148.6 96.0L148.2 95.8L147.7 95.6L147.2 95.4L146.7 95.2L146.2 94.7L145.7 94.2L145.1 93.7L144.6 93.2L144.2 92.7L143.7 92.3M420.0 101.7L420.5 101.6L421.1 101.6L421.7 101.5L422.2 101.5L422.8 101.4L423.3 101.3L423.9 101.3L424.4 101.2L425.0 101.2L425.5 101.1L426.1 101.1L426.3 101.2L426.6 101.3L426.8 101.5L427.1 101.6L427.4 101.7L427.6 101.8L427.9 102.0L428.2 102.1L428.4 102.2L427.6 102.5L426.7 102.7L425.9 102.9L425.0 103.2L424.2 103.4L423.3 103.7L422.4 103.9L421.5 104.2L420.7 104.4L419.8 104.6L418.9 104.9L419.0 104.5L419.1 104.2L419.2 103.8L419.3 103.4L419.4 103.1L419.5 102.7L419.7 102.4L419.8 102.0L420.0 101.7M458.2 109.5L458.7 109.5L459.2 109.6L459.7 109.7L460.2 109.7L460.7 109.8L461.2 109.9L461.7 109.9L462.2 110.0L462.7 110.1L462.1 110.2L461.6 110.3L461.0 110.4L460.4 110.5L459.9 110.6L459.3 110.7L459.0 110.4L458.7 110.1L458.5 109.8L458.2 109.5M563.3 105.5L563.9 105.5L564.4 105.5L565.0 105.5L565.6 105.5L566.1 105.5L566.7 105.5L567.2 105.5L567.8 105.5L568.4 105.5L568.9 105.5L569.4 105.4L569.9 105.4L570.3 105.4L570.8 105.3L571.2 105.3L571.7 105.3L572.1 105.2L572.6 105.2L573.1 105.2L573.5 105.1L574.0 105.1M585.4 113.1L584.7 112.9L584.1 112.7L583.4 112.6L582.8 112.6L582.1 112.6L581.5 112.6L580.8 112.6L580.2 112.6L579.6 112.6L578.9 112.6L578.3 112.6L577.7 112.6L577.0 112.6L576.4 112.6L575.2 111.9L574.0 111.3L572.9 110.6L571.7 110.0L570.5 109.3L569.4 108.7L568.2 108.1L567.0 107.5L565.8 106.8L564.5 106.1L563.3 105.5M807.1 105.1L807.3 105.3L807.5 105.5L807.7 105.7L807.9 105.9L808.1 106.1L808.4 106.3L808.6 106.5L808.8 106.7L809.0 106.9L809.2 107.1L809.3 107.4L809.4 107.7L809.5 108.0L809.7 108.3L809.8 108.6L810.0 108.9L810.1 109.2L810.3 109.5L810.5 109.8L810.7 110.1L810.9 110.4L811.1 110.7L811.4 111.0L811.6 111.3L811.9 111.6L812.1 111.9L812.1 112.4L812.1 112.9L812.1 113.4L812.2 113.8L812.2 114.3L812.3 114.8L812.3 115.3L812.4 115.8L812.5 116.3L812.6 116.8L812.8 117.2L813.1 117.6L813.3 118.0L813.6 118.4L813.8 118.8L814.1 119.2L814.4 119.6L814.7 120.1L813.6 120.6L812.6 121.2L811.5 121.8L810.5 122.3L809.4 122.9L808.4 123.5L807.3 124.1L806.2 124.9L805.1 125.8L804.0 126.7L802.9 127.6L801.8 128.5L800.7 129.3L799.9 129.3L799.2 129.3L798.4 129.3L797.6 129.3L796.9 129.3L796.1 129.3L795.3 129.3L794.9 129.0L794.5 128.6L794.1 128.3L793.7 127.9L793.4 127.6L793.0 127.2L792.6 126.8L792.3 126.5L791.9 126.1L791.6 125.8L791.2 125.4L790.6 125.4L789.9 125.3L789.3 125.3L788.6 125.2L788.0 125.2L787.3 125.1L786.7 125.1L786.1 125.0L785.4 125.0L786.4 124.6L787.4 124.3L788.4 124.0L789.4 123.6L790.4 123.3L791.3 122.9L792.3 122.6L793.3 122.3L794.4 121.4L795.5 120.6L796.6 119.7L797.7 118.9L798.9 118.1L800.0 117.2L799.7 116.9L799.3 116.7L799.0 116.4L798.7 116.1L798.4 115.8L798.1 115.6L797.8 115.3L797.5 115.0L797.2 114.7L797.0 114.5L796.7 114.2L796.4 113.9L796.2 113.7L795.9 113.4L795.7 113.1M534.4 109.5L534.2 108.7L533.9 107.9L533.6 107.1L533.2 106.3L532.9 105.5L533.5 105.5L534.0 105.5L534.6 105.5L535.1 105.5L535.7 105.5L536.3 105.5L536.8 105.5L537.4 105.5L538.0 105.5L538.5 105.5L539.1 105.5L539.6 105.5L540.2 105.5L540.8 105.5L541.3 105.5L541.9 105.5L542.5 105.5L543.0 105.5L543.6 105.5L544.2 105.5L544.7 105.5L545.3 105.5L545.8 105.5L546.4 105.5L547.4 106.1L548.5 106.8L549.5 107.5L550.5 108.1L551.6 108.8L552.6 109.5L553.7 110.1L554.7 110.8L555.8 111.5L556.8 112.2L557.9 112.9L558.9 113.6L558.5 113.8L558.1 113.9L557.6 114.1L557.2 114.3L556.8 114.4L556.3 114.6L555.9 114.7L555.4 114.9L555.0 115.1L554.3 115.0L553.7 115.0L553.0 114.9L552.4 114.9L551.7 114.8L551.0 114.8L550.4 114.7L549.7 114.7L549.1 114.6L548.4 114.6L547.8 114.5L547.1 114.5L546.5 114.4L545.8 114.4L545.2 114.3L544.5 114.3L543.9 114.2L543.1 113.8L542.3 113.4L541.5 113.0L540.7 112.6L539.9 112.2L539.1 111.8L538.3 111.4L537.5 111.0L536.7 110.6L536.0 110.2L535.2 109.9L534.4 109.5M554.3 99.3L554.9 99.3L555.4 99.3L556.0 99.4L556.5 99.4L557.0 99.5L557.6 99.5L558.1 99.6L558.6 99.6L559.2 99.7L559.7 99.7L560.3 99.7L560.8 99.8L561.4 99.8L561.9 99.9L562.5 99.9L563.0 100.0L563.6 100.0L564.1 100.0L564.7 100.1L565.2 100.1L565.8 100.2M544.1 90.2L543.9 90.2L543.8 90.3L543.6 90.3L543.4 90.4L543.2 90.4L543.0 90.5L542.8 90.5L542.6 90.6L542.4 90.7L542.2 90.7L542.0 90.8L541.8 90.8L541.6 90.9L541.3 90.9L541.1 91.0L540.9 91.0L540.7 91.1L540.5 91.2L540.2 91.2L540.0 91.3L539.8 91.3L540.3 91.7L540.8 92.1L541.3 92.5L541.8 92.9L542.2 93.3L542.7 93.7L543.1 94.1L543.5 94.6L543.9 95.0L544.2 95.4L544.6 95.8L544.9 96.3L545.7 96.5L546.6 96.8L547.4 97.1L548.3 97.3L549.1 97.6L550.0 97.9L550.8 98.2L551.7 98.4L552.6 98.7L553.5 99.0L554.3 99.3M815.3 100.2L816.2 99.9L817.1 99.7L818.0 99.5L818.9 99.2L819.7 99.0L820.6 98.8L821.5 98.5L822.3 98.3L823.2 98.1L824.0 97.8L824.9 97.6L825.7 97.4L826.6 97.2L827.4 96.9L828.3 96.7L829.1 96.5L829.9 96.3L830.8 96.0L831.7 95.7L832.6 95.4L833.5 95.2L834.4 94.9L835.2 94.6L836.1 94.4L837.0 94.1L837.9 93.8L838.7 93.6L839.6 93.3L840.4 93.1L841.3 92.8L842.1 92.5L842.9 92.3L843.8 92.0L844.6 91.8L845.4 91.5L846.2 91.3L847.0 91.0L847.8 90.8L848.6 90.5L848.5 90.5L848.3 90.4L848.2 90.3L848.0 90.2L847.9 90.1L847.8 90.0L847.6 89.9L847.5 89.8L847.4 89.7L847.3 89.7L847.2 89.6L847.0 89.5L846.9 89.4L846.8 89.3L846.7 89.2L846.6 89.1L846.5 89.1L846.1 89.1L845.7 89.2L845.2 89.2L844.8 89.3L844.3 89.3L843.9 89.4L843.4 89.4L843.0 89.5L842.5 89.5L842.1 89.6L841.6 89.6L841.2 89.7L840.7 89.7L840.2 89.8L839.8 89.8L839.3 89.9L838.8 90.0L838.4 90.0L837.9 90.1L837.4 90.1L836.9 90.2M525.0 108.7L525.2 108.2L525.4 107.7L525.7 107.2L525.9 106.8L526.1 106.3L526.3 105.8L526.5 105.4L526.7 104.9L526.8 104.5L527.0 104.0L527.1 103.5L527.7 103.7L528.4 103.9L529.0 104.1L529.6 104.3L530.3 104.4L530.9 104.6L531.5 104.8L532.2 105.0L532.8 105.1L533.5 105.3L534.1 105.5L534.8 105.7L535.4 105.9L535.2 106.2L534.9 106.5L534.6 106.8L534.3 107.2L534.0 107.5L533.7 107.8L533.4 108.1L533.0 108.5L532.7 108.8L532.4 109.1L532.0 109.5L531.4 109.4L530.8 109.3L530.2 109.3L529.7 109.2L529.1 109.1L528.5 109.1L527.9 109.0L527.3 108.9L526.7 108.9L526.1 108.8L525.6 108.7L525.0 108.7M571.5 103.5L571.0 103.5L570.4 103.5L569.9 103.5L569.3 103.5L568.8 103.5L568.3 103.5L567.7 103.5L567.2 103.5L566.6 103.5L566.1 103.5L565.5 103.5L565.0 103.5L564.5 103.5L563.9 103.5L563.4 103.5L562.8 103.5L562.3 103.5L561.8 103.5L561.2 103.5L560.7 103.5L560.1 103.5L559.6 103.5L559.1 103.5L558.5 103.5L557.5 103.1L556.4 102.7L555.4 102.3L554.3 101.9L553.3 101.4L552.3 101.0L551.3 100.6L550.3 100.2L549.2 99.8L549.7 99.8L550.2 99.8L550.7 99.8L551.2 99.8L551.7 99.8L552.2 99.8L552.7 99.8L553.2 99.8L553.7 99.8L554.2 99.8L554.7 99.8L555.2 99.8L555.7 99.8L556.2 99.8L556.7 99.8L557.2 99.8L557.7 99.8L558.2 99.8L558.7 99.8L559.2 99.8L559.7 99.8L560.2 99.8L560.6 99.8L561.1 99.8L561.6 99.8L562.1 99.8L562.6 99.8L563.1 99.8L564.5 100.4L565.9 101.0L567.3 101.7L568.7 102.3L570.1 102.9L571.5 103.5M597.8 125.7L596.7 125.2L595.6 124.6L594.5 124.1L593.5 123.6L592.4 123.1L591.3 122.6L590.2 122.1L589.1 121.7L588.1 121.2L588.0 121.7L588.0 122.3L588.0 122.9L587.9 123.5L587.9 124.0L587.8 124.6L587.7 125.2L588.4 125.2L589.2 125.3L589.9 125.3L590.6 125.3L591.3 125.4L592.0 125.4L592.8 125.4L593.5 125.5L594.2 125.5L594.9 125.5L595.7 125.6L596.4 125.6L597.1 125.6L597.8 125.7M688.7 441.6L689.6 441.4L690.6 441.2L691.5 440.9L692.4 440.7L693.4 440.5L694.3 440.3L695.2 440.0L694.9 440.8L694.6 441.6L693.7 441.9L692.7 442.2L691.7 442.6L690.7 442.9L690.2 442.6L689.7 442.2L689.2 441.9L688.7 441.6M673.5 443.7L673.9 444.3L674.3 444.9L674.7 445.5L675.1 446.0L675.5 446.6L675.9 447.2L676.3 447.8L676.6 448.4L677.0 449.0L676.1 449.2L675.3 449.5L674.4 449.8L673.6 450.0L672.7 450.3L672.0 450.2L671.2 450.1L670.5 450.1L669.8 450.0L669.0 449.9L668.3 449.9L667.5 449.8L666.8 449.8L666.4 449.1L666.0 448.5L665.6 447.9L665.2 447.2L664.7 446.6L664.3 446.0L665.2 445.7L666.1 445.5L667.0 445.2L667.9 444.9L668.9 444.7L669.8 444.4L670.7 444.2L671.6 444.0L672.6 443.8L673.5 443.7M934.6 193.3L935.6 193.1L936.5 192.9L937.5 192.7L938.4 192.5L939.4 192.3L940.3 192.1L941.3 191.9L941.3 193.0L941.3 194.1L941.3 195.2L941.4 196.4L940.2 195.8L939.1 195.3L938.0 194.8L936.8 194.3L935.7 193.8L934.6 193.3M923.6 184.4L924.5 184.4L925.3 184.4L926.2 184.4L927.0 184.4L927.1 185.5L927.3 186.6L927.4 187.7L927.6 188.8L927.7 190.0L926.9 190.0L926.0 190.0L925.2 190.0L924.8 188.8L924.5 187.7L924.2 186.6L923.9 185.5L923.6 184.4M923.9 180.2L924.6 179.6L925.4 178.9L925.6 179.8L925.8 180.7L926.0 181.6L925.7 182.5L925.4 183.3L924.8 182.6L924.1 181.9L924.0 181.1L923.9 180.2M961.4 200.3L962.5 200.3L963.6 200.3L964.6 200.3L965.7 200.3L966.7 200.3L967.8 200.3L967.1 200.5L966.3 200.8L965.5 201.1L964.8 201.4L963.7 201.0L962.6 200.6L961.4 200.3M982.3 202.2L982.2 201.5L982.1 200.8L982.9 200.5L983.7 200.1L984.6 199.8L985.4 199.5L986.2 199.1L986.0 200.3L985.8 201.4L985.1 201.6L984.5 201.9L983.9 202.2L983.1 202.2L982.3 202.2M525.2 108.7L525.3 108.1L525.3 107.5L525.3 106.9L525.3 106.3L525.3 105.7L525.3 105.1L525.8 104.9L526.2 104.8L526.6 104.6L527.0 104.4L527.4 104.3L527.8 104.1L528.2 103.9L529.0 104.3L529.7 104.6L530.4 105.0L531.1 105.3L531.9 105.7L532.6 106.1L532.6 106.6L532.5 107.2L532.4 107.8L532.3 108.3L532.2 108.9L532.0 109.5L531.6 109.6L531.1 109.7L530.6 109.8L530.1 109.9L529.7 110.0L529.2 110.2L528.7 110.3L528.0 110.0L527.3 109.6L526.6 109.3L525.9 109.0L525.2 108.7M535.6 111.1L534.9 110.3L534.3 109.5L533.6 108.7L532.9 107.9L533.3 107.6L533.6 107.4L534.0 107.2L534.3 107.0L534.7 106.7L535.0 106.5L535.4 106.3L535.7 106.1L536.0 105.9L536.6 105.9L537.1 105.9L537.7 105.9L538.3 105.9L538.8 105.9L539.4 105.9L540.0 105.9L540.5 105.9L541.1 105.9L541.7 105.9L542.3 105.9L542.8 105.9L543.4 105.9L544.0 105.9L544.5 105.9L545.1 105.9L545.9 106.3L546.7 106.7L547.5 107.1L548.3 107.5L549.2 107.9L550.2 108.3L551.1 108.7L552.0 109.2L553.0 109.6L553.9 110.0L554.8 110.5L555.8 110.9L556.8 111.8L557.9 112.7L558.9 113.6L558.5 113.8L558.1 113.9L557.7 114.1L557.2 114.2L556.8 114.4L556.4 114.5L555.9 114.7L555.5 114.9L554.8 114.8L554.2 114.7L553.6 114.7L552.9 114.6L552.3 114.5L551.6 114.4L551.0 114.4L550.4 114.3L549.7 114.2L549.1 114.3L548.5 114.3L547.9 114.3L547.3 114.4L546.7 114.4L546.1 114.5L545.5 114.5L544.9 114.5L544.3 114.6L543.7 114.6L543.1 114.7L542.4 114.4L541.7 114.2L540.9 113.9L540.2 113.7L539.5 113.5L538.8 113.2L538.1 113.0L537.4 112.8L536.8 112.2L536.2 111.7L535.6 111.1M551.2 107.5L551.0 106.8L550.7 106.1L550.3 105.5L550.8 105.4L551.2 105.3L551.6 105.3L552.1 105.2L552.5 105.2L552.9 105.1L553.3 105.0L553.8 105.0L554.2 104.9L555.2 105.5L556.2 106.2L557.2 106.8L558.3 107.5L558.4 108.0L558.5 108.5L558.6 109.0L558.7 109.5L558.0 109.4L557.4 109.3L556.8 109.2L556.2 109.1L555.6 109.0L555.0 108.9L554.4 108.9L553.6 108.5L552.8 108.2L552.0 107.8L551.2 107.5M560.9 108.5L560.0 107.7L559.0 107.0L558.1 106.2L557.1 105.5L557.5 105.4L558.0 105.3L558.4 105.3L558.8 105.2L559.2 105.1L559.6 105.1L560.1 105.0L560.5 104.9L560.9 104.8L561.3 104.8L561.7 104.7L561.8 105.1L561.9 105.5L562.0 106.0L562.1 106.4L562.1 106.8L562.2 107.2L562.2 107.7L561.9 107.9L561.6 108.1L561.3 108.3L560.9 108.5M563.7 115.3L563.5 114.7L563.2 114.0L562.9 113.4L562.6 112.8L563.4 113.0L564.2 113.2L565.0 113.5L565.7 113.7L566.5 114.0L567.3 114.2L566.9 114.4L566.4 114.5L566.0 114.6L565.5 114.8L565.1 114.9L564.7 115.0L564.2 115.2L563.7 115.3M571.5 103.5L570.0 102.7L568.6 101.8L567.1 101.0L565.6 100.2L565.0 100.2L564.5 100.1L564.0 100.1L563.5 100.1L562.9 100.1L562.4 100.1L561.9 100.0L561.4 100.0L560.9 100.0L560.3 100.0L559.8 100.0L559.3 99.9L558.8 99.9L558.3 99.9L557.7 99.9L557.2 99.8L556.7 99.8L556.2 99.8L555.8 99.9L555.4 99.9L555.1 100.0L554.7 100.0L554.3 100.1L553.9 100.2L553.5 100.2L553.1 100.3L552.8 100.3L552.4 100.4L552.0 100.4L551.6 100.5L551.2 100.6L550.8 100.6L550.4 100.7L550.0 100.7L550.8 101.0L551.7 101.3L552.5 101.6L553.4 101.8L554.2 102.1L555.1 102.4L555.9 102.7L556.8 103.0L557.6 103.3L558.5 103.5L559.1 103.5L559.6 103.5L560.1 103.5L560.7 103.5L561.2 103.5L561.8 103.5L562.3 103.5L562.8 103.5L563.4 103.5L563.9 103.5L564.5 103.5L565.0 103.5L565.5 103.5L566.1 103.5L566.6 103.5L567.2 103.5L567.7 103.5L568.3 103.5L568.8 103.5L569.3 103.5L569.9 103.5L570.4 103.5L571.0 103.5L571.5 103.5M554.7 99.8L555.2 99.8L555.7 99.8L556.2 99.8L556.7 99.8L557.2 99.8L557.7 99.8L558.2 99.8L558.7 99.8L559.2 99.8L559.7 99.8L560.2 99.8L560.6 99.8L561.1 99.8L561.6 99.8L562.1 99.8L562.6 99.8L563.1 99.8L563.6 99.8L564.1 99.8L564.6 99.8L565.1 99.8M541.0 89.1L540.9 89.1L540.8 89.2L540.7 89.3L540.6 89.3L540.4 89.4L540.3 89.5L540.2 89.5L540.1 89.6L539.9 89.7L539.8 89.8L539.6 89.8L539.5 89.9L539.4 90.0L539.2 90.0L539.1 90.1L538.9 90.2L538.7 90.3L538.6 90.3L538.4 90.4L538.3 90.5L538.1 90.5L539.0 91.1L539.9 91.6L540.7 92.1L541.5 92.6L542.3 93.2L543.1 93.7L544.1 94.1L545.2 94.5L546.2 94.8L547.3 95.2L548.4 95.6L549.5 96.0L550.5 96.4L551.6 96.7L552.7 97.1L553.1 97.6L553.4 98.0L553.8 98.5L554.1 98.9L554.4 99.4L554.7 99.8M816.0 99.8L817.0 99.5L818.1 99.1L819.1 98.8L820.1 98.5L821.2 98.2L822.2 97.8L823.2 97.5L824.2 97.2L825.2 96.9L826.2 96.6L827.2 96.3L827.9 96.1L828.6 95.9L829.3 95.8L830.0 95.6L830.7 95.5L831.4 95.3L832.1 95.2L832.8 95.0L833.4 94.9L834.1 94.7L834.8 94.6L835.6 94.3L836.4 94.1L837.2 93.9L838.0 93.7L838.8 93.5L839.6 93.2L840.3 93.0L841.1 92.8L841.9 92.6L842.7 92.4L843.4 92.2L844.2 91.9L844.9 91.7L845.7 91.5L846.4 91.3L846.4 91.1L846.5 91.0L846.5 90.8L846.6 90.6L846.6 90.4L846.7 90.2L846.8 90.1L846.8 89.9L846.9 89.7L847.0 89.5L847.1 89.3L846.8 89.3L846.6 89.3L846.3 89.3L846.0 89.3L845.7 89.3L845.4 89.3L845.1 89.3L844.8 89.3L844.6 89.2L844.3 89.2L844.0 89.2L843.7 89.2L843.4 89.2L843.1 89.2L842.9 89.2L842.6 89.2L842.3 89.1L842.0 89.1L841.7 89.1L841.5 89.1L841.2 89.1L840.9 89.1L840.6 89.1L840.3 89.1L840.1 89.1M538.4 92.9L538.6 92.8L538.7 92.7L538.9 92.6L539.1 92.5L539.3 92.4L539.5 92.3L539.6 92.3L539.8 92.2L540.0 92.1L540.1 92.0L540.3 91.9L540.4 91.8L541.2 92.0L542.0 92.2L542.9 92.5L543.7 92.7L544.5 92.9L545.3 93.1L546.1 93.4L547.0 93.6L547.8 93.8L548.7 94.1L548.7 94.2L548.7 94.4L548.7 94.6L548.6 94.8L548.6 95.0L548.6 95.2L548.5 95.4L548.5 95.6L548.4 95.8L548.4 96.0L548.3 96.2L548.2 96.4L548.2 96.6L547.2 96.2L546.2 95.8L545.2 95.5L544.2 95.1L543.2 94.7L542.2 94.4L541.3 94.0L540.3 93.6L539.3 93.3L538.4 92.9M541.9 101.7L541.1 101.4L540.4 101.1L539.7 100.8L538.9 100.6L538.2 100.3L537.5 100.1L536.7 99.8L536.0 99.5L535.3 99.3L534.9 99.3L534.5 99.3L534.0 99.4L533.6 99.4L533.2 99.4L532.8 99.5L532.3 99.5L531.9 99.6L531.5 99.6L531.1 99.6L530.6 99.7L530.2 99.7L529.8 99.7L529.4 99.8L528.9 99.8L529.1 100.4L529.4 100.9L529.6 101.5L529.7 102.0L530.3 102.2L530.9 102.3L531.5 102.4L532.1 102.5L532.7 102.7L533.3 102.8L533.8 102.9L534.4 103.0L535.0 103.2L535.6 103.3L536.3 103.4L536.9 103.5L537.2 103.4L537.6 103.3L538.0 103.1L538.4 103.0L538.7 102.9L539.1 102.7L539.5 102.6L539.8 102.5L540.2 102.3L540.5 102.2L540.9 102.1L541.2 101.9L541.6 101.8L541.9 101.7M525.0 98.0L525.5 98.2L526.0 98.4L526.6 98.5L527.1 98.7L527.6 98.9L527.4 99.1L527.2 99.4L526.9 99.6L526.7 99.8L526.4 100.0L526.2 100.3L525.9 100.5L525.7 100.7L525.1 100.6L524.6 100.4L524.1 100.3L523.5 100.1L523.0 100.0L522.5 99.8L522.8 99.6L523.1 99.4L523.4 99.2L523.6 99.0L523.9 98.8L524.2 98.6L524.5 98.4L524.7 98.2L525.0 98.0M548.5 100.7L547.8 100.5L547.2 100.4L546.6 100.2L545.9 100.0L545.3 99.8L545.1 100.0L544.9 100.2L544.7 100.4L544.5 100.6L544.3 100.8L544.1 101.0L543.9 101.2L543.7 101.4L543.5 101.7L544.1 101.8L544.7 101.9L545.3 102.1L546.0 102.2L546.6 102.4L547.2 102.5L547.9 102.7L548.5 102.8L549.2 103.0L549.1 102.5L548.9 102.1L548.8 101.6L548.6 101.2L548.5 100.7M555.1 102.6L554.4 102.4L553.7 102.2L553.1 102.0L552.4 101.8L551.8 101.7L552.0 102.1L552.2 102.5L552.4 103.0L552.8 102.9L553.2 102.9L553.6 102.8L553.9 102.8L554.3 102.7L554.7 102.6L555.1 102.6M538.8 95.7L538.3 95.7L537.9 95.7L537.5 95.6L537.0 95.6L536.6 95.5L536.1 95.5L535.7 95.4L535.2 95.4L536.2 95.8L537.1 96.3L538.1 96.7L539.1 97.1L540.0 97.6L541.0 98.0L541.3 97.9L541.6 97.8L542.0 97.8L542.3 97.7L542.6 97.6L542.9 97.5L543.2 97.4L543.5 97.4L543.8 97.3L544.1 97.2L544.4 97.1L543.8 97.0L543.2 96.8L542.5 96.7L541.9 96.5L541.3 96.4L540.6 96.2L540.0 96.0L539.4 95.9L538.8 95.7M531.2 96.8L531.2 96.5L531.3 96.3L531.3 96.0L531.3 95.7L531.9 95.9L532.4 96.0L532.9 96.1L533.5 96.3L534.0 96.4L534.6 96.5L535.2 96.6L535.7 96.8L535.3 96.8L534.8 96.8L534.4 96.8L533.9 96.8L533.4 96.8L533.0 96.8L532.5 96.8L532.1 96.8L531.6 96.8L531.2 96.8M574.5 105.4L573.8 105.2L573.2 105.1L572.5 104.9L573.0 104.9L573.4 105.0L573.8 105.0M807.3 106.5L807.2 106.2L807.0 106.0L806.9 105.8L806.7 105.6L806.6 105.4M807.3 105.0L807.7 105.0L808.1 105.1L808.6 105.1L809.0 105.1L809.4 105.2L809.9 105.2L810.3 105.2L810.7 105.3L809.9 105.6L809.0 105.9L808.2 106.2L807.3 106.5M600.3 128.9L599.4 128.6L598.5 128.3L597.6 127.9L598.3 129.0L599.1 130.0L599.4 129.7L599.7 129.5L600.0 129.2L600.3 128.9M229.5 321.0L230.7 321.3L231.9 321.6L233.1 321.9L232.1 322.2L231.1 322.6L230.1 323.0L229.8 322.0L229.5 321.0M233.9 321.6L234.9 321.6L235.9 321.6L235.6 322.4L235.3 323.3L234.6 322.4L233.9 321.6M236.1 322.2L237.5 322.0L238.8 321.8L240.1 321.7L241.4 321.5L242.8 321.3L242.1 322.1L241.4 322.8L240.8 323.5L239.4 323.5L238.0 323.5L236.7 323.5L236.4 322.9L236.1 322.2M244.4 322.2L245.6 322.0L246.9 321.9L248.2 321.8L249.4 321.7L250.7 321.6L252.0 321.4L253.2 321.3L252.5 322.2L251.8 323.0L250.6 323.0L249.5 323.1L248.3 323.1L247.2 323.2L246.1 323.2L244.9 323.3L244.4 322.2M242.1 325.2L243.3 325.6L244.6 325.9L245.8 326.3L247.0 326.6L245.8 326.3L244.6 326.1L243.5 325.8L242.8 325.5L242.1 325.2M254.4 327.2L255.4 326.3L256.5 325.5L257.6 324.7L258.6 323.8L259.9 323.4L261.2 322.9L262.5 322.5L263.8 322.0L265.1 321.6L264.3 322.2L263.5 322.7L262.8 323.3L261.6 323.9L260.5 324.6L259.4 325.3L258.3 325.9L257.1 326.6L256.2 326.8L255.3 327.0L254.4 327.2M267.4 307.4L268.5 307.2L269.7 307.0L270.8 306.7L271.9 306.5L273.0 306.3L273.9 306.9L274.8 307.6L275.7 308.2L274.7 308.3L273.7 308.4L272.6 308.4L271.6 308.5L270.5 308.2L269.5 308.0L268.5 307.7L267.4 307.4M261.9 307.1L263.0 307.3L264.1 307.5L265.2 307.7L264.6 308.4L264.1 309.1L263.3 308.4L262.6 307.8L261.9 307.1M266.1 295.7L266.4 294.7L266.7 293.6L267.1 292.6L267.4 291.5L268.1 292.5L268.7 293.4L269.4 294.3L269.0 295.3L268.5 296.2L268.1 297.1L268.3 297.8L268.6 298.5M266.9 298.5L266.6 297.6L266.4 296.6L266.1 295.7M268.6 298.5L269.0 299.6L269.4 300.7L268.3 300.3L267.2 299.9L267.0 299.2L266.9 298.5M330.6 305.5L331.8 306.1L332.9 306.8L334.1 307.4L334.8 308.3L335.6 309.2L336.3 310.1L337.0 311.0L336.1 311.9L335.3 311.0L334.4 310.2L333.5 309.4L332.7 308.5L331.9 307.8L331.1 307.0L330.3 306.3L330.6 305.5M340.8 312.4L341.6 313.3L342.3 314.1L343.1 314.9L343.9 315.8L344.6 316.6L343.9 317.0L343.1 317.4L342.7 316.4L342.2 315.4L341.7 314.4L341.3 313.4L340.8 312.4M353.4 324.4L354.0 324.7L354.7 324.9M354.5 326.0L353.9 326.1L353.7 325.2L353.4 324.4M359.6 324.9L360.8 325.3L362.0 325.8L360.9 325.9L359.9 326.0M360.3 321.6L361.1 322.4L362.0 323.3L362.9 324.1L363.7 324.9L363.0 324.7L362.2 324.4L361.6 323.5L360.9 322.5L360.3 321.6M362.8 326.9L364.1 327.4L365.5 328.0L366.8 328.6L365.6 328.3L364.5 328.0L363.6 327.4L362.8 326.9M351.1 320.2L352.3 320.9L353.4 321.5L354.5 322.2L353.4 322.0L352.3 321.9L351.7 321.0L351.1 320.2M381.3 339.1L382.4 339.7L383.5 340.2L383.2 341.1L383.0 341.9L382.4 341.0L381.8 340.1L381.3 339.1M384.4 342.8L385.4 343.3L386.3 343.9L386.0 344.3L385.6 344.7L385.0 343.7L384.4 342.8M380.7 354.7L382.1 355.5L383.4 356.3L384.7 357.1L386.1 357.9L387.5 358.7L388.8 359.5L390.2 360.3L391.5 361.1L391.0 361.4L390.5 361.7L389.1 360.8L387.7 359.9L386.2 359.0L384.8 358.2L383.4 357.3L382.0 356.4L381.4 355.6L380.7 354.7M412.5 347.2L413.8 347.3L415.1 347.4L416.3 347.5L416.1 348.5L415.9 349.4L414.6 349.2L413.3 348.9L412.9 348.0L412.5 347.2M415.2 344.7L416.1 344.3L416.9 343.9L417.8 343.4L418.7 343.0L418.2 343.8L417.7 344.5L417.2 345.3L416.2 345.0L415.2 344.7M137.7 433.5L138.6 433.7L139.5 433.9L140.4 434.1L141.3 434.3L140.9 434.9L140.5 435.5L140.1 436.1L139.3 435.9L138.5 435.6L138.1 434.6L137.7 433.5M713.2 229.2L713.5 230.2L713.7 231.1L713.0 231.7L712.2 232.3L712.2 231.3L712.1 230.3L713.2 229.2M713.8 224.2L714.7 224.3L715.7 224.4L716.6 224.5L715.7 224.6L714.7 224.7L714.3 224.5L713.8 224.2M718.3 223.6L718.2 224.6L718.0 225.6L717.6 225.2L717.2 224.7L718.3 223.6M717.8 227.5L718.1 228.2L718.4 228.9L717.5 229.8L717.6 228.6L717.8 227.5M743.5 268.4L744.7 268.4L745.9 268.4L745.8 269.4L745.6 270.4L744.4 270.4L743.1 270.4L743.3 269.4L743.5 268.4M236.3 275.1L237.0 274.1L237.7 273.0L238.4 272.0L239.1 270.9L239.7 269.9L240.4 268.9L241.0 267.8L241.7 266.8L242.2 267.6L242.7 268.4L242.0 269.5L241.3 270.5L240.5 271.5L239.8 272.6L239.0 273.6L238.3 274.6L237.5 275.7L236.3 275.1M243.5 260.9L244.5 261.2L245.4 261.5L246.4 261.8L246.2 262.7L246.1 263.6L246.0 264.5L245.1 264.1L244.2 263.7L244.0 262.8L243.8 261.9L243.5 260.9M248.0 265.4L249.2 266.0L250.4 266.7L251.6 267.3L250.7 268.0L249.8 268.6L248.8 269.3L248.6 268.0L248.3 266.7L248.0 265.4M249.8 268.2L250.8 268.5L251.9 268.9L253.0 269.3L252.9 270.6L252.7 271.9L252.6 273.2L251.9 272.4L251.2 271.7L250.4 270.9L250.2 270.0L250.0 269.1L249.8 268.2M252.1 267.3L253.3 267.7L254.4 268.2L254.2 269.2L253.9 270.3L253.6 271.3L253.4 272.3L253.1 271.1L252.8 269.8L252.4 268.6L252.1 267.3M254.7 266.2L255.6 266.8L256.5 267.3L257.4 267.9L257.4 268.9L257.3 269.9L257.3 270.9L256.6 270.1L256.0 269.3L255.5 268.3L255.1 267.2L254.7 266.2M107.0 92.3L107.3 92.3L107.6 92.4L107.8 92.4L108.2 92.5L108.5 92.5L108.8 92.6L109.1 92.6L109.4 92.7L109.7 92.7L110.0 92.8L110.3 92.8L110.6 92.9L110.9 92.9L110.3 93.2L109.7 93.5L109.1 93.8L108.5 94.1L108.3 93.9L108.2 93.7L108.0 93.5L107.8 93.3L107.7 93.2L107.5 93.0L107.4 92.8L107.2 92.6L107.1 92.4L107.0 92.3M423.3 100.4L423.6 100.5L423.8 100.6L424.1 100.7L424.3 100.8L424.6 100.9L424.8 101.0L425.1 101.1L425.4 101.2L425.7 101.3L426.0 101.3L426.3 101.4L426.6 101.5L426.9 101.6L427.2 101.7L426.5 101.8L425.7 102.0L425.0 102.2L424.2 102.4L423.4 102.6L422.6 102.8L421.9 103.0L421.1 103.2L421.4 102.7L421.8 102.2L422.1 101.7L422.5 101.3L422.9 100.8L423.3 100.4M526.2 149.5L527.0 149.6L527.8 149.7L528.6 149.8L529.1 150.9L529.5 152.1L530.0 153.2L530.4 154.4L529.5 153.9L528.6 153.3L527.7 152.8L527.2 151.7L526.7 150.6L526.2 149.5M463.1 126.3L463.8 126.5L464.5 126.7L465.2 126.9L465.8 127.1L466.5 127.3L467.2 127.5L466.5 127.6L465.8 127.7L465.1 127.8L464.5 127.9L464.0 127.4L463.6 126.9L463.1 126.3M469.2 134.0L469.6 134.4L470.1 134.7L470.6 135.0L469.9 135.1L469.1 135.2L468.4 135.2L468.8 134.6L469.2 134.0M488.9 142.3L489.5 141.8L490.2 141.3L490.8 140.8L491.5 140.3L490.9 140.1L490.4 140.0L489.8 139.8L489.1 140.3L488.4 140.8L487.7 141.3L488.3 141.8L488.9 142.3M72.4 169.4L73.3 169.1L74.1 168.9L75.0 168.7L75.9 168.5L76.8 168.2L77.7 168.0L78.3 168.4L79.0 168.7L79.6 169.0L80.3 169.4L80.0 170.7L79.7 172.1L79.4 173.4L78.5 173.7L77.7 174.0L76.8 174.2L75.9 174.5L75.0 174.8L75.1 175.8L75.1 176.8L75.1 177.8L75.1 178.9L75.6 179.8L76.1 180.7L76.6 181.6L77.2 182.5L77.9 183.3L78.5 184.1L79.1 184.9L78.4 186.0L77.7 187.0L77.0 188.0L76.2 189.0L75.5 190.0L75.6 191.0L75.8 192.0L75.9 193.1L76.1 194.1L74.9 194.5L73.8 194.8L72.7 195.1L71.6 195.4L70.4 195.8L69.3 196.1L68.5 195.6L67.8 195.2L67.0 194.7L66.3 194.3L65.6 193.9L66.2 192.5L66.9 191.2L67.6 189.8L68.2 188.5L68.9 187.2L68.8 186.2L68.7 185.2L68.5 184.2L68.4 183.2L68.2 182.2L67.8 181.3L67.5 180.5L67.2 179.7L66.9 178.9L66.9 177.8L66.9 176.8L66.9 175.8L66.9 174.8L67.6 173.6L68.2 172.4L68.9 171.2L69.7 170.8L70.6 170.3L71.5 169.8L72.4 169.4"/>
</g>
<path fill="none" stroke="#000" stroke-width="1.4" stroke-linejoin="miter" d="M217.41 515.59L176.49 509.37L153.08 499.87L134.13 488.55L117.96 475.84L103.91 462.01L91.61 447.23L80.88 431.65L71.58 415.38L59.80 398.69L48.69 381.99L39.43 365.29L32.13 348.60L26.85 331.90L23.66 315.20L22.59 298.50L23.20 281.80L25.02 265.10L28.04 248.40L32.22 231.71L37.51 215.01L43.85 198.31L50.58 181.62L55.90 165.35L62.03 149.77L69.06 134.99L77.09 121.16L86.33 108.45L97.16 97.13L110.54 87.63L133.92 81.41L133.92 81.41L152.39 83.88L163.14 87.63L172.04 92.11L179.87 97.13L186.93 102.60L193.40 108.45L199.39 114.65L204.95 121.16L210.14 127.95L214.99 134.99L219.53 142.27L223.77 149.77L227.74 157.47L231.44 165.35L234.88 173.41L238.08 181.62L242.06 189.96L246.49 198.31L250.62 206.66L254.43 215.01L257.90 223.36L261.04 231.71L263.83 240.05L266.26 248.40L268.33 256.75L270.03 265.10L271.36 273.45L272.31 281.80L272.88 290.15L273.07 298.50L273.07 298.50L273.38 290.15L274.29 281.80L275.81 273.45L277.94 265.10L280.66 256.75L283.97 248.40L287.86 240.05L292.32 231.71L297.34 223.36L302.90 215.01L308.99 206.66L315.59 198.31L322.69 189.96L329.05 181.62L334.17 173.41L339.68 165.35L345.61 157.47L351.95 149.77L358.74 142.27L366.00 134.99L373.76 127.95L382.06 121.16L390.96 114.65L400.54 108.45L410.90 102.60L422.20 97.13L434.72 92.11L448.96 87.63L466.16 83.88L495.72 81.41L495.72 81.41L521.59 83.88L536.63 87.63L549.10 92.11L560.05 97.13L569.94 102.60L579.00 108.45L587.38 114.65L595.17 121.16L602.43 127.95L609.22 134.99L615.57 142.27L621.52 149.77L627.07 157.47L632.25 165.35L637.07 173.41L641.55 181.62L647.12 189.96L653.33 198.31L659.11 206.66L664.44 215.01L669.30 223.36L673.69 231.71L677.60 240.05L681.00 248.40L683.90 256.75L686.28 265.10L688.14 273.45L689.47 281.80L690.27 290.15L690.54 298.50L690.54 298.50L690.80 290.15L691.60 281.80L692.93 273.45L694.79 265.10L697.17 256.75L700.07 248.40L703.48 240.05L707.38 231.71L711.77 223.36L716.64 215.01L721.97 206.66L727.74 198.31L733.95 189.96L739.52 181.62L744.00 173.41L748.82 165.35L754.00 157.47L759.56 149.77L765.50 142.27L771.85 134.99L778.64 127.95L785.91 121.16L793.69 114.65L802.07 108.45L811.13 102.60L821.02 97.13L831.98 92.11L844.44 87.63L859.49 83.88L885.35 81.41L885.35 81.41L914.58 87.63L931.30 97.13L944.84 108.45L956.39 121.16L966.43 134.99L975.21 149.77L982.87 165.35L989.52 181.62L997.93 198.31L1005.87 215.01L1012.48 231.71L1017.70 248.40L1021.47 265.10L1023.75 281.80L1024.51 298.50L1024.05 315.20L1022.68 331.90L1020.42 348.60L1017.29 365.29L1013.32 381.99L1008.56 398.69L1003.51 415.38L999.53 431.65L994.93 447.23L989.66 462.01L983.64 475.84L976.71 488.55L968.59 499.87L958.55 509.37L941.02 515.59L941.02 515.59L918.84 513.12L905.94 509.37L895.26 504.89L885.87 499.87L877.40 494.40L869.63 488.55L862.45 482.35L855.77 475.84L849.55 469.05L843.73 462.01L838.28 454.73L833.19 447.23L828.43 439.53L823.99 431.65L819.85 423.59L816.02 415.38L811.24 407.04L805.92 398.69L800.97 390.34L796.40 381.99L792.23 373.64L788.47 365.29L785.12 356.95L782.20 348.60L779.72 340.25L777.68 331.90L776.09 323.55L774.94 315.20L774.26 306.85L774.03 298.50L774.03 298.50L773.76 306.85L772.96 315.20L771.63 323.55L769.77 331.90L767.39 340.25L764.49 348.60L761.09 356.95L757.19 365.29L752.80 373.64L747.93 381.99L742.60 390.34L736.82 398.69L730.61 407.04L725.04 415.38L720.57 423.59L715.74 431.65L710.56 439.53L705.01 447.23L699.07 454.73L692.72 462.01L685.93 469.05L678.66 475.84L670.87 482.35L662.49 488.55L653.43 494.40L643.54 499.87L632.59 504.89L620.13 509.37L605.08 513.12L579.21 515.59L579.21 515.59L549.65 513.12L532.45 509.37L518.21 504.89L505.69 499.87L494.39 494.40L484.03 488.55L474.46 482.35L465.56 475.84L457.25 469.05L449.49 462.01L442.23 454.73L435.44 447.23L429.10 439.53L423.18 431.65L417.66 423.59L412.55 415.38L406.18 407.04L399.09 398.69L392.48 390.34L386.39 381.99L380.83 373.64L375.81 365.29L371.35 356.95L367.46 348.60L364.15 340.25L361.43 331.90L359.31 323.55L357.78 315.20L356.87 306.85L356.56 298.50L356.56 298.50L356.37 306.85L355.80 315.20L354.85 323.55L353.52 331.90L351.82 340.25L349.75 348.60L347.32 356.95L344.53 365.29L341.40 373.64L337.92 381.99L334.11 390.34L329.99 398.69L325.55 407.04L321.57 415.38L318.38 423.59L314.93 431.65L311.23 439.53L307.26 447.23L303.02 454.73L298.48 462.01L293.63 469.05L288.44 475.84L282.88 482.35L276.90 488.55L270.42 494.40L263.36 499.87L255.54 504.89L246.63 509.37L235.89 513.12L217.41 515.59L217.41 515.59Z"/>
<circle cx="523.8" cy="290.2" r="7.8" fill="#00ffff"/>
<circle cx="524.4" cy="289.0" r="7.8" fill="#40bfff"/>
<circle cx="525.0" cy="287.8" r="7.8" fill="#7090ff"/>
<circle cx="525.6" cy="288.3" r="7.8" fill="#b050ff"/>
<circle cx="526.2" cy="289.1" r="7.8" fill="#ff00ff"/>
<rect x="22.9" y="611.7" width="1002.3000000000001" height="51.09999999999991" fill="url(#cg)" stroke="#000" stroke-width="1.4"/>
<line x1="106.3" y1="662.8" x2="106.3" y2="669.8" stroke="#000" stroke-width="1.4"/>
<text x="106.3" y="692.4" font-size="20.8" text-anchor="middle" textLength="43" lengthAdjust="spacingAndGlyphs">0.88</text>
<line x1="284.9" y1="662.8" x2="284.9" y2="669.8" stroke="#000" stroke-width="1.4"/>
<text x="284.9" y="692.4" font-size="20.8" text-anchor="middle" textLength="43" lengthAdjust="spacingAndGlyphs">0.90</text>
<line x1="463.4" y1="662.8" x2="463.4" y2="669.8" stroke="#000" stroke-width="1.4"/>
<text x="463.4" y="692.4" font-size="20.8" text-anchor="middle" textLength="43" lengthAdjust="spacingAndGlyphs">0.92</text>
<line x1="641.9" y1="662.8" x2="641.9" y2="669.8" stroke="#000" stroke-width="1.4"/>
<text x="641.9" y="692.4" font-size="20.8" text-anchor="middle" textLength="43" lengthAdjust="spacingAndGlyphs">0.94</text>
<line x1="820.4" y1="662.8" x2="820.4" y2="669.8" stroke="#000" stroke-width="1.4"/>
<text x="820.4" y="692.4" font-size="20.8" text-anchor="middle" textLength="43" lengthAdjust="spacingAndGlyphs">0.96</text>
<line x1="998.8" y1="662.8" x2="998.8" y2="669.8" stroke="#000" stroke-width="1.4"/>
<text x="998.8" y="692.4" font-size="20.8" text-anchor="middle" textLength="43" lengthAdjust="spacingAndGlyphs">0.98</text>
<text x="523.5" y="720.6" font-size="20.8" text-anchor="middle" textLength="134" lengthAdjust="spacingAndGlyphs">Decimal Year</text>
<text x="923.9" y="718.8" font-size="20.8" textLength="99.2" lengthAdjust="spacingAndGlyphs">+2.024e3</text>
<text x="231.7" y="33.6" font-size="25" textLength="587" lengthAdjust="spacingAndGlyphs">7902136, 5 profiles, 2024-11-14 to 2024-12-25</text>
</svg>
</body></html>
